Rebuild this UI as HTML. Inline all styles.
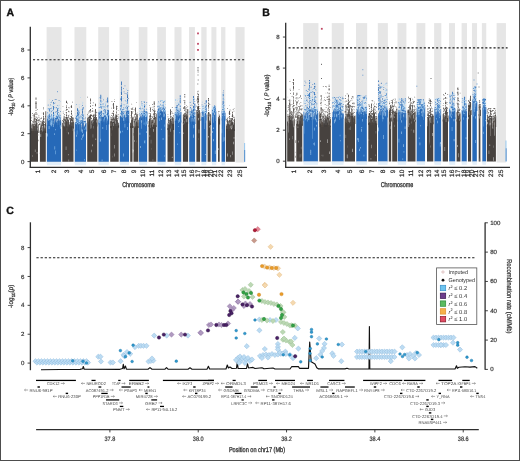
<!DOCTYPE html>
<html><head><meta charset="utf-8"><style>
html,body{margin:0;padding:0;background:#fff;}
body{width:520px;height:461px;overflow:hidden;position:relative;}
svg{display:block;will-change:transform;text-rendering:geometricPrecision;}
.frame{position:absolute;left:0;top:0;width:518px;height:459px;border:1px solid #4d4d4d;pointer-events:none;}
</style></head><body>
<svg width="520" height="461" viewBox="0 0 520 461" font-family='"Liberation Sans", sans-serif'>
<rect width="520" height="461" fill="#fff"/>
<g><rect x="46.60" y="27.10" width="14.90" height="135.40" fill="#e6e6e6"/><rect x="74.50" y="27.10" width="11.80" height="135.40" fill="#e6e6e6"/><rect x="98.20" y="27.10" width="10.90" height="135.40" fill="#e6e6e6"/><rect x="119.50" y="27.10" width="9.80" height="135.40" fill="#e6e6e6"/><rect x="138.70" y="27.10" width="8.70" height="135.40" fill="#e6e6e6"/><rect x="157.20" y="27.10" width="8.70" height="135.40" fill="#e6e6e6"/><rect x="174.50" y="27.10" width="7.00" height="135.40" fill="#e6e6e6"/><rect x="189.00" y="27.10" width="5.90" height="135.40" fill="#e6e6e6"/><rect x="201.30" y="27.10" width="5.30" height="135.40" fill="#e6e6e6"/><rect x="211.40" y="27.10" width="5.00" height="135.40" fill="#e6e6e6"/><rect x="221.10" y="27.10" width="4.30" height="135.40" fill="#e6e6e6"/><rect x="235.50" y="27.10" width="9.10" height="135.40" fill="#e6e6e6"/><path fill="#47423f" d="M31 131h7v30.8h-7zM39.9 131h5.9v30.8h-5.9zM31.4 124h0.8v9h-0.8zM31.9 128.7h0.8v4.3h-0.8zM33.3 125.7h0.8v7.3h-0.8zM34.2 125.8h0.8v7.2h-0.8zM35.1 125h0.8v8h-0.8zM35.5 125.7h0.8v7.3h-0.8zM36.4 119h0.8v14h-0.8zM37.8 124.3h0.8v8.7h-0.8zM40 127.6h0.8v5.4h-0.8zM41.4 123h0.8v10h-0.8zM41.8 121.5h0.8v11.5h-0.8zM42.7 123.4h0.8v9.6h-0.8zM44.1 127.6h0.8v5.4h-0.8zM45.4 111.2h0.8v21.8h-0.8zM35.6 118.8h0.8v1.7h-0.8zM35.6 113.6h0.8v1.4h-0.8zM35.6 111.9h0.8v1.3h-0.8zM35.6 109.9h0.8v0.9h-0.8zM35.6 104.9h0.8v2.4h-0.8zM35.6 102.1h0.8v2h-0.8zM35.6 101.2h0.8v1.6h-0.8zM35.6 97.4h0.8v2.3h-0.8zM43 120.9h0.8v1.7h-0.8zM43 118h0.8v2.5h-0.8zM43 108.4h0.8v0.8h-0.8zM62.3 126.5h11.2v35.3h-11.2zM62.3 122.9h0.8v5.6h-0.8zM63.7 115.8h0.8v12.7h-0.8zM64.1 125.9h0.8v2.6h-0.8zM65.5 119.4h0.8v9.1h-0.8zM65.9 119.5h0.8v9h-0.8zM66.8 116.9h0.8v11.6h-0.8zM68.2 119.6h0.8v8.9h-0.8zM69.1 124.5h0.8v4h-0.8zM70 118.3h0.8v10.2h-0.8zM70.9 122.3h0.8v6.2h-0.8zM71.8 118.8h0.8v9.7h-0.8zM66 115.1h0.8v1.3h-0.8zM66 109.5h0.8v0.9h-0.8zM66 108.7h0.8v1.2h-0.8zM66 102.2h0.8v0.7h-0.8zM71 112.6h0.8v1.3h-0.8zM71 110.5h0.8v1.4h-0.8zM71 107.1h0.8v0.8h-0.8zM87.2 124.5h10.1v37.3h-10.1zM87.2 118.4h0.8v8.1h-0.8zM87.7 117.9h0.8v8.6h-0.8zM92.2 123.2h0.8v3.3h-0.8zM92.6 119.6h0.8v6.9h-0.8zM93.5 114h0.8v12.5h-0.8zM94 120.7h0.8v5.8h-0.8zM94.4 117.2h0.8v9.3h-0.8zM95.8 118h0.8v8.5h-0.8zM96.7 119.4h0.8v7.1h-0.8zM90 116.1h0.8v1.8h-0.8zM90 108.9h0.8v1.4h-0.8zM90 106.2h0.8v0.8h-0.8zM90 105.5h0.8v1.4h-0.8zM95 110.4h0.8v1.3h-0.8zM95 105.1h0.8v1.2h-0.8zM95 103.7h0.8v2.5h-0.8zM110.2 126h8.5v35.8h-8.5zM111.1 120.9h0.8v7.1h-0.8zM111.6 121.8h0.8v6.2h-0.8zM112.5 115.7h0.8v12.3h-0.8zM112.9 120.3h0.8v7.7h-0.8zM113.4 121.7h0.8v6.3h-0.8zM114.3 122.5h0.8v5.5h-0.8zM115.2 117.6h0.8v10.4h-0.8zM115.6 114.1h0.8v13.9h-0.8zM118.3 124.8h0.8v3.2h-0.8zM113 118.7h0.8v1h-0.8zM113 116.9h0.8v1.9h-0.8zM113 113.8h0.8v2.4h-0.8zM113 108.4h0.8v0.7h-0.8zM113 107.1h0.8v1.6h-0.8zM113 104.7h0.8v2.2h-0.8zM116 105.7h0.8v2.1h-0.8zM130.2 126h2.3v35.8h-2.3zM133.5 126h4.8v35.8h-4.8zM131.1 119.3h0.8v8.7h-0.8zM135.6 121.6h0.8v6.4h-0.8zM136.5 113.8h0.8v14.2h-0.8zM136.9 113.9h0.8v14.1h-0.8zM135 118.8h0.8v1.5h-0.8zM135 116.8h0.8v0.8h-0.8zM135 113.2h0.8v1.5h-0.8zM135 112.5h0.8v2.2h-0.8zM135 110h0.8v2.2h-0.8zM135 107.4h0.8v1.6h-0.8zM131 117.6h0.8v0.7h-0.8zM131 114.1h0.8v2.2h-0.8zM131 112.8h0.8v2.2h-0.8zM148.6 125h7.7v36.8h-7.7zM149 118.9h0.8v8.1h-0.8zM149.5 117.9h0.8v9.1h-0.8zM150.4 117.8h0.8v9.2h-0.8zM150.8 119.7h0.8v7.3h-0.8zM153.5 118.1h0.8v8.9h-0.8zM154 110.5h0.8v16.5h-0.8zM153.8 115.3h0.8v1.6h-0.8zM153.8 102.9h0.8v0.8h-0.8zM153.8 103.1h0.8v2.1h-0.8zM150 114.6h0.8v2.1h-0.8zM150 110.2h0.8v1.6h-0.8zM167.5 128h6.2v33.8h-6.2zM168.4 124.6h0.8v5.4h-0.8zM171.1 120.6h0.8v9.4h-0.8zM171.5 120.9h0.8v9.1h-0.8zM172 117.3h0.8v12.7h-0.8zM172.4 119.2h0.8v10.8h-0.8zM172.9 117.7h0.8v12.3h-0.8zM173.3 123.6h0.8v6.4h-0.8zM170 119.1h0.8v1.2h-0.8zM170 113.2h0.8v1h-0.8zM170 110.8h0.8v2.4h-0.8zM182.9 122h5.2v39.8h-5.2zM183.3 117.2h0.8v6.8h-0.8zM183.8 114.7h0.8v9.3h-0.8zM184.2 118.4h0.8v5.6h-0.8zM187.4 109h0.8v15h-0.8zM184.4 115h0.8v2.2h-0.8zM184.4 104.4h0.8v0.7h-0.8zM184.4 96.3h0.8v1.1h-0.8zM184.4 94h0.8v1.2h-0.8zM196.4 119h3.7v42.8h-3.7zM196.4 109.9h0.8v11.1h-0.8zM196.8 112h0.8v9h-0.8zM197.7 113.2h0.8v7.8h-0.8zM198.2 108.6h0.8v12.4h-0.8zM197.4 107.9h0.8v0.8h-0.8zM197.4 98.3h0.8v2.1h-0.8zM197.4 91.5h0.8v0.8h-0.8zM198.2 109.1h0.8v2h-0.8zM198.2 106.5h0.8v2.2h-0.8zM198.2 100.6h0.8v1.9h-0.8zM198.2 93.9h0.8v1.7h-0.8zM207.6 123h3v38.8h-3zM207.6 114.4h0.8v10.6h-0.8zM208 115.5h0.8v9.5h-0.8zM208.5 112.4h0.8v12.6h-0.8zM210.3 114.7h0.8v10.3h-0.8zM208 115.1h0.8v2.3h-0.8zM208 112.1h0.8v1.5h-0.8zM208 108.7h0.8v0.6h-0.8zM208 106.4h0.8v0.6h-0.8zM208 102.5h0.8v2.1h-0.8zM208 99.8h0.8v1.4h-0.8zM218 122.5h1.7v39.3h-1.7zM218 116.9h0.8v7.6h-0.8zM218.4 118.6h0.8v5.9h-0.8zM218.9 118.8h0.8v5.7h-0.8zM219.3 116.7h0.8v7.8h-0.8zM226 129h8.8v32.8h-8.8zM226.4 124.3h0.8v6.7h-0.8zM226.9 119.6h0.8v11.4h-0.8zM228.2 122.6h0.8v8.4h-0.8zM229.1 124.5h0.8v6.5h-0.8zM229.6 119.8h0.8v11.2h-0.8zM231.4 124.3h0.8v6.7h-0.8zM233.6 122.9h0.8v8.1h-0.8zM229 120.9h0.8v0.9h-0.8zM229 112.5h0.8v2.4h-0.8zM229 110.8h0.8v1h-0.8zM232 121.1h0.8v1.6h-0.8zM232 118.1h0.8v1.7h-0.8zM232 116.3h0.8v0.8h-0.8z"/><path fill="#433f3d" d="M31 128.2h0.8v4.8h-0.8zM32.8 125.3h0.8v7.7h-0.8zM36.9 126.3h0.8v6.7h-0.8zM40.5 126h0.8v7h-0.8zM43.2 124.2h0.8v8.8h-0.8zM43.6 129.2h0.8v3.8h-0.8zM45 123.3h0.8v9.7h-0.8zM35.6 123.9h0.8v2.2h-0.8zM43 122.7h0.8v2.3h-0.8zM43 119.6h0.8v0.6h-0.8zM43 113.4h0.8v1.6h-0.8zM43 107.2h0.8v0.6h-0.8zM63.2 120.4h0.8v8.1h-0.8zM66.4 117h0.8v11.5h-0.8zM69.5 124.8h0.8v3.7h-0.8zM71.3 126.3h0.8v2.2h-0.8zM66 105.4h0.8v1h-0.8zM66 100.7h0.8v2.4h-0.8zM71 118.4h0.8v2.1h-0.8zM71 113.8h0.8v0.8h-0.8zM89 115.4h0.8v11.1h-0.8zM89.5 117.4h0.8v9.1h-0.8zM91.3 121h0.8v5.5h-0.8zM91.7 120h0.8v6.5h-0.8zM94.9 110.5h0.8v16h-0.8zM95.3 117.9h0.8v8.6h-0.8zM90 114.5h0.8v2.1h-0.8zM90 102.5h0.8v1.3h-0.8zM95 117.1h0.8v1.8h-0.8zM95 114.7h0.8v0.8h-0.8zM95 114h0.8v2.2h-0.8zM110.7 117.7h0.8v10.3h-0.8zM116.5 119.7h0.8v8.3h-0.8zM117.9 123.1h0.8v4.9h-0.8zM113 103h0.8v2h-0.8zM116 119.2h0.8v2.4h-0.8zM116 115.4h0.8v1.1h-0.8zM130.2 122.7h0.8v5.3h-0.8zM131.5 120.6h0.8v7.4h-0.8zM132.4 116.8h0.8v11.2h-0.8zM133.8 120.7h0.8v7.3h-0.8zM134.2 124h0.8v4h-0.8zM134.7 118.7h0.8v9.3h-0.8zM131 111h0.8v1.9h-0.8zM149.9 118.5h0.8v8.5h-0.8zM151.3 121.7h0.8v5.3h-0.8zM152.2 121.7h0.8v5.3h-0.8zM153.1 124.6h0.8v2.4h-0.8zM155.3 120.3h0.8v6.7h-0.8zM155.8 113.8h0.8v13.2h-0.8zM153.8 108.4h0.8v1h-0.8zM167.9 118.5h0.8v11.5h-0.8zM169.7 123h0.8v7h-0.8zM170 120.4h0.8v2.1h-0.8zM182.9 114.9h0.8v9.1h-0.8zM185.6 110.9h0.8v13.1h-0.8zM186 114.6h0.8v9.4h-0.8zM186.5 117.1h0.8v6.9h-0.8zM186.9 115.7h0.8v8.3h-0.8zM184.4 109.4h0.8v1.6h-0.8zM184.4 106.1h0.8v2h-0.8zM184.4 102h0.8v1.4h-0.8zM184.4 100.2h0.8v1.3h-0.8zM199.5 112.5h0.8v8.5h-0.8zM197.4 112h0.8v1.3h-0.8zM197.4 109.4h0.8v1.5h-0.8zM197.4 106.8h0.8v2.3h-0.8zM197.4 102.4h0.8v0.7h-0.8zM197.4 101.1h0.8v2.3h-0.8zM197.4 97.1h0.8v1.9h-0.8zM197.4 95.9h0.8v2.2h-0.8zM208 105h0.8v0.9h-0.8zM208 98h0.8v1.4h-0.8zM226 125.7h0.8v5.3h-0.8zM227.3 122.3h0.8v8.7h-0.8zM230 123.9h0.8v7.1h-0.8zM230.9 117.9h0.8v13.1h-0.8zM231.8 122.2h0.8v8.8h-0.8zM232.3 122.2h0.8v8.8h-0.8zM232.7 124.4h0.8v6.6h-0.8zM233.2 124.6h0.8v6.4h-0.8zM234.1 118.8h0.8v12.2h-0.8zM229 115.9h0.8v1h-0.8zM229 111.2h0.8v2.3h-0.8z"/><path fill="#504842" d="M32.4 125.3h0.8v7.7h-0.8zM33.7 114h0.8v19h-0.8zM40.9 124.5h0.8v8.5h-0.8zM44.5 125h0.8v8h-0.8zM35.6 116.4h0.8v1h-0.8zM43 112.2h0.8v1.7h-0.8zM65 119.3h0.8v9.2h-0.8zM67.3 121.8h0.8v6.7h-0.8zM67.7 119.6h0.8v8.9h-0.8zM72.7 117.5h0.8v11h-0.8zM66 117h0.8v1.8h-0.8zM66 112.3h0.8v1.3h-0.8zM66 107.1h0.8v1h-0.8zM71 119.5h0.8v1.3h-0.8zM71 116.1h0.8v2.3h-0.8zM71 105.3h0.8v1.7h-0.8zM88.6 120.6h0.8v5.9h-0.8zM89.9 123.2h0.8v3.3h-0.8zM90.4 116.7h0.8v9.8h-0.8zM90 114.7h0.8v2.2h-0.8zM90 111.5h0.8v1.1h-0.8zM90 100.7h0.8v0.8h-0.8zM90 98.5h0.8v2.5h-0.8zM110.2 121.3h0.8v6.7h-0.8zM117.4 121.9h0.8v6.1h-0.8zM113 112.8h0.8v1.5h-0.8zM113 110.5h0.8v1.6h-0.8zM116 117.4h0.8v1.2h-0.8zM116 112.3h0.8v1.2h-0.8zM130.6 123.5h0.8v4.5h-0.8zM132 118.5h0.8v9.5h-0.8zM137.8 119.8h0.8v8.2h-0.8zM135 108.6h0.8v2.5h-0.8zM131 116.1h0.8v1.5h-0.8zM148.6 121h0.8v6h-0.8zM151.7 119.8h0.8v7.2h-0.8zM152.6 119.7h0.8v7.3h-0.8zM154.4 121h0.8v6h-0.8zM154.9 117.2h0.8v9.8h-0.8zM153.8 118.2h0.8v0.7h-0.8zM153.8 112.7h0.8v1.5h-0.8zM153.8 106h0.8v1.2h-0.8zM153.8 101.3h0.8v2.1h-0.8zM150 107.7h0.8v2.2h-0.8zM170.6 120.9h0.8v9.1h-0.8zM170 117.3h0.8v0.9h-0.8zM184.7 114.5h0.8v9.5h-0.8zM184.4 113.1h0.8v2.4h-0.8zM197.3 114.5h0.8v6.5h-0.8zM198.6 113.7h0.8v7.3h-0.8zM199.1 110.4h0.8v10.6h-0.8zM197.4 98.8h0.8v0.8h-0.8zM197.4 93.3h0.8v1.3h-0.8zM198.2 111.5h0.8v2h-0.8zM198.2 109.5h0.8v0.7h-0.8zM198.2 103.7h0.8v1h-0.8zM198.2 99.1h0.8v1.5h-0.8zM198.2 96.2h0.8v1.3h-0.8zM208.9 120.6h0.8v4.4h-0.8zM208 104.9h0.8v2.4h-0.8zM227.8 123.9h0.8v7.1h-0.8zM228.7 124.2h0.8v6.8h-0.8zM230.5 122.9h0.8v8.1h-0.8zM229 120h0.8v0.9h-0.8zM229 117.4h0.8v1.4h-0.8zM232 119h0.8v0.8h-0.8zM232 111.8h0.8v1.7h-0.8z"/><path fill="#4a4644" d="M34.6 128.8h0.8v4.2h-0.8zM36 122.7h0.8v10.3h-0.8zM37.3 126.6h0.8v6.4h-0.8zM42.3 125.1h0.8v7.9h-0.8zM35.6 121.2h0.8v2.4h-0.8zM35.6 106.9h0.8v1.9h-0.8zM35.6 102.7h0.8v2.4h-0.8zM43 115.7h0.8v2h-0.8zM62.8 120.8h0.8v7.7h-0.8zM64.6 122.2h0.8v6.3h-0.8zM68.6 122h0.8v6.5h-0.8zM70.4 121h0.8v7.5h-0.8zM72.2 122.2h0.8v6.3h-0.8zM73.1 121.7h0.8v6.8h-0.8zM66 119.3h0.8v2.2h-0.8zM88.1 117.4h0.8v9.1h-0.8zM90.8 121.6h0.8v4.9h-0.8zM93.1 119h0.8v7.5h-0.8zM96.2 117.1h0.8v9.4h-0.8zM90 109.4h0.8v1.7h-0.8zM95 109h0.8v1.7h-0.8zM112 122.2h0.8v5.8h-0.8zM113.8 118.4h0.8v9.6h-0.8zM114.7 116.7h0.8v11.3h-0.8zM116.1 115.4h0.8v12.6h-0.8zM117 120h0.8v8h-0.8zM116 111.6h0.8v0.7h-0.8zM116 107.8h0.8v2.4h-0.8zM135.1 123.3h0.8v4.7h-0.8zM136 121.8h0.8v6.2h-0.8zM137.4 122.6h0.8v5.4h-0.8zM153.8 110.4h0.8v1.2h-0.8zM150 116.6h0.8v0.8h-0.8zM150 113.5h0.8v1h-0.8zM167.5 123.6h0.8v6.4h-0.8zM168.8 124.7h0.8v5.3h-0.8zM169.3 120h0.8v10h-0.8zM170.2 119.8h0.8v10.2h-0.8zM170 113.4h0.8v2.2h-0.8zM170 111.5h0.8v0.9h-0.8zM170 109.2h0.8v1.9h-0.8zM185.1 118.7h0.8v5.3h-0.8zM184.4 108.2h0.8v0.9h-0.8zM197.4 106.2h0.8v2.1h-0.8zM198.2 105.7h0.8v1.9h-0.8zM198.2 97.9h0.8v0.9h-0.8zM209.4 121.6h0.8v3.4h-0.8zM209.8 121.3h0.8v3.7h-0.8zM208 112.5h0.8v2.1h-0.8zM232 115.2h0.8v2h-0.8zM232 114h0.8v1.3h-0.8z"/><path fill="#2669b8" d="M46.9 125h14.1v36.8h-14.1zM49.2 120.2h0.8v6.8h-0.8zM51 115.3h0.8v11.7h-0.8zM51.4 116.9h0.8v10.1h-0.8zM54.1 123.6h0.8v3.4h-0.8zM54.6 121.4h0.8v5.6h-0.8zM55 117.7h0.8v9.3h-0.8zM55.5 121.4h0.8v5.6h-0.8zM57.7 120.7h0.8v6.3h-0.8zM59.5 116.3h0.8v10.7h-0.8zM60.4 121.4h0.8v5.6h-0.8zM53 116.7h0.8v2.3h-0.8zM53 112.6h0.8v2.1h-0.8zM53 106.9h0.8v2.3h-0.8zM53 105.9h0.8v1.1h-0.8zM53 101.9h0.8v1.9h-0.8zM57 116.6h0.8v2.3h-0.8zM57 112.3h0.8v2.4h-0.8zM57 109.9h0.8v1.9h-0.8zM57 105.5h0.8v0.6h-0.8zM49 114.9h0.8v2.2h-0.8zM49 108.6h0.8v1h-0.8zM74.8 129.5h11.2v32.3h-11.2zM75.7 124.7h0.8v6.8h-0.8zM76.2 115.5h0.8v16h-0.8zM76.6 122.6h0.8v8.9h-0.8zM77.5 119h0.8v12.5h-0.8zM78.4 110.2h0.8v21.2h-0.8zM79.8 121.7h0.8v9.8h-0.8zM80.7 124.4h0.8v7.1h-0.8zM81.1 129.3h0.8v2.2h-0.8zM82 118.7h0.8v12.8h-0.8zM83.4 127.5h0.8v4h-0.8zM83.8 126.5h0.8v5h-0.8zM84.3 126.3h0.8v5.2h-0.8zM84.7 125.1h0.8v6.4h-0.8zM85.6 123.1h0.8v8.4h-0.8zM82 122.3h0.8v0.7h-0.8zM77 114.8h0.8v2.4h-0.8zM77 109.8h0.8v1.5h-0.8zM98.5 122.5h10.3v39.3h-10.3zM99 112.2h0.8v12.3h-0.8zM99.4 113.2h0.8v11.3h-0.8zM100.8 119.2h0.8v5.3h-0.8zM101.2 110.7h0.8v13.8h-0.8zM102.6 117h0.8v7.5h-0.8zM103 117h0.8v7.5h-0.8zM103.5 115.7h0.8v8.8h-0.8zM104.4 114.7h0.8v9.8h-0.8zM105.3 118.1h0.8v6.4h-0.8zM100.4 100.4h0.8v1.2h-0.8zM100.4 94.7h0.8v2.4h-0.8zM107.3 113.8h0.8v1.9h-0.8zM107.3 106.7h0.8v0.9h-0.8zM107.3 99.2h0.8v2.5h-0.8zM107.3 97.5h0.8v2.3h-0.8zM119.8 121h9.2v40.8h-9.2zM119.8 116.3h0.8v6.7h-0.8zM120.7 117.3h0.8v5.7h-0.8zM121.6 110.4h0.8v12.6h-0.8zM122.5 114.4h0.8v8.6h-0.8zM123 119.9h0.8v3.1h-0.8zM123.9 114.7h0.8v8.3h-0.8zM124.8 117.4h0.8v5.6h-0.8zM125.2 119.7h0.8v3.3h-0.8zM125.7 114.9h0.8v8.1h-0.8zM121 113.4h0.8v1.6h-0.8zM121 107.6h0.8v0.7h-0.8zM121 104.4h0.8v1.7h-0.8zM121 102.8h0.8v0.7h-0.8zM121 100.3h0.8v1.2h-0.8zM121 98.6h0.8v2.5h-0.8zM121 91.3h0.8v2.3h-0.8zM121 82.8h0.8v2.5h-0.8zM121 81.7h0.8v1.9h-0.8zM121 81.6h0.8v1.2h-0.8zM127 114.3h0.8v0.9h-0.8zM127 102.5h0.8v0.9h-0.8zM127 100.6h0.8v2.4h-0.8zM127 98.8h0.8v1.6h-0.8zM127 96.3h0.8v1.4h-0.8zM139 122h8.1v39.8h-8.1zM139 117.5h0.8v6.5h-0.8zM140.3 116.8h0.8v7.2h-0.8zM142.6 115.4h0.8v8.6h-0.8zM143 116.1h0.8v7.9h-0.8zM143.9 110.8h0.8v13.2h-0.8zM144.4 113.3h0.8v10.7h-0.8zM145.3 113.6h0.8v10.4h-0.8zM144 111.5h0.8v2.1h-0.8zM144 109.6h0.8v2.5h-0.8zM144 106.1h0.8v1.6h-0.8zM157.5 117.5h8.1v44.3h-8.1zM157.5 111h0.8v8.5h-0.8zM158.8 110.6h0.8v8.9h-0.8zM159.3 116.2h0.8v3.3h-0.8zM165.1 113.8h0.8v5.7h-0.8zM163 109.1h0.8v2.1h-0.8zM163 106.8h0.8v0.6h-0.8zM174.8 120.5h6.4v41.3h-6.4zM177.9 116.4h0.8v6.1h-0.8zM178.4 109.8h0.8v12.7h-0.8zM179.3 115.6h0.8v6.9h-0.8zM180.2 115.5h0.8v7h-0.8zM179.8 105.5h0.8v1.6h-0.8zM179.8 105.1h0.8v1.4h-0.8zM179.8 99.6h0.8v1.9h-0.8zM179.8 95.2h0.8v2.2h-0.8zM189.2 122h5.9v39.8h-5.9zM189.2 117.5h0.8v6.5h-0.8zM192.8 113.8h0.8v10.2h-0.8zM193.2 108.5h0.8v15.5h-0.8zM193.7 113.2h0.8v10.8h-0.8zM193.2 113.7h0.8v1.8h-0.8zM193.2 98.9h0.8v1.6h-0.8zM193.2 96h0.8v2.2h-0.8zM194.5 110.1h0.8v0.7h-0.8zM194.5 108.8h0.8v2.4h-0.8zM194.5 106.1h0.8v1.4h-0.8zM194.5 105.6h0.8v2.4h-0.8zM194.5 103.5h0.8v2.4h-0.8zM201.4 118.5h4.9v43.3h-4.9zM201.8 112.3h0.8v8.2h-0.8zM202.3 114.6h0.8v5.9h-0.8zM202.7 110.5h0.8v10h-0.8zM203.2 117.3h0.8v3.2h-0.8zM204.5 114.5h0.8v6h-0.8zM205 113.1h0.8v7.4h-0.8zM205.4 112.2h0.8v8.3h-0.8zM205.9 114.7h0.8v5.8h-0.8zM205.8 111.3h0.8v1.5h-0.8zM205.8 110.1h0.8v2.2h-0.8zM205.8 108.8h0.8v2.2h-0.8zM205.8 107.6h0.8v2.2h-0.8zM205.8 105.5h0.8v1h-0.8zM205.8 100h0.8v1.6h-0.8zM211.9 118.5h4.3v43.3h-4.3zM212.3 112.4h0.8v8.1h-0.8zM214.1 114.9h0.8v5.6h-0.8zM214.6 113.4h0.8v7.1h-0.8zM215.5 111.6h0.8v8.9h-0.8zM214 111.8h0.8v1.4h-0.8zM214 110.2h0.8v2h-0.8zM214 105.6h0.8v2.5h-0.8zM221.6 118.5h3.5v43.3h-3.5zM222 113.4h0.8v7.1h-0.8zM222.9 111h0.8v9.5h-0.8zM223.4 112.7h0.8v7.8h-0.8zM223.8 110.4h0.8v10.1h-0.8zM222.8 110.7h0.8v2.5h-0.8zM222.8 108.7h0.8v1.3h-0.8zM222.8 103.1h0.8v1.2h-0.8zM222.8 100.4h0.8v2.3h-0.8z"/><path fill="#2a6dbb" d="M46.9 118.4h0.8v8.6h-0.8zM49.6 118h0.8v9h-0.8zM50.1 118.8h0.8v8.2h-0.8zM52.3 118.6h0.8v8.4h-0.8zM53.2 118.9h0.8v8.1h-0.8zM55.9 117h0.8v10h-0.8zM56.8 120.6h0.8v6.4h-0.8zM49 109.4h0.8v2h-0.8zM75.2 122.3h0.8v9.2h-0.8zM79.3 122.7h0.8v8.8h-0.8zM82.5 122.3h0.8v9.2h-0.8zM82 119.6h0.8v0.9h-0.8zM82 114h0.8v1.5h-0.8zM82 109.1h0.8v1.7h-0.8zM82 107.7h0.8v0.8h-0.8zM82 105h0.8v0.8h-0.8zM98.5 112.1h0.8v12.4h-0.8zM99.9 115.5h0.8v9h-0.8zM106.2 124.4h0.8v0.1h-0.8zM107.1 114h0.8v10.5h-0.8zM100.4 111.1h0.8v2h-0.8zM100.4 103.8h0.8v1.1h-0.8zM100.4 96.9h0.8v2.5h-0.8zM107.3 115.7h0.8v1.7h-0.8zM107.3 110.1h0.8v1.6h-0.8zM107.3 101.5h0.8v1.2h-0.8zM121.2 117.3h0.8v5.7h-0.8zM127 113.9h0.8v9.1h-0.8zM121 97.5h0.8v2.4h-0.8zM121 95.9h0.8v2.4h-0.8zM121 88.5h0.8v2.3h-0.8zM127 106.7h0.8v2h-0.8zM127 100.2h0.8v1.4h-0.8zM127 92.3h0.8v1.1h-0.8zM139.4 118.1h0.8v5.9h-0.8zM144.8 111.2h0.8v12.8h-0.8zM145.7 115.3h0.8v8.7h-0.8zM146.2 111.4h0.8v12.6h-0.8zM146.6 111.8h0.8v12.2h-0.8zM160.2 106.9h0.8v12.6h-0.8zM162.9 105.8h0.8v13.8h-0.8zM164.2 109h0.8v10.5h-0.8zM176.6 105.7h0.8v16.8h-0.8zM177 115.6h0.8v6.9h-0.8zM178.8 113.4h0.8v9.1h-0.8zM179.8 113.5h0.8v1.2h-0.8zM179.8 98.1h0.8v1.1h-0.8zM190.5 114.2h0.8v9.8h-0.8zM191.4 116h0.8v8h-0.8zM194.6 115.5h0.8v8.5h-0.8zM194.5 111.9h0.8v2.2h-0.8zM203.6 110.7h0.8v9.8h-0.8zM204.1 114.6h0.8v5.9h-0.8zM211.9 109.4h0.8v11.1h-0.8zM214 107.5h0.8v2.2h-0.8zM224.3 116h0.8v4.5h-0.8zM222.8 101.4h0.8v0.9h-0.8z"/><path fill="#3174c0" d="M47.4 118.3h0.8v8.7h-0.8zM48.3 120.6h0.8v6.4h-0.8zM50.5 118.1h0.8v8.9h-0.8zM51.9 124.7h0.8v2.3h-0.8zM57.3 121.4h0.8v5.6h-0.8zM58.6 120.4h0.8v6.6h-0.8zM59.1 120.8h0.8v6.2h-0.8zM53 114.1h0.8v2h-0.8zM57 115.8h0.8v1.6h-0.8zM57 112.4h0.8v1.2h-0.8zM57 108.1h0.8v2h-0.8zM49 117.9h0.8v1.7h-0.8zM77.1 127h0.8v4.5h-0.8zM78.9 123h0.8v8.5h-0.8zM80.2 123h0.8v8.5h-0.8zM77 120.1h0.8v1.7h-0.8zM77 118.2h0.8v1.2h-0.8zM77 114.4h0.8v1.1h-0.8zM100.3 115.6h0.8v8.9h-0.8zM103.9 120.2h0.8v4.3h-0.8zM105.7 115.4h0.8v9.1h-0.8zM106.6 116.9h0.8v7.6h-0.8zM100.4 100.3h0.8v2h-0.8zM107.3 110.4h0.8v1.5h-0.8zM107.3 100.9h0.8v1h-0.8zM123.4 116.7h0.8v6.3h-0.8zM124.3 115.1h0.8v7.9h-0.8zM127.9 119.2h0.8v3.8h-0.8zM121 110.9h0.8v2.2h-0.8zM121 92.5h0.8v2.1h-0.8zM139.9 116h0.8v8h-0.8zM141.2 119h0.8v5h-0.8zM142.1 114h0.8v10h-0.8zM143.5 112.4h0.8v11.6h-0.8zM144 115.3h0.8v2.3h-0.8zM144 104.6h0.8v1.9h-0.8zM157.9 109.3h0.8v10.2h-0.8zM158.4 115.7h0.8v3.8h-0.8zM161.1 111.2h0.8v8.3h-0.8zM163.8 114.3h0.8v5.2h-0.8zM163 103.8h0.8v1.7h-0.8zM163 101.2h0.8v1.2h-0.8zM174.8 112.6h0.8v9.9h-0.8zM179.7 115.1h0.8v7.4h-0.8zM180.6 112h0.8v10.5h-0.8zM179.8 109.5h0.8v1.7h-0.8zM179.8 107.8h0.8v2.1h-0.8zM189.6 121h0.8v3h-0.8zM191 111.2h0.8v12.8h-0.8zM194.1 115.9h0.8v8.1h-0.8zM193.2 105.9h0.8v1.8h-0.8zM193.2 99.2h0.8v2.3h-0.8zM194.5 113.7h0.8v1h-0.8zM201.4 116.8h0.8v3.7h-0.8zM212.8 112.1h0.8v8.4h-0.8zM213.2 109h0.8v11.5h-0.8zM214 108.5h0.8v2h-0.8zM222.5 113.8h0.8v6.7h-0.8zM224.7 112.8h0.8v7.7h-0.8zM222.8 97.4h0.8v2.4h-0.8zM222.8 92.6h0.8v0.7h-0.8z"/><path fill="#2464b0" d="M47.8 121.1h0.8v5.9h-0.8zM48.7 117.1h0.8v9.9h-0.8zM52.8 122.2h0.8v4.8h-0.8zM53.7 117.3h0.8v9.7h-0.8zM56.4 115.7h0.8v11.3h-0.8zM58.2 115.6h0.8v11.4h-0.8zM60 118.2h0.8v8.8h-0.8zM53 111.8h0.8v2h-0.8zM53 108.8h0.8v0.9h-0.8zM57 117.4h0.8v1.6h-0.8zM49 113.8h0.8v1.8h-0.8zM74.8 122.8h0.8v8.7h-0.8zM78 122.9h0.8v8.6h-0.8zM81.6 126.7h0.8v4.8h-0.8zM82.9 121.5h0.8v10h-0.8zM85.2 120.8h0.8v10.7h-0.8zM82 120.3h0.8v1.9h-0.8zM82 116.9h0.8v1.6h-0.8zM82 111.8h0.8v2.3h-0.8zM82 111.1h0.8v2.3h-0.8zM77 121.7h0.8v1.9h-0.8zM77 111.8h0.8v2.1h-0.8zM77 111.7h0.8v1.3h-0.8zM77 108.2h0.8v2.4h-0.8zM101.7 117h0.8v7.5h-0.8zM102.1 116.7h0.8v7.8h-0.8zM104.8 109.5h0.8v15h-0.8zM107.5 120.3h0.8v4.2h-0.8zM108 110.4h0.8v14.1h-0.8zM108.4 114.8h0.8v9.7h-0.8zM100.4 115.2h0.8v1.4h-0.8zM100.4 112.9h0.8v1.2h-0.8zM100.4 107.2h0.8v0.9h-0.8zM100.4 105.7h0.8v1.5h-0.8zM107.3 112.2h0.8v2.2h-0.8zM107.3 105.2h0.8v1.6h-0.8zM120.2 115.4h0.8v7.6h-0.8zM122.1 112.3h0.8v10.7h-0.8zM126.1 112h0.8v11h-0.8zM126.6 116.7h0.8v6.3h-0.8zM127.5 111h0.8v12h-0.8zM128.4 110.2h0.8v12.8h-0.8zM121 106h0.8v1h-0.8zM121 93.7h0.8v1.3h-0.8zM121 92.5h0.8v1.1h-0.8zM121 86.6h0.8v1.8h-0.8zM127 111.2h0.8v0.7h-0.8zM127 107.5h0.8v0.8h-0.8zM127 96.8h0.8v1.1h-0.8zM127 94.2h0.8v2.2h-0.8zM140.8 115.6h0.8v8.4h-0.8zM141.7 117.5h0.8v6.5h-0.8zM144 106.1h0.8v1.2h-0.8zM144 101.6h0.8v1.1h-0.8zM159.7 107.2h0.8v12.3h-0.8zM160.6 108.3h0.8v11.2h-0.8zM161.5 110.7h0.8v8.8h-0.8zM162 112.9h0.8v6.6h-0.8zM162.4 111.8h0.8v7.7h-0.8zM163.3 107.6h0.8v11.9h-0.8zM164.7 109.9h0.8v9.6h-0.8zM163 108.3h0.8v2.1h-0.8zM175.2 116.9h0.8v5.6h-0.8zM175.7 113.9h0.8v8.6h-0.8zM176.1 114h0.8v8.5h-0.8zM177.5 112.3h0.8v10.2h-0.8zM179.8 101h0.8v2.2h-0.8zM190.1 115.9h0.8v8.1h-0.8zM191.9 119.2h0.8v4.8h-0.8zM192.3 109.9h0.8v14.1h-0.8zM193.2 111.4h0.8v2.4h-0.8zM193.2 110.6h0.8v1.8h-0.8zM193.2 106.4h0.8v1.3h-0.8zM193.2 102.4h0.8v1.7h-0.8zM205.8 104.4h0.8v2.2h-0.8zM205.8 101.1h0.8v2.1h-0.8zM213.7 114.8h0.8v5.7h-0.8zM215 109.9h0.8v10.6h-0.8zM221.6 110.7h0.8v9.8h-0.8zM222.8 106.4h0.8v1.8h-0.8zM222.8 93.9h0.8v2.5h-0.8z"/><path fill="#ffffff" d="M33.7 115.1h0.3v3.7h-0.3zM37.3 128.1h0.3v2.4h-0.3zM37.8 124.6h0.3v3.8h-0.3zM42.3 125.9h0.3v5.7h-0.3zM66.4 118.7h0.3v2.5h-0.3zM90.8 123.2h0.3v5.6h-0.3zM112.9 121h0.3v0.7h-0.3zM115.2 118.8h0.3v5h-0.3z"/><path fill="#6e6862" d="M40.7 131.7h0.5v3.7h-0.5zM38.1 139.7h0.5v1.6h-0.5zM41.2 126.6h0.5v1.3h-0.5zM37.7 133.9h0.5v2h-0.5zM32.7 124.5h0.7v0.7h-0.7zM32.6 124.4h0.7v0.7h-0.7zM36.7 124.7h0.7v0.7h-0.7zM66.7 127.4h0.5v3.4h-0.5zM72.1 127.7h0.5v3.3h-0.5zM66.8 131.5h0.5v1.2h-0.5zM65.2 121.7h0.5v1.1h-0.5zM62.8 111.5h0.7v0.7h-0.7zM69.7 119.2h0.7v0.7h-0.7zM66.7 117.2h0.7v0.7h-0.7zM71.4 106.8h0.7v0.7h-0.7zM91.6 120.4h0.5v0.9h-0.5zM91.3 118.3h0.7v0.7h-0.7zM88.2 117.8h0.7v0.7h-0.7zM96.4 112.5h0.7v0.7h-0.7zM96.1 114.7h0.7v0.7h-0.7zM92.5 115h0.7v0.7h-0.7zM111 123h0.5v3h-0.5zM118 127.3h0.5v1.9h-0.5zM112.4 126.6h0.5v3.6h-0.5zM110.8 133.3h0.5v2.8h-0.5zM112.5 155.8h0.5v1.8h-0.5zM117.5 119.2h0.7v0.7h-0.7zM116 117.6h0.7v0.7h-0.7zM117.4 115.8h0.7v0.7h-0.7zM117.6 116.3h0.7v0.7h-0.7zM116.4 119.7h0.7v0.7h-0.7zM114 98.9h0.7v0.7h-0.7zM112.2 113.2h0.7v0.7h-0.7zM111.2 119h0.7v0.7h-0.7zM111 107.8h0.7v0.7h-0.7zM136.1 140.4h0.5v1.8h-0.5zM133.2 133.1h0.5v2.6h-0.5zM131.4 103.7h0.7v0.7h-0.7zM134.1 114.6h0.7v0.7h-0.7zM151.1 148h0.5v1.7h-0.5zM151.2 120.8h0.5v4h-0.5zM148.8 113.2h0.7v0.7h-0.7zM152.6 106.7h0.7v0.7h-0.7zM149.7 118.9h0.7v0.7h-0.7zM149.8 113h0.7v0.7h-0.7zM150.1 115h0.7v0.7h-0.7zM152 117.3h0.7v0.7h-0.7zM149.8 107.3h0.7v0.7h-0.7zM171.6 125.8h0.5v3.3h-0.5zM168.7 135.3h0.5v1.3h-0.5zM173.1 132.4h0.5v2.1h-0.5zM185.7 119h0.5v2.2h-0.5zM187.3 109.8h0.7v0.7h-0.7zM183.5 100.1h0.7v0.7h-0.7zM184.1 112.9h0.7v0.7h-0.7zM186.6 111.7h0.7v0.7h-0.7zM199.3 110.1h0.7v0.7h-0.7zM198.4 109.4h0.7v0.7h-0.7zM208.2 116.3h0.7v0.7h-0.7zM218.6 114.5h0.7v0.7h-0.7zM230.5 110.6h0.7v0.7h-0.7zM229.1 122.2h0.7v0.7h-0.7zM231.4 121.8h0.7v0.7h-0.7zM227.6 121.6h0.7v0.7h-0.7zM227.3 121.5h0.7v0.7h-0.7zM229.6 118.3h0.7v0.7h-0.7z"/><path fill="#b8b8b8" d="M42.5 126.1h0.5v1.5h-0.5zM39.2 152.8h0.5v0.9h-0.5zM36.8 152h0.5v1.7h-0.5zM44.7 126.1h0.5v2.3h-0.5zM41.2 128.8h0.5v0.9h-0.5zM34.9 149.6h0.5v2.5h-0.5zM42.1 123.9h0.7v0.7h-0.7zM40 118h0.7v0.7h-0.7zM41.7 112.8h0.7v0.7h-0.7zM63.2 122.2h0.5v3.3h-0.5zM68.6 159.4h0.5v2.4h-0.5zM68.3 154.1h0.5v1.1h-0.5zM65.8 146.5h0.5v3.6h-0.5zM63.3 112.8h0.7v0.7h-0.7zM96.2 120.3h0.5v2.3h-0.5zM91.2 149.7h0.5v2.6h-0.5zM89.2 117.9h0.7v0.7h-0.7zM95.9 118h0.7v0.7h-0.7zM88.9 117.9h0.7v0.7h-0.7zM94.2 118.4h0.7v0.7h-0.7zM94.2 117.8h0.7v0.7h-0.7zM114.1 153.5h0.5v3.1h-0.5zM113.2 123h0.5v3h-0.5zM114.3 144.9h0.5v3.5h-0.5zM113.8 119.1h0.7v0.7h-0.7zM111.1 113.2h0.7v0.7h-0.7zM114.6 118.1h0.7v0.7h-0.7zM114.1 117.1h0.7v0.7h-0.7zM116.5 117.8h0.7v0.7h-0.7zM112.1 115.7h0.7v0.7h-0.7zM117.7 114.9h0.7v0.7h-0.7zM114 107.6h0.7v0.7h-0.7zM132.9 121.5h0.5v3.7h-0.5zM132.9 109.3h0.7v0.7h-0.7zM136.8 112h0.7v0.7h-0.7zM134.4 115.5h0.7v0.7h-0.7zM137.6 114.2h0.7v0.7h-0.7zM133.7 116.8h0.7v0.7h-0.7zM155.7 113.6h0.7v0.7h-0.7zM154.6 118.9h0.7v0.7h-0.7zM170.3 128.6h0.5v3.1h-0.5zM168.2 122.7h0.5v1.5h-0.5zM173 113.2h0.7v0.7h-0.7zM171.4 121.6h0.7v0.7h-0.7zM170.6 111.2h0.7v0.7h-0.7zM171.9 117.9h0.7v0.7h-0.7zM171.6 116.6h0.7v0.7h-0.7zM171 120.4h0.7v0.7h-0.7zM183.3 132.5h0.5v1.6h-0.5zM186.5 118.9h0.5v3.4h-0.5zM185.3 112.9h0.7v0.7h-0.7zM187 114.5h0.7v0.7h-0.7zM198.7 129.4h0.5v3.9h-0.5zM198 112.4h0.7v0.7h-0.7zM197.9 110.6h0.7v0.7h-0.7zM198.4 104.5h0.7v0.7h-0.7zM197.3 97h0.7v0.7h-0.7zM210.1 133.5h0.5v2.3h-0.5zM209.2 126.1h0.5v1.3h-0.5zM209.1 115.2h0.7v0.7h-0.7zM207.9 115.5h0.7v0.7h-0.7zM208.3 114h0.7v0.7h-0.7zM218.3 113.2h0.7v0.7h-0.7zM232.2 151.6h0.5v3.1h-0.5zM230 155.1h0.5v2.2h-0.5zM231.5 128.1h0.5v1.3h-0.5zM231.1 125.5h0.5v3.6h-0.5zM227.6 122.9h0.7v0.7h-0.7zM229.1 105.3h0.7v0.7h-0.7zM228.1 112.7h0.7v0.7h-0.7zM233.1 119.3h0.7v0.7h-0.7zM228.9 122.7h0.7v0.7h-0.7z"/><path fill="#8a8a8a" d="M39.3 130.6h0.5v2.4h-0.5zM37.6 119.7h0.7v0.7h-0.7zM38.1 120.4h0.7v0.7h-0.7zM43.9 121.7h0.7v0.7h-0.7zM36.8 123.9h0.7v0.7h-0.7zM34.6 118h0.7v0.7h-0.7zM38.1 119.7h0.7v0.7h-0.7zM39.9 125h0.7v0.7h-0.7zM35.8 121.6h0.7v0.7h-0.7zM63.8 121.5h0.5v2.8h-0.5zM68.1 117.9h0.7v0.7h-0.7zM66.5 119.2h0.7v0.7h-0.7zM62.9 113.3h0.7v0.7h-0.7zM68.8 114.8h0.7v0.7h-0.7zM67.1 117.2h0.7v0.7h-0.7zM72.3 115.1h0.7v0.7h-0.7zM65.6 110.2h0.7v0.7h-0.7zM63.8 117.8h0.7v0.7h-0.7zM66.7 119.7h0.7v0.7h-0.7zM66.5 109.1h0.7v0.7h-0.7zM93.2 126h0.5v2.4h-0.5zM93.3 120.5h0.5v1.4h-0.5zM91.4 124.9h0.5v2.8h-0.5zM88.4 119h0.5v2.6h-0.5zM92.7 134.2h0.5v3.2h-0.5zM87.6 115.1h0.7v0.7h-0.7zM95.5 111h0.7v0.7h-0.7zM93.5 118h0.7v0.7h-0.7zM88.9 111.7h0.7v0.7h-0.7zM113 117.1h0.7v0.7h-0.7zM112.9 118.1h0.7v0.7h-0.7zM116.9 108.4h0.7v0.7h-0.7zM113 118.3h0.7v0.7h-0.7zM112.5 104.6h0.7v0.7h-0.7zM114.7 120h0.7v0.7h-0.7zM132.9 120.3h0.5v2h-0.5zM135.3 116.8h0.7v0.7h-0.7zM135 112.8h0.7v0.7h-0.7zM132.5 107.3h0.7v0.7h-0.7zM135.1 110.6h0.7v0.7h-0.7zM130.3 117.5h0.7v0.7h-0.7zM131.7 119.4h0.7v0.7h-0.7zM150.8 139.8h0.5v3.8h-0.5zM152.7 159.2h0.5v2h-0.5zM154.4 112.8h0.7v0.7h-0.7zM155.5 117.8h0.7v0.7h-0.7zM149 115.4h0.7v0.7h-0.7zM149.1 117.3h0.7v0.7h-0.7zM154.5 115.2h0.7v0.7h-0.7zM150.1 117.3h0.7v0.7h-0.7zM154.4 109.7h0.7v0.7h-0.7zM169 121.1h0.7v0.7h-0.7zM172.8 118.1h0.7v0.7h-0.7zM170 109.4h0.7v0.7h-0.7zM184.4 120.7h0.5v2.8h-0.5zM183 123.1h0.5v1.6h-0.5zM184.3 107.6h0.7v0.7h-0.7zM198 138.4h0.5v1.1h-0.5zM209.6 104h0.7v0.7h-0.7zM229.8 123.1h0.5v1.8h-0.5zM227.4 122.3h0.7v0.7h-0.7zM226.3 119.3h0.7v0.7h-0.7zM231.1 122.1h0.7v0.7h-0.7zM228.6 121.5h0.7v0.7h-0.7z"/><path fill="#d8d8d8" d="M40.6 134.2h0.5v2.8h-0.5zM32.1 155.5h0.5v0.9h-0.5zM42.4 125.6h0.5v1.1h-0.5zM31.5 124.2h0.7v0.7h-0.7zM31.2 123.5h0.7v0.7h-0.7zM36.8 119.2h0.7v0.7h-0.7zM41.4 123.6h0.7v0.7h-0.7zM37.1 122.7h0.7v0.7h-0.7zM64 120.6h0.5v1.2h-0.5zM68.4 132.2h0.5v2.1h-0.5zM66.6 103.5h0.7v0.7h-0.7zM62.9 120h0.7v0.7h-0.7zM63.5 110.4h0.7v0.7h-0.7zM68 111.4h0.7v0.7h-0.7zM64.4 118.4h0.7v0.7h-0.7zM68.4 119h0.7v0.7h-0.7zM69.5 117h0.7v0.7h-0.7zM67.4 118.9h0.7v0.7h-0.7zM63.4 116.3h0.7v0.7h-0.7zM66.9 114.8h0.7v0.7h-0.7zM70.6 118.5h0.7v0.7h-0.7zM95.6 138.6h0.5v1.4h-0.5zM92 144.4h0.5v1.8h-0.5zM88.3 117.7h0.7v0.7h-0.7zM93.2 113.8h0.7v0.7h-0.7zM95.8 118h0.7v0.7h-0.7zM95.7 117h0.7v0.7h-0.7zM94.5 114.9h0.7v0.7h-0.7zM113.7 117.6h0.7v0.7h-0.7zM133.4 150h0.5v1.5h-0.5zM132.7 149.1h0.5v3.7h-0.5zM134 140.2h0.5v1.6h-0.5zM134.7 122.4h0.5v4h-0.5zM136.7 113.4h0.7v0.7h-0.7zM132.7 115.9h0.7v0.7h-0.7zM136.3 119h0.7v0.7h-0.7zM154.4 120h0.5v2.8h-0.5zM153.3 128.9h0.5v2.9h-0.5zM149.6 135.5h0.5v1h-0.5zM148.9 109.4h0.7v0.7h-0.7zM152.3 108.7h0.7v0.7h-0.7zM151 107.1h0.7v0.7h-0.7zM149.1 117.4h0.7v0.7h-0.7zM153.5 109.9h0.7v0.7h-0.7zM171.9 156.7h0.5v1.2h-0.5zM167.6 111.4h0.7v0.7h-0.7zM168.5 119.4h0.7v0.7h-0.7zM172.7 109.6h0.7v0.7h-0.7zM183 107.6h0.7v0.7h-0.7zM183.9 115.2h0.7v0.7h-0.7zM183 113.5h0.7v0.7h-0.7zM184.1 111.7h0.7v0.7h-0.7zM198.3 118.1h0.5v2.2h-0.5zM198.2 112.6h0.7v0.7h-0.7zM208.4 136.1h0.5v1.4h-0.5zM218.4 148.2h0.5v1.7h-0.5zM233.3 141.8h0.5v2.5h-0.5zM233.8 137.1h0.5v1.7h-0.5zM227.5 153.6h0.5v2.8h-0.5zM232.1 121.2h0.7v0.7h-0.7zM233.8 117.4h0.7v0.7h-0.7z"/><path fill="#47423f" d="M36.6 117.2h0.7v0.7h-0.7zM38.6 117.2h0.7v0.7h-0.7zM37 123.4h0.7v0.7h-0.7zM42.5 124.7h0.7v0.7h-0.7zM44.4 121.6h0.7v0.7h-0.7zM34.9 121.6h0.7v0.7h-0.7zM38.5 124.4h0.7v0.7h-0.7zM44.1 124.3h0.7v0.7h-0.7zM35.6 122.8h0.7v0.7h-0.7zM33.3 123.9h0.7v0.7h-0.7zM38.5 115.5h0.7v0.7h-0.7zM34.3 118.2h0.7v0.7h-0.7zM35.5 123.1h0.7v0.7h-0.7zM42.8 122.3h0.7v0.7h-0.7zM33.8 120.1h0.7v0.7h-0.7zM33.9 115.8h0.7v0.7h-0.7zM39.2 124.3h0.7v0.7h-0.7zM36 123.8h0.7v0.7h-0.7zM42.4 123.5h0.7v0.7h-0.7zM32.1 121.4h0.7v0.7h-0.7zM41 117.8h0.7v0.7h-0.7zM43 124.5h0.7v0.7h-0.7zM44.2 124.1h0.7v0.7h-0.7zM31.4 117.6h0.7v0.7h-0.7zM44.3 118.6h0.7v0.7h-0.7zM32.7 115.1h0.7v0.7h-0.7zM39.7 118.5h0.7v0.7h-0.7zM39.9 124.5h0.7v0.7h-0.7zM40 122.7h0.7v0.7h-0.7zM42.4 122h0.7v0.7h-0.7zM37.3 118.1h0.7v0.7h-0.7zM35.1 117.9h0.7v0.7h-0.7zM42.6 121.9h0.7v0.7h-0.7zM32.1 123.8h0.7v0.7h-0.7zM66.4 115.3h0.7v0.7h-0.7zM69.9 120.3h0.7v0.7h-0.7zM71.2 119.3h0.7v0.7h-0.7zM66.6 118.8h0.7v0.7h-0.7zM68.2 107.4h0.7v0.7h-0.7zM71 117.2h0.7v0.7h-0.7zM64.1 120.1h0.7v0.7h-0.7zM66.3 117.5h0.7v0.7h-0.7zM67 109.1h0.7v0.7h-0.7zM72.4 118.3h0.7v0.7h-0.7zM69.6 118h0.7v0.7h-0.7zM63.9 114.4h0.7v0.7h-0.7zM68.3 116.5h0.7v0.7h-0.7zM71.4 113.8h0.7v0.7h-0.7zM68.7 111.6h0.7v0.7h-0.7zM71.4 115.8h0.7v0.7h-0.7zM64.8 117.5h0.7v0.7h-0.7zM68.8 107.5h0.7v0.7h-0.7zM62.6 106.4h0.7v0.7h-0.7zM72.3 101.8h0.7v0.7h-0.7zM72.2 120h0.7v0.7h-0.7zM63.5 118.7h0.7v0.7h-0.7zM67.1 119.2h0.7v0.7h-0.7zM64.4 119.3h0.7v0.7h-0.7zM91.7 111h0.7v0.7h-0.7zM92.6 110.7h0.7v0.7h-0.7zM94.8 118.5h0.7v0.7h-0.7zM94.4 117.5h0.7v0.7h-0.7zM93.6 117.2h0.7v0.7h-0.7zM90.2 116.2h0.7v0.7h-0.7zM89 110h0.7v0.7h-0.7zM92.9 102.5h0.7v0.7h-0.7zM95.3 116.5h0.7v0.7h-0.7zM92.3 116.2h0.7v0.7h-0.7zM93.1 118.5h0.7v0.7h-0.7zM88.3 118.4h0.7v0.7h-0.7zM92 110.6h0.7v0.7h-0.7zM95.1 114.9h0.7v0.7h-0.7zM93.4 117.8h0.7v0.7h-0.7zM113.9 119.4h0.7v0.7h-0.7zM117.1 118.1h0.7v0.7h-0.7zM117.8 114h0.7v0.7h-0.7zM112.4 119.6h0.7v0.7h-0.7zM111.1 119.8h0.7v0.7h-0.7zM115.7 118.8h0.7v0.7h-0.7zM116.8 106.2h0.7v0.7h-0.7zM110.4 116.8h0.7v0.7h-0.7zM111 115.2h0.7v0.7h-0.7zM116.4 115h0.7v0.7h-0.7zM111.1 119.5h0.7v0.7h-0.7zM110.3 116.7h0.7v0.7h-0.7zM111.3 117.4h0.7v0.7h-0.7zM135 118.4h0.7v0.7h-0.7zM131.2 113.9h0.7v0.7h-0.7zM131.2 113.4h0.7v0.7h-0.7zM132.5 118.2h0.7v0.7h-0.7zM132.3 108.3h0.7v0.7h-0.7zM135.7 116.7h0.7v0.7h-0.7zM132.6 111.4h0.7v0.7h-0.7zM130.9 111.1h0.7v0.7h-0.7zM131.3 117.7h0.7v0.7h-0.7zM136.7 116.4h0.7v0.7h-0.7zM136.3 116.2h0.7v0.7h-0.7zM153.5 118.1h0.7v0.7h-0.7zM154.8 117.6h0.7v0.7h-0.7zM152.5 116.1h0.7v0.7h-0.7zM150.5 118.3h0.7v0.7h-0.7zM155.2 117.2h0.7v0.7h-0.7zM150.3 114.8h0.7v0.7h-0.7zM154.1 118.1h0.7v0.7h-0.7zM150.3 118.8h0.7v0.7h-0.7zM154.4 117.9h0.7v0.7h-0.7zM170.7 117.7h0.7v0.7h-0.7zM171.8 117.2h0.7v0.7h-0.7zM168.3 119.8h0.7v0.7h-0.7zM167.6 116.5h0.7v0.7h-0.7zM171.3 116.4h0.7v0.7h-0.7zM168.8 120.4h0.7v0.7h-0.7zM171.9 107.1h0.7v0.7h-0.7zM171.7 119.6h0.7v0.7h-0.7zM168.8 118.2h0.7v0.7h-0.7zM168.2 118.8h0.7v0.7h-0.7zM183.7 114.7h0.7v0.7h-0.7zM187.5 111.8h0.7v0.7h-0.7zM186 109.6h0.7v0.7h-0.7zM185.3 115.5h0.7v0.7h-0.7zM187.4 109.8h0.7v0.7h-0.7zM183.5 108h0.7v0.7h-0.7zM184.6 115.7h0.7v0.7h-0.7zM186.1 105.4h0.7v0.7h-0.7zM186.9 111.8h0.7v0.7h-0.7zM185.4 115.7h0.7v0.7h-0.7zM199.5 108h0.7v0.7h-0.7zM197.8 111.9h0.7v0.7h-0.7zM197 110.6h0.7v0.7h-0.7zM197.4 110.9h0.7v0.7h-0.7zM198.6 111.1h0.7v0.7h-0.7zM197 111.9h0.7v0.7h-0.7zM198 107.2h0.7v0.7h-0.7zM198.4 106.9h0.7v0.7h-0.7zM196.6 99.7h0.7v0.7h-0.7zM208 114h0.7v0.7h-0.7zM207.7 113.5h0.7v0.7h-0.7zM209.8 114.3h0.7v0.7h-0.7zM208 110.2h0.7v0.7h-0.7zM207.9 114h0.7v0.7h-0.7zM218.9 114.8h0.7v0.7h-0.7zM227.9 122.4h0.7v0.7h-0.7zM230.5 118.3h0.7v0.7h-0.7zM231.8 115.4h0.7v0.7h-0.7zM231.3 122.6h0.7v0.7h-0.7zM232.7 122.3h0.7v0.7h-0.7zM230.2 121.6h0.7v0.7h-0.7zM226.1 119.5h0.7v0.7h-0.7zM228.9 121.8h0.7v0.7h-0.7zM228 120.7h0.7v0.7h-0.7zM232.6 115.6h0.7v0.7h-0.7zM230.6 122.7h0.7v0.7h-0.7zM233 120h0.7v0.7h-0.7zM231.2 120.3h0.7v0.7h-0.7zM227.3 122.2h0.7v0.7h-0.7zM231.5 120.6h0.7v0.7h-0.7zM231.3 121.6h0.7v0.7h-0.7zM230.5 120.2h0.7v0.7h-0.7zM228.9 121.9h0.7v0.7h-0.7z"/><path fill="#433f3d" d="M36.8 113.8h0.7v0.7h-0.7zM37.4 120.1h0.7v0.7h-0.7zM38.6 119.2h0.7v0.7h-0.7zM33.1 121.4h0.7v0.7h-0.7zM34.5 121.6h0.7v0.7h-0.7zM34.6 123.9h0.7v0.7h-0.7zM32.9 124.5h0.7v0.7h-0.7zM45.2 116.1h0.7v0.7h-0.7zM35.6 124.6h0.7v0.7h-0.7zM40.9 117.7h0.7v0.7h-0.7zM38.8 119.5h0.7v0.7h-0.7zM43.2 121.1h0.7v0.7h-0.7zM32 113.2h0.7v0.7h-0.7zM39.6 124.4h0.7v0.7h-0.7zM32.8 122.1h0.7v0.7h-0.7zM32.1 124.6h0.7v0.7h-0.7zM67.3 120.3h0.7v0.7h-0.7zM64.4 114.4h0.7v0.7h-0.7zM66.3 112.4h0.7v0.7h-0.7zM62.3 120.1h0.7v0.7h-0.7zM87.2 96.7h0.7v0.7h-0.7zM93.2 115.3h0.7v0.7h-0.7zM92.5 105.3h0.7v0.7h-0.7zM87.5 116.7h0.7v0.7h-0.7zM91 118.1h0.7v0.7h-0.7zM95.8 118.2h0.7v0.7h-0.7zM95 115.7h0.7v0.7h-0.7zM89.6 117.6h0.7v0.7h-0.7zM89.4 117.1h0.7v0.7h-0.7zM115.5 118.6h0.7v0.7h-0.7zM112.2 112.7h0.7v0.7h-0.7zM114.2 101.2h0.7v0.7h-0.7zM111.6 101h0.7v0.7h-0.7zM116.2 116.2h0.7v0.7h-0.7zM113.2 118h0.7v0.7h-0.7zM117.9 117.6h0.7v0.7h-0.7zM114.9 115.6h0.7v0.7h-0.7zM114.8 116.6h0.7v0.7h-0.7zM115.8 119.7h0.7v0.7h-0.7zM136 116.6h0.7v0.7h-0.7zM135.9 118.5h0.7v0.7h-0.7zM136.2 115.3h0.7v0.7h-0.7zM135.9 119.2h0.7v0.7h-0.7zM131.8 111.8h0.7v0.7h-0.7zM135.6 114.3h0.7v0.7h-0.7zM131.8 119.9h0.7v0.7h-0.7zM130.6 114.9h0.7v0.7h-0.7zM152.6 118.8h0.7v0.7h-0.7zM154.3 116h0.7v0.7h-0.7zM150.5 117.9h0.7v0.7h-0.7zM153.1 114.4h0.7v0.7h-0.7zM149.1 115.8h0.7v0.7h-0.7zM149.5 116.5h0.7v0.7h-0.7zM154.9 119h0.7v0.7h-0.7zM150.2 115.8h0.7v0.7h-0.7zM151.1 116.4h0.7v0.7h-0.7zM152.2 104.3h0.7v0.7h-0.7zM152.8 110.6h0.7v0.7h-0.7zM155.5 118.3h0.7v0.7h-0.7zM171.7 121.1h0.7v0.7h-0.7zM171.1 119.2h0.7v0.7h-0.7zM169.9 119.3h0.7v0.7h-0.7zM172.6 121.8h0.7v0.7h-0.7zM173.1 121.7h0.7v0.7h-0.7zM169.9 121.6h0.7v0.7h-0.7zM170.5 120.6h0.7v0.7h-0.7zM170.1 116.2h0.7v0.7h-0.7zM170 119.6h0.7v0.7h-0.7zM185.2 113.3h0.7v0.7h-0.7zM186.2 107.5h0.7v0.7h-0.7zM185.2 109.5h0.7v0.7h-0.7zM184.1 114.8h0.7v0.7h-0.7zM198.2 109.3h0.7v0.7h-0.7zM197.8 90.8h0.7v0.7h-0.7zM196.7 111.8h0.7v0.7h-0.7zM197.3 109.5h0.7v0.7h-0.7zM208.4 107.2h0.7v0.7h-0.7zM207.9 115.6h0.7v0.7h-0.7zM219.1 116h0.7v0.7h-0.7zM231.7 116.3h0.7v0.7h-0.7zM227.2 121h0.7v0.7h-0.7zM226.9 118.6h0.7v0.7h-0.7zM232.8 109h0.7v0.7h-0.7zM229.6 113.6h0.7v0.7h-0.7zM233.9 117.5h0.7v0.7h-0.7zM232.8 122.9h0.7v0.7h-0.7zM229.7 119.3h0.7v0.7h-0.7z"/><path fill="#4a4644" d="M38.8 119.7h0.7v0.7h-0.7zM34 113.5h0.7v0.7h-0.7zM36.9 109.3h0.7v0.7h-0.7zM33.9 119.3h0.7v0.7h-0.7zM43 124h0.7v0.7h-0.7zM39.1 123.9h0.7v0.7h-0.7zM33.9 124h0.7v0.7h-0.7zM31.7 123.4h0.7v0.7h-0.7zM35.4 121.2h0.7v0.7h-0.7zM39 123.3h0.7v0.7h-0.7zM41.6 124.7h0.7v0.7h-0.7zM39.5 119.9h0.7v0.7h-0.7zM42 121.2h0.7v0.7h-0.7zM42.1 120.1h0.7v0.7h-0.7zM36.2 119.7h0.7v0.7h-0.7zM40.9 121.6h0.7v0.7h-0.7zM35 124.2h0.7v0.7h-0.7zM67.8 116.8h0.7v0.7h-0.7zM72.5 118.2h0.7v0.7h-0.7zM65.6 117.1h0.7v0.7h-0.7zM70.9 106.1h0.7v0.7h-0.7zM65.7 111.9h0.7v0.7h-0.7zM68.1 110.8h0.7v0.7h-0.7zM67 102.8h0.7v0.7h-0.7zM70.4 116.1h0.7v0.7h-0.7zM69.6 118.2h0.7v0.7h-0.7zM64.9 120.4h0.7v0.7h-0.7zM69.4 118.8h0.7v0.7h-0.7zM68 115.1h0.7v0.7h-0.7zM72.3 117h0.7v0.7h-0.7zM63.7 118.7h0.7v0.7h-0.7zM70.7 106.5h0.7v0.7h-0.7zM71.1 117.9h0.7v0.7h-0.7zM68.5 116.8h0.7v0.7h-0.7zM95 111.7h0.7v0.7h-0.7zM91.4 115.4h0.7v0.7h-0.7zM94.7 115h0.7v0.7h-0.7zM87.8 112.7h0.7v0.7h-0.7zM89 116.6h0.7v0.7h-0.7zM94.7 117h0.7v0.7h-0.7zM87.9 117.1h0.7v0.7h-0.7zM91.4 115h0.7v0.7h-0.7zM90.4 115.1h0.7v0.7h-0.7zM93.4 118h0.7v0.7h-0.7zM87.3 114.2h0.7v0.7h-0.7zM88.6 111.5h0.7v0.7h-0.7zM96.1 117.8h0.7v0.7h-0.7zM93 116.3h0.7v0.7h-0.7zM96.4 112.2h0.7v0.7h-0.7zM112.3 119.6h0.7v0.7h-0.7zM117.6 118.4h0.7v0.7h-0.7zM117.8 110.4h0.7v0.7h-0.7zM112 119.2h0.7v0.7h-0.7zM116.5 116.2h0.7v0.7h-0.7zM115.3 119.9h0.7v0.7h-0.7zM113 119.2h0.7v0.7h-0.7zM133.9 119.9h0.7v0.7h-0.7zM130.9 108.2h0.7v0.7h-0.7zM134 119.4h0.7v0.7h-0.7zM135.6 120h0.7v0.7h-0.7zM135.1 117.9h0.7v0.7h-0.7zM133.5 119.3h0.7v0.7h-0.7zM135.7 117.4h0.7v0.7h-0.7zM136.2 116.4h0.7v0.7h-0.7zM136.1 102.4h0.7v0.7h-0.7zM131.7 118.5h0.7v0.7h-0.7zM149.1 104.9h0.7v0.7h-0.7zM152.3 109.1h0.7v0.7h-0.7zM153.3 110.1h0.7v0.7h-0.7zM155.2 110.8h0.7v0.7h-0.7zM152.6 117.2h0.7v0.7h-0.7zM149.8 116.6h0.7v0.7h-0.7zM167.6 114.4h0.7v0.7h-0.7zM170.2 115.9h0.7v0.7h-0.7zM172.1 118.4h0.7v0.7h-0.7zM183.4 107.2h0.7v0.7h-0.7zM186.8 114.6h0.7v0.7h-0.7zM183.3 107.9h0.7v0.7h-0.7zM184.8 108.3h0.7v0.7h-0.7zM196.5 105.8h0.7v0.7h-0.7zM199 109.9h0.7v0.7h-0.7zM209 103.7h0.7v0.7h-0.7zM208.6 115.6h0.7v0.7h-0.7zM210 115.6h0.7v0.7h-0.7zM209.1 115.5h0.7v0.7h-0.7zM218.8 116.4h0.7v0.7h-0.7zM218.7 115.7h0.7v0.7h-0.7zM218.4 111.6h0.7v0.7h-0.7zM218.6 111.4h0.7v0.7h-0.7zM233.6 110.7h0.7v0.7h-0.7zM233.2 117.4h0.7v0.7h-0.7zM233.8 121.3h0.7v0.7h-0.7zM230.3 121h0.7v0.7h-0.7zM226.4 120.7h0.7v0.7h-0.7zM227.3 120.1h0.7v0.7h-0.7zM228.4 120.9h0.7v0.7h-0.7zM229.7 109.4h0.7v0.7h-0.7zM233.8 107.9h0.7v0.7h-0.7z"/><path fill="#504842" d="M35.9 124.6h0.7v0.7h-0.7zM41.8 122.1h0.7v0.7h-0.7zM40.1 121.3h0.7v0.7h-0.7zM34.6 119.4h0.7v0.7h-0.7zM34 115.5h0.7v0.7h-0.7zM38.3 122.4h0.7v0.7h-0.7zM38.1 120.6h0.7v0.7h-0.7zM31.3 120h0.7v0.7h-0.7zM32.6 121.5h0.7v0.7h-0.7zM32.5 124.8h0.7v0.7h-0.7zM41.9 123h0.7v0.7h-0.7zM42.6 122.4h0.7v0.7h-0.7zM37.7 124.9h0.7v0.7h-0.7zM35.8 119.6h0.7v0.7h-0.7zM38.8 121.5h0.7v0.7h-0.7zM44.4 122.3h0.7v0.7h-0.7zM36.2 124.4h0.7v0.7h-0.7zM69.8 118h0.7v0.7h-0.7zM68.4 111.3h0.7v0.7h-0.7zM66.3 114.2h0.7v0.7h-0.7zM63 119.5h0.7v0.7h-0.7zM72.3 119.7h0.7v0.7h-0.7zM65.5 117.7h0.7v0.7h-0.7zM71.7 120.1h0.7v0.7h-0.7zM92.1 108.2h0.7v0.7h-0.7zM95.8 117.3h0.7v0.7h-0.7zM88.9 111.4h0.7v0.7h-0.7zM88.4 116.7h0.7v0.7h-0.7zM93.7 117.4h0.7v0.7h-0.7zM91.1 114.5h0.7v0.7h-0.7zM87.4 118h0.7v0.7h-0.7zM93.6 115.4h0.7v0.7h-0.7zM95.1 109.7h0.7v0.7h-0.7zM91.1 115.4h0.7v0.7h-0.7zM91.1 115.3h0.7v0.7h-0.7zM90.2 118.4h0.7v0.7h-0.7zM115.2 119.6h0.7v0.7h-0.7zM116.3 118.2h0.7v0.7h-0.7zM113.9 119.1h0.7v0.7h-0.7zM113.5 117.8h0.7v0.7h-0.7zM110.8 119.3h0.7v0.7h-0.7zM134.4 114.6h0.7v0.7h-0.7zM134.3 116.5h0.7v0.7h-0.7zM136.5 117.9h0.7v0.7h-0.7zM132.1 109.1h0.7v0.7h-0.7zM134.5 109.6h0.7v0.7h-0.7zM133.3 117.4h0.7v0.7h-0.7zM135.6 113.1h0.7v0.7h-0.7zM136.6 118h0.7v0.7h-0.7zM131.2 109.2h0.7v0.7h-0.7zM133.4 118.5h0.7v0.7h-0.7zM132.1 112.7h0.7v0.7h-0.7zM154.9 113.2h0.7v0.7h-0.7zM153.3 113.5h0.7v0.7h-0.7zM152.9 114.5h0.7v0.7h-0.7zM150.1 117.9h0.7v0.7h-0.7zM150.8 118.4h0.7v0.7h-0.7zM173 116.6h0.7v0.7h-0.7zM171.8 120.4h0.7v0.7h-0.7zM171.4 111.2h0.7v0.7h-0.7zM170.1 121.3h0.7v0.7h-0.7zM171.7 112.6h0.7v0.7h-0.7zM172.9 115.2h0.7v0.7h-0.7zM170.8 118h0.7v0.7h-0.7zM171.8 113.1h0.7v0.7h-0.7zM168.3 122h0.7v0.7h-0.7zM183.3 114.6h0.7v0.7h-0.7zM187.4 106.6h0.7v0.7h-0.7zM186.9 113.5h0.7v0.7h-0.7zM184.5 106.8h0.7v0.7h-0.7zM185.8 114.3h0.7v0.7h-0.7zM187.2 115.5h0.7v0.7h-0.7zM183 114.6h0.7v0.7h-0.7zM198.9 112.3h0.7v0.7h-0.7zM199.4 106.4h0.7v0.7h-0.7zM197.8 103.9h0.7v0.7h-0.7zM209.9 113.9h0.7v0.7h-0.7zM208 107.9h0.7v0.7h-0.7zM208.3 113h0.7v0.7h-0.7zM209.4 114.6h0.7v0.7h-0.7zM208.8 112.7h0.7v0.7h-0.7zM219 116.2h0.7v0.7h-0.7zM218.6 111.3h0.7v0.7h-0.7zM219.1 115.7h0.7v0.7h-0.7zM228.4 116.9h0.7v0.7h-0.7zM229.5 122.7h0.7v0.7h-0.7zM232.6 122.3h0.7v0.7h-0.7zM233.6 116.8h0.7v0.7h-0.7zM230.7 122.3h0.7v0.7h-0.7zM234.1 120.8h0.7v0.7h-0.7zM227 117.7h0.7v0.7h-0.7zM227.1 108.3h0.7v0.7h-0.7zM232.2 119.9h0.7v0.7h-0.7z"/><path fill="#8cc3ef" d="M50.5 118.3h0.3v4.7h-0.3zM52.8 121.1h0.5v3.4h-0.5zM51.4 120.6h0.5v2.1h-0.5zM51.2 120.4h0.5v4h-0.5zM55.2 150.5h0.5v3.7h-0.5zM53 109.8h0.7v0.7h-0.7zM50.5 113.1h0.7v0.7h-0.7zM58 118.1h0.7v0.7h-0.7zM48.2 108h0.7v0.7h-0.7zM54.7 114.8h0.7v0.7h-0.7zM57.9 115.5h0.7v0.7h-0.7zM47.1 111.9h0.7v0.7h-0.7zM58.6 110.3h0.7v0.7h-0.7zM60.2 118.8h0.7v0.7h-0.7zM55.8 108.3h0.7v0.7h-0.7zM49.2 108.4h0.7v0.7h-0.7zM53 104.1h0.7v0.7h-0.7zM59.1 113.1h0.7v0.7h-0.7zM57.2 114.2h0.7v0.7h-0.7zM49.2 116.9h0.7v0.7h-0.7zM54.8 102h0.7v0.7h-0.7zM58.4 115.6h0.7v0.7h-0.7zM49.7 115.3h0.7v0.7h-0.7zM48.7 110.4h0.7v0.7h-0.7zM54.1 114.8h0.7v0.7h-0.7zM49.6 108.8h0.7v0.7h-0.7zM57.8 114.4h0.7v0.7h-0.7zM52 105.9h0.7v0.7h-0.7zM51.3 115.7h0.7v0.7h-0.7zM50.4 117.3h0.7v0.7h-0.7zM60.1 119h0.7v0.7h-0.7zM50.5 118.2h0.7v0.7h-0.7zM47.6 116.9h0.7v0.7h-0.7zM52.2 110.2h0.7v0.7h-0.7zM57.7 118.1h0.7v0.7h-0.7zM50.5 116.8h0.7v0.7h-0.7zM60.1 115.5h0.7v0.7h-0.7zM48.5 116.3h0.7v0.7h-0.7zM47.3 116h0.7v0.7h-0.7zM47.7 113.4h0.7v0.7h-0.7zM56 116.8h0.7v0.7h-0.7zM50.3 102.2h0.7v0.7h-0.7zM55.8 107.3h0.7v0.7h-0.7zM53 116.4h0.7v0.7h-0.7zM51.2 118.3h0.7v0.7h-0.7zM53.7 115.4h0.7v0.7h-0.7zM52.7 113.9h0.7v0.7h-0.7zM58.9 105.4h0.7v0.7h-0.7zM60 100.9h0.7v0.7h-0.7zM58.2 114.1h0.7v0.7h-0.7zM54.6 113.9h0.7v0.7h-0.7zM79.3 123.3h0.3v0.9h-0.3zM81.1 129.6h0.3v2.3h-0.3zM82 119.8h0.3v2.2h-0.3zM85 126.7h0.5v2.9h-0.5zM84.5 128.7h0.5v1h-0.5zM76.8 130.6h0.5v4h-0.5zM84.3 159.1h0.5v1.5h-0.5zM75.8 115h0.7v0.7h-0.7zM82.1 113.4h0.7v0.7h-0.7zM80.6 123.5h0.7v0.7h-0.7zM79.4 122.5h0.7v0.7h-0.7zM82 116.8h0.7v0.7h-0.7zM81.4 121.9h0.7v0.7h-0.7zM80 117.3h0.7v0.7h-0.7zM76.1 121h0.7v0.7h-0.7zM82.5 102.6h0.7v0.7h-0.7zM79.6 121.8h0.7v0.7h-0.7zM79.1 122.3h0.7v0.7h-0.7zM75.8 123.2h0.7v0.7h-0.7zM79.4 123.1h0.7v0.7h-0.7zM82.3 122.4h0.7v0.7h-0.7zM77.8 118.6h0.7v0.7h-0.7zM79.2 106.7h0.7v0.7h-0.7zM79.8 118.5h0.7v0.7h-0.7zM77.8 121h0.7v0.7h-0.7zM80.1 121.7h0.7v0.7h-0.7zM80.5 120.6h0.7v0.7h-0.7zM81.1 118h0.7v0.7h-0.7zM77.4 120.9h0.7v0.7h-0.7zM78.9 116.2h0.7v0.7h-0.7zM76 120.4h0.7v0.7h-0.7zM78.3 122.4h0.7v0.7h-0.7zM76.7 118.6h0.7v0.7h-0.7zM80.8 121.6h0.7v0.7h-0.7zM78.5 123h0.7v0.7h-0.7zM81.1 115.6h0.7v0.7h-0.7zM79.4 117.4h0.7v0.7h-0.7zM80.5 121.4h0.7v0.7h-0.7zM81.4 116.3h0.7v0.7h-0.7zM99 113.7h0.3v0.4h-0.3zM103.7 118.8h0.5v2.7h-0.5zM99 117.8h0.5v3h-0.5zM98.5 110.8h0.7v0.7h-0.7zM103.6 109.5h0.7v0.7h-0.7zM105.1 107.6h0.7v0.7h-0.7zM106.5 99.1h0.7v0.7h-0.7zM101 102.3h0.7v0.7h-0.7zM101.9 104.6h0.7v0.7h-0.7zM104.4 114.6h0.7v0.7h-0.7zM107.1 116.5h0.7v0.7h-0.7zM100.8 109.8h0.7v0.7h-0.7zM103.5 110h0.7v0.7h-0.7zM105.1 104.3h0.7v0.7h-0.7zM99.3 111.3h0.7v0.7h-0.7zM104.4 114h0.7v0.7h-0.7zM101.5 106.4h0.7v0.7h-0.7zM103.8 113.4h0.7v0.7h-0.7zM104.4 109.5h0.7v0.7h-0.7zM100.1 101.1h0.7v0.7h-0.7zM101.6 104.2h0.7v0.7h-0.7zM102.3 112.7h0.7v0.7h-0.7zM105.1 113h0.7v0.7h-0.7zM105.1 103.7h0.7v0.7h-0.7zM100.4 106.8h0.7v0.7h-0.7zM101.3 96.4h0.7v0.7h-0.7zM101.4 104.1h0.7v0.7h-0.7zM101 112.9h0.7v0.7h-0.7zM103.6 107.7h0.7v0.7h-0.7zM104.4 106.6h0.7v0.7h-0.7zM103.2 107.1h0.7v0.7h-0.7zM99.8 110.8h0.7v0.7h-0.7zM106.1 106.3h0.7v0.7h-0.7zM98.7 110.6h0.7v0.7h-0.7zM100.3 116h0.7v0.7h-0.7zM106.1 111.7h0.7v0.7h-0.7zM104 109.2h0.7v0.7h-0.7zM102.1 114.9h0.7v0.7h-0.7zM104.9 114.5h0.7v0.7h-0.7zM103 111.6h0.7v0.7h-0.7zM107.9 112.3h0.7v0.7h-0.7zM103.3 104.6h0.7v0.7h-0.7zM120.2 131.3h0.5v2.3h-0.5zM122 130.8h0.5v1.4h-0.5zM125.1 114.7h0.7v0.7h-0.7zM126.2 107.4h0.7v0.7h-0.7zM120.9 111.7h0.7v0.7h-0.7zM120.2 107.8h0.7v0.7h-0.7zM123 113h0.7v0.7h-0.7zM123.5 113.8h0.7v0.7h-0.7zM125.1 114.4h0.7v0.7h-0.7zM128 114.5h0.7v0.7h-0.7zM128.3 111.7h0.7v0.7h-0.7zM124.9 106.7h0.7v0.7h-0.7zM127.1 112.2h0.7v0.7h-0.7zM121.6 110h0.7v0.7h-0.7zM120.1 114.9h0.7v0.7h-0.7zM119.9 113.9h0.7v0.7h-0.7zM120.1 113.2h0.7v0.7h-0.7zM120.8 107.8h0.7v0.7h-0.7zM125.5 103.9h0.7v0.7h-0.7zM120.8 112.6h0.7v0.7h-0.7zM126.1 88.8h0.7v0.7h-0.7zM125.1 114.1h0.7v0.7h-0.7zM124.6 106.8h0.7v0.7h-0.7zM124.1 107.9h0.7v0.7h-0.7zM127 101.2h0.7v0.7h-0.7zM120.2 110.2h0.7v0.7h-0.7zM120.9 105.7h0.7v0.7h-0.7zM122.6 109h0.7v0.7h-0.7zM123.8 105.1h0.7v0.7h-0.7zM127.2 103.1h0.7v0.7h-0.7zM126.4 101.1h0.7v0.7h-0.7zM126.2 111.2h0.7v0.7h-0.7zM120.6 110h0.7v0.7h-0.7zM145.7 116.7h0.3v9.3h-0.3zM143.8 122.4h0.5v2.4h-0.5zM146.4 121.4h0.5v3.2h-0.5zM144.3 141.1h0.5v2h-0.5zM144.7 140h0.5v3.6h-0.5zM145 114.2h0.7v0.7h-0.7zM146.2 104.2h0.7v0.7h-0.7zM144.1 107.1h0.7v0.7h-0.7zM140.1 112.3h0.7v0.7h-0.7zM141.7 104.6h0.7v0.7h-0.7zM145.1 105.6h0.7v0.7h-0.7zM139.6 110.8h0.7v0.7h-0.7zM146.2 109.1h0.7v0.7h-0.7zM143.9 113.8h0.7v0.7h-0.7zM141.6 113.5h0.7v0.7h-0.7zM142.2 105.7h0.7v0.7h-0.7zM146.2 114.1h0.7v0.7h-0.7zM146.2 115.1h0.7v0.7h-0.7zM141.2 104.5h0.7v0.7h-0.7zM141.8 105h0.7v0.7h-0.7zM140 114.4h0.7v0.7h-0.7zM143.8 113.8h0.7v0.7h-0.7zM146.3 111.2h0.7v0.7h-0.7zM145 115.8h0.7v0.7h-0.7zM142.7 101h0.7v0.7h-0.7zM143.9 107h0.7v0.7h-0.7zM160.4 113.1h0.5v2h-0.5zM164.6 124.5h0.5v2.3h-0.5zM159.3 118.3h0.5v2.8h-0.5zM158.9 105.3h0.7v0.7h-0.7zM160.3 110.4h0.7v0.7h-0.7zM159.5 108.7h0.7v0.7h-0.7zM164.7 108.9h0.7v0.7h-0.7zM160.5 107.1h0.7v0.7h-0.7zM162.3 100.1h0.7v0.7h-0.7zM163 101.8h0.7v0.7h-0.7zM160.7 109.3h0.7v0.7h-0.7zM164.6 102h0.7v0.7h-0.7zM159.1 107.4h0.7v0.7h-0.7zM164.5 106.1h0.7v0.7h-0.7zM164.9 104.3h0.7v0.7h-0.7zM161.3 100.3h0.7v0.7h-0.7zM163 102.2h0.7v0.7h-0.7zM161.8 110.7h0.7v0.7h-0.7zM164.1 109.4h0.7v0.7h-0.7zM161.4 100.3h0.7v0.7h-0.7zM158.6 105h0.7v0.7h-0.7zM161.6 106.1h0.7v0.7h-0.7zM157.7 102.9h0.7v0.7h-0.7zM163.3 110.6h0.7v0.7h-0.7zM158 111h0.7v0.7h-0.7zM162.2 104.2h0.7v0.7h-0.7zM160.6 109.3h0.7v0.7h-0.7zM160.1 111.4h0.7v0.7h-0.7zM164.7 100.2h0.7v0.7h-0.7zM163.2 110.1h0.7v0.7h-0.7zM160.6 100.5h0.7v0.7h-0.7zM175.7 115.1h0.3v5.7h-0.3zM174.9 115.9h0.5v3h-0.5zM179.6 132h0.5v1.3h-0.5zM178.2 119.9h0.5v3.1h-0.5zM178.1 125.9h0.5v1h-0.5zM177.1 143.4h0.5v1.5h-0.5zM175.5 113.4h0.7v0.7h-0.7zM176.5 107.7h0.7v0.7h-0.7zM175.3 99.3h0.7v0.7h-0.7zM176.6 111.4h0.7v0.7h-0.7zM176.3 111.5h0.7v0.7h-0.7zM179.2 102.9h0.7v0.7h-0.7zM177.2 112.8h0.7v0.7h-0.7zM177.1 113.5h0.7v0.7h-0.7zM179.6 112h0.7v0.7h-0.7zM175.1 110.5h0.7v0.7h-0.7zM180.1 108.1h0.7v0.7h-0.7zM178 109.6h0.7v0.7h-0.7zM177.5 111.5h0.7v0.7h-0.7zM176.1 108.6h0.7v0.7h-0.7zM178.5 104.4h0.7v0.7h-0.7zM179.7 114.1h0.7v0.7h-0.7zM176.4 112.7h0.7v0.7h-0.7zM175.3 112.4h0.7v0.7h-0.7zM178.1 104.9h0.7v0.7h-0.7zM175 100.2h0.7v0.7h-0.7zM189.6 121.7h0.3v18.8h-0.3zM191.4 115.2h0.7v0.7h-0.7zM190 112.1h0.7v0.7h-0.7zM193.6 111.1h0.7v0.7h-0.7zM191.3 114.8h0.7v0.7h-0.7zM193.8 113.2h0.7v0.7h-0.7zM189.3 111.7h0.7v0.7h-0.7zM190.8 115.6h0.7v0.7h-0.7zM191.3 104.4h0.7v0.7h-0.7zM193.4 98.7h0.7v0.7h-0.7zM190.9 115.9h0.7v0.7h-0.7zM193.3 112.2h0.7v0.7h-0.7zM190.2 108h0.7v0.7h-0.7zM194.4 114.6h0.7v0.7h-0.7zM190.5 115.6h0.7v0.7h-0.7zM194.1 108.9h0.7v0.7h-0.7zM193 110.9h0.7v0.7h-0.7zM192.1 108.7h0.7v0.7h-0.7zM205.3 111.5h0.7v0.7h-0.7zM202.2 111h0.7v0.7h-0.7zM204.6 108.3h0.7v0.7h-0.7zM205.5 103.5h0.7v0.7h-0.7zM203.4 112h0.7v0.7h-0.7zM202.9 110.1h0.7v0.7h-0.7zM204.5 107.5h0.7v0.7h-0.7zM201.9 101.7h0.7v0.7h-0.7zM202.1 106.4h0.7v0.7h-0.7zM203.2 104.9h0.7v0.7h-0.7zM205.4 108h0.7v0.7h-0.7zM205.3 106.5h0.7v0.7h-0.7zM202.7 111.1h0.7v0.7h-0.7zM202 110.5h0.7v0.7h-0.7zM205.5 112.4h0.7v0.7h-0.7zM202.7 110.5h0.7v0.7h-0.7zM202.7 112.4h0.7v0.7h-0.7zM202.2 106.1h0.7v0.7h-0.7zM215 111h0.3v10.1h-0.3zM212.2 112.3h0.7v0.7h-0.7zM213 112.4h0.7v0.7h-0.7zM215.2 111.6h0.7v0.7h-0.7zM213 108.7h0.7v0.7h-0.7zM212.1 111.9h0.7v0.7h-0.7zM212.9 110h0.7v0.7h-0.7zM214.7 106.3h0.7v0.7h-0.7zM214.5 107.2h0.7v0.7h-0.7zM214.5 110.7h0.7v0.7h-0.7zM212.4 111h0.7v0.7h-0.7zM213.7 112.2h0.7v0.7h-0.7zM211.9 112.3h0.7v0.7h-0.7zM224.7 114.8h0.3v1.1h-0.3zM222 106.8h0.7v0.7h-0.7zM224.1 111h0.7v0.7h-0.7zM221.7 106.8h0.7v0.7h-0.7zM221.8 105.9h0.7v0.7h-0.7zM224.1 101.7h0.7v0.7h-0.7zM224.3 108h0.7v0.7h-0.7zM222.4 93.9h0.7v0.7h-0.7zM222.8 93.7h0.7v0.7h-0.7zM223.8 104.4h0.7v0.7h-0.7zM222.2 109.2h0.7v0.7h-0.7zM222.8 109.3h0.7v0.7h-0.7zM223.4 105.6h0.7v0.7h-0.7zM224.3 108.6h0.7v0.7h-0.7zM222.7 110.7h0.7v0.7h-0.7z"/><path fill="#b5d9f6" d="M51 116.8h0.3v6.4h-0.3zM56.8 121.8h0.3v1.2h-0.3zM78.4 111.1h0.3v0.2h-0.3zM163.3 109h0.3v8h-0.3zM174.8 113.4h0.3v0.4h-0.3zM201.8 113.4h0.3v2h-0.3zM204.5 115.3h0.3v13.6h-0.3zM205.9 114.9h0.3v8.4h-0.3zM212.8 112.7h0.3v4.3h-0.3zM222.9 112.9h0.3v29h-0.3z"/><path fill="#c2e1f8" d="M51.4 123.1h0.5v3.1h-0.5zM56.1 120h0.5v2.1h-0.5zM48.8 125.9h0.5v3h-0.5zM50.2 113h0.7v0.7h-0.7zM54.2 113.2h0.7v0.7h-0.7zM49.6 114.6h0.7v0.7h-0.7zM59.9 112.6h0.7v0.7h-0.7zM59 101.9h0.7v0.7h-0.7zM58.8 104.3h0.7v0.7h-0.7zM56.3 113.8h0.7v0.7h-0.7zM50.9 116.3h0.7v0.7h-0.7zM50 116.4h0.7v0.7h-0.7zM49.5 106.3h0.7v0.7h-0.7zM50.5 110.1h0.7v0.7h-0.7zM54.1 118.7h0.7v0.7h-0.7zM50.7 109.1h0.7v0.7h-0.7zM52.8 111.3h0.7v0.7h-0.7zM57.5 108h0.7v0.7h-0.7zM54.2 105.6h0.7v0.7h-0.7zM47.1 114.2h0.7v0.7h-0.7zM55.8 112.7h0.7v0.7h-0.7zM52.5 118.4h0.7v0.7h-0.7zM51.5 104.9h0.7v0.7h-0.7zM52 108.4h0.7v0.7h-0.7zM49.6 117.3h0.7v0.7h-0.7zM47.2 117.6h0.7v0.7h-0.7zM55.9 116.5h0.7v0.7h-0.7zM58.6 117.2h0.7v0.7h-0.7zM50.1 112h0.7v0.7h-0.7zM48.5 114.2h0.7v0.7h-0.7zM50.7 110.5h0.7v0.7h-0.7zM50.1 118.3h0.7v0.7h-0.7zM51.3 117h0.7v0.7h-0.7zM58.9 111.8h0.7v0.7h-0.7zM57.3 112.1h0.7v0.7h-0.7zM55.2 118.5h0.7v0.7h-0.7zM57.8 110.9h0.7v0.7h-0.7zM58 117.8h0.7v0.7h-0.7zM57.8 116.6h0.7v0.7h-0.7zM47.4 112.2h0.7v0.7h-0.7zM58.3 106.7h0.7v0.7h-0.7zM49 99h0.7v0.7h-0.7zM54.6 116.8h0.7v0.7h-0.7zM50 114.4h0.7v0.7h-0.7zM54.4 117.8h0.7v0.7h-0.7zM49.3 118.7h0.7v0.7h-0.7zM51.9 117.6h0.7v0.7h-0.7zM51.2 109.2h0.7v0.7h-0.7zM58.9 107.3h0.7v0.7h-0.7zM59.7 116.3h0.7v0.7h-0.7zM59.2 118.6h0.7v0.7h-0.7zM56.2 114.8h0.7v0.7h-0.7zM59.5 117.8h0.7v0.7h-0.7zM52.3 104.9h0.7v0.7h-0.7zM58.1 107.8h0.7v0.7h-0.7zM76.5 134.7h0.5v2h-0.5zM81.7 129h0.5v2.2h-0.5zM83 133.8h0.5v2.6h-0.5zM83 115.2h0.7v0.7h-0.7zM79.7 115.3h0.7v0.7h-0.7zM79.2 119.8h0.7v0.7h-0.7zM84.5 122.9h0.7v0.7h-0.7zM80.8 121.5h0.7v0.7h-0.7zM75 123h0.7v0.7h-0.7zM77 115.9h0.7v0.7h-0.7zM78.1 116.7h0.7v0.7h-0.7zM75.5 104.6h0.7v0.7h-0.7zM80 115.2h0.7v0.7h-0.7zM78.4 108.7h0.7v0.7h-0.7zM77.2 116.7h0.7v0.7h-0.7zM84.5 115.6h0.7v0.7h-0.7zM75.8 123.2h0.7v0.7h-0.7zM77.7 115.8h0.7v0.7h-0.7zM78.6 120.4h0.7v0.7h-0.7zM78 123.4h0.7v0.7h-0.7zM79.2 120h0.7v0.7h-0.7zM78.7 105.6h0.7v0.7h-0.7zM82.1 113.9h0.7v0.7h-0.7zM82.4 113.8h0.7v0.7h-0.7zM77.1 119.4h0.7v0.7h-0.7zM85.2 115.7h0.7v0.7h-0.7zM84.7 120.8h0.7v0.7h-0.7zM76.3 114.8h0.7v0.7h-0.7zM77.2 122.1h0.7v0.7h-0.7zM83.6 112.5h0.7v0.7h-0.7zM80.8 118.5h0.7v0.7h-0.7zM80.5 103.8h0.7v0.7h-0.7zM84.4 123.2h0.7v0.7h-0.7zM81.5 109.5h0.7v0.7h-0.7zM84.2 121.2h0.7v0.7h-0.7zM81.8 100.9h0.7v0.7h-0.7zM83.3 122.1h0.7v0.7h-0.7zM84.7 119.7h0.7v0.7h-0.7zM76.1 117.1h0.7v0.7h-0.7zM81.9 120.4h0.7v0.7h-0.7zM75.8 123.2h0.7v0.7h-0.7zM84.8 123.1h0.7v0.7h-0.7zM100.7 118.7h0.5v2.4h-0.5zM99.2 119.3h0.5v3.6h-0.5zM106.5 114.5h0.7v0.7h-0.7zM108 114.6h0.7v0.7h-0.7zM99.8 114h0.7v0.7h-0.7zM101.6 114.9h0.7v0.7h-0.7zM103.1 110.6h0.7v0.7h-0.7zM105.7 103.1h0.7v0.7h-0.7zM104 111h0.7v0.7h-0.7zM99.1 115.3h0.7v0.7h-0.7zM100.6 112.8h0.7v0.7h-0.7zM99.9 106.7h0.7v0.7h-0.7zM105.5 114.7h0.7v0.7h-0.7zM100.2 105.7h0.7v0.7h-0.7zM103.6 114.2h0.7v0.7h-0.7zM105.7 113h0.7v0.7h-0.7zM100.3 110.6h0.7v0.7h-0.7zM107.3 112.3h0.7v0.7h-0.7zM107.9 103h0.7v0.7h-0.7zM106.9 115.7h0.7v0.7h-0.7zM106.4 116.5h0.7v0.7h-0.7zM100.5 114.7h0.7v0.7h-0.7zM100.8 105.3h0.7v0.7h-0.7zM99.4 116.2h0.7v0.7h-0.7zM105 114.6h0.7v0.7h-0.7zM99.6 116.2h0.7v0.7h-0.7zM106.2 110.3h0.7v0.7h-0.7zM99.3 114.7h0.7v0.7h-0.7zM108 114.4h0.7v0.7h-0.7zM105.2 113.8h0.7v0.7h-0.7zM106.7 114.8h0.7v0.7h-0.7zM106.1 110.9h0.7v0.7h-0.7zM104.3 109h0.7v0.7h-0.7zM103.6 106.8h0.7v0.7h-0.7zM123.6 118.2h0.5v2.7h-0.5zM125.8 115.7h0.5v1.4h-0.5zM122.6 115.1h0.5v2.6h-0.5zM124.3 111.4h0.7v0.7h-0.7zM122.4 104.7h0.7v0.7h-0.7zM123.2 101.6h0.7v0.7h-0.7zM122.9 108.8h0.7v0.7h-0.7zM127.4 92.7h0.7v0.7h-0.7zM126 109.1h0.7v0.7h-0.7zM126 106.4h0.7v0.7h-0.7zM125.2 99.9h0.7v0.7h-0.7zM126.1 105.6h0.7v0.7h-0.7zM122.9 108.2h0.7v0.7h-0.7zM121.6 114.3h0.7v0.7h-0.7zM124.1 97.1h0.7v0.7h-0.7zM120 114.8h0.7v0.7h-0.7zM120.6 108.1h0.7v0.7h-0.7zM123.9 114.6h0.7v0.7h-0.7zM125 110.5h0.7v0.7h-0.7zM125.6 104.6h0.7v0.7h-0.7zM124.2 109h0.7v0.7h-0.7zM125.6 98h0.7v0.7h-0.7zM124.4 111.4h0.7v0.7h-0.7zM146.5 131.2h0.5v1.8h-0.5zM140.1 146h0.5v2h-0.5zM145.4 116h0.7v0.7h-0.7zM140.3 113.5h0.7v0.7h-0.7zM141.9 111h0.7v0.7h-0.7zM145.5 114.5h0.7v0.7h-0.7zM143.3 113.2h0.7v0.7h-0.7zM141.7 114.9h0.7v0.7h-0.7zM145 113h0.7v0.7h-0.7zM140.1 106.6h0.7v0.7h-0.7zM145.7 106.3h0.7v0.7h-0.7zM142 112.3h0.7v0.7h-0.7zM139.4 112.6h0.7v0.7h-0.7zM140.5 112.4h0.7v0.7h-0.7zM142.5 106.5h0.7v0.7h-0.7zM145.3 116h0.7v0.7h-0.7zM145.2 112.9h0.7v0.7h-0.7zM144.1 112h0.7v0.7h-0.7zM146.3 113.9h0.7v0.7h-0.7zM140.2 113.3h0.7v0.7h-0.7zM143.9 105.3h0.7v0.7h-0.7zM141.7 114.9h0.7v0.7h-0.7zM145.7 113h0.7v0.7h-0.7zM144.1 109.3h0.7v0.7h-0.7zM140.9 113.6h0.7v0.7h-0.7zM141.9 113.4h0.7v0.7h-0.7zM142.7 113.6h0.7v0.7h-0.7zM161.4 117.4h0.5v2.6h-0.5zM163.9 114.1h0.5v2.5h-0.5zM164.9 111.1h0.7v0.7h-0.7zM158.6 109.5h0.7v0.7h-0.7zM163.5 107.3h0.7v0.7h-0.7zM158 109.3h0.7v0.7h-0.7zM163.8 110.3h0.7v0.7h-0.7zM163.7 110h0.7v0.7h-0.7zM160.9 105h0.7v0.7h-0.7zM162 110.3h0.7v0.7h-0.7zM164.2 102.9h0.7v0.7h-0.7zM161.6 104h0.7v0.7h-0.7zM162.5 101.7h0.7v0.7h-0.7zM160 107.4h0.7v0.7h-0.7zM162 109.7h0.7v0.7h-0.7zM162 101.3h0.7v0.7h-0.7zM158.5 111.5h0.7v0.7h-0.7zM160.5 102.9h0.7v0.7h-0.7zM164.2 100.8h0.7v0.7h-0.7zM163.4 108.7h0.7v0.7h-0.7zM163.2 101.2h0.7v0.7h-0.7zM159.4 108.4h0.7v0.7h-0.7zM160.6 109.1h0.7v0.7h-0.7zM157.5 106.6h0.7v0.7h-0.7zM161.3 109.1h0.7v0.7h-0.7zM159.3 102.2h0.7v0.7h-0.7zM160.3 109.6h0.7v0.7h-0.7zM162.7 110.4h0.7v0.7h-0.7zM163.1 104.2h0.7v0.7h-0.7zM163.1 106h0.7v0.7h-0.7zM157.8 103.8h0.7v0.7h-0.7zM162 101.7h0.7v0.7h-0.7zM161 107.5h0.7v0.7h-0.7zM179 118.5h0.5v3.2h-0.5zM176.4 104.6h0.7v0.7h-0.7zM179.8 105h0.7v0.7h-0.7zM178.7 109.8h0.7v0.7h-0.7zM175 107.9h0.7v0.7h-0.7zM175.5 113.2h0.7v0.7h-0.7zM180.2 111.6h0.7v0.7h-0.7zM178.2 111.4h0.7v0.7h-0.7zM177.1 113.4h0.7v0.7h-0.7zM178.4 107.3h0.7v0.7h-0.7zM175.6 108.4h0.7v0.7h-0.7zM180.2 104.7h0.7v0.7h-0.7zM178.1 103.1h0.7v0.7h-0.7zM177.7 98.2h0.7v0.7h-0.7zM176.6 99.3h0.7v0.7h-0.7zM176.6 113.3h0.7v0.7h-0.7zM179 114.1h0.7v0.7h-0.7zM178 99.2h0.7v0.7h-0.7zM176.8 108h0.7v0.7h-0.7zM176.6 113.6h0.7v0.7h-0.7zM177.3 111.5h0.7v0.7h-0.7zM193.7 118.5h0.5v3.1h-0.5zM194.1 117h0.5v1.9h-0.5zM193.1 134.5h0.5v3.2h-0.5zM190 113.3h0.7v0.7h-0.7zM191.1 100.8h0.7v0.7h-0.7zM192 115.7h0.7v0.7h-0.7zM191.8 110.2h0.7v0.7h-0.7zM190.6 107.5h0.7v0.7h-0.7zM192.9 113h0.7v0.7h-0.7zM193.1 108.1h0.7v0.7h-0.7zM191.1 113.7h0.7v0.7h-0.7zM192.3 115.4h0.7v0.7h-0.7zM189.7 111.9h0.7v0.7h-0.7zM191.7 111.5h0.7v0.7h-0.7zM193.8 111.7h0.7v0.7h-0.7zM191.4 114.9h0.7v0.7h-0.7zM194.4 107.7h0.7v0.7h-0.7zM193.2 100.3h0.7v0.7h-0.7zM191.6 101.7h0.7v0.7h-0.7zM189.6 113.3h0.7v0.7h-0.7zM191.2 113.8h0.7v0.7h-0.7zM189.8 101.6h0.7v0.7h-0.7zM193 114h0.7v0.7h-0.7zM191.4 114.6h0.7v0.7h-0.7zM190.8 113.2h0.7v0.7h-0.7zM202.4 116.1h0.5v0.9h-0.5zM205 154.1h0.5v0.9h-0.5zM201.9 114.5h0.5v1.9h-0.5zM204.3 109.9h0.7v0.7h-0.7zM203.6 110.2h0.7v0.7h-0.7zM201.5 112.4h0.7v0.7h-0.7zM202.3 109.5h0.7v0.7h-0.7zM203.6 106.4h0.7v0.7h-0.7zM204.8 111.6h0.7v0.7h-0.7zM205 108.7h0.7v0.7h-0.7zM204.4 109.8h0.7v0.7h-0.7zM201.5 109.3h0.7v0.7h-0.7zM202 107.5h0.7v0.7h-0.7zM203.2 110.5h0.7v0.7h-0.7zM201.8 110.7h0.7v0.7h-0.7zM203.3 107.5h0.7v0.7h-0.7zM205.3 108h0.7v0.7h-0.7zM205.2 111.2h0.7v0.7h-0.7zM204.8 109.7h0.7v0.7h-0.7zM205 110.8h0.7v0.7h-0.7zM205.1 112.2h0.7v0.7h-0.7zM202.3 110.3h0.7v0.7h-0.7zM205.1 102.8h0.7v0.7h-0.7zM203.8 106.2h0.7v0.7h-0.7zM212.2 131.1h0.5v1.8h-0.5zM213 139.1h0.5v2.2h-0.5zM213.3 127.5h0.5v1.4h-0.5zM212.3 112.3h0.7v0.7h-0.7zM212.3 111.7h0.7v0.7h-0.7zM213.6 111.2h0.7v0.7h-0.7zM213.2 110.4h0.7v0.7h-0.7zM215.2 111h0.7v0.7h-0.7zM212.2 112h0.7v0.7h-0.7zM212.2 108.7h0.7v0.7h-0.7zM213.1 111.7h0.7v0.7h-0.7zM213.7 108.5h0.7v0.7h-0.7zM214.7 108.2h0.7v0.7h-0.7zM215.1 110.1h0.7v0.7h-0.7zM214.1 111.7h0.7v0.7h-0.7zM221.9 115h0.5v1.1h-0.5zM222 112.3h0.7v0.7h-0.7zM222.8 111.4h0.7v0.7h-0.7zM222.5 110.6h0.7v0.7h-0.7zM222.6 104h0.7v0.7h-0.7zM223.7 112.3h0.7v0.7h-0.7zM222.6 96.5h0.7v0.7h-0.7zM222.7 111.2h0.7v0.7h-0.7zM223.9 109.2h0.7v0.7h-0.7z"/><path fill="#a9d3f5" d="M53 124.1h0.5v2.8h-0.5zM55 129h0.5v1.3h-0.5zM47.2 133.6h0.5v2.9h-0.5zM54.5 133.2h0.5v1.7h-0.5zM50.1 122.6h0.5v2.6h-0.5zM60.3 125.3h0.5v3.5h-0.5zM54.6 146.2h0.5v3.3h-0.5zM48.1 104.6h0.7v0.7h-0.7zM58.1 117.6h0.7v0.7h-0.7zM48.5 115.4h0.7v0.7h-0.7zM51.4 113.9h0.7v0.7h-0.7zM55.7 115.2h0.7v0.7h-0.7zM49.6 112h0.7v0.7h-0.7zM59.8 108.4h0.7v0.7h-0.7zM57.6 115.7h0.7v0.7h-0.7zM54.9 117.2h0.7v0.7h-0.7zM55.9 116.7h0.7v0.7h-0.7zM54.2 115.1h0.7v0.7h-0.7zM52.1 100.5h0.7v0.7h-0.7zM56.7 105.4h0.7v0.7h-0.7zM50.1 117.9h0.7v0.7h-0.7zM52.4 115.8h0.7v0.7h-0.7zM48.6 109.1h0.7v0.7h-0.7zM46.9 115.3h0.7v0.7h-0.7zM52.2 116.5h0.7v0.7h-0.7zM50 117h0.7v0.7h-0.7zM53.3 114.3h0.7v0.7h-0.7zM58.5 117.4h0.7v0.7h-0.7zM54.6 111.7h0.7v0.7h-0.7zM47.2 116.3h0.7v0.7h-0.7zM47.5 117.9h0.7v0.7h-0.7zM51.8 118.5h0.7v0.7h-0.7zM59.8 115.8h0.7v0.7h-0.7zM51.8 115.6h0.7v0.7h-0.7zM49.7 115.5h0.7v0.7h-0.7zM57 113.7h0.7v0.7h-0.7zM56.8 116.2h0.7v0.7h-0.7zM58.1 105.5h0.7v0.7h-0.7zM49.9 110h0.7v0.7h-0.7zM50.7 104.9h0.7v0.7h-0.7zM55.9 119h0.7v0.7h-0.7zM50.3 117.5h0.7v0.7h-0.7zM49.3 118.8h0.7v0.7h-0.7zM51.1 113.9h0.7v0.7h-0.7zM51.1 113.7h0.7v0.7h-0.7zM56.1 117.6h0.7v0.7h-0.7zM58.2 109h0.7v0.7h-0.7zM53 116.7h0.7v0.7h-0.7zM82.2 135h0.5v2.9h-0.5zM82.1 129.7h0.5v3.4h-0.5zM76.1 149.7h0.5v0.9h-0.5zM81.6 138.1h0.5v1.9h-0.5zM82.1 103.5h0.7v0.7h-0.7zM78 119.1h0.7v0.7h-0.7zM77.8 118.3h0.7v0.7h-0.7zM77.4 120.7h0.7v0.7h-0.7zM80.5 109.5h0.7v0.7h-0.7zM82.3 119.2h0.7v0.7h-0.7zM84.9 122h0.7v0.7h-0.7zM80.2 119.8h0.7v0.7h-0.7zM84.2 123h0.7v0.7h-0.7zM82.9 121.4h0.7v0.7h-0.7zM77.9 112h0.7v0.7h-0.7zM75.1 120.2h0.7v0.7h-0.7zM77.4 122.1h0.7v0.7h-0.7zM81.6 123.3h0.7v0.7h-0.7zM83.2 108.3h0.7v0.7h-0.7zM84 121.7h0.7v0.7h-0.7zM81.2 109.6h0.7v0.7h-0.7zM75.4 112.9h0.7v0.7h-0.7zM81.1 121.3h0.7v0.7h-0.7zM83.2 116.7h0.7v0.7h-0.7zM84.5 110.9h0.7v0.7h-0.7zM78.1 109.6h0.7v0.7h-0.7zM85.3 105.7h0.7v0.7h-0.7zM77.1 116h0.7v0.7h-0.7zM80.3 97.2h0.7v0.7h-0.7zM85.1 121.6h0.7v0.7h-0.7zM81.9 123h0.7v0.7h-0.7zM78.8 104.3h0.7v0.7h-0.7zM80 120.1h0.7v0.7h-0.7zM78.8 122.3h0.7v0.7h-0.7zM81.2 106.1h0.7v0.7h-0.7zM76.9 116.3h0.7v0.7h-0.7zM78.9 121.3h0.7v0.7h-0.7zM77.6 120.3h0.7v0.7h-0.7zM78.4 123.5h0.7v0.7h-0.7zM101.8 159.6h0.5v1.7h-0.5zM102.6 127.1h0.5v1.8h-0.5zM100.5 138.8h0.5v2.4h-0.5zM107.5 116.8h0.5v2h-0.5zM107 116.7h0.5v3.8h-0.5zM104.5 117h0.5v2.5h-0.5zM102.9 115.4h0.7v0.7h-0.7zM99.7 103.2h0.7v0.7h-0.7zM107.6 114.9h0.7v0.7h-0.7zM102.5 116.2h0.7v0.7h-0.7zM103.4 115.4h0.7v0.7h-0.7zM102.1 101h0.7v0.7h-0.7zM106.2 114h0.7v0.7h-0.7zM99.3 112.6h0.7v0.7h-0.7zM104.4 102.4h0.7v0.7h-0.7zM102.5 97.8h0.7v0.7h-0.7zM100 116.4h0.7v0.7h-0.7zM101.2 110h0.7v0.7h-0.7zM104 114.5h0.7v0.7h-0.7zM100.2 105.6h0.7v0.7h-0.7zM103.3 103.8h0.7v0.7h-0.7zM99.4 102.8h0.7v0.7h-0.7zM103.2 114.1h0.7v0.7h-0.7zM103 109.4h0.7v0.7h-0.7zM102.7 114.6h0.7v0.7h-0.7zM106.7 116.4h0.7v0.7h-0.7zM104.8 103h0.7v0.7h-0.7zM105.5 112.8h0.7v0.7h-0.7zM100.8 116.1h0.7v0.7h-0.7zM100.3 111.6h0.7v0.7h-0.7zM98.6 97.7h0.7v0.7h-0.7zM101.7 107.2h0.7v0.7h-0.7zM100.9 105.9h0.7v0.7h-0.7zM98.6 107.2h0.7v0.7h-0.7zM103.8 112.1h0.7v0.7h-0.7zM107.3 111.2h0.7v0.7h-0.7zM101.2 114.9h0.7v0.7h-0.7zM103.9 111.4h0.7v0.7h-0.7zM106.4 109.1h0.7v0.7h-0.7zM99.2 114.9h0.7v0.7h-0.7zM107.6 107.5h0.7v0.7h-0.7zM100.7 102.3h0.7v0.7h-0.7zM127 127h0.5v3.1h-0.5zM123.1 153.5h0.5v3h-0.5zM124.7 123.8h0.5v3.6h-0.5zM120 130.7h0.5v2.2h-0.5zM120.4 92h0.7v0.7h-0.7zM127.2 90.5h0.7v0.7h-0.7zM120.5 97.7h0.7v0.7h-0.7zM123 111.8h0.7v0.7h-0.7zM128.3 114h0.7v0.7h-0.7zM121.6 111.9h0.7v0.7h-0.7zM122.7 103.7h0.7v0.7h-0.7zM123.3 98.4h0.7v0.7h-0.7zM125.3 108h0.7v0.7h-0.7zM122.9 112.9h0.7v0.7h-0.7zM126.7 102.6h0.7v0.7h-0.7zM122.8 110.5h0.7v0.7h-0.7zM127.7 114h0.7v0.7h-0.7zM127.1 102.5h0.7v0.7h-0.7zM127.9 105.4h0.7v0.7h-0.7zM127.1 105.1h0.7v0.7h-0.7zM120.8 106.6h0.7v0.7h-0.7zM123.6 111.3h0.7v0.7h-0.7zM122.6 98.1h0.7v0.7h-0.7zM123.8 114.5h0.7v0.7h-0.7zM124.1 114.1h0.7v0.7h-0.7zM128.2 109.7h0.7v0.7h-0.7zM127.8 110.1h0.7v0.7h-0.7zM126.2 108.3h0.7v0.7h-0.7zM126.2 109.3h0.7v0.7h-0.7zM122.5 109.1h0.7v0.7h-0.7zM141.4 120.1h0.5v2.6h-0.5zM139.7 132.7h0.5v2.1h-0.5zM142.4 112.8h0.7v0.7h-0.7zM145.9 115.9h0.7v0.7h-0.7zM145.2 115.7h0.7v0.7h-0.7zM144.3 100.9h0.7v0.7h-0.7zM146.3 115.5h0.7v0.7h-0.7zM146.3 103.7h0.7v0.7h-0.7zM143.1 101.4h0.7v0.7h-0.7zM142.8 115.8h0.7v0.7h-0.7zM142.5 107.1h0.7v0.7h-0.7zM143.4 110.1h0.7v0.7h-0.7zM144 114.6h0.7v0.7h-0.7zM141.7 109h0.7v0.7h-0.7zM139 110.8h0.7v0.7h-0.7zM143.2 102.4h0.7v0.7h-0.7zM141 103.6h0.7v0.7h-0.7zM142.7 104.6h0.7v0.7h-0.7zM143.9 114h0.7v0.7h-0.7zM140.3 111.5h0.7v0.7h-0.7zM144.2 111.9h0.7v0.7h-0.7zM142.8 115.2h0.7v0.7h-0.7zM143.4 112.9h0.7v0.7h-0.7zM140.9 108.7h0.7v0.7h-0.7zM141.2 112h0.7v0.7h-0.7zM144.4 112.9h0.7v0.7h-0.7zM139.5 115.7h0.7v0.7h-0.7zM142.3 114.4h0.7v0.7h-0.7zM139.5 113.9h0.7v0.7h-0.7zM144.5 114.9h0.7v0.7h-0.7zM145.3 114.6h0.7v0.7h-0.7zM141 110.5h0.7v0.7h-0.7zM143.1 108.8h0.7v0.7h-0.7zM141.5 105.2h0.7v0.7h-0.7zM139.7 114.3h0.7v0.7h-0.7zM140 109h0.7v0.7h-0.7zM144.5 110.4h0.7v0.7h-0.7zM143.1 113.9h0.7v0.7h-0.7zM140.2 106.6h0.7v0.7h-0.7zM141.1 111.4h0.7v0.7h-0.7zM141 113.4h0.7v0.7h-0.7zM144.1 110.2h0.7v0.7h-0.7zM161.4 128.8h0.5v0.9h-0.5zM162.8 138h0.5v2.1h-0.5zM164 155.6h0.5v0.9h-0.5zM163.4 108.8h0.7v0.7h-0.7zM159.2 111.1h0.7v0.7h-0.7zM161.5 109.2h0.7v0.7h-0.7zM158.1 108.7h0.7v0.7h-0.7zM164.3 107h0.7v0.7h-0.7zM159.6 103.3h0.7v0.7h-0.7zM163 110h0.7v0.7h-0.7zM160 104.1h0.7v0.7h-0.7zM157.6 106.1h0.7v0.7h-0.7zM159.1 108h0.7v0.7h-0.7zM161.2 107.5h0.7v0.7h-0.7zM159.9 108.2h0.7v0.7h-0.7zM164.6 109.9h0.7v0.7h-0.7zM164.2 106.8h0.7v0.7h-0.7zM164 106h0.7v0.7h-0.7zM161.6 108.6h0.7v0.7h-0.7zM163.2 104.3h0.7v0.7h-0.7zM163.8 109.5h0.7v0.7h-0.7zM164.2 111.3h0.7v0.7h-0.7zM163.8 110.2h0.7v0.7h-0.7zM164.7 110.8h0.7v0.7h-0.7zM164.9 110h0.7v0.7h-0.7zM176.8 101.7h0.7v0.7h-0.7zM176.6 103.3h0.7v0.7h-0.7zM178.7 113.4h0.7v0.7h-0.7zM176.5 114.5h0.7v0.7h-0.7zM178.8 113.5h0.7v0.7h-0.7zM178.5 108h0.7v0.7h-0.7zM177.2 100.2h0.7v0.7h-0.7zM175.7 107.1h0.7v0.7h-0.7zM177.8 113.7h0.7v0.7h-0.7zM177.6 108.2h0.7v0.7h-0.7zM179.5 111.8h0.7v0.7h-0.7zM175.5 100.3h0.7v0.7h-0.7zM178.4 112.2h0.7v0.7h-0.7zM177.7 103.7h0.7v0.7h-0.7zM178.5 114.1h0.7v0.7h-0.7zM177.4 110.6h0.7v0.7h-0.7zM177.6 112.6h0.7v0.7h-0.7zM175.2 102.6h0.7v0.7h-0.7zM178.3 108.1h0.7v0.7h-0.7zM175.5 108.9h0.7v0.7h-0.7zM177.8 102.2h0.7v0.7h-0.7zM180.3 100.8h0.7v0.7h-0.7zM175.4 108.9h0.7v0.7h-0.7zM176.3 112.9h0.7v0.7h-0.7zM191.8 118h0.5v3.5h-0.5zM193.6 125.1h0.5v3.2h-0.5zM191 114.2h0.7v0.7h-0.7zM193.1 98.3h0.7v0.7h-0.7zM194.1 101.3h0.7v0.7h-0.7zM194.3 115.2h0.7v0.7h-0.7zM189.4 107.8h0.7v0.7h-0.7zM189.5 110.6h0.7v0.7h-0.7zM190.4 114.9h0.7v0.7h-0.7zM193.4 105.4h0.7v0.7h-0.7zM190.4 111.8h0.7v0.7h-0.7zM190.9 108.4h0.7v0.7h-0.7zM190.7 111.9h0.7v0.7h-0.7zM192.4 113.8h0.7v0.7h-0.7zM204 112.8h0.5v3.3h-0.5zM202.3 109.3h0.7v0.7h-0.7zM203.6 111.2h0.7v0.7h-0.7zM204.2 111.9h0.7v0.7h-0.7zM205.6 112.5h0.7v0.7h-0.7zM201.4 110h0.7v0.7h-0.7zM202.7 111.3h0.7v0.7h-0.7zM201.7 106.3h0.7v0.7h-0.7zM204.1 109.4h0.7v0.7h-0.7zM201.5 112.1h0.7v0.7h-0.7zM202.6 107.8h0.7v0.7h-0.7zM204.9 112h0.7v0.7h-0.7zM202.5 108.9h0.7v0.7h-0.7zM203.7 104.8h0.7v0.7h-0.7zM202.4 109.7h0.7v0.7h-0.7zM214.9 150.4h0.5v3.5h-0.5zM212 106.6h0.7v0.7h-0.7zM213.5 110.6h0.7v0.7h-0.7zM214.1 108.2h0.7v0.7h-0.7zM213.1 108.2h0.7v0.7h-0.7zM211.9 106.7h0.7v0.7h-0.7zM212.6 108.7h0.7v0.7h-0.7zM213 109.8h0.7v0.7h-0.7zM212.8 106h0.7v0.7h-0.7zM214.5 106.3h0.7v0.7h-0.7zM212.7 109.6h0.7v0.7h-0.7zM213.4 109.6h0.7v0.7h-0.7zM214.4 108.3h0.7v0.7h-0.7zM213 111.1h0.7v0.7h-0.7zM215.4 109.3h0.7v0.7h-0.7zM212.3 108.2h0.7v0.7h-0.7zM214.9 111.7h0.7v0.7h-0.7zM212.2 111.7h0.7v0.7h-0.7zM213 110.6h0.7v0.7h-0.7zM221.6 128.9h0.5v3.8h-0.5zM223.8 137.3h0.5v3.5h-0.5zM223.4 108.5h0.7v0.7h-0.7zM224.3 99h0.7v0.7h-0.7zM223.7 110.1h0.7v0.7h-0.7zM223.1 101.4h0.7v0.7h-0.7zM224.4 112.3h0.7v0.7h-0.7zM222.7 105.1h0.7v0.7h-0.7zM222.7 111.6h0.7v0.7h-0.7zM223 98.6h0.7v0.7h-0.7zM222.7 110.4h0.7v0.7h-0.7zM222.3 95.6h0.7v0.7h-0.7zM222.1 112.1h0.7v0.7h-0.7zM223.5 107.6h0.7v0.7h-0.7zM222.9 112.2h0.7v0.7h-0.7zM221.8 104.7h0.7v0.7h-0.7zM222.7 103.7h0.7v0.7h-0.7zM224 106.4h0.7v0.7h-0.7z"/><path fill="#2a6dbb" d="M49.2 109.4h0.7v0.7h-0.7zM55 118.1h0.7v0.7h-0.7zM56.1 115.8h0.7v0.7h-0.7zM56.8 112.6h0.7v0.7h-0.7zM55.8 99.3h0.7v0.7h-0.7zM55.7 116.4h0.7v0.7h-0.7zM47.8 108.5h0.7v0.7h-0.7zM56.3 107h0.7v0.7h-0.7zM51.8 117.8h0.7v0.7h-0.7zM53 115.7h0.7v0.7h-0.7zM54.5 107.4h0.7v0.7h-0.7zM56.2 111.3h0.7v0.7h-0.7zM57.2 118.4h0.7v0.7h-0.7zM58.7 100.2h0.7v0.7h-0.7zM55.6 118.1h0.7v0.7h-0.7zM51.1 107.7h0.7v0.7h-0.7zM47.8 115.8h0.7v0.7h-0.7zM47.8 104.7h0.7v0.7h-0.7zM80.4 121.1h0.7v0.7h-0.7zM83 118.1h0.7v0.7h-0.7zM80.8 120h0.7v0.7h-0.7zM78.2 114.4h0.7v0.7h-0.7zM82.8 120.6h0.7v0.7h-0.7zM85.3 117.6h0.7v0.7h-0.7zM83.9 121.8h0.7v0.7h-0.7zM81.2 120.5h0.7v0.7h-0.7zM81.5 114.1h0.7v0.7h-0.7zM83.3 107.3h0.7v0.7h-0.7zM84 121h0.7v0.7h-0.7zM79.3 112.6h0.7v0.7h-0.7zM76 103.9h0.7v0.7h-0.7zM82 117.9h0.7v0.7h-0.7zM105.8 101.5h0.7v0.7h-0.7zM99.6 115.5h0.7v0.7h-0.7zM99.7 112.4h0.7v0.7h-0.7zM104.5 110.9h0.7v0.7h-0.7zM100.4 111.8h0.7v0.7h-0.7zM101.4 108.1h0.7v0.7h-0.7zM104.8 115.3h0.7v0.7h-0.7zM128.4 106.2h0.7v0.7h-0.7zM120.3 112.9h0.7v0.7h-0.7zM120 99.3h0.7v0.7h-0.7zM128.3 98.1h0.7v0.7h-0.7zM120.4 108.1h0.7v0.7h-0.7zM124.9 100.5h0.7v0.7h-0.7zM127.1 112.3h0.7v0.7h-0.7zM120 106h0.7v0.7h-0.7zM120 109.2h0.7v0.7h-0.7zM141.9 115h0.7v0.7h-0.7zM141 113.1h0.7v0.7h-0.7zM146.4 108.7h0.7v0.7h-0.7zM158.9 107.8h0.7v0.7h-0.7zM162.2 108.2h0.7v0.7h-0.7zM161.6 107.1h0.7v0.7h-0.7zM164.4 101.1h0.7v0.7h-0.7zM160.2 109.8h0.7v0.7h-0.7zM159.7 111.2h0.7v0.7h-0.7zM177.1 111.9h0.7v0.7h-0.7zM179.2 111.6h0.7v0.7h-0.7zM190.1 114.6h0.7v0.7h-0.7zM191.8 114.7h0.7v0.7h-0.7zM190.8 115.5h0.7v0.7h-0.7zM190.3 107.2h0.7v0.7h-0.7zM192.9 115.9h0.7v0.7h-0.7zM204.9 107.4h0.7v0.7h-0.7zM205.3 111.2h0.7v0.7h-0.7zM203.6 111.9h0.7v0.7h-0.7zM202.2 112h0.7v0.7h-0.7zM212.3 110.3h0.7v0.7h-0.7zM214.9 110.2h0.7v0.7h-0.7zM215.2 106.7h0.7v0.7h-0.7zM214.1 111h0.7v0.7h-0.7zM222.7 101.7h0.7v0.7h-0.7zM223.9 112.4h0.7v0.7h-0.7z"/><path fill="#2669b8" d="M53 115.4h0.7v0.7h-0.7zM55.2 111.8h0.7v0.7h-0.7zM58.6 115.2h0.7v0.7h-0.7zM58.8 117.4h0.7v0.7h-0.7zM49.9 116.4h0.7v0.7h-0.7zM53.1 118.4h0.7v0.7h-0.7zM56.8 118.8h0.7v0.7h-0.7zM48.9 114.7h0.7v0.7h-0.7zM59.4 117.6h0.7v0.7h-0.7zM48.8 117.1h0.7v0.7h-0.7zM51.1 101.8h0.7v0.7h-0.7zM58.8 115.6h0.7v0.7h-0.7zM51.8 110.4h0.7v0.7h-0.7zM56.1 117.6h0.7v0.7h-0.7zM54.8 99.2h0.7v0.7h-0.7zM52.3 100h0.7v0.7h-0.7zM60.3 114.9h0.7v0.7h-0.7zM48.4 117.6h0.7v0.7h-0.7zM82.5 120.8h0.7v0.7h-0.7zM83.1 121.5h0.7v0.7h-0.7zM80 115.8h0.7v0.7h-0.7zM82.9 115.5h0.7v0.7h-0.7zM83.3 119.4h0.7v0.7h-0.7zM79.5 117.5h0.7v0.7h-0.7zM83.4 114.5h0.7v0.7h-0.7zM78.4 114.4h0.7v0.7h-0.7zM81.5 116.8h0.7v0.7h-0.7zM75.3 118h0.7v0.7h-0.7zM78.1 122.8h0.7v0.7h-0.7zM83.3 108.6h0.7v0.7h-0.7zM77.4 120.9h0.7v0.7h-0.7zM80.1 122.8h0.7v0.7h-0.7zM81.6 123h0.7v0.7h-0.7zM82.1 122.3h0.7v0.7h-0.7zM103.2 99.5h0.7v0.7h-0.7zM103.5 110.3h0.7v0.7h-0.7zM107.9 105.6h0.7v0.7h-0.7zM100.9 107h0.7v0.7h-0.7zM107.3 113h0.7v0.7h-0.7zM102.7 113.4h0.7v0.7h-0.7zM107.6 108.7h0.7v0.7h-0.7zM107.2 100.1h0.7v0.7h-0.7zM122.5 113.7h0.7v0.7h-0.7zM122.4 112.3h0.7v0.7h-0.7zM120.6 98.2h0.7v0.7h-0.7zM126.1 105.8h0.7v0.7h-0.7zM126 111.1h0.7v0.7h-0.7zM124.7 93.1h0.7v0.7h-0.7zM120.3 105.2h0.7v0.7h-0.7zM123.7 103.9h0.7v0.7h-0.7zM123.5 112.5h0.7v0.7h-0.7zM122.2 114.6h0.7v0.7h-0.7zM121.2 111.6h0.7v0.7h-0.7zM123.1 88h0.7v0.7h-0.7zM124.6 85.5h0.7v0.7h-0.7zM125.4 106.9h0.7v0.7h-0.7zM128.1 114.9h0.7v0.7h-0.7zM123 113h0.7v0.7h-0.7zM127.5 90.3h0.7v0.7h-0.7zM125.9 110.4h0.7v0.7h-0.7zM127.9 111h0.7v0.7h-0.7zM126.7 102.9h0.7v0.7h-0.7zM127.6 113.3h0.7v0.7h-0.7zM127 110.2h0.7v0.7h-0.7zM126.2 111.9h0.7v0.7h-0.7zM123.7 91.6h0.7v0.7h-0.7zM122.8 111.2h0.7v0.7h-0.7zM123.9 111.6h0.7v0.7h-0.7zM120.7 109.4h0.7v0.7h-0.7zM122.2 109.2h0.7v0.7h-0.7zM141.7 111.4h0.7v0.7h-0.7zM139.2 108h0.7v0.7h-0.7zM139.7 114.7h0.7v0.7h-0.7zM146.4 102.2h0.7v0.7h-0.7zM140.4 107.7h0.7v0.7h-0.7zM143.9 108.8h0.7v0.7h-0.7zM142.8 113.3h0.7v0.7h-0.7zM139.6 115.1h0.7v0.7h-0.7zM143.5 111.3h0.7v0.7h-0.7zM142.4 115h0.7v0.7h-0.7zM141.3 101.5h0.7v0.7h-0.7zM164.2 109.4h0.7v0.7h-0.7zM165 107.5h0.7v0.7h-0.7zM158.3 101.6h0.7v0.7h-0.7zM157.6 105.7h0.7v0.7h-0.7zM162.8 102h0.7v0.7h-0.7zM160.3 104.5h0.7v0.7h-0.7zM163.9 109.2h0.7v0.7h-0.7zM158.7 109.3h0.7v0.7h-0.7zM158 108.5h0.7v0.7h-0.7zM158.7 108.5h0.7v0.7h-0.7zM158.5 106.6h0.7v0.7h-0.7zM157.8 109.2h0.7v0.7h-0.7zM177.4 105.3h0.7v0.7h-0.7zM176.4 107.2h0.7v0.7h-0.7zM178.1 103.7h0.7v0.7h-0.7zM177.7 113.9h0.7v0.7h-0.7zM177.4 110.2h0.7v0.7h-0.7zM178.6 104.1h0.7v0.7h-0.7zM177.7 111.6h0.7v0.7h-0.7zM177.6 112.6h0.7v0.7h-0.7zM192.9 113.1h0.7v0.7h-0.7zM190.1 104.9h0.7v0.7h-0.7zM193.1 109.1h0.7v0.7h-0.7zM194.3 112.6h0.7v0.7h-0.7zM190 112.9h0.7v0.7h-0.7zM194.3 104.4h0.7v0.7h-0.7zM189.8 102.1h0.7v0.7h-0.7zM191.6 114.6h0.7v0.7h-0.7zM194 108.7h0.7v0.7h-0.7zM189.4 113.8h0.7v0.7h-0.7zM191 109.5h0.7v0.7h-0.7zM191.4 110.1h0.7v0.7h-0.7zM189.8 111h0.7v0.7h-0.7zM189.7 111.7h0.7v0.7h-0.7zM191.4 112.2h0.7v0.7h-0.7zM202.7 108.2h0.7v0.7h-0.7zM205.2 107.5h0.7v0.7h-0.7zM202 111.4h0.7v0.7h-0.7zM215.3 108.1h0.7v0.7h-0.7zM213.9 111.4h0.7v0.7h-0.7zM213.5 108.1h0.7v0.7h-0.7zM213.1 107.1h0.7v0.7h-0.7zM215 112.2h0.7v0.7h-0.7zM215.1 108.8h0.7v0.7h-0.7zM214.6 105.8h0.7v0.7h-0.7zM212.5 112h0.7v0.7h-0.7zM223.2 90.5h0.7v0.7h-0.7zM222.5 104.2h0.7v0.7h-0.7zM224 111.4h0.7v0.7h-0.7z"/><path fill="#3174c0" d="M51.1 111.2h0.7v0.7h-0.7zM57.5 110h0.7v0.7h-0.7zM57 114.3h0.7v0.7h-0.7zM51.2 118.6h0.7v0.7h-0.7zM50.2 104.6h0.7v0.7h-0.7zM51.1 114.2h0.7v0.7h-0.7zM50.2 108h0.7v0.7h-0.7zM55.2 117.9h0.7v0.7h-0.7zM48.4 114.8h0.7v0.7h-0.7zM50.8 111.6h0.7v0.7h-0.7zM54.4 103.1h0.7v0.7h-0.7zM60.4 117.4h0.7v0.7h-0.7zM57.8 108h0.7v0.7h-0.7zM59.5 114.4h0.7v0.7h-0.7zM54 118.9h0.7v0.7h-0.7zM77.5 112.5h0.7v0.7h-0.7zM79.6 120.2h0.7v0.7h-0.7zM84 121h0.7v0.7h-0.7zM75.4 117.4h0.7v0.7h-0.7zM76.6 116.6h0.7v0.7h-0.7zM82.1 115.3h0.7v0.7h-0.7zM80.4 122.7h0.7v0.7h-0.7zM76.6 119.1h0.7v0.7h-0.7zM75.2 123.3h0.7v0.7h-0.7zM99.7 115.8h0.7v0.7h-0.7zM99.7 97.3h0.7v0.7h-0.7zM103.1 113.5h0.7v0.7h-0.7zM98.7 113h0.7v0.7h-0.7zM105.1 105.4h0.7v0.7h-0.7zM100.7 106.3h0.7v0.7h-0.7zM105.3 112.6h0.7v0.7h-0.7zM106.8 114.3h0.7v0.7h-0.7zM107.7 112.3h0.7v0.7h-0.7zM105.1 116.2h0.7v0.7h-0.7zM126.4 93.6h0.7v0.7h-0.7zM128.4 111.7h0.7v0.7h-0.7zM121 112.8h0.7v0.7h-0.7zM124 114.8h0.7v0.7h-0.7zM125.9 107.9h0.7v0.7h-0.7zM124.9 110.7h0.7v0.7h-0.7zM140.5 114.5h0.7v0.7h-0.7zM143.6 113.5h0.7v0.7h-0.7zM145.9 111.1h0.7v0.7h-0.7zM141.4 113.3h0.7v0.7h-0.7zM139.1 113.6h0.7v0.7h-0.7zM142.5 108h0.7v0.7h-0.7zM140.4 108.5h0.7v0.7h-0.7zM141.7 103.3h0.7v0.7h-0.7zM157.6 110.7h0.7v0.7h-0.7zM158.2 109.8h0.7v0.7h-0.7zM163.2 110h0.7v0.7h-0.7zM164.7 111h0.7v0.7h-0.7zM164.5 108.2h0.7v0.7h-0.7zM162.9 110.7h0.7v0.7h-0.7zM162.2 109h0.7v0.7h-0.7zM159.1 106.4h0.7v0.7h-0.7zM164.3 108.7h0.7v0.7h-0.7zM178.3 114.1h0.7v0.7h-0.7zM177 113.5h0.7v0.7h-0.7zM176.9 110.3h0.7v0.7h-0.7zM178.7 111.4h0.7v0.7h-0.7zM174.8 114h0.7v0.7h-0.7zM174.9 107h0.7v0.7h-0.7zM179.6 113.2h0.7v0.7h-0.7zM175.4 111.9h0.7v0.7h-0.7zM190.8 108.5h0.7v0.7h-0.7zM193.7 108.1h0.7v0.7h-0.7zM191.2 110.9h0.7v0.7h-0.7zM194.5 101h0.7v0.7h-0.7zM194.4 98.8h0.7v0.7h-0.7zM205 106h0.7v0.7h-0.7zM203.2 111.9h0.7v0.7h-0.7zM205.4 111.2h0.7v0.7h-0.7zM215.4 111.3h0.7v0.7h-0.7zM214.1 112.2h0.7v0.7h-0.7zM215.2 109.3h0.7v0.7h-0.7zM213.9 111.3h0.7v0.7h-0.7zM222.9 110.7h0.7v0.7h-0.7zM223.6 108.7h0.7v0.7h-0.7zM223.7 105.1h0.7v0.7h-0.7zM223.2 105.5h0.7v0.7h-0.7z"/><path fill="#2464b0" d="M58.1 112h0.7v0.7h-0.7zM47.4 112.6h0.7v0.7h-0.7zM60 111h0.7v0.7h-0.7zM47.5 116.7h0.7v0.7h-0.7zM55.8 118.5h0.7v0.7h-0.7zM48.8 116.3h0.7v0.7h-0.7zM56.9 116.4h0.7v0.7h-0.7zM84.5 121.1h0.7v0.7h-0.7zM85 121h0.7v0.7h-0.7zM84.6 118.6h0.7v0.7h-0.7zM81.3 122.1h0.7v0.7h-0.7zM81.4 122.8h0.7v0.7h-0.7zM80.9 121.5h0.7v0.7h-0.7zM83.2 116.6h0.7v0.7h-0.7zM82.2 123.3h0.7v0.7h-0.7zM76.8 119.1h0.7v0.7h-0.7zM77.4 114.5h0.7v0.7h-0.7zM79.2 122.1h0.7v0.7h-0.7zM103.4 113.5h0.7v0.7h-0.7zM104.3 109.3h0.7v0.7h-0.7zM101.4 110.9h0.7v0.7h-0.7zM102.7 103.5h0.7v0.7h-0.7zM100.3 114.9h0.7v0.7h-0.7zM98.9 107.2h0.7v0.7h-0.7zM108 110h0.7v0.7h-0.7zM99.7 113.8h0.7v0.7h-0.7zM106.7 114.3h0.7v0.7h-0.7zM102.7 106.3h0.7v0.7h-0.7zM104.6 106.6h0.7v0.7h-0.7zM107.5 112.3h0.7v0.7h-0.7zM127.5 111.3h0.7v0.7h-0.7zM126.7 110.9h0.7v0.7h-0.7zM126.7 112.6h0.7v0.7h-0.7zM123.4 109h0.7v0.7h-0.7zM123.2 107.6h0.7v0.7h-0.7zM121.2 111.5h0.7v0.7h-0.7zM124.8 112.8h0.7v0.7h-0.7zM127 109.3h0.7v0.7h-0.7zM143.6 109.8h0.7v0.7h-0.7zM144.1 113h0.7v0.7h-0.7zM141.2 113.8h0.7v0.7h-0.7zM145.7 114.3h0.7v0.7h-0.7zM142.6 111.7h0.7v0.7h-0.7zM161 108.9h0.7v0.7h-0.7zM157.5 106.6h0.7v0.7h-0.7zM164.3 109.6h0.7v0.7h-0.7zM161.8 105.2h0.7v0.7h-0.7zM160 100.8h0.7v0.7h-0.7zM179.7 114.1h0.7v0.7h-0.7zM176.6 105.1h0.7v0.7h-0.7zM176.2 112.9h0.7v0.7h-0.7zM176.2 108.8h0.7v0.7h-0.7zM176.1 107.2h0.7v0.7h-0.7zM178.1 113.6h0.7v0.7h-0.7zM179.9 112.3h0.7v0.7h-0.7zM191 111.7h0.7v0.7h-0.7zM193.3 113.4h0.7v0.7h-0.7zM191.7 105.4h0.7v0.7h-0.7zM192.5 114.7h0.7v0.7h-0.7zM190.2 106.9h0.7v0.7h-0.7zM192.8 113.9h0.7v0.7h-0.7zM202.8 106.4h0.7v0.7h-0.7zM201.6 112.2h0.7v0.7h-0.7zM205.3 109.3h0.7v0.7h-0.7zM201.7 104.5h0.7v0.7h-0.7zM204.6 103.3h0.7v0.7h-0.7zM214.4 107.5h0.7v0.7h-0.7zM214 110.8h0.7v0.7h-0.7zM222.3 109.2h0.7v0.7h-0.7zM222.7 102.9h0.7v0.7h-0.7z"/><path fill="#e8e8e8" d="M64.6 123.9h0.3v2.5h-0.3zM136.5 115.7h0.3v1.7h-0.3zM152.2 123h0.3v3.8h-0.3zM230 125.8h0.3v2.5h-0.3z"/><path fill="#d0e8fa" d="M99.9 116.9h0.3v25.2h-0.3zM106.2 124.9h0.3v5.1h-0.3zM122.1 112.6h0.3v2.9h-0.3zM141.2 120.7h0.3v8h-0.3zM146.6 113.2h0.3v1.8h-0.3zM213.7 115.6h0.3v7.2h-0.3zM221.6 111.1h0.3v22.5h-0.3z"/><path fill="#c8c4c0" d="M134.2 124.2h0.3v3.6h-0.3zM150.4 118h0.3v10.1h-0.3zM154.9 118.2h0.3v0.2h-0.3zM155.8 115.7h0.3v0.4h-0.3zM172.4 119.5h0.3v4.2h-0.3zM196.4 110.8h0.3v1.8h-0.3zM232.7 124.7h0.3v3.5h-0.3z"/><rect x="46.90" y="162.00" width="14.10" height="3.2" fill="#e4f0fa"/><rect x="74.80" y="162.00" width="11.20" height="3.2" fill="#e4f0fa"/><rect x="98.50" y="162.00" width="10.30" height="3.2" fill="#e4f0fa"/><rect x="119.80" y="162.00" width="9.20" height="3.2" fill="#e4f0fa"/><rect x="139.00" y="162.00" width="8.10" height="3.2" fill="#e4f0fa"/><rect x="157.50" y="162.00" width="8.10" height="3.2" fill="#e4f0fa"/><rect x="174.80" y="162.00" width="6.40" height="3.2" fill="#e4f0fa"/><rect x="189.20" y="162.00" width="5.90" height="3.2" fill="#e4f0fa"/><rect x="201.40" y="162.00" width="4.90" height="3.2" fill="#e4f0fa"/><rect x="211.90" y="162.00" width="4.30" height="3.2" fill="#e4f0fa"/><rect x="221.60" y="162.00" width="3.50" height="3.2" fill="#e4f0fa"/><rect x="244.20" y="143.00" width="0.9" height="18.80" fill="#8cc3ef"/><rect x="244.50" y="150.00" width="0.6" height="11.80" fill="#2b6cb6"/></g>
<line x1="30.30" y1="26.80" x2="30.30" y2="167.8" stroke="#2e2e2e" stroke-width="1.3"/><line x1="29.70" y1="167.3" x2="247.00" y2="167.3" stroke="#2e2e2e" stroke-width="1.2"/><line x1="27.50" y1="161.60" x2="30.30" y2="161.60" stroke="#2e2e2e" stroke-width="0.9"/><text x="22.60" y="163.65" font-size="6.1" text-anchor="middle" fill="#333" stroke="#333" stroke-width="0.18">0</text><line x1="27.50" y1="133.70" x2="30.30" y2="133.70" stroke="#2e2e2e" stroke-width="0.9"/><text x="22.60" y="135.75" font-size="6.1" text-anchor="middle" fill="#333" stroke="#333" stroke-width="0.18">2</text><line x1="27.50" y1="105.80" x2="30.30" y2="105.80" stroke="#2e2e2e" stroke-width="0.9"/><text x="22.60" y="107.85" font-size="6.1" text-anchor="middle" fill="#333" stroke="#333" stroke-width="0.18">4</text><line x1="27.50" y1="77.90" x2="30.30" y2="77.90" stroke="#2e2e2e" stroke-width="0.9"/><text x="22.60" y="79.95" font-size="6.1" text-anchor="middle" fill="#333" stroke="#333" stroke-width="0.18">6</text><line x1="27.50" y1="50.00" x2="30.30" y2="50.00" stroke="#2e2e2e" stroke-width="0.9"/><text x="22.60" y="52.05" font-size="6.1" text-anchor="middle" fill="#333" stroke="#333" stroke-width="0.18">8</text><line x1="33.00" y1="59.77" x2="245.00" y2="59.77" stroke="#1e1e1e" stroke-width="1.1" stroke-dasharray="2.1 2"/><text transform="translate(40.00,169.8) rotate(-90)" font-size="6.4" text-anchor="end" fill="#333" stroke="#333" stroke-width="0.22">1</text><text transform="translate(55.60,169.8) rotate(-90)" font-size="6.4" text-anchor="end" fill="#333" stroke="#333" stroke-width="0.22">2</text><text transform="translate(68.80,169.8) rotate(-90)" font-size="6.4" text-anchor="end" fill="#333" stroke="#333" stroke-width="0.22">3</text><text transform="translate(82.50,169.8) rotate(-90)" font-size="6.4" text-anchor="end" fill="#333" stroke="#333" stroke-width="0.22">4</text><text transform="translate(94.40,169.8) rotate(-90)" font-size="6.4" text-anchor="end" fill="#333" stroke="#333" stroke-width="0.22">5</text><text transform="translate(106.00,169.8) rotate(-90)" font-size="6.4" text-anchor="end" fill="#333" stroke="#333" stroke-width="0.22">6</text><text transform="translate(115.80,169.8) rotate(-90)" font-size="6.4" text-anchor="end" fill="#333" stroke="#333" stroke-width="0.22">7</text><text transform="translate(126.10,169.8) rotate(-90)" font-size="6.4" text-anchor="end" fill="#333" stroke="#333" stroke-width="0.22">8</text><text transform="translate(136.00,169.8) rotate(-90)" font-size="6.4" text-anchor="end" fill="#333" stroke="#333" stroke-width="0.22">9</text><text transform="translate(144.80,169.8) rotate(-90)" font-size="6.4" text-anchor="end" fill="#333" stroke="#333" stroke-width="0.22">10</text><text transform="translate(154.30,169.8) rotate(-90)" font-size="6.4" text-anchor="end" fill="#333" stroke="#333" stroke-width="0.22">11</text><text transform="translate(163.30,169.8) rotate(-90)" font-size="6.4" text-anchor="end" fill="#333" stroke="#333" stroke-width="0.22">12</text><text transform="translate(171.30,169.8) rotate(-90)" font-size="6.4" text-anchor="end" fill="#333" stroke="#333" stroke-width="0.22">13</text><text transform="translate(179.40,169.8) rotate(-90)" font-size="6.4" text-anchor="end" fill="#333" stroke="#333" stroke-width="0.22">14</text><text transform="translate(186.30,169.8) rotate(-90)" font-size="6.4" text-anchor="end" fill="#333" stroke="#333" stroke-width="0.22">15</text><text transform="translate(194.00,169.8) rotate(-90)" font-size="6.4" text-anchor="end" fill="#333" stroke="#333" stroke-width="0.22">16</text><text transform="translate(199.80,169.8) rotate(-90)" font-size="6.4" text-anchor="end" fill="#333" stroke="#333" stroke-width="0.22">17</text><text transform="translate(205.60,169.8) rotate(-90)" font-size="6.4" text-anchor="end" fill="#333" stroke="#333" stroke-width="0.22">18</text><text transform="translate(209.40,169.8) rotate(-90)" font-size="6.4" text-anchor="end" fill="#333" stroke="#333" stroke-width="0.22">19</text><text transform="translate(213.10,169.8) rotate(-90)" font-size="6.4" text-anchor="end" fill="#333" stroke="#333" stroke-width="0.22">20</text><text transform="translate(217.10,169.8) rotate(-90)" font-size="6.4" text-anchor="end" fill="#333" stroke="#333" stroke-width="0.22">21</text><text transform="translate(222.90,169.8) rotate(-90)" font-size="6.4" text-anchor="end" fill="#333" stroke="#333" stroke-width="0.22">22</text><text transform="translate(232.10,169.8) rotate(-90)" font-size="6.4" text-anchor="end" fill="#333" stroke="#333" stroke-width="0.22">23</text><text transform="translate(241.90,169.8) rotate(-90)" font-size="6.4" text-anchor="end" fill="#333" stroke="#333" stroke-width="0.22">25</text>
<g><rect x="303.17" y="23.10" width="15.26" height="139.40" fill="#e6e6e6"/><rect x="331.74" y="23.10" width="12.08" height="139.40" fill="#e6e6e6"/><rect x="356.01" y="23.10" width="11.16" height="139.40" fill="#e6e6e6"/><rect x="377.82" y="23.10" width="10.04" height="139.40" fill="#e6e6e6"/><rect x="397.48" y="23.10" width="8.91" height="139.40" fill="#e6e6e6"/><rect x="416.43" y="23.10" width="8.91" height="139.40" fill="#e6e6e6"/><rect x="434.14" y="23.10" width="7.17" height="139.40" fill="#e6e6e6"/><rect x="448.99" y="23.10" width="6.04" height="139.40" fill="#e6e6e6"/><rect x="461.59" y="23.10" width="5.43" height="139.40" fill="#e6e6e6"/><rect x="471.93" y="23.10" width="5.12" height="139.40" fill="#e6e6e6"/><rect x="481.86" y="23.10" width="4.40" height="139.40" fill="#e6e6e6"/><rect x="496.61" y="23.10" width="9.32" height="139.40" fill="#e6e6e6"/><path fill="#47423f" d="M287.2 123.7h7.2v37.7h-7.2zM296.3 123.7h6v37.7h-6zM287.2 121.5h0.8v4.2h-0.8zM288.5 121.4h0.8v4.3h-0.8zM289 116h0.8v9.7h-0.8zM289.9 115.2h0.8v10.5h-0.8zM290.3 119.9h0.8v5.8h-0.8zM291.2 116h0.8v9.7h-0.8zM293.5 117.5h0.8v8.2h-0.8zM293.9 118.9h0.8v6.8h-0.8zM293 114.2h0.8v1.3h-0.8zM293 109.6h0.8v2.3h-0.8zM293 97.2h0.8v1.2h-0.8zM293 88.3h0.8v1.3h-0.8zM293 83.1h0.8v2.1h-0.8zM293 82.1h0.8v1.9h-0.8zM296.5 114h0.8v1.5h-0.8zM296.5 109.8h0.8v0.7h-0.8zM319.3 125h11.5v36.4h-11.5zM319.3 112.2h0.8v14.8h-0.8zM320.2 113.4h0.8v13.6h-0.8zM321.5 122.2h0.8v4.8h-0.8zM322.4 120h0.8v7h-0.8zM322.9 119.3h0.8v7.7h-0.8zM323.8 123.3h0.8v3.7h-0.8zM324.7 115.5h0.8v11.5h-0.8zM326.5 118.3h0.8v8.7h-0.8zM328.3 119h0.8v8h-0.8zM328.7 117.4h0.8v9.6h-0.8zM329.6 120.5h0.8v6.5h-0.8zM320.7 118.4h0.8v1.4h-0.8zM320.7 101.7h0.8v1.8h-0.8zM320.7 94.9h0.8v1.7h-0.8zM320.7 95h0.8v2h-0.8zM328.7 102.8h0.8v1.8h-0.8zM328.7 95.6h0.8v1.6h-0.8zM328.7 89.1h0.8v1.4h-0.8zM344.7 122h10.3v39.4h-10.3zM344.7 118.6h0.8v5.4h-0.8zM346.1 118.6h0.8v5.4h-0.8zM346.5 113.9h0.8v10.1h-0.8zM348.3 113.9h0.8v10.1h-0.8zM351.9 114.7h0.8v9.3h-0.8zM352.4 112.8h0.8v11.2h-0.8zM353.7 118.8h0.8v5.2h-0.8zM354.2 116.1h0.8v7.9h-0.8zM348 114.3h0.8v1.2h-0.8zM348 112.7h0.8v1.3h-0.8zM348 95.5h0.8v2.1h-0.8zM368.3 123h8.7v38.4h-8.7zM375.5 118.3h0.8v6.7h-0.8zM371 109h0.8v0.8h-0.8zM388.8 119.6h2.4v41.8h-2.4zM392.2 119.6h4.9v41.8h-4.9zM388.8 111.6h0.8v10h-0.8zM389.2 109.8h0.8v11.8h-0.8zM389.7 111.5h0.8v10.1h-0.8zM390.1 105.8h0.8v15.8h-0.8zM390.6 113.7h0.8v7.9h-0.8zM391 117.4h0.8v4.2h-0.8zM392.4 111h0.8v10.6h-0.8zM392.8 110.9h0.8v10.7h-0.8zM394.6 113.1h0.8v8.5h-0.8zM395.1 111.5h0.8v10.1h-0.8zM395.5 115h0.8v6.6h-0.8zM392 109.3h0.8v1.4h-0.8zM392 100.3h0.8v1.2h-0.8zM407.6 120h7.9v41.4h-7.9zM407.6 109.8h0.8v12.2h-0.8zM408.1 109.8h0.8v12.2h-0.8zM410.3 114.7h0.8v7.3h-0.8zM411.7 112.5h0.8v9.5h-0.8zM412.6 114.8h0.8v7.2h-0.8zM413.5 115.4h0.8v6.6h-0.8zM410 106.3h0.8v2.1h-0.8zM427 122.3h6.3v39.1h-6.3zM427.9 113.7h0.8v10.6h-0.8zM428.3 117.7h0.8v6.6h-0.8zM429.7 120.2h0.8v4.1h-0.8zM430.1 115.6h0.8v8.7h-0.8zM430.6 115.9h0.8v8.4h-0.8zM431 116.4h0.8v7.9h-0.8zM430 100.7h0.8v1h-0.8zM442.7 119.6h5.3v41.8h-5.3zM444.1 116.9h0.8v4.7h-0.8zM445.4 111.4h0.8v10.2h-0.8zM445 107.2h0.8v2h-0.8zM445 105.3h0.8v1.3h-0.8zM445 102.9h0.8v1.1h-0.8zM445 101.5h0.8v2.5h-0.8zM445 97.4h0.8v1h-0.8zM445 96.9h0.8v2.2h-0.8zM456.6 119.6h3.8v41.8h-3.8zM457 111.7h0.8v9.9h-0.8zM459.3 113.4h0.8v8.2h-0.8zM457.5 109.3h0.8v1.9h-0.8zM457.5 106.3h0.8v0.7h-0.8zM457.5 105.4h0.8v0.7h-0.8zM457.5 92.9h0.8v1.2h-0.8zM468 113h3.1v48.4h-3.1zM468 104.9h0.8v10.1h-0.8zM468.9 105.1h0.8v9.9h-0.8zM469.8 102h0.8v13h-0.8zM470.7 110h0.8v5h-0.8zM470 106.3h0.8v2.3h-0.8zM470 102.6h0.8v2.5h-0.8zM470 99.3h0.8v1.4h-0.8zM470 96.5h0.8v1.2h-0.8zM478.7 114h1.7v47.4h-1.7zM479.1 108.6h0.8v7.4h-0.8zM480 109.7h0.8v6.3h-0.8zM486.9 125h9v36.4h-9zM489.6 119.3h0.8v7.7h-0.8zM491.8 118.7h0.8v8.3h-0.8zM492.7 115.6h0.8v11.4h-0.8zM494.5 116h0.8v11h-0.8zM495.4 116.2h0.8v10.8h-0.8zM490 117.8h0.8v2.1h-0.8zM490 115.5h0.8v1.2h-0.8z"/><path fill="#433f3d" d="M287.6 117.1h0.8v8.6h-0.8zM289.4 99.5h0.8v26.2h-0.8zM290.8 120.8h0.8v4.9h-0.8zM292.6 121.7h0.8v4h-0.8zM296.6 119.3h0.8v6.4h-0.8zM297.1 116h0.8v9.7h-0.8zM299.3 120.1h0.8v5.6h-0.8zM300.2 115.5h0.8v10.2h-0.8zM301.6 117.7h0.8v8h-0.8zM293 116.3h0.8v0.8h-0.8zM293 112.5h0.8v0.6h-0.8zM293 99.6h0.8v0.8h-0.8zM293 96.5h0.8v0.7h-0.8zM293 94.3h0.8v0.7h-0.8zM293 92.6h0.8v1.2h-0.8zM293 86.9h0.8v1.6h-0.8zM296.5 98.4h0.8v0.9h-0.8zM319.7 118.5h0.8v8.5h-0.8zM320.6 119.1h0.8v7.9h-0.8zM324.2 120.3h0.8v6.7h-0.8zM325.1 119h0.8v8h-0.8zM325.6 116.2h0.8v10.8h-0.8zM326 119.5h0.8v7.5h-0.8zM326.9 114.7h0.8v12.3h-0.8zM327.4 117.7h0.8v9.3h-0.8zM320.7 107.1h0.8v2.1h-0.8zM320.7 99.3h0.8v1.1h-0.8zM328.7 110.3h0.8v2.2h-0.8zM328.7 109.5h0.8v1.2h-0.8zM328.7 107.1h0.8v0.7h-0.8zM328.7 99.1h0.8v0.8h-0.8zM328.7 86h0.8v1.1h-0.8zM345.6 104.5h0.8v19.5h-0.8zM348 110.5h0.8v0.7h-0.8zM348 106.5h0.8v1h-0.8zM348 102h0.8v2.2h-0.8zM348 100.1h0.8v1.4h-0.8zM368.8 112.9h0.8v12.1h-0.8zM369.2 113.1h0.8v11.9h-0.8zM370.1 114.6h0.8v10.4h-0.8zM370.6 119.1h0.8v5.9h-0.8zM371.5 116.2h0.8v8.8h-0.8zM371.9 119.1h0.8v5.9h-0.8zM372.8 114.7h0.8v10.3h-0.8zM374.6 117.5h0.8v7.5h-0.8zM375.1 121.1h0.8v3.9h-0.8zM376 118.2h0.8v6.8h-0.8zM371 115.4h0.8v2.2h-0.8zM371 110.5h0.8v1.6h-0.8zM371 104.7h0.8v1.6h-0.8zM393.7 111.8h0.8v9.8h-0.8zM394.2 114.6h0.8v7h-0.8zM396.4 108.4h0.8v13.2h-0.8zM408.5 111.8h0.8v10.2h-0.8zM409.9 118.5h0.8v3.5h-0.8zM410.8 111.2h0.8v10.8h-0.8zM410 98.1h0.8v2.2h-0.8zM429.2 117.6h0.8v6.7h-0.8zM431.5 116.5h0.8v7.8h-0.8zM430 114.9h0.8v0.7h-0.8zM430 109.1h0.8v2.2h-0.8zM430 108.3h0.8v1.1h-0.8zM430 105.1h0.8v0.6h-0.8zM430 102.6h0.8v2h-0.8zM430 99.5h0.8v1.6h-0.8zM443.6 117.5h0.8v4.1h-0.8zM445 116.1h0.8v5.5h-0.8zM446.3 108.6h0.8v13h-0.8zM446.8 111.9h0.8v9.7h-0.8zM447.2 118.1h0.8v3.5h-0.8zM445 112.6h0.8v2h-0.8zM445 92.8h0.8v1.2h-0.8zM456.6 111.9h0.8v9.7h-0.8zM457.9 115.7h0.8v5.9h-0.8zM458.4 118.3h0.8v3.3h-0.8zM458.8 114.8h0.8v6.8h-0.8zM457.5 104.2h0.8v0.8h-0.8zM457.5 103h0.8v1.9h-0.8zM457.5 97.2h0.8v2.2h-0.8zM457.5 94.5h0.8v1h-0.8zM470 98h0.8v1.2h-0.8zM487.3 116.2h0.8v10.8h-0.8zM490.9 115.9h0.8v11.1h-0.8zM491.4 117.2h0.8v9.8h-0.8zM490 112.6h0.8v1.8h-0.8zM490 110.6h0.8v0.9h-0.8z"/><path fill="#504842" d="M288.1 116.2h0.8v9.5h-0.8zM293 119.7h0.8v6h-0.8zM297.5 118.8h0.8v6.9h-0.8zM298 116.4h0.8v9.3h-0.8zM298.9 117.7h0.8v8h-0.8zM293 107.9h0.8v2.4h-0.8zM293 102.2h0.8v1.8h-0.8zM293 100.4h0.8v1.3h-0.8zM293 79h0.8v1.9h-0.8zM296.5 116h0.8v1.2h-0.8zM296.5 105.5h0.8v0.8h-0.8zM296.5 102.3h0.8v1.3h-0.8zM321.1 120.2h0.8v6.8h-0.8zM322 122.2h0.8v4.8h-0.8zM327.8 117.3h0.8v9.7h-0.8zM330.1 118.9h0.8v8.1h-0.8zM320.7 112.5h0.8v1.2h-0.8zM320.7 108.6h0.8v2h-0.8zM320.7 104.8h0.8v0.8h-0.8zM328.7 116.1h0.8v1.5h-0.8zM328.7 113.1h0.8v1.8h-0.8zM328.7 103.4h0.8v1.4h-0.8zM328.7 97.8h0.8v2.1h-0.8zM328.7 92.8h0.8v1.5h-0.8zM345.2 116.6h0.8v7.4h-0.8zM347 113.5h0.8v10.5h-0.8zM347.4 118.4h0.8v5.6h-0.8zM347.9 110.5h0.8v13.5h-0.8zM349.2 119.8h0.8v4.2h-0.8zM351 113.3h0.8v10.7h-0.8zM351.5 110.1h0.8v13.9h-0.8zM353.3 117.6h0.8v6.4h-0.8zM354.6 115.6h0.8v8.4h-0.8zM348 98.4h0.8v1.2h-0.8zM369.7 117.9h0.8v7.1h-0.8zM371 118.9h0.8v6.1h-0.8zM372.4 118h0.8v7h-0.8zM373.7 113.8h0.8v11.2h-0.8zM376.4 117.2h0.8v7.8h-0.8zM392 113h0.8v1.3h-0.8zM392 110.8h0.8v1.3h-0.8zM392 105.2h0.8v2.1h-0.8zM409 117.2h0.8v4.8h-0.8zM411.2 115.3h0.8v6.7h-0.8zM413.9 112.6h0.8v9.4h-0.8zM410 102.4h0.8v1.4h-0.8zM410 99.3h0.8v2h-0.8zM427 117h0.8v7.3h-0.8zM428.8 115h0.8v9.3h-0.8zM431.9 115.5h0.8v8.8h-0.8zM432.8 115.7h0.8v8.6h-0.8zM430 111.5h0.8v1.7h-0.8zM443.2 113.2h0.8v8.4h-0.8zM444.5 115h0.8v6.6h-0.8zM445.9 110.1h0.8v11.5h-0.8zM447.7 115.6h0.8v6h-0.8zM457.5 111.3h0.8v10.3h-0.8zM459.7 113.4h0.8v8.2h-0.8zM457.5 99.4h0.8v2.1h-0.8zM457.5 89.3h0.8v1h-0.8zM468.5 109.8h0.8v5.2h-0.8zM469.4 105.7h0.8v9.3h-0.8zM470.3 103.1h0.8v11.9h-0.8zM470 103.8h0.8v2.2h-0.8zM470 95.8h0.8v2.3h-0.8zM478.7 104.4h0.8v11.6h-0.8zM487.8 120.5h0.8v6.5h-0.8zM488.7 116.5h0.8v10.5h-0.8zM489.1 118.3h0.8v8.7h-0.8zM490 121.4h0.8v5.6h-0.8zM492.3 119.3h0.8v7.7h-0.8zM493.2 120.8h0.8v6.2h-0.8zM493.6 122.1h0.8v4.9h-0.8zM494.1 120.3h0.8v6.7h-0.8z"/><path fill="#4a4644" d="M291.7 113.9h0.8v11.8h-0.8zM292.1 118.3h0.8v7.4h-0.8zM298.4 118.3h0.8v7.4h-0.8zM299.8 117.5h0.8v8.2h-0.8zM300.7 117h0.8v8.7h-0.8zM301.1 113.4h0.8v12.3h-0.8zM302 114.5h0.8v11.2h-0.8zM293 105.4h0.8v1.1h-0.8zM293 85.9h0.8v1.5h-0.8zM296.5 112.5h0.8v1.5h-0.8zM296.5 106.9h0.8v1.8h-0.8zM296.5 101.3h0.8v2.1h-0.8zM296.5 97.2h0.8v1.1h-0.8zM296.5 92.7h0.8v2.3h-0.8zM323.3 116.9h0.8v10.1h-0.8zM329.2 121.7h0.8v5.3h-0.8zM320.7 114.1h0.8v1.2h-0.8zM320.7 110.2h0.8v1h-0.8zM328.7 117.6h0.8v0.9h-0.8zM328.7 100.3h0.8v2.2h-0.8zM328.7 88.2h0.8v1.3h-0.8zM328.7 84.7h0.8v0.9h-0.8zM348.8 104.5h0.8v19.5h-0.8zM349.7 111.9h0.8v12.1h-0.8zM350.1 116h0.8v8h-0.8zM350.6 122h0.8v2h-0.8zM352.8 116.3h0.8v7.7h-0.8zM348 105.6h0.8v2h-0.8zM348 94.8h0.8v1.3h-0.8zM368.3 115.9h0.8v9.1h-0.8zM373.3 108.5h0.8v16.5h-0.8zM374.2 113.6h0.8v11.4h-0.8zM371 113.3h0.8v1.3h-0.8zM371 106.2h0.8v2.2h-0.8zM371 103.7h0.8v1.3h-0.8zM393.3 117.6h0.8v4h-0.8zM396 111.8h0.8v9.8h-0.8zM392 102.1h0.8v1.5h-0.8zM409.4 105h0.8v17h-0.8zM412.1 105h0.8v17h-0.8zM413 113.2h0.8v8.8h-0.8zM414.4 112.6h0.8v9.4h-0.8zM414.8 111.6h0.8v10.4h-0.8zM410 113.1h0.8v2.1h-0.8zM410 110.9h0.8v0.7h-0.8zM410 108.2h0.8v0.7h-0.8zM410 108h0.8v1.8h-0.8zM410 104.3h0.8v1.9h-0.8zM427.4 117.3h0.8v7h-0.8zM432.4 114.8h0.8v9.5h-0.8zM430 113.8h0.8v1.4h-0.8zM442.7 114.2h0.8v7.4h-0.8zM445 110.9h0.8v1.1h-0.8zM457.5 113h0.8v2.4h-0.8zM457.5 102.7h0.8v2h-0.8zM457.5 91.4h0.8v1.9h-0.8zM457.5 87.5h0.8v1.7h-0.8zM479.6 104h0.8v12h-0.8zM486.9 118.7h0.8v8.3h-0.8zM488.2 119.9h0.8v7.1h-0.8zM490.5 118.6h0.8v8.4h-0.8zM495 114.4h0.8v12.6h-0.8zM490 110.2h0.8v2.3h-0.8z"/><path fill="#2669b8" d="M303.5 119h14.4v42.4h-14.4zM305.7 112.3h0.8v8.7h-0.8zM307.1 112.7h0.8v8.3h-0.8zM308 115.8h0.8v5.2h-0.8zM308.4 108.9h0.8v12.1h-0.8zM311.1 117.1h0.8v3.9h-0.8zM312 108.2h0.8v12.8h-0.8zM314.7 117.7h0.8v3.3h-0.8zM316.1 115.5h0.8v5.5h-0.8zM317.4 113h0.8v8h-0.8zM309.2 109.4h0.8v1.4h-0.8zM309.2 106.5h0.8v1.2h-0.8zM309.2 106.1h0.8v1.4h-0.8zM309.2 100.4h0.8v1.9h-0.8zM309.2 87.6h0.8v0.9h-0.8zM309.2 82.3h0.8v1.7h-0.8zM309.2 79.9h0.8v1.3h-0.8zM314 111.8h0.8v1.8h-0.8zM314 110.5h0.8v1.3h-0.8zM314 108.8h0.8v1.2h-0.8zM314 105.7h0.8v2h-0.8zM314 99.2h0.8v2.5h-0.8zM314 92.1h0.8v2.4h-0.8zM314 87.7h0.8v1h-0.8zM332.1 117h11.5v44.4h-11.5zM332.1 117.2h0.8v1.8h-0.8zM333.9 110.8h0.8v8.2h-0.8zM337 110.3h0.8v8.7h-0.8zM337.9 106.5h0.8v12.5h-0.8zM339.3 113.6h0.8v5.4h-0.8zM340.2 107.4h0.8v11.6h-0.8zM340.6 109.6h0.8v9.4h-0.8zM341.5 112.6h0.8v6.4h-0.8zM342.9 113.4h0.8v5.6h-0.8zM336 110.1h0.8v1.1h-0.8zM336 106.3h0.8v2.5h-0.8zM336 100.4h0.8v2.2h-0.8zM336 99.7h0.8v1.7h-0.8zM356.3 117h10.5v44.4h-10.5zM356.3 111.8h0.8v7.2h-0.8zM356.8 110.6h0.8v8.4h-0.8zM357.7 108h0.8v11h-0.8zM359 110.5h0.8v8.5h-0.8zM359.5 110.5h0.8v8.5h-0.8zM361.3 110.9h0.8v8.1h-0.8zM363.1 112.5h0.8v6.5h-0.8zM363.5 111.6h0.8v7.4h-0.8zM364.9 106.9h0.8v12.1h-0.8zM365.3 111.9h0.8v7.1h-0.8zM366.2 114.1h0.8v4.9h-0.8zM357.4 109.8h0.8v0.8h-0.8zM357.4 107h0.8v1.1h-0.8zM357.4 104h0.8v2.2h-0.8zM357.4 100.4h0.8v1.3h-0.8zM357.4 96.2h0.8v1h-0.8zM378.1 115.6h9.4v45.8h-9.4zM378.6 115.6h0.8v2h-0.8zM379.5 110.5h0.8v7.1h-0.8zM379.9 115.1h0.8v2.5h-0.8zM381.3 105.6h0.8v12h-0.8zM382.2 109.9h0.8v7.7h-0.8zM383.1 116.7h0.8v0.9h-0.8zM384 110h0.8v7.6h-0.8zM386.7 109.6h0.8v8h-0.8zM378 107.9h0.8v2.4h-0.8zM378 103.4h0.8v2.3h-0.8zM378 103h0.8v1.6h-0.8zM378 100.1h0.8v1.2h-0.8zM378 98h0.8v1.4h-0.8zM378 93.4h0.8v1.9h-0.8zM378 80.5h0.8v1.6h-0.8zM379.6 107.2h0.8v0.6h-0.8zM379.6 101.8h0.8v2.3h-0.8zM379.6 100.7h0.8v1h-0.8zM379.6 97.7h0.8v0.7h-0.8zM379.6 87.3h0.8v1.2h-0.8zM397.8 118.3h8.3v43.1h-8.3zM397.8 112.2h0.8v8.1h-0.8zM398.7 111.3h0.8v9h-0.8zM399.1 112h0.8v8.3h-0.8zM400 111.7h0.8v8.6h-0.8zM403.6 110.9h0.8v9.4h-0.8zM404.1 109.4h0.8v10.9h-0.8zM401 110.4h0.8v1h-0.8zM401 102.3h0.8v1.3h-0.8zM401 100.4h0.8v0.7h-0.8zM401 99.5h0.8v1.3h-0.8zM416.7 115h8.3v46.4h-8.3zM418.1 107.2h0.8v9.8h-0.8zM419.4 106.5h0.8v10.5h-0.8zM419.9 108.2h0.8v8.8h-0.8zM420.3 106.5h0.8v10.5h-0.8zM420.8 106.7h0.8v10.3h-0.8zM423 110.7h0.8v6.3h-0.8zM423.9 113.4h0.8v3.6h-0.8zM420 104.3h0.8v1.6h-0.8zM434.5 117h6.6v44.4h-6.6zM434.5 108.5h0.8v10.5h-0.8zM435.4 115.4h0.8v3.6h-0.8zM437.2 106.3h0.8v12.7h-0.8zM439.4 113.1h0.8v5.9h-0.8zM440.3 109h0.8v10h-0.8zM437 108.9h0.8v2h-0.8zM437 104.8h0.8v1.5h-0.8zM437 103h0.8v0.8h-0.8zM437 98.8h0.8v1.2h-0.8zM449.2 117h6v44.4h-6zM449.6 115.5h0.8v3.5h-0.8zM450.1 111.7h0.8v7.3h-0.8zM450.5 116.9h0.8v2.1h-0.8zM451.4 111.4h0.8v7.6h-0.8zM451.9 110.1h0.8v8.9h-0.8zM452.3 111h0.8v8h-0.8zM454.1 107.7h0.8v11.3h-0.8zM452 106.9h0.8v1.7h-0.8zM452 98.5h0.8v1.8h-0.8zM452 94.4h0.8v0.9h-0.8zM461.7 116h5v45.4h-5zM461.7 109.9h0.8v8.1h-0.8zM465.3 105.9h0.8v12.1h-0.8zM465.7 103.8h0.8v14.2h-0.8zM464 102.8h0.8v2.5h-0.8zM464 100.6h0.8v2.4h-0.8zM464 96.8h0.8v2.4h-0.8zM472.4 109h4.4v52.4h-4.4zM472.4 99.4h0.8v11.6h-0.8zM473.3 102.9h0.8v8.1h-0.8zM473.8 101.3h0.8v9.7h-0.8zM475.6 101.1h0.8v9.9h-0.8zM474.5 99.8h0.8v1.4h-0.8zM474.5 95.4h0.8v1.9h-0.8zM474.5 93h0.8v2.5h-0.8zM474.5 89.4h0.8v1.6h-0.8zM482.4 112h3.6v49.4h-3.6zM482.4 107.8h0.8v6.2h-0.8zM482.8 102h0.8v12h-0.8zM483.7 108.5h0.8v5.5h-0.8zM484.2 102h0.8v12h-0.8zM485.5 107.2h0.8v6.8h-0.8z"/><path fill="#3174c0" d="M303.5 111.8h0.8v9.2h-0.8zM306.6 106.5h0.8v14.5h-0.8zM310.7 110.3h0.8v10.7h-0.8zM313.4 111.7h0.8v9.3h-0.8zM333 110h0.8v9h-0.8zM333.4 109.4h0.8v9.6h-0.8zM339.7 105h0.8v14h-0.8zM341.1 112.2h0.8v6.8h-0.8zM336 103.7h0.8v1.6h-0.8zM361.7 102.9h0.8v16.1h-0.8zM362.6 107.1h0.8v11.9h-0.8zM357.4 102h0.8v1.8h-0.8zM357.4 98.5h0.8v2.5h-0.8zM380.8 112.2h0.8v5.4h-0.8zM382.6 110.6h0.8v7h-0.8zM386.2 107h0.8v10.6h-0.8zM387.1 109.7h0.8v7.9h-0.8zM378 96.4h0.8v0.8h-0.8zM378 92h0.8v0.9h-0.8zM379.6 104.5h0.8v1.2h-0.8zM379.6 95h0.8v0.7h-0.8zM398.2 113.3h0.8v7h-0.8zM400.9 106.4h0.8v13.9h-0.8zM403.2 109.7h0.8v10.6h-0.8zM405.4 113.1h0.8v7.2h-0.8zM401 109.7h0.8v0.6h-0.8zM417.6 106.8h0.8v10.2h-0.8zM418.5 110h0.8v7h-0.8zM419 112h0.8v5h-0.8zM423.5 108h0.8v9h-0.8zM424.4 106.7h0.8v10.3h-0.8zM420 104.8h0.8v0.9h-0.8zM420 99.5h0.8v1.8h-0.8zM434.9 110.2h0.8v8.8h-0.8zM436.7 111.3h0.8v7.7h-0.8zM439 116.1h0.8v2.9h-0.8zM437 109.1h0.8v2.4h-0.8zM449.2 108.4h0.8v10.6h-0.8zM451 114.6h0.8v4.4h-0.8zM453.2 105.9h0.8v13.1h-0.8zM454.6 108.5h0.8v10.5h-0.8zM452 108.8h0.8v0.7h-0.8zM452 101.5h0.8v1.2h-0.8zM452 96.7h0.8v0.7h-0.8zM463 109.5h0.8v8.5h-0.8zM464 107.1h0.8v0.8h-0.8zM472.9 104.5h0.8v6.5h-0.8zM475.1 106.8h0.8v4.2h-0.8zM474.5 87.5h0.8v0.8h-0.8zM474.5 86.3h0.8v2.2h-0.8zM484 102.1h0.8v1.6h-0.8zM484 99.2h0.8v2.3h-0.8z"/><path fill="#2464b0" d="M303.9 115.4h0.8v5.6h-0.8zM305.3 115.7h0.8v5.3h-0.8zM308.9 115h0.8v6h-0.8zM309.3 116.8h0.8v4.2h-0.8zM309.8 109.6h0.8v11.4h-0.8zM310.2 117h0.8v4h-0.8zM311.6 117.1h0.8v3.9h-0.8zM312.5 109.4h0.8v11.6h-0.8zM313.8 113.3h0.8v7.7h-0.8zM315.6 114.8h0.8v6.2h-0.8zM316.5 111.7h0.8v9.3h-0.8zM317 111.1h0.8v9.9h-0.8zM309.2 111.4h0.8v1.8h-0.8zM309.2 104.4h0.8v1.3h-0.8zM309.2 94.9h0.8v2.2h-0.8zM309.2 92.8h0.8v2.5h-0.8zM314 100.7h0.8v0.7h-0.8zM314 96.9h0.8v1.5h-0.8zM314 86h0.8v1.3h-0.8zM335.2 110.8h0.8v8.2h-0.8zM335.7 104.8h0.8v14.2h-0.8zM336.1 111.3h0.8v7.7h-0.8zM338.8 110.4h0.8v8.6h-0.8zM342.4 115.1h0.8v3.9h-0.8zM336 108h0.8v2.1h-0.8zM357.2 110.7h0.8v8.3h-0.8zM358.1 113.7h0.8v5.3h-0.8zM358.6 109.2h0.8v9.8h-0.8zM360.8 107.2h0.8v11.8h-0.8zM362.2 109.7h0.8v9.3h-0.8zM364 111.6h0.8v7.4h-0.8zM357.4 104.5h0.8v1h-0.8zM380.4 109.3h0.8v8.3h-0.8zM384.4 104.8h0.8v12.8h-0.8zM385.3 110.6h0.8v7h-0.8zM378 105.9h0.8v1.7h-0.8zM378 88.8h0.8v2.2h-0.8zM378 87h0.8v1.5h-0.8zM379.6 99.3h0.8v2h-0.8zM379.6 91h0.8v2.5h-0.8zM401.4 113.5h0.8v6.8h-0.8zM401.8 113.6h0.8v6.7h-0.8zM402.3 110h0.8v10.3h-0.8zM404.5 117h0.8v3.3h-0.8zM401 106.7h0.8v0.8h-0.8zM416.7 108.4h0.8v8.6h-0.8zM421.2 104h0.8v13h-0.8zM420 101.9h0.8v1.5h-0.8zM437.6 113.8h0.8v5.2h-0.8zM439.9 113.5h0.8v5.5h-0.8zM452.8 112.2h0.8v6.8h-0.8zM453.7 111.5h0.8v7.5h-0.8zM452 99.4h0.8v1.2h-0.8zM462.6 106.7h0.8v11.3h-0.8zM463.5 112.2h0.8v5.8h-0.8zM463.9 109.2h0.8v8.8h-0.8zM464.8 111.5h0.8v6.5h-0.8zM464 104.3h0.8v1.1h-0.8zM464 99.4h0.8v1h-0.8zM474.5 100.7h0.8v2.4h-0.8zM474.5 97.4h0.8v2.4h-0.8zM484.6 107h0.8v7h-0.8zM485.1 107.6h0.8v6.4h-0.8zM484 104.2h0.8v1.7h-0.8zM484 98.4h0.8v1.6h-0.8z"/><path fill="#2a6dbb" d="M304.4 116.6h0.8v4.4h-0.8zM304.8 113.3h0.8v7.7h-0.8zM306.2 116h0.8v5h-0.8zM307.5 114.1h0.8v6.9h-0.8zM312.9 108.2h0.8v12.8h-0.8zM314.3 115.5h0.8v5.5h-0.8zM315.2 109.3h0.8v11.7h-0.8zM309.2 102.8h0.8v1.1h-0.8zM309.2 97.8h0.8v1.4h-0.8zM309.2 95.8h0.8v0.8h-0.8zM309.2 93.8h0.8v1.9h-0.8zM309.2 89.5h0.8v1h-0.8zM309.2 84.7h0.8v2.3h-0.8zM314 103.4h0.8v0.9h-0.8zM314 102.9h0.8v1.1h-0.8zM314 93.3h0.8v1.6h-0.8zM314 86.7h0.8v0.6h-0.8zM314 83.1h0.8v0.9h-0.8zM332.5 111.9h0.8v7.1h-0.8zM334.3 112.6h0.8v6.4h-0.8zM334.8 110.4h0.8v8.6h-0.8zM336.6 111.1h0.8v7.9h-0.8zM337.5 109.2h0.8v9.8h-0.8zM338.4 111.4h0.8v7.6h-0.8zM342 113.4h0.8v5.6h-0.8zM359.9 107.1h0.8v11.9h-0.8zM360.4 111.2h0.8v7.8h-0.8zM364.4 114.2h0.8v4.8h-0.8zM365.8 106.8h0.8v12.2h-0.8zM378.1 113.3h0.8v4.3h-0.8zM379 111.7h0.8v5.9h-0.8zM381.7 108.5h0.8v9.1h-0.8zM383.5 107.4h0.8v10.2h-0.8zM384.9 114h0.8v3.6h-0.8zM385.8 110.5h0.8v7.1h-0.8zM378 89.8h0.8v0.8h-0.8zM378 84.4h0.8v1.4h-0.8zM379.6 105.2h0.8v0.7h-0.8zM379.6 96.4h0.8v0.8h-0.8zM379.6 91.9h0.8v2h-0.8zM379.6 86.3h0.8v2.1h-0.8zM399.6 114.1h0.8v6.2h-0.8zM400.5 114.1h0.8v6.2h-0.8zM402.7 108.2h0.8v12.1h-0.8zM405 110.3h0.8v10h-0.8zM401 107.7h0.8v2.3h-0.8zM401 104.8h0.8v1.9h-0.8zM417.2 106.5h0.8v10.5h-0.8zM421.7 111.8h0.8v5.2h-0.8zM422.1 105.2h0.8v11.8h-0.8zM422.6 109h0.8v8h-0.8zM420 106.7h0.8v1.2h-0.8zM435.8 111.4h0.8v7.6h-0.8zM436.3 114.2h0.8v4.8h-0.8zM438.1 104.2h0.8v14.8h-0.8zM438.5 106.3h0.8v12.7h-0.8zM437 105.5h0.8v2.1h-0.8zM437 100.6h0.8v0.9h-0.8zM452 107.8h0.8v2.4h-0.8zM452 103.6h0.8v1.8h-0.8zM452 91.8h0.8v2.3h-0.8zM462.1 111.2h0.8v6.8h-0.8zM464.4 110.8h0.8v7.2h-0.8zM466.2 111.3h0.8v6.7h-0.8zM464 109.4h0.8v1.3h-0.8zM474.2 103h0.8v8h-0.8zM474.7 99h0.8v12h-0.8zM476 102h0.8v9h-0.8zM476.5 101.7h0.8v9.3h-0.8zM474.5 94.8h0.8v1h-0.8zM483.3 105.6h0.8v8.4h-0.8zM484 100.9h0.8v1.1h-0.8z"/><path fill="#ffffff" d="M288.1 117h0.3v5.9h-0.3zM292.1 119h0.3v1.6h-0.3zM293.5 118.1h0.3v1.9h-0.3zM297.5 119.2h0.3v1.9h-0.3zM298 118.4h0.3v5.8h-0.3zM408.5 113.4h0.3v13.5h-0.3zM430.6 117.6h0.3v5.1h-0.3zM492.7 116.6h0.3v11.7h-0.3zM494.1 122.3h0.3v13.5h-0.3z"/><path fill="#e8e8e8" d="M288.5 122.4h0.3v10.2h-0.3zM289.4 100.6h0.3v3.3h-0.3zM293 120.4h0.3v6.8h-0.3zM319.3 113h0.3v1.9h-0.3zM369.2 115h0.3v7.2h-0.3zM427.4 117.7h0.3v8.5h-0.3zM457.5 113h0.3v1.6h-0.3zM479.1 109.6h0.3v9h-0.3zM495 115.7h0.3v3h-0.3z"/><path fill="#c8c4c0" d="M289 117.1h0.3v0.4h-0.3zM320.6 120.3h0.3v3.2h-0.3zM349.2 120.4h0.3v2.6h-0.3zM429.2 118.1h0.3v24.4h-0.3zM445.9 110.9h0.3v0.7h-0.3zM490 121.4h0.3v14.6h-0.3z"/><path fill="#8a8a8a" d="M299.8 154.2h0.5v3.2h-0.5zM299.7 117.8h0.5v3.5h-0.5zM292.3 135.9h0.5v3.4h-0.5zM300.9 146.7h0.5v2.6h-0.5zM291 113.4h0.7v0.7h-0.7zM298.6 116.6h0.7v0.7h-0.7zM288.8 110h0.7v0.7h-0.7zM296.7 114.1h0.7v0.7h-0.7zM290.1 113.5h0.7v0.7h-0.7zM301.4 117.6h0.7v0.7h-0.7zM288.9 109.1h0.7v0.7h-0.7zM299 107h0.7v0.7h-0.7zM298.2 97.7h0.7v0.7h-0.7zM296.8 108.2h0.7v0.7h-0.7zM295 97.8h0.7v0.7h-0.7zM319.3 120.1h0.5v1.5h-0.5zM323.7 119.3h0.5v4h-0.5zM327.5 119.1h0.5v3.5h-0.5zM322.7 154.8h0.5v1.8h-0.5zM328.5 117.7h0.7v0.7h-0.7zM319.5 117.6h0.7v0.7h-0.7zM329.5 118.1h0.7v0.7h-0.7zM328.6 116.9h0.7v0.7h-0.7zM321.5 109.4h0.7v0.7h-0.7zM328.3 117.3h0.7v0.7h-0.7zM324.5 109.3h0.7v0.7h-0.7zM324.9 115.4h0.7v0.7h-0.7zM348.9 127.7h0.5v2.1h-0.5zM345.6 134.7h0.5v3.2h-0.5zM350.1 126.6h0.5v3.4h-0.5zM352.3 115h0.7v0.7h-0.7zM349.7 112.4h0.7v0.7h-0.7zM346.6 115.4h0.7v0.7h-0.7zM347.4 103.7h0.7v0.7h-0.7zM351 114.1h0.7v0.7h-0.7zM354 109.6h0.7v0.7h-0.7zM348.1 105.8h0.7v0.7h-0.7zM351.7 96.5h0.7v0.7h-0.7zM346.9 103h0.7v0.7h-0.7zM349.7 106.9h0.7v0.7h-0.7zM353 95.9h0.7v0.7h-0.7zM375.7 131h0.5v2.4h-0.5zM372.3 120h0.5v1.7h-0.5zM376.3 121.2h0.5v2.3h-0.5zM375.1 154.4h0.5v1.5h-0.5zM374.1 108.8h0.7v0.7h-0.7zM368.9 106.2h0.7v0.7h-0.7zM369.2 108.5h0.7v0.7h-0.7zM368.7 116.6h0.7v0.7h-0.7zM369.4 106.3h0.7v0.7h-0.7zM370.4 116.6h0.7v0.7h-0.7zM394 124.7h0.5v2.2h-0.5zM390.1 126.3h0.5v2.8h-0.5zM390.7 112.5h0.7v0.7h-0.7zM392.9 108.2h0.7v0.7h-0.7zM391.1 110.7h0.7v0.7h-0.7zM392.5 106.3h0.7v0.7h-0.7zM391.9 111.8h0.7v0.7h-0.7zM389.6 112.9h0.7v0.7h-0.7zM389.2 101.5h0.7v0.7h-0.7zM396.3 102.5h0.7v0.7h-0.7zM394.7 100.3h0.7v0.7h-0.7zM392.4 110.8h0.7v0.7h-0.7zM391.8 104.3h0.7v0.7h-0.7zM411.1 121.5h0.5v2h-0.5zM409.7 112.2h0.7v0.7h-0.7zM412.5 112.9h0.7v0.7h-0.7zM408.3 110.6h0.7v0.7h-0.7zM413 100.8h0.7v0.7h-0.7zM413.7 113.8h0.7v0.7h-0.7zM430.5 145.4h0.5v2.1h-0.5zM428.2 114.8h0.7v0.7h-0.7zM427.4 113.4h0.7v0.7h-0.7zM431.7 114.6h0.7v0.7h-0.7zM446.8 115h0.5v1.5h-0.5zM446.8 112.5h0.7v0.7h-0.7zM443.1 112.8h0.7v0.7h-0.7zM444.9 108h0.7v0.7h-0.7zM457.6 109.6h0.7v0.7h-0.7zM458.2 106.5h0.7v0.7h-0.7zM469.4 111.5h0.5v3.5h-0.5zM470 97.6h0.7v0.7h-0.7zM468.6 101h0.7v0.7h-0.7zM468.2 104h0.7v0.7h-0.7zM469.6 100.6h0.7v0.7h-0.7zM468.7 103.6h0.7v0.7h-0.7zM470.3 106.9h0.7v0.7h-0.7zM479.7 158.5h0.5v3h-0.5zM479.2 101.8h0.7v0.7h-0.7zM493.4 145.4h0.5v2.3h-0.5zM489.8 119h0.7v0.7h-0.7zM493.3 113.9h0.7v0.7h-0.7zM488.2 117.2h0.7v0.7h-0.7zM494.4 118.9h0.7v0.7h-0.7z"/><path fill="#b8b8b8" d="M295.3 151.7h0.5v1.4h-0.5zM295.2 120h0.5v1h-0.5zM298.3 140.8h0.5v1.8h-0.5zM288.1 114.4h0.7v0.7h-0.7zM293.8 111.6h0.7v0.7h-0.7zM291.7 116.9h0.7v0.7h-0.7zM296.7 103.7h0.7v0.7h-0.7zM296.8 112.5h0.7v0.7h-0.7zM291.8 107.7h0.7v0.7h-0.7zM293.4 115.2h0.7v0.7h-0.7zM294.9 107.3h0.7v0.7h-0.7zM287.5 96.7h0.7v0.7h-0.7zM295 111.5h0.7v0.7h-0.7zM296.9 109.6h0.7v0.7h-0.7zM297.2 115.8h0.7v0.7h-0.7zM294.4 108.9h0.7v0.7h-0.7zM288.1 106.5h0.7v0.7h-0.7zM290.9 116.6h0.7v0.7h-0.7zM329.5 151.2h0.5v2h-0.5zM322.8 100.5h0.7v0.7h-0.7zM327.7 117h0.7v0.7h-0.7zM325.5 92.7h0.7v0.7h-0.7zM323.2 118.3h0.7v0.7h-0.7zM322.6 112.2h0.7v0.7h-0.7zM319.6 117.8h0.7v0.7h-0.7zM328.5 113.8h0.7v0.7h-0.7zM327.9 114.4h0.7v0.7h-0.7zM324.2 113.8h0.7v0.7h-0.7zM320.7 111.1h0.7v0.7h-0.7zM321.3 111.5h0.7v0.7h-0.7zM328.7 114.6h0.7v0.7h-0.7zM319.8 115.4h0.7v0.7h-0.7zM328.7 111.5h0.7v0.7h-0.7zM323.4 110.4h0.7v0.7h-0.7zM328.4 105h0.7v0.7h-0.7zM347.8 117.1h0.5v3.2h-0.5zM351.7 114.8h0.7v0.7h-0.7zM352.4 110.6h0.7v0.7h-0.7zM346.3 109.4h0.7v0.7h-0.7zM353.3 106.1h0.7v0.7h-0.7zM345.9 108.4h0.7v0.7h-0.7zM346.6 113.5h0.7v0.7h-0.7zM345.4 100.6h0.7v0.7h-0.7zM346.4 110.1h0.7v0.7h-0.7zM352.2 97.1h0.7v0.7h-0.7zM349.9 113.8h0.7v0.7h-0.7zM353.8 114.5h0.7v0.7h-0.7zM350.2 106.1h0.7v0.7h-0.7zM368.6 139.4h0.5v1.1h-0.5zM370.7 158h0.5v1.8h-0.5zM371.1 144.8h0.5v3.4h-0.5zM375.9 114.4h0.7v0.7h-0.7zM370.5 113.8h0.7v0.7h-0.7zM374 109.8h0.7v0.7h-0.7zM373.8 101.3h0.7v0.7h-0.7zM369.7 110.6h0.7v0.7h-0.7zM375.6 116.6h0.7v0.7h-0.7zM371.6 110.9h0.7v0.7h-0.7zM388.8 121.8h0.5v2.7h-0.5zM390.4 115.5h0.5v2.8h-0.5zM390.8 114.6h0.5v2.9h-0.5zM390.4 108.3h0.7v0.7h-0.7zM391.5 109.3h0.7v0.7h-0.7zM393.3 107.6h0.7v0.7h-0.7zM392 104.1h0.7v0.7h-0.7zM390.6 104.7h0.7v0.7h-0.7zM396.4 112.6h0.7v0.7h-0.7zM393.8 98.5h0.7v0.7h-0.7zM409.5 123.5h0.5v0.9h-0.5zM414.2 106.1h0.7v0.7h-0.7zM409.2 110.7h0.7v0.7h-0.7zM412.4 110.9h0.7v0.7h-0.7zM412.1 108.6h0.7v0.7h-0.7zM408.2 96.2h0.7v0.7h-0.7zM411 102.1h0.7v0.7h-0.7zM410.6 97.4h0.7v0.7h-0.7zM429 118.1h0.5v2.3h-0.5zM431.9 102.6h0.7v0.7h-0.7zM432.1 113.7h0.7v0.7h-0.7zM430.3 111.2h0.7v0.7h-0.7zM431.3 103.1h0.7v0.7h-0.7zM444.6 147.1h0.5v3.8h-0.5zM445.8 118.9h0.5v3.1h-0.5zM443.2 111.3h0.7v0.7h-0.7zM446.6 108.5h0.7v0.7h-0.7zM443.7 109.7h0.7v0.7h-0.7zM445.4 107.2h0.7v0.7h-0.7zM446.4 101.7h0.7v0.7h-0.7zM459.4 119.2h0.5v1.6h-0.5zM458.2 153.3h0.5v3.9h-0.5zM457.9 104.7h0.7v0.7h-0.7zM468 100.2h0.7v0.7h-0.7zM468.6 105.3h0.7v0.7h-0.7zM468.1 106.8h0.7v0.7h-0.7zM469.2 98.7h0.7v0.7h-0.7zM479.5 104.3h0.7v0.7h-0.7zM488.7 150.4h0.5v3.6h-0.5zM492.7 127.2h0.5v1.6h-0.5zM489.7 122.8h0.5v2.6h-0.5zM487.5 112.1h0.7v0.7h-0.7zM491.7 117.7h0.7v0.7h-0.7zM495.2 109.7h0.7v0.7h-0.7zM492.7 118.9h0.7v0.7h-0.7zM491 113.7h0.7v0.7h-0.7zM493.5 118.5h0.7v0.7h-0.7zM487.5 109.4h0.7v0.7h-0.7z"/><path fill="#d8d8d8" d="M297.7 126.4h0.5v1.4h-0.5zM292.9 119.8h0.5v1h-0.5zM289.3 138.5h0.5v1.2h-0.5zM292.3 95.5h0.7v0.7h-0.7zM301.6 109.5h0.7v0.7h-0.7zM288.2 108.4h0.7v0.7h-0.7zM292.4 114.8h0.7v0.7h-0.7zM292.7 111.7h0.7v0.7h-0.7zM288.4 108.6h0.7v0.7h-0.7zM296.3 111.2h0.7v0.7h-0.7zM289.3 111.5h0.7v0.7h-0.7zM287.3 107.1h0.7v0.7h-0.7zM298.8 97.9h0.7v0.7h-0.7zM291.1 100.1h0.7v0.7h-0.7zM298.9 113.4h0.7v0.7h-0.7zM288.3 114.4h0.7v0.7h-0.7zM298.2 110.2h0.7v0.7h-0.7zM327 139.2h0.5v3.8h-0.5zM320 140.3h0.5v1.6h-0.5zM329.2 152.4h0.5v1.7h-0.5zM330.1 123.6h0.5v1.8h-0.5zM324.6 111.8h0.7v0.7h-0.7zM319.5 118.1h0.7v0.7h-0.7zM327.5 115.7h0.7v0.7h-0.7zM322.7 111.5h0.7v0.7h-0.7zM329.6 112.8h0.7v0.7h-0.7zM322.3 111.4h0.7v0.7h-0.7zM348.8 119.1h0.5v2.8h-0.5zM352.4 148.8h0.5v3.2h-0.5zM346.9 154.4h0.5v3.9h-0.5zM347.2 109.5h0.7v0.7h-0.7zM348.8 112.9h0.7v0.7h-0.7zM351.9 104.7h0.7v0.7h-0.7zM347.3 112.3h0.7v0.7h-0.7zM350.3 106.7h0.7v0.7h-0.7zM352.8 104.7h0.7v0.7h-0.7zM351.5 115h0.7v0.7h-0.7zM376.1 118.9h0.5v2.3h-0.5zM368.6 105.2h0.7v0.7h-0.7zM376 115.1h0.7v0.7h-0.7zM373.6 110.1h0.7v0.7h-0.7zM375.9 111.8h0.7v0.7h-0.7zM371.8 101.4h0.7v0.7h-0.7zM374.9 107.6h0.7v0.7h-0.7zM394.4 116.6h0.5v1.1h-0.5zM392.3 112.6h0.7v0.7h-0.7zM395.7 112.1h0.7v0.7h-0.7zM391.6 111.9h0.7v0.7h-0.7zM389.1 106.2h0.7v0.7h-0.7zM396.4 110.9h0.7v0.7h-0.7zM413.3 115.1h0.5v3.5h-0.5zM413.6 129.8h0.5v3h-0.5zM414.4 119.9h0.5v1.7h-0.5zM414.9 118.4h0.5v1.2h-0.5zM411.5 112.5h0.7v0.7h-0.7zM408.9 104.7h0.7v0.7h-0.7zM413.9 107.6h0.7v0.7h-0.7zM414.4 111.5h0.7v0.7h-0.7zM412.1 113h0.7v0.7h-0.7zM409.7 111.8h0.7v0.7h-0.7zM410.8 103.3h0.7v0.7h-0.7zM413 103.3h0.7v0.7h-0.7zM432.5 133h0.5v3.1h-0.5zM430.9 115.5h0.7v0.7h-0.7zM430.8 114.2h0.7v0.7h-0.7zM429.2 100.1h0.7v0.7h-0.7zM429.1 106.6h0.7v0.7h-0.7zM444.4 107.7h0.7v0.7h-0.7zM444.9 98.4h0.7v0.7h-0.7zM457.5 144.9h0.5v2.2h-0.5zM459.5 109.2h0.7v0.7h-0.7zM457.3 103.6h0.7v0.7h-0.7zM456.7 107.3h0.7v0.7h-0.7zM458.6 95.9h0.7v0.7h-0.7zM468.4 116.9h0.5v2.4h-0.5zM470.2 108.5h0.5v2h-0.5zM469.4 100h0.7v0.7h-0.7zM479.1 103.2h0.7v0.7h-0.7zM479.5 107.4h0.7v0.7h-0.7zM489.6 144.6h0.5v1.3h-0.5zM490.6 123.2h0.5v1.2h-0.5zM493.4 157.3h0.5v3.4h-0.5zM491.9 120.3h0.5v2.7h-0.5zM487.1 122.1h0.5v1.9h-0.5zM493.4 114.4h0.7v0.7h-0.7zM492 116.8h0.7v0.7h-0.7zM491.5 115.6h0.7v0.7h-0.7zM491.2 116.9h0.7v0.7h-0.7zM491.7 117.3h0.7v0.7h-0.7zM491.3 111.1h0.7v0.7h-0.7zM494.6 114.6h0.7v0.7h-0.7zM493.6 116.1h0.7v0.7h-0.7z"/><path fill="#6e6862" d="M295.2 155.8h0.5v2h-0.5zM295.1 140.2h0.5v2.9h-0.5zM294.6 120.8h0.5v2.8h-0.5zM300.8 153.5h0.5v3h-0.5zM295.9 125.8h0.5v2.8h-0.5zM290.9 113.4h0.7v0.7h-0.7zM300.9 110.4h0.7v0.7h-0.7zM298 114.7h0.7v0.7h-0.7zM299.2 106.6h0.7v0.7h-0.7zM296.3 109h0.7v0.7h-0.7zM288.4 117.6h0.7v0.7h-0.7zM288.5 100.2h0.7v0.7h-0.7zM293.4 116.1h0.7v0.7h-0.7zM299.8 114.5h0.7v0.7h-0.7zM299.2 103.6h0.7v0.7h-0.7zM296.2 104.2h0.7v0.7h-0.7zM288.6 106.5h0.7v0.7h-0.7zM288.9 114.9h0.7v0.7h-0.7zM321.2 154.8h0.5v1.3h-0.5zM329.9 122.2h0.5v3.2h-0.5zM329.6 99.8h0.7v0.7h-0.7zM327.8 96.4h0.7v0.7h-0.7zM321.5 114.7h0.7v0.7h-0.7zM330 117.3h0.7v0.7h-0.7zM321.4 111.9h0.7v0.7h-0.7zM328.3 107.9h0.7v0.7h-0.7zM326.7 118.7h0.7v0.7h-0.7zM322.5 109.7h0.7v0.7h-0.7zM326.9 109.7h0.7v0.7h-0.7zM324.8 118.9h0.7v0.7h-0.7zM328.3 105.4h0.7v0.7h-0.7zM327.5 116.8h0.7v0.7h-0.7zM347.1 145.4h0.5v2.4h-0.5zM346.2 119.6h0.5v3.4h-0.5zM350.3 117.6h0.5v2.4h-0.5zM345.4 104.9h0.7v0.7h-0.7zM350.4 105.1h0.7v0.7h-0.7zM347.5 106h0.7v0.7h-0.7zM346.5 109.4h0.7v0.7h-0.7zM345.5 106.1h0.7v0.7h-0.7zM350.6 113.4h0.7v0.7h-0.7zM374.1 113.2h0.7v0.7h-0.7zM374.2 105.7h0.7v0.7h-0.7zM372.7 113.6h0.7v0.7h-0.7zM368.5 115.8h0.7v0.7h-0.7zM370.5 115.3h0.7v0.7h-0.7zM370.6 114.8h0.7v0.7h-0.7zM369.7 114.9h0.7v0.7h-0.7zM371.2 116.1h0.7v0.7h-0.7zM371.5 103.4h0.7v0.7h-0.7zM391.8 117.5h0.5v2.9h-0.5zM393.1 120.2h0.5v2h-0.5zM395.2 110.7h0.7v0.7h-0.7zM390.4 105.6h0.7v0.7h-0.7zM389.4 108.3h0.7v0.7h-0.7zM395.5 106.1h0.7v0.7h-0.7zM393.3 107.7h0.7v0.7h-0.7zM394.9 102.6h0.7v0.7h-0.7zM410.9 129h0.5v2.1h-0.5zM414.3 112.1h0.7v0.7h-0.7zM413.8 113.6h0.7v0.7h-0.7zM408.7 110.6h0.7v0.7h-0.7zM410.5 108.5h0.7v0.7h-0.7zM410.9 109.7h0.7v0.7h-0.7zM409.6 103.9h0.7v0.7h-0.7zM429 141.3h0.5v3.2h-0.5zM430.1 119h0.5v2.6h-0.5zM431 122.1h0.5v1.1h-0.5zM427.4 115.3h0.7v0.7h-0.7zM432.3 111.2h0.7v0.7h-0.7zM432.3 114.6h0.7v0.7h-0.7zM431.9 110.4h0.7v0.7h-0.7zM431.4 111.6h0.7v0.7h-0.7zM446 117.5h0.5v1.6h-0.5zM444.4 115.8h0.5v3.8h-0.5zM444.8 109.8h0.7v0.7h-0.7zM446.9 112.6h0.7v0.7h-0.7zM443.3 99.1h0.7v0.7h-0.7zM447.3 101.9h0.7v0.7h-0.7zM443.2 108.3h0.7v0.7h-0.7zM459.2 100.9h0.7v0.7h-0.7zM459.8 92.8h0.7v0.7h-0.7zM458.3 112.3h0.7v0.7h-0.7zM457.5 109.9h0.7v0.7h-0.7zM469.7 102.9h0.7v0.7h-0.7zM470.1 98.8h0.7v0.7h-0.7zM479.4 106.4h0.7v0.7h-0.7zM479.7 107.3h0.7v0.7h-0.7zM493.3 118.8h0.7v0.7h-0.7zM490.8 108.4h0.7v0.7h-0.7zM493.8 118h0.7v0.7h-0.7zM487.8 117.5h0.7v0.7h-0.7zM488.6 112.4h0.7v0.7h-0.7zM491.3 113.6h0.7v0.7h-0.7zM490.8 111.5h0.7v0.7h-0.7zM494.9 116.6h0.7v0.7h-0.7zM492.8 118.7h0.7v0.7h-0.7zM488.3 112.7h0.7v0.7h-0.7z"/><path fill="#4a4644" d="M287.4 115.6h0.7v0.7h-0.7zM298.3 100.6h0.7v0.7h-0.7zM290 109.9h0.7v0.7h-0.7zM299.4 108.9h0.7v0.7h-0.7zM291.2 114.4h0.7v0.7h-0.7zM297 116.2h0.7v0.7h-0.7zM296.8 107.6h0.7v0.7h-0.7zM293.5 117.5h0.7v0.7h-0.7zM297.1 115.1h0.7v0.7h-0.7zM295 116.1h0.7v0.7h-0.7zM290.2 93h0.7v0.7h-0.7zM289.8 113.2h0.7v0.7h-0.7zM301.7 105.6h0.7v0.7h-0.7zM291.8 117.3h0.7v0.7h-0.7zM295.2 115.4h0.7v0.7h-0.7zM288.7 115.1h0.7v0.7h-0.7zM301.6 117.7h0.7v0.7h-0.7zM287.5 114h0.7v0.7h-0.7zM289.9 109.8h0.7v0.7h-0.7zM295.7 95.2h0.7v0.7h-0.7zM289.7 88.7h0.7v0.7h-0.7zM292.3 115.9h0.7v0.7h-0.7zM289.3 104.4h0.7v0.7h-0.7zM299.7 111.9h0.7v0.7h-0.7zM300.5 105.1h0.7v0.7h-0.7zM294.7 115.6h0.7v0.7h-0.7zM297.7 113.5h0.7v0.7h-0.7zM321.9 116.2h0.7v0.7h-0.7zM321.8 114.5h0.7v0.7h-0.7zM324 118h0.7v0.7h-0.7zM327.9 98.9h0.7v0.7h-0.7zM327.6 109.4h0.7v0.7h-0.7zM326.5 116.8h0.7v0.7h-0.7zM327.2 118.9h0.7v0.7h-0.7zM326.3 86.5h0.7v0.7h-0.7zM326.6 105.1h0.7v0.7h-0.7zM321.2 112.8h0.7v0.7h-0.7zM320.5 118.6h0.7v0.7h-0.7zM329.1 116.4h0.7v0.7h-0.7zM322 118.2h0.7v0.7h-0.7zM322 117h0.7v0.7h-0.7zM328.7 113.5h0.7v0.7h-0.7zM325.5 112.4h0.7v0.7h-0.7zM321 97.4h0.7v0.7h-0.7zM321.3 118.8h0.7v0.7h-0.7zM324.8 104.3h0.7v0.7h-0.7zM329.7 113.2h0.7v0.7h-0.7zM353.7 103.6h0.7v0.7h-0.7zM352 103h0.7v0.7h-0.7zM345.2 98.2h0.7v0.7h-0.7zM349.6 114.7h0.7v0.7h-0.7zM353.5 111.8h0.7v0.7h-0.7zM349.3 110.9h0.7v0.7h-0.7zM348.3 112.5h0.7v0.7h-0.7zM349 102h0.7v0.7h-0.7zM344.8 111.3h0.7v0.7h-0.7zM351.6 115.6h0.7v0.7h-0.7zM349 101h0.7v0.7h-0.7zM345 95.5h0.7v0.7h-0.7zM352.7 108.8h0.7v0.7h-0.7zM352.7 97.5h0.7v0.7h-0.7zM346.2 106.8h0.7v0.7h-0.7zM349.4 115.1h0.7v0.7h-0.7zM375.3 116.4h0.7v0.7h-0.7zM369 111.3h0.7v0.7h-0.7zM373.8 115.8h0.7v0.7h-0.7zM372.4 109.9h0.7v0.7h-0.7zM373.4 115.8h0.7v0.7h-0.7zM373 111.6h0.7v0.7h-0.7zM375 113.3h0.7v0.7h-0.7zM368.8 115.7h0.7v0.7h-0.7zM376 103.7h0.7v0.7h-0.7zM374.1 106h0.7v0.7h-0.7zM369.8 113.3h0.7v0.7h-0.7zM374.7 111.9h0.7v0.7h-0.7zM372.6 114.4h0.7v0.7h-0.7zM391.8 110.2h0.7v0.7h-0.7zM392.1 112h0.7v0.7h-0.7zM395.6 113.1h0.7v0.7h-0.7zM390.7 105.5h0.7v0.7h-0.7zM391.7 111.9h0.7v0.7h-0.7zM395.8 111.8h0.7v0.7h-0.7zM395.6 101.8h0.7v0.7h-0.7zM395.1 112.7h0.7v0.7h-0.7zM389.4 103.5h0.7v0.7h-0.7zM414.1 110.2h0.7v0.7h-0.7zM412 112.2h0.7v0.7h-0.7zM409.9 108h0.7v0.7h-0.7zM414.6 109.5h0.7v0.7h-0.7zM411 105.1h0.7v0.7h-0.7zM412.6 109.4h0.7v0.7h-0.7zM414 105.6h0.7v0.7h-0.7zM407.8 111.4h0.7v0.7h-0.7zM407.6 112.3h0.7v0.7h-0.7zM409.3 111.7h0.7v0.7h-0.7zM414.1 112.7h0.7v0.7h-0.7zM408.6 98.6h0.7v0.7h-0.7zM412.4 98.8h0.7v0.7h-0.7zM411.4 109.7h0.7v0.7h-0.7zM411.5 111.1h0.7v0.7h-0.7zM412.8 109.8h0.7v0.7h-0.7zM413.3 102.6h0.7v0.7h-0.7zM430.6 114.8h0.7v0.7h-0.7zM427.5 106h0.7v0.7h-0.7zM431.8 108.5h0.7v0.7h-0.7zM430.6 116.3h0.7v0.7h-0.7zM430.1 113.5h0.7v0.7h-0.7zM428.8 111.6h0.7v0.7h-0.7zM427.3 114.7h0.7v0.7h-0.7zM430.7 106.4h0.7v0.7h-0.7zM430.2 109.7h0.7v0.7h-0.7zM427.3 105.3h0.7v0.7h-0.7zM431.5 113.9h0.7v0.7h-0.7zM429.2 110.1h0.7v0.7h-0.7zM443.6 109h0.7v0.7h-0.7zM446.5 107.9h0.7v0.7h-0.7zM443.1 110.7h0.7v0.7h-0.7zM446.1 110.7h0.7v0.7h-0.7zM446 106.9h0.7v0.7h-0.7zM446.1 111.8h0.7v0.7h-0.7zM443.7 110.7h0.7v0.7h-0.7zM443.2 108.1h0.7v0.7h-0.7zM443.7 95h0.7v0.7h-0.7zM442.8 105h0.7v0.7h-0.7zM446.5 113.6h0.7v0.7h-0.7zM446.5 97.8h0.7v0.7h-0.7zM446.2 113.6h0.7v0.7h-0.7zM458.5 112h0.7v0.7h-0.7zM458.9 109.8h0.7v0.7h-0.7zM457.7 105.4h0.7v0.7h-0.7zM457.8 94.3h0.7v0.7h-0.7zM458.6 108h0.7v0.7h-0.7zM458.9 109.5h0.7v0.7h-0.7zM456.7 113.5h0.7v0.7h-0.7zM456.9 92.1h0.7v0.7h-0.7zM468.8 106.8h0.7v0.7h-0.7zM470.2 102.4h0.7v0.7h-0.7zM468.1 106.3h0.7v0.7h-0.7zM469.1 103.9h0.7v0.7h-0.7zM489.1 116.7h0.7v0.7h-0.7zM490.4 116.2h0.7v0.7h-0.7zM494.8 113h0.7v0.7h-0.7zM489.9 109.4h0.7v0.7h-0.7zM494.1 108.3h0.7v0.7h-0.7zM494.1 113.2h0.7v0.7h-0.7zM487.2 111.1h0.7v0.7h-0.7zM492.8 116h0.7v0.7h-0.7z"/><path fill="#433f3d" d="M299.2 106.4h0.7v0.7h-0.7zM296.5 109.6h0.7v0.7h-0.7zM289 103.4h0.7v0.7h-0.7zM298.7 115.3h0.7v0.7h-0.7zM293 117.6h0.7v0.7h-0.7zM292.4 116.9h0.7v0.7h-0.7zM296.2 103.7h0.7v0.7h-0.7zM300.2 96.2h0.7v0.7h-0.7zM295.3 116.4h0.7v0.7h-0.7zM293.8 111.8h0.7v0.7h-0.7zM300 113.1h0.7v0.7h-0.7zM297.1 101.8h0.7v0.7h-0.7zM289.6 81.1h0.7v0.7h-0.7zM299.5 97.3h0.7v0.7h-0.7zM301 116.3h0.7v0.7h-0.7zM291.7 111.7h0.7v0.7h-0.7zM291.3 114.4h0.7v0.7h-0.7zM298.5 116.4h0.7v0.7h-0.7zM291.4 115.9h0.7v0.7h-0.7zM290.6 117.3h0.7v0.7h-0.7zM295.8 117.4h0.7v0.7h-0.7zM291.9 113.4h0.7v0.7h-0.7zM297.9 115.4h0.7v0.7h-0.7zM291.6 104h0.7v0.7h-0.7zM321.7 112.2h0.7v0.7h-0.7zM328 116.4h0.7v0.7h-0.7zM321.2 118.9h0.7v0.7h-0.7zM328 101.6h0.7v0.7h-0.7zM319.5 110.9h0.7v0.7h-0.7zM325.5 118.6h0.7v0.7h-0.7zM329.6 114.7h0.7v0.7h-0.7zM322.3 108.9h0.7v0.7h-0.7zM322.3 118.8h0.7v0.7h-0.7zM327.2 112.2h0.7v0.7h-0.7zM329.3 111.6h0.7v0.7h-0.7zM325.3 100h0.7v0.7h-0.7zM326.7 96.8h0.7v0.7h-0.7zM329.3 113.4h0.7v0.7h-0.7zM324.9 111h0.7v0.7h-0.7zM328.4 117.7h0.7v0.7h-0.7zM353.6 103.2h0.7v0.7h-0.7zM346.6 100.8h0.7v0.7h-0.7zM349.5 106.4h0.7v0.7h-0.7zM349.5 104.8h0.7v0.7h-0.7zM351 114.8h0.7v0.7h-0.7zM351.4 114.1h0.7v0.7h-0.7zM354.4 106.6h0.7v0.7h-0.7zM346.8 93.5h0.7v0.7h-0.7zM351.4 111.6h0.7v0.7h-0.7zM352.5 102.7h0.7v0.7h-0.7zM344.8 97.9h0.7v0.7h-0.7zM347.7 103.8h0.7v0.7h-0.7zM351.1 98.3h0.7v0.7h-0.7zM345.6 114h0.7v0.7h-0.7zM351 108.3h0.7v0.7h-0.7zM349.8 114.7h0.7v0.7h-0.7zM347.6 104.5h0.7v0.7h-0.7zM368.8 114h0.7v0.7h-0.7zM368.6 104.3h0.7v0.7h-0.7zM375.1 115.9h0.7v0.7h-0.7zM368.7 115.7h0.7v0.7h-0.7zM375.2 112.1h0.7v0.7h-0.7zM372.3 113.8h0.7v0.7h-0.7zM376.4 111.5h0.7v0.7h-0.7zM373.3 116.9h0.7v0.7h-0.7zM370.9 116.8h0.7v0.7h-0.7zM373.7 116.9h0.7v0.7h-0.7zM374.4 106h0.7v0.7h-0.7zM375.5 106h0.7v0.7h-0.7zM393.5 110.4h0.7v0.7h-0.7zM395.7 112.8h0.7v0.7h-0.7zM396.4 113.1h0.7v0.7h-0.7zM393.9 102.5h0.7v0.7h-0.7zM393.2 109.5h0.7v0.7h-0.7zM394 111.7h0.7v0.7h-0.7zM390.1 110h0.7v0.7h-0.7zM393.7 105.5h0.7v0.7h-0.7zM394.3 112h0.7v0.7h-0.7zM396.4 109.1h0.7v0.7h-0.7zM392.3 100.9h0.7v0.7h-0.7zM388.8 108.9h0.7v0.7h-0.7zM391.5 107.4h0.7v0.7h-0.7zM393.5 106.2h0.7v0.7h-0.7zM394.8 111.5h0.7v0.7h-0.7zM390.9 102.3h0.7v0.7h-0.7zM389 108.8h0.7v0.7h-0.7zM389.7 110.9h0.7v0.7h-0.7zM409.7 100.9h0.7v0.7h-0.7zM410.7 111.2h0.7v0.7h-0.7zM413.4 101.7h0.7v0.7h-0.7zM414.6 107.5h0.7v0.7h-0.7zM408.3 107.1h0.7v0.7h-0.7zM411.5 105.8h0.7v0.7h-0.7zM413 102h0.7v0.7h-0.7zM413.5 105.5h0.7v0.7h-0.7zM430.3 115.4h0.7v0.7h-0.7zM430 100.9h0.7v0.7h-0.7zM430.2 105.3h0.7v0.7h-0.7zM428.7 115h0.7v0.7h-0.7zM431 106.9h0.7v0.7h-0.7zM428 102.5h0.7v0.7h-0.7zM443.8 98.4h0.7v0.7h-0.7zM443.3 103.4h0.7v0.7h-0.7zM444.6 113h0.7v0.7h-0.7zM447 108.4h0.7v0.7h-0.7zM446.3 109.5h0.7v0.7h-0.7zM444.8 112.4h0.7v0.7h-0.7zM457.8 89.4h0.7v0.7h-0.7zM456.7 102.8h0.7v0.7h-0.7zM457 107.9h0.7v0.7h-0.7zM459.6 109.4h0.7v0.7h-0.7zM470.1 100.4h0.7v0.7h-0.7zM470.1 102.3h0.7v0.7h-0.7zM469.3 106.2h0.7v0.7h-0.7zM470.1 98.9h0.7v0.7h-0.7zM468.5 105.6h0.7v0.7h-0.7zM479.5 101.9h0.7v0.7h-0.7zM478.7 106.9h0.7v0.7h-0.7zM479 100.3h0.7v0.7h-0.7zM478.9 100.5h0.7v0.7h-0.7zM491.1 119h0.7v0.7h-0.7zM487.8 117.6h0.7v0.7h-0.7zM488.3 116.6h0.7v0.7h-0.7zM487.5 113.9h0.7v0.7h-0.7zM494.8 115.1h0.7v0.7h-0.7zM492.2 117.7h0.7v0.7h-0.7zM492.4 110h0.7v0.7h-0.7zM493.1 108.3h0.7v0.7h-0.7zM493.1 118.6h0.7v0.7h-0.7zM494.4 111.5h0.7v0.7h-0.7zM495 112.6h0.7v0.7h-0.7zM495.1 114.7h0.7v0.7h-0.7zM493.9 118.8h0.7v0.7h-0.7zM491.7 111.1h0.7v0.7h-0.7zM494.6 117.8h0.7v0.7h-0.7zM489.7 108.3h0.7v0.7h-0.7zM494.3 117.2h0.7v0.7h-0.7zM489.4 116.4h0.7v0.7h-0.7zM489.6 114.6h0.7v0.7h-0.7z"/><path fill="#504842" d="M289.7 111.3h0.7v0.7h-0.7zM300.1 95.1h0.7v0.7h-0.7zM290.7 111.7h0.7v0.7h-0.7zM299.4 117h0.7v0.7h-0.7zM293.8 105.3h0.7v0.7h-0.7zM300.3 117.5h0.7v0.7h-0.7zM293.1 104.8h0.7v0.7h-0.7zM288.1 116.4h0.7v0.7h-0.7zM292.4 117.4h0.7v0.7h-0.7zM300.1 117h0.7v0.7h-0.7zM292 82.4h0.7v0.7h-0.7zM301.2 98.1h0.7v0.7h-0.7zM300.5 102.1h0.7v0.7h-0.7zM298.7 89.4h0.7v0.7h-0.7zM290.8 113.7h0.7v0.7h-0.7zM295.3 117h0.7v0.7h-0.7zM287.2 116h0.7v0.7h-0.7zM290.2 105.6h0.7v0.7h-0.7zM294.1 109.5h0.7v0.7h-0.7zM289.8 108.5h0.7v0.7h-0.7zM298.7 115.3h0.7v0.7h-0.7zM293.5 113.1h0.7v0.7h-0.7zM292.6 112.1h0.7v0.7h-0.7zM289.8 104.2h0.7v0.7h-0.7zM289.7 108.6h0.7v0.7h-0.7zM287.4 110.8h0.7v0.7h-0.7zM320.8 116.3h0.7v0.7h-0.7zM325.8 107h0.7v0.7h-0.7zM325.2 86.3h0.7v0.7h-0.7zM323.7 111.1h0.7v0.7h-0.7zM328.7 106.3h0.7v0.7h-0.7zM326.8 99h0.7v0.7h-0.7zM330 106.9h0.7v0.7h-0.7zM326.8 111.7h0.7v0.7h-0.7zM327.9 117.9h0.7v0.7h-0.7zM328.2 119h0.7v0.7h-0.7zM320.2 103.3h0.7v0.7h-0.7zM349.3 109h0.7v0.7h-0.7zM351.7 110.3h0.7v0.7h-0.7zM347.6 109h0.7v0.7h-0.7zM347.4 104.1h0.7v0.7h-0.7zM347.6 106.3h0.7v0.7h-0.7zM350 112.5h0.7v0.7h-0.7zM344.8 101.5h0.7v0.7h-0.7zM344.8 112.2h0.7v0.7h-0.7zM350.5 106.3h0.7v0.7h-0.7zM353.6 101.9h0.7v0.7h-0.7zM347.6 110.2h0.7v0.7h-0.7zM349.5 111.4h0.7v0.7h-0.7zM351.4 109.3h0.7v0.7h-0.7zM346.4 100.7h0.7v0.7h-0.7zM350.6 114.5h0.7v0.7h-0.7zM347.5 103.7h0.7v0.7h-0.7zM352 108.9h0.7v0.7h-0.7zM352 96.2h0.7v0.7h-0.7zM370.2 111.4h0.7v0.7h-0.7zM370.6 115.5h0.7v0.7h-0.7zM373.4 112.6h0.7v0.7h-0.7zM371.8 114h0.7v0.7h-0.7zM369.2 116.9h0.7v0.7h-0.7zM374.5 108.7h0.7v0.7h-0.7zM374 102.7h0.7v0.7h-0.7zM370.3 112h0.7v0.7h-0.7zM372.4 100.6h0.7v0.7h-0.7zM369.4 113.2h0.7v0.7h-0.7zM369.1 108.1h0.7v0.7h-0.7zM370.1 112h0.7v0.7h-0.7zM373.5 104.6h0.7v0.7h-0.7zM372.9 107.7h0.7v0.7h-0.7zM393.5 111.6h0.7v0.7h-0.7zM391.4 108.5h0.7v0.7h-0.7zM392.8 99.2h0.7v0.7h-0.7zM391.3 112h0.7v0.7h-0.7zM392.9 111.1h0.7v0.7h-0.7zM389.5 113.1h0.7v0.7h-0.7zM393.3 106.2h0.7v0.7h-0.7zM389.2 102.7h0.7v0.7h-0.7zM394.2 112.6h0.7v0.7h-0.7zM392.1 112h0.7v0.7h-0.7zM413.7 109.2h0.7v0.7h-0.7zM413.6 101.5h0.7v0.7h-0.7zM412.6 100.9h0.7v0.7h-0.7zM413.8 109.4h0.7v0.7h-0.7zM411.5 102.5h0.7v0.7h-0.7zM408.1 113.9h0.7v0.7h-0.7zM413.5 113.3h0.7v0.7h-0.7zM411.5 111.4h0.7v0.7h-0.7zM408.9 106.6h0.7v0.7h-0.7zM409.4 113.4h0.7v0.7h-0.7zM411.6 112.7h0.7v0.7h-0.7zM411.4 103.4h0.7v0.7h-0.7zM427.7 111.2h0.7v0.7h-0.7zM427.4 109.5h0.7v0.7h-0.7zM431 114.1h0.7v0.7h-0.7zM428.7 115h0.7v0.7h-0.7zM429.8 112.7h0.7v0.7h-0.7zM429.2 107.8h0.7v0.7h-0.7zM431.5 110.9h0.7v0.7h-0.7zM428.3 108.5h0.7v0.7h-0.7zM430.1 114h0.7v0.7h-0.7zM445.2 103.6h0.7v0.7h-0.7zM444.5 109.6h0.7v0.7h-0.7zM446.9 107.6h0.7v0.7h-0.7zM445.9 110.2h0.7v0.7h-0.7zM445.7 102.8h0.7v0.7h-0.7zM443.6 97.9h0.7v0.7h-0.7zM444.4 109.7h0.7v0.7h-0.7zM444.8 108h0.7v0.7h-0.7zM458.4 100.1h0.7v0.7h-0.7zM458.3 112.1h0.7v0.7h-0.7zM458.5 110.9h0.7v0.7h-0.7zM457 111.2h0.7v0.7h-0.7zM458.2 110.3h0.7v0.7h-0.7zM458.4 106.8h0.7v0.7h-0.7zM457.8 107.2h0.7v0.7h-0.7zM457 113.5h0.7v0.7h-0.7zM479.5 107h0.7v0.7h-0.7zM479 106.4h0.7v0.7h-0.7zM478.9 102.4h0.7v0.7h-0.7zM490.7 116.5h0.7v0.7h-0.7zM494.4 108.1h0.7v0.7h-0.7zM487.8 117.1h0.7v0.7h-0.7zM486.9 119h0.7v0.7h-0.7zM487.3 109.7h0.7v0.7h-0.7zM493.8 115.8h0.7v0.7h-0.7zM487 116.2h0.7v0.7h-0.7z"/><path fill="#47423f" d="M296.6 117.1h0.7v0.7h-0.7zM299.8 116.3h0.7v0.7h-0.7zM292.9 112.7h0.7v0.7h-0.7zM292.9 90.4h0.7v0.7h-0.7zM297.2 111.8h0.7v0.7h-0.7zM301.4 115.7h0.7v0.7h-0.7zM291.3 111h0.7v0.7h-0.7zM289.2 103.1h0.7v0.7h-0.7zM300.8 109h0.7v0.7h-0.7zM295 113.7h0.7v0.7h-0.7zM299.5 108.6h0.7v0.7h-0.7zM294.9 107.6h0.7v0.7h-0.7zM288.5 109.2h0.7v0.7h-0.7zM297.8 112.4h0.7v0.7h-0.7zM300 108.8h0.7v0.7h-0.7zM298.4 111.2h0.7v0.7h-0.7zM299.1 112h0.7v0.7h-0.7zM292.6 115.1h0.7v0.7h-0.7zM298.5 112.5h0.7v0.7h-0.7zM300.1 106.1h0.7v0.7h-0.7zM291.7 114.9h0.7v0.7h-0.7zM287.9 105h0.7v0.7h-0.7zM290.3 90.3h0.7v0.7h-0.7zM287.9 107.1h0.7v0.7h-0.7zM301.5 108.7h0.7v0.7h-0.7zM295.6 111.4h0.7v0.7h-0.7zM295.3 100.6h0.7v0.7h-0.7zM301.6 108.2h0.7v0.7h-0.7zM294.4 108.5h0.7v0.7h-0.7zM293.7 104.9h0.7v0.7h-0.7zM290.2 112.3h0.7v0.7h-0.7zM298.3 109.8h0.7v0.7h-0.7zM292.5 106h0.7v0.7h-0.7zM299.2 109.8h0.7v0.7h-0.7zM298.1 106h0.7v0.7h-0.7zM291.7 96h0.7v0.7h-0.7zM291.1 112.5h0.7v0.7h-0.7zM299 107.8h0.7v0.7h-0.7zM292.6 106.8h0.7v0.7h-0.7zM327 113.7h0.7v0.7h-0.7zM320.4 117h0.7v0.7h-0.7zM323.1 113h0.7v0.7h-0.7zM323.3 109.8h0.7v0.7h-0.7zM324 97.4h0.7v0.7h-0.7zM323 116.5h0.7v0.7h-0.7zM327.1 113.9h0.7v0.7h-0.7zM321.7 116.7h0.7v0.7h-0.7zM322.3 109.8h0.7v0.7h-0.7zM324 99.5h0.7v0.7h-0.7zM323.1 115.8h0.7v0.7h-0.7zM329.1 109h0.7v0.7h-0.7zM327.1 117.6h0.7v0.7h-0.7zM323.5 114h0.7v0.7h-0.7zM329.3 115.8h0.7v0.7h-0.7zM323.4 115.7h0.7v0.7h-0.7zM326.2 110.9h0.7v0.7h-0.7zM322.9 86.3h0.7v0.7h-0.7zM327.2 115h0.7v0.7h-0.7zM328.2 107.7h0.7v0.7h-0.7zM321.8 116.1h0.7v0.7h-0.7zM320.1 116.3h0.7v0.7h-0.7zM324.6 113.7h0.7v0.7h-0.7zM325.4 115.7h0.7v0.7h-0.7zM329.9 117.9h0.7v0.7h-0.7zM321.8 111.1h0.7v0.7h-0.7zM327.9 114.7h0.7v0.7h-0.7zM329.6 117h0.7v0.7h-0.7zM321 98.2h0.7v0.7h-0.7zM326.5 117.4h0.7v0.7h-0.7zM327 92.5h0.7v0.7h-0.7zM321.5 115.3h0.7v0.7h-0.7zM327.7 108.5h0.7v0.7h-0.7zM321.4 108.6h0.7v0.7h-0.7zM327.8 118.1h0.7v0.7h-0.7zM319.8 113.8h0.7v0.7h-0.7zM327.3 97.3h0.7v0.7h-0.7zM323.8 115.3h0.7v0.7h-0.7zM319.6 114.7h0.7v0.7h-0.7zM347.5 108.7h0.7v0.7h-0.7zM347.4 112.4h0.7v0.7h-0.7zM350 100.5h0.7v0.7h-0.7zM347 115.6h0.7v0.7h-0.7zM347.7 98.9h0.7v0.7h-0.7zM344.9 111.1h0.7v0.7h-0.7zM350 105.6h0.7v0.7h-0.7zM348.5 107.2h0.7v0.7h-0.7zM352.6 106.3h0.7v0.7h-0.7zM347.2 107.6h0.7v0.7h-0.7zM347.8 104.6h0.7v0.7h-0.7zM351.8 107.3h0.7v0.7h-0.7zM351.3 106.1h0.7v0.7h-0.7zM349.3 115.6h0.7v0.7h-0.7zM352.8 115.4h0.7v0.7h-0.7zM354 112.1h0.7v0.7h-0.7zM351.1 109.3h0.7v0.7h-0.7zM352.8 113.4h0.7v0.7h-0.7zM353.8 105.9h0.7v0.7h-0.7zM351.8 106.6h0.7v0.7h-0.7zM348 103.8h0.7v0.7h-0.7zM349.2 110.1h0.7v0.7h-0.7zM351.6 99.8h0.7v0.7h-0.7zM349.6 107.7h0.7v0.7h-0.7zM352.5 105.9h0.7v0.7h-0.7zM348.8 109.4h0.7v0.7h-0.7zM352.7 112.7h0.7v0.7h-0.7zM348.1 103.3h0.7v0.7h-0.7zM370.8 107h0.7v0.7h-0.7zM376.4 116h0.7v0.7h-0.7zM374 114.1h0.7v0.7h-0.7zM371 110.9h0.7v0.7h-0.7zM376.2 113.6h0.7v0.7h-0.7zM368.8 105.5h0.7v0.7h-0.7zM374.2 113.6h0.7v0.7h-0.7zM369 105.7h0.7v0.7h-0.7zM374.5 112.6h0.7v0.7h-0.7zM370 115.8h0.7v0.7h-0.7zM372.1 113.1h0.7v0.7h-0.7zM374.5 117h0.7v0.7h-0.7zM373.1 112.5h0.7v0.7h-0.7zM368.7 117h0.7v0.7h-0.7zM371.7 100.1h0.7v0.7h-0.7zM373.2 113.4h0.7v0.7h-0.7zM372.3 117h0.7v0.7h-0.7zM376.1 107.1h0.7v0.7h-0.7zM373.6 107.2h0.7v0.7h-0.7zM373.7 115.1h0.7v0.7h-0.7zM368.9 116.6h0.7v0.7h-0.7zM375.4 109.7h0.7v0.7h-0.7zM373.7 111.4h0.7v0.7h-0.7zM372.7 116.3h0.7v0.7h-0.7zM372.6 110.3h0.7v0.7h-0.7zM371.6 113.3h0.7v0.7h-0.7zM376.3 116.5h0.7v0.7h-0.7zM374.8 116.9h0.7v0.7h-0.7zM370.6 115.1h0.7v0.7h-0.7zM370.8 111.5h0.7v0.7h-0.7zM395.3 112.8h0.7v0.7h-0.7zM392.2 113.3h0.7v0.7h-0.7zM395.8 106.9h0.7v0.7h-0.7zM390.9 107h0.7v0.7h-0.7zM390 110.4h0.7v0.7h-0.7zM392.5 112.3h0.7v0.7h-0.7zM395 98.7h0.7v0.7h-0.7zM391.3 106.6h0.7v0.7h-0.7zM389.2 102.9h0.7v0.7h-0.7zM389.6 110.2h0.7v0.7h-0.7zM390.3 108.6h0.7v0.7h-0.7zM394.3 104.4h0.7v0.7h-0.7zM392.6 110.8h0.7v0.7h-0.7zM390.1 109.5h0.7v0.7h-0.7zM396.2 113.5h0.7v0.7h-0.7zM395.7 101.4h0.7v0.7h-0.7zM390.9 100.2h0.7v0.7h-0.7zM392.1 109.3h0.7v0.7h-0.7zM391.5 107.7h0.7v0.7h-0.7zM391.3 109.9h0.7v0.7h-0.7zM390.5 109.4h0.7v0.7h-0.7zM391.1 109.9h0.7v0.7h-0.7zM393.8 105.5h0.7v0.7h-0.7zM392 103.3h0.7v0.7h-0.7zM390.1 105.1h0.7v0.7h-0.7zM395.8 113.5h0.7v0.7h-0.7zM410.4 107.9h0.7v0.7h-0.7zM409.8 110.5h0.7v0.7h-0.7zM408.1 113.9h0.7v0.7h-0.7zM413.1 113.8h0.7v0.7h-0.7zM409 98.1h0.7v0.7h-0.7zM412.1 103.5h0.7v0.7h-0.7zM408.5 102h0.7v0.7h-0.7zM412.7 112.4h0.7v0.7h-0.7zM413.9 111.4h0.7v0.7h-0.7zM413.6 113.1h0.7v0.7h-0.7zM410.6 112.4h0.7v0.7h-0.7zM409.6 113.9h0.7v0.7h-0.7zM413.2 111.1h0.7v0.7h-0.7zM412.9 110.9h0.7v0.7h-0.7zM407.9 109.7h0.7v0.7h-0.7zM414.8 108.9h0.7v0.7h-0.7zM407.8 111.2h0.7v0.7h-0.7zM414 101.2h0.7v0.7h-0.7zM414.4 96.8h0.7v0.7h-0.7zM414 106.4h0.7v0.7h-0.7zM412.6 112.9h0.7v0.7h-0.7zM408.8 111.8h0.7v0.7h-0.7zM410.2 112.2h0.7v0.7h-0.7zM408.2 97.3h0.7v0.7h-0.7zM409.8 109.5h0.7v0.7h-0.7zM428.9 103.3h0.7v0.7h-0.7zM429.9 101.4h0.7v0.7h-0.7zM428.5 102.1h0.7v0.7h-0.7zM428.8 100.4h0.7v0.7h-0.7zM428.9 98.6h0.7v0.7h-0.7zM432.5 114.5h0.7v0.7h-0.7zM432.7 116.1h0.7v0.7h-0.7zM428.9 99.8h0.7v0.7h-0.7zM427.3 114.5h0.7v0.7h-0.7zM427.6 113.6h0.7v0.7h-0.7zM428.6 112.2h0.7v0.7h-0.7zM427.6 114.6h0.7v0.7h-0.7zM431.4 108.4h0.7v0.7h-0.7zM427.1 108.6h0.7v0.7h-0.7zM427.6 111.1h0.7v0.7h-0.7zM431 113.5h0.7v0.7h-0.7zM431.1 101.2h0.7v0.7h-0.7zM429 111.9h0.7v0.7h-0.7zM430 113.7h0.7v0.7h-0.7zM428.7 112.9h0.7v0.7h-0.7zM430.2 110.7h0.7v0.7h-0.7zM427.7 112.4h0.7v0.7h-0.7zM428.1 113.4h0.7v0.7h-0.7zM428.7 115.2h0.7v0.7h-0.7zM429.2 100.9h0.7v0.7h-0.7zM429.1 112.8h0.7v0.7h-0.7zM429.7 116.2h0.7v0.7h-0.7zM430.6 110.9h0.7v0.7h-0.7zM446.4 113.1h0.7v0.7h-0.7zM445.1 100.4h0.7v0.7h-0.7zM447.4 94h0.7v0.7h-0.7zM444.3 109.6h0.7v0.7h-0.7zM446.4 106.8h0.7v0.7h-0.7zM446.7 104.4h0.7v0.7h-0.7zM443.1 94.3h0.7v0.7h-0.7zM445 108.4h0.7v0.7h-0.7zM446.1 107.2h0.7v0.7h-0.7zM444.5 113.6h0.7v0.7h-0.7zM443.3 107.5h0.7v0.7h-0.7zM447.4 112h0.7v0.7h-0.7zM446.2 109.6h0.7v0.7h-0.7zM446.5 108.6h0.7v0.7h-0.7zM446.5 110.1h0.7v0.7h-0.7zM445.2 112h0.7v0.7h-0.7zM446.3 102.5h0.7v0.7h-0.7zM459.5 112.9h0.7v0.7h-0.7zM459.6 111.9h0.7v0.7h-0.7zM459.3 110.2h0.7v0.7h-0.7zM458.3 97.9h0.7v0.7h-0.7zM458.6 103.9h0.7v0.7h-0.7zM458.6 109.2h0.7v0.7h-0.7zM458 100.4h0.7v0.7h-0.7zM457.3 88.4h0.7v0.7h-0.7zM457 110.7h0.7v0.7h-0.7zM458.1 111.7h0.7v0.7h-0.7zM459.1 111.9h0.7v0.7h-0.7zM468.3 100h0.7v0.7h-0.7zM468.3 100.9h0.7v0.7h-0.7zM470.3 100h0.7v0.7h-0.7zM469.1 102.2h0.7v0.7h-0.7zM468.6 103.4h0.7v0.7h-0.7zM468.7 104.9h0.7v0.7h-0.7zM469 101.5h0.7v0.7h-0.7zM469.5 105.3h0.7v0.7h-0.7zM470.3 105.9h0.7v0.7h-0.7zM469.4 101.8h0.7v0.7h-0.7zM468.9 106.4h0.7v0.7h-0.7zM469.7 102.6h0.7v0.7h-0.7zM479.3 104.3h0.7v0.7h-0.7zM479.6 107h0.7v0.7h-0.7zM479.7 106.2h0.7v0.7h-0.7zM479.5 100.7h0.7v0.7h-0.7zM479.7 104.3h0.7v0.7h-0.7zM479.5 100.9h0.7v0.7h-0.7zM489.4 118.6h0.7v0.7h-0.7zM490.9 116.3h0.7v0.7h-0.7zM490.3 115.6h0.7v0.7h-0.7zM494.6 112h0.7v0.7h-0.7zM494.5 108.6h0.7v0.7h-0.7zM488.2 116.9h0.7v0.7h-0.7zM494.5 112.1h0.7v0.7h-0.7zM488.8 108.1h0.7v0.7h-0.7zM490.8 114.3h0.7v0.7h-0.7zM491 117.3h0.7v0.7h-0.7zM489.3 116.2h0.7v0.7h-0.7zM494.7 115h0.7v0.7h-0.7zM490.5 113.7h0.7v0.7h-0.7zM487.6 109.4h0.7v0.7h-0.7zM491.4 111.1h0.7v0.7h-0.7zM487.9 112.1h0.7v0.7h-0.7zM495.3 117.8h0.7v0.7h-0.7zM488.6 118.9h0.7v0.7h-0.7zM493.3 110.3h0.7v0.7h-0.7zM490.7 110.4h0.7v0.7h-0.7zM488.5 108h0.7v0.7h-0.7zM487.4 112.7h0.7v0.7h-0.7zM489.1 116.1h0.7v0.7h-0.7zM492.3 110.3h0.7v0.7h-0.7zM490 108.3h0.7v0.7h-0.7zM490.4 118.3h0.7v0.7h-0.7zM486.9 115.3h0.7v0.7h-0.7zM495 110.6h0.7v0.7h-0.7zM490 116.1h0.7v0.7h-0.7zM491.6 116.2h0.7v0.7h-0.7zM487.4 115h0.7v0.7h-0.7zM487.9 108.5h0.7v0.7h-0.7zM489.1 116.4h0.7v0.7h-0.7zM489.7 116.3h0.7v0.7h-0.7zM488.9 110.1h0.7v0.7h-0.7zM489.1 115.5h0.7v0.7h-0.7zM493.4 113.1h0.7v0.7h-0.7z"/><path fill="#8cc3ef" d="M303.9 116.7h0.3v17h-0.3zM311.1 118.9h0.3v0.6h-0.3zM308.4 116.6h0.5v3.4h-0.5zM307.1 118.2h0.5v3.2h-0.5zM305 118.5h0.5v1.8h-0.5zM312.9 112h0.7v0.7h-0.7zM308.3 94.3h0.7v0.7h-0.7zM307.7 111.7h0.7v0.7h-0.7zM307.3 93.1h0.7v0.7h-0.7zM309.4 94.5h0.7v0.7h-0.7zM308.7 88.3h0.7v0.7h-0.7zM311.2 110.8h0.7v0.7h-0.7zM310.6 107.9h0.7v0.7h-0.7zM310.1 107.4h0.7v0.7h-0.7zM312 110.8h0.7v0.7h-0.7zM307 109.8h0.7v0.7h-0.7zM304 109.9h0.7v0.7h-0.7zM311.2 99.9h0.7v0.7h-0.7zM308.4 110.5h0.7v0.7h-0.7zM313.9 91.9h0.7v0.7h-0.7zM315.2 110.6h0.7v0.7h-0.7zM312.6 99.1h0.7v0.7h-0.7zM310 112.3h0.7v0.7h-0.7zM316.2 109.3h0.7v0.7h-0.7zM304.4 97.7h0.7v0.7h-0.7zM312.2 94.7h0.7v0.7h-0.7zM303.8 111.7h0.7v0.7h-0.7zM305.1 105.1h0.7v0.7h-0.7zM311.9 89.3h0.7v0.7h-0.7zM304.4 108.9h0.7v0.7h-0.7zM308 97.5h0.7v0.7h-0.7zM310.5 81.7h0.7v0.7h-0.7zM313.6 109.8h0.7v0.7h-0.7zM303.8 107.9h0.7v0.7h-0.7zM314.3 111.8h0.7v0.7h-0.7zM310.4 111.9h0.7v0.7h-0.7zM315.5 83.8h0.7v0.7h-0.7zM317.2 103.5h0.7v0.7h-0.7zM303.7 100.8h0.7v0.7h-0.7zM314.1 110.2h0.7v0.7h-0.7zM317 111.9h0.7v0.7h-0.7zM316.1 89.7h0.7v0.7h-0.7zM306.5 107.5h0.7v0.7h-0.7zM317.1 103.6h0.7v0.7h-0.7zM315.2 90.4h0.7v0.7h-0.7zM314 107.8h0.7v0.7h-0.7zM311.8 99.7h0.7v0.7h-0.7zM306.8 109.2h0.7v0.7h-0.7zM307.4 109.3h0.7v0.7h-0.7zM308.3 88.3h0.7v0.7h-0.7zM307.9 110.3h0.7v0.7h-0.7zM306.5 105.1h0.7v0.7h-0.7zM307.9 94.1h0.7v0.7h-0.7zM307.7 112.1h0.7v0.7h-0.7zM314.6 96.9h0.7v0.7h-0.7zM316.9 92.6h0.7v0.7h-0.7zM308 94.7h0.7v0.7h-0.7zM313.8 107.1h0.7v0.7h-0.7zM314.3 103.4h0.7v0.7h-0.7zM309.5 86.3h0.7v0.7h-0.7zM311.5 108h0.7v0.7h-0.7zM312.7 101.8h0.7v0.7h-0.7zM309.4 110.8h0.7v0.7h-0.7zM314.2 100.1h0.7v0.7h-0.7zM314.3 98.3h0.7v0.7h-0.7zM310.2 98.3h0.7v0.7h-0.7zM316.4 106.2h0.7v0.7h-0.7zM308.2 112.8h0.7v0.7h-0.7zM317.3 109.4h0.7v0.7h-0.7zM303.8 107h0.7v0.7h-0.7zM339.8 134.8h0.5v1.4h-0.5zM334.4 113.7h0.5v3.6h-0.5zM335 106.2h0.7v0.7h-0.7zM338.8 102.4h0.7v0.7h-0.7zM334.1 103.3h0.7v0.7h-0.7zM339.6 102.8h0.7v0.7h-0.7zM334.2 104.3h0.7v0.7h-0.7zM332.2 105.3h0.7v0.7h-0.7zM337.3 100.5h0.7v0.7h-0.7zM337.9 106.7h0.7v0.7h-0.7zM337.8 110h0.7v0.7h-0.7zM332.2 102.2h0.7v0.7h-0.7zM336.8 110.6h0.7v0.7h-0.7zM335.7 106.2h0.7v0.7h-0.7zM335.7 108.3h0.7v0.7h-0.7zM337.2 108.7h0.7v0.7h-0.7zM336.3 100.2h0.7v0.7h-0.7zM342.6 101.4h0.7v0.7h-0.7zM332.8 96.7h0.7v0.7h-0.7zM336.4 108.6h0.7v0.7h-0.7zM340.5 100.4h0.7v0.7h-0.7zM333.8 110.4h0.7v0.7h-0.7zM337 102.1h0.7v0.7h-0.7zM340.5 104.6h0.7v0.7h-0.7zM335.5 99.7h0.7v0.7h-0.7zM337.3 109.8h0.7v0.7h-0.7zM341.6 98.1h0.7v0.7h-0.7zM340.4 101.4h0.7v0.7h-0.7zM333.3 102.2h0.7v0.7h-0.7zM335.7 108h0.7v0.7h-0.7zM336.6 107.3h0.7v0.7h-0.7zM339.2 108.8h0.7v0.7h-0.7zM342.1 108.9h0.7v0.7h-0.7zM342.9 110.2h0.7v0.7h-0.7zM332.3 97.4h0.7v0.7h-0.7zM342.9 107.8h0.7v0.7h-0.7zM332.4 97.4h0.7v0.7h-0.7zM338.7 109.7h0.7v0.7h-0.7zM341.4 110.5h0.7v0.7h-0.7zM338 107.3h0.7v0.7h-0.7zM340.7 105.9h0.7v0.7h-0.7zM336.7 100.4h0.7v0.7h-0.7zM335.6 106.3h0.7v0.7h-0.7zM337.4 101.5h0.7v0.7h-0.7zM335.9 107.2h0.7v0.7h-0.7zM340.3 110.3h0.7v0.7h-0.7zM341.1 108.9h0.7v0.7h-0.7zM338.3 103h0.7v0.7h-0.7zM339 96.3h0.7v0.7h-0.7zM342.6 106.4h0.7v0.7h-0.7zM335.2 101.4h0.7v0.7h-0.7zM338.9 102.4h0.7v0.7h-0.7zM342.6 108.7h0.7v0.7h-0.7zM337.6 106.7h0.7v0.7h-0.7zM333.9 106h0.7v0.7h-0.7zM359 111.8h0.3v3.2h-0.3zM365.3 112.1h0.3v1.6h-0.3zM363.7 154.7h0.5v1.9h-0.5zM363.4 113.3h0.5v1.8h-0.5zM362.4 101.7h0.7v0.7h-0.7zM360.6 103.7h0.7v0.7h-0.7zM366.1 100.2h0.7v0.7h-0.7zM356.5 99.2h0.7v0.7h-0.7zM362.1 101.4h0.7v0.7h-0.7zM365.5 96.1h0.7v0.7h-0.7zM361.7 103.2h0.7v0.7h-0.7zM363.3 98.5h0.7v0.7h-0.7zM359.3 104.1h0.7v0.7h-0.7zM360.6 105.1h0.7v0.7h-0.7zM357.4 100.7h0.7v0.7h-0.7zM357.3 107.7h0.7v0.7h-0.7zM366.1 108.3h0.7v0.7h-0.7zM358.3 99.7h0.7v0.7h-0.7zM358.6 102.6h0.7v0.7h-0.7zM362 101.4h0.7v0.7h-0.7zM358.6 95.2h0.7v0.7h-0.7zM358.9 109.9h0.7v0.7h-0.7zM362 106.8h0.7v0.7h-0.7zM365 109h0.7v0.7h-0.7zM356.6 97.1h0.7v0.7h-0.7zM362.9 106.4h0.7v0.7h-0.7zM358 106.2h0.7v0.7h-0.7zM359.4 110.9h0.7v0.7h-0.7zM365.3 110.1h0.7v0.7h-0.7zM363.9 108.9h0.7v0.7h-0.7zM359.8 95.8h0.7v0.7h-0.7zM356.9 109.9h0.7v0.7h-0.7zM364 109.6h0.7v0.7h-0.7zM364 101.9h0.7v0.7h-0.7zM360.3 103.6h0.7v0.7h-0.7zM360.1 97.5h0.7v0.7h-0.7zM357.6 108h0.7v0.7h-0.7zM356.5 108.6h0.7v0.7h-0.7zM362.2 109.5h0.7v0.7h-0.7zM358 106.6h0.7v0.7h-0.7zM361 105.8h0.7v0.7h-0.7zM362.9 101.9h0.7v0.7h-0.7zM360.1 108h0.7v0.7h-0.7zM363.4 105.6h0.7v0.7h-0.7zM363.5 107.5h0.7v0.7h-0.7zM361.1 106.3h0.7v0.7h-0.7zM360.4 104.6h0.7v0.7h-0.7zM357.7 110.7h0.7v0.7h-0.7zM358.7 102.8h0.7v0.7h-0.7zM362.8 95.8h0.7v0.7h-0.7zM359.9 104.2h0.7v0.7h-0.7zM366.2 98.6h0.7v0.7h-0.7zM366 103.3h0.7v0.7h-0.7zM362.1 110.2h0.7v0.7h-0.7zM359.7 105h0.7v0.7h-0.7zM358.9 110.5h0.7v0.7h-0.7zM362.3 110.7h0.7v0.7h-0.7zM359.5 94.9h0.7v0.7h-0.7zM366.2 97.6h0.7v0.7h-0.7zM382.2 110h0.3v11.6h-0.3zM383.4 117.3h0.5v1.9h-0.5zM384.3 109.8h0.5v3.4h-0.5zM384.1 110.1h0.5v2.4h-0.5zM381.6 103h0.7v0.7h-0.7zM380.7 97.2h0.7v0.7h-0.7zM380.5 109h0.7v0.7h-0.7zM386.5 90h0.7v0.7h-0.7zM386.1 104.2h0.7v0.7h-0.7zM379.9 96.7h0.7v0.7h-0.7zM378.5 103.1h0.7v0.7h-0.7zM385.4 83h0.7v0.7h-0.7zM381.7 105.2h0.7v0.7h-0.7zM379.9 93.9h0.7v0.7h-0.7zM385.9 105.8h0.7v0.7h-0.7zM378.4 103.5h0.7v0.7h-0.7zM379.6 106.3h0.7v0.7h-0.7zM378.4 92.8h0.7v0.7h-0.7zM385.1 95h0.7v0.7h-0.7zM386.1 102h0.7v0.7h-0.7zM383.6 103.2h0.7v0.7h-0.7zM381.2 108.6h0.7v0.7h-0.7zM380.3 108.1h0.7v0.7h-0.7zM378.8 100h0.7v0.7h-0.7zM386.4 101.7h0.7v0.7h-0.7zM386.3 94.3h0.7v0.7h-0.7zM386.2 105.7h0.7v0.7h-0.7zM381.1 104.4h0.7v0.7h-0.7zM382.2 104.5h0.7v0.7h-0.7zM384.1 103.4h0.7v0.7h-0.7zM380.2 103.5h0.7v0.7h-0.7zM379 92.8h0.7v0.7h-0.7zM384.7 98.9h0.7v0.7h-0.7zM384.7 99.5h0.7v0.7h-0.7zM386.2 106.4h0.7v0.7h-0.7zM385.2 90.3h0.7v0.7h-0.7zM386.6 102.2h0.7v0.7h-0.7zM383.6 106.9h0.7v0.7h-0.7zM378.7 90.6h0.7v0.7h-0.7zM383.1 108.3h0.7v0.7h-0.7zM385.4 88h0.7v0.7h-0.7zM386.9 106.4h0.7v0.7h-0.7zM382.6 105h0.7v0.7h-0.7zM380.9 105.5h0.7v0.7h-0.7zM380.7 91.5h0.7v0.7h-0.7zM382.7 103.3h0.7v0.7h-0.7zM385 99.4h0.7v0.7h-0.7zM398.7 138.8h0.5v3.8h-0.5zM403.7 151h0.5v1.8h-0.5zM402.6 158.3h0.5v1.7h-0.5zM398.8 107.1h0.7v0.7h-0.7zM401.3 108.1h0.7v0.7h-0.7zM405.3 110.4h0.7v0.7h-0.7zM402.5 103.5h0.7v0.7h-0.7zM402.8 97.9h0.7v0.7h-0.7zM400.1 104h0.7v0.7h-0.7zM403 105.3h0.7v0.7h-0.7zM398.9 105.7h0.7v0.7h-0.7zM398.4 102.3h0.7v0.7h-0.7zM404 104.1h0.7v0.7h-0.7zM402.6 110.5h0.7v0.7h-0.7zM399.9 99.3h0.7v0.7h-0.7zM403.3 106.7h0.7v0.7h-0.7zM402.5 107.7h0.7v0.7h-0.7zM404.2 106.1h0.7v0.7h-0.7zM404 104.1h0.7v0.7h-0.7zM403.5 107.3h0.7v0.7h-0.7zM402.5 100.4h0.7v0.7h-0.7zM398.6 103.7h0.7v0.7h-0.7zM399.1 105.3h0.7v0.7h-0.7zM404.7 111.9h0.7v0.7h-0.7zM402.3 106h0.7v0.7h-0.7zM402.2 104.8h0.7v0.7h-0.7zM400.1 110h0.7v0.7h-0.7zM399.2 104.2h0.7v0.7h-0.7zM404.5 105.4h0.7v0.7h-0.7zM404.5 108.1h0.7v0.7h-0.7zM399.1 102.1h0.7v0.7h-0.7zM405.1 102.5h0.7v0.7h-0.7zM401.9 106.9h0.7v0.7h-0.7zM403.9 110.2h0.7v0.7h-0.7zM401.2 111.3h0.7v0.7h-0.7zM399 98.9h0.7v0.7h-0.7zM403.8 107.4h0.7v0.7h-0.7zM401 111.3h0.7v0.7h-0.7zM405 107.6h0.7v0.7h-0.7zM402.9 107.1h0.7v0.7h-0.7zM402.5 109.3h0.7v0.7h-0.7zM401.6 105.5h0.7v0.7h-0.7zM400.9 109.4h0.7v0.7h-0.7zM404.4 103.3h0.7v0.7h-0.7zM398.1 111.1h0.7v0.7h-0.7zM401.9 107.7h0.7v0.7h-0.7zM399.3 98.6h0.7v0.7h-0.7zM403.8 110.8h0.7v0.7h-0.7zM404.8 108.3h0.7v0.7h-0.7zM423.5 109h0.3v10.9h-0.3zM418.9 112.9h0.5v1.5h-0.5zM421.7 114.6h0.5v1.4h-0.5zM420.7 108.4h0.7v0.7h-0.7zM424.3 105.6h0.7v0.7h-0.7zM423.9 103.1h0.7v0.7h-0.7zM423.4 104.8h0.7v0.7h-0.7zM418.3 107.1h0.7v0.7h-0.7zM419.2 100.4h0.7v0.7h-0.7zM417.5 103h0.7v0.7h-0.7zM419.2 100.4h0.7v0.7h-0.7zM421.2 101.7h0.7v0.7h-0.7zM421.6 108h0.7v0.7h-0.7zM417.4 106.6h0.7v0.7h-0.7zM419.9 108.3h0.7v0.7h-0.7zM424.4 108h0.7v0.7h-0.7zM418 108.1h0.7v0.7h-0.7zM418.3 107.9h0.7v0.7h-0.7zM419.9 99.7h0.7v0.7h-0.7zM419.7 108.3h0.7v0.7h-0.7zM421 108.2h0.7v0.7h-0.7zM422.8 101.9h0.7v0.7h-0.7zM423 103.6h0.7v0.7h-0.7zM418 103.8h0.7v0.7h-0.7zM422.7 102.9h0.7v0.7h-0.7zM417.7 109h0.7v0.7h-0.7zM423.8 105.7h0.7v0.7h-0.7zM421.5 106.2h0.7v0.7h-0.7zM422.2 105.7h0.7v0.7h-0.7zM419.3 99.7h0.7v0.7h-0.7zM419.2 99.1h0.7v0.7h-0.7zM417 101.8h0.7v0.7h-0.7zM422 109h0.7v0.7h-0.7zM420 108.2h0.7v0.7h-0.7zM424.1 107.8h0.7v0.7h-0.7zM421.4 103.7h0.7v0.7h-0.7zM422.5 105.1h0.7v0.7h-0.7zM423.4 105.6h0.7v0.7h-0.7zM419 104.1h0.7v0.7h-0.7zM423.8 105.2h0.7v0.7h-0.7zM418.9 104h0.7v0.7h-0.7zM417.6 108.9h0.7v0.7h-0.7zM417.6 107.3h0.7v0.7h-0.7zM418.6 106.3h0.7v0.7h-0.7zM439.9 142.6h0.5v3.8h-0.5zM436.2 118h0.5v1.6h-0.5zM440.4 113.1h0.5v2.5h-0.5zM439.1 116.7h0.5v1.3h-0.5zM435.7 108.8h0.7v0.7h-0.7zM436.9 108.3h0.7v0.7h-0.7zM439.6 110.7h0.7v0.7h-0.7zM438.1 110h0.7v0.7h-0.7zM437.6 106.4h0.7v0.7h-0.7zM438.8 102.1h0.7v0.7h-0.7zM437.2 101.4h0.7v0.7h-0.7zM435.1 100.8h0.7v0.7h-0.7zM437.2 109.5h0.7v0.7h-0.7zM440.4 103.1h0.7v0.7h-0.7zM435.4 109.9h0.7v0.7h-0.7zM437.3 110.6h0.7v0.7h-0.7zM438.3 106.7h0.7v0.7h-0.7zM439 103.6h0.7v0.7h-0.7zM437.1 109.7h0.7v0.7h-0.7zM438.6 110h0.7v0.7h-0.7zM439 105.2h0.7v0.7h-0.7zM434.7 110.7h0.7v0.7h-0.7zM436.1 107.4h0.7v0.7h-0.7zM439.5 108.9h0.7v0.7h-0.7zM440.1 106.6h0.7v0.7h-0.7zM437.1 106.8h0.7v0.7h-0.7zM437.3 105.7h0.7v0.7h-0.7zM436.1 106.6h0.7v0.7h-0.7zM439.3 107.3h0.7v0.7h-0.7zM438.6 108.3h0.7v0.7h-0.7zM435.8 99h0.7v0.7h-0.7zM434.7 101.1h0.7v0.7h-0.7zM439.9 103.7h0.7v0.7h-0.7zM452 114.5h0.5v0.8h-0.5zM451.8 127h0.5v4h-0.5zM450.4 113.5h0.5v3h-0.5zM449.4 109.4h0.7v0.7h-0.7zM450.3 96.6h0.7v0.7h-0.7zM452.7 106.6h0.7v0.7h-0.7zM453.6 102.7h0.7v0.7h-0.7zM449.7 106.6h0.7v0.7h-0.7zM454.6 94.8h0.7v0.7h-0.7zM451.6 104h0.7v0.7h-0.7zM451.8 105.5h0.7v0.7h-0.7zM451.5 102.2h0.7v0.7h-0.7zM452.1 110.7h0.7v0.7h-0.7zM450.9 107h0.7v0.7h-0.7zM450.1 106.4h0.7v0.7h-0.7zM451.6 97.9h0.7v0.7h-0.7zM449.5 97.2h0.7v0.7h-0.7zM454.4 100.7h0.7v0.7h-0.7zM452.8 109.7h0.7v0.7h-0.7zM453.2 93.5h0.7v0.7h-0.7zM451.9 105.8h0.7v0.7h-0.7zM450.4 110h0.7v0.7h-0.7zM452.1 105h0.7v0.7h-0.7zM450.4 107.5h0.7v0.7h-0.7zM452.8 106h0.7v0.7h-0.7zM450.1 99.6h0.7v0.7h-0.7zM461.7 110h0.3v4h-0.3zM463.2 111.4h0.5v2.5h-0.5zM463.5 117.2h0.5v2.6h-0.5zM463.2 109.2h0.7v0.7h-0.7zM463 109.6h0.7v0.7h-0.7zM464.3 100.9h0.7v0.7h-0.7zM463.2 104.2h0.7v0.7h-0.7zM462.3 101.9h0.7v0.7h-0.7zM464.8 108.4h0.7v0.7h-0.7zM462.7 103.6h0.7v0.7h-0.7zM462.3 109h0.7v0.7h-0.7zM463.4 100.7h0.7v0.7h-0.7zM463.7 102.2h0.7v0.7h-0.7zM462.5 99.2h0.7v0.7h-0.7zM463.7 98.8h0.7v0.7h-0.7zM466 100.4h0.7v0.7h-0.7zM465.6 108.5h0.7v0.7h-0.7zM465.2 108h0.7v0.7h-0.7zM463.2 108.3h0.7v0.7h-0.7zM464.8 108.9h0.7v0.7h-0.7zM464.3 109.6h0.7v0.7h-0.7zM465.5 104h0.7v0.7h-0.7zM463.3 108.3h0.7v0.7h-0.7zM463.4 109.9h0.7v0.7h-0.7zM464.3 99.9h0.7v0.7h-0.7zM463.5 109.6h0.7v0.7h-0.7zM462.2 107.1h0.7v0.7h-0.7zM465 104h0.7v0.7h-0.7zM463.7 105.9h0.7v0.7h-0.7zM463.9 108.7h0.7v0.7h-0.7zM464.7 106.1h0.7v0.7h-0.7zM473 114.8h0.5v1.8h-0.5zM474.4 108.1h0.5v3.9h-0.5zM475.7 102.6h0.7v0.7h-0.7zM476.2 92.7h0.7v0.7h-0.7zM473.4 88.4h0.7v0.7h-0.7zM473.3 98.8h0.7v0.7h-0.7zM473.8 98.9h0.7v0.7h-0.7zM473.5 87.6h0.7v0.7h-0.7zM475.5 87.2h0.7v0.7h-0.7zM473.4 88.5h0.7v0.7h-0.7zM476.1 90.6h0.7v0.7h-0.7zM475 89.6h0.7v0.7h-0.7zM475.2 87.8h0.7v0.7h-0.7zM475.5 98.1h0.7v0.7h-0.7zM475.4 95.3h0.7v0.7h-0.7zM475.6 100.6h0.7v0.7h-0.7zM473.5 96.3h0.7v0.7h-0.7zM473 102.5h0.7v0.7h-0.7zM474.5 102.8h0.7v0.7h-0.7zM472.9 98.8h0.7v0.7h-0.7zM475.2 91.3h0.7v0.7h-0.7zM473 94.6h0.7v0.7h-0.7zM483.7 108.6h0.3v18h-0.3zM483 131.8h0.5v2.2h-0.5zM483.5 104.6h0.7v0.7h-0.7zM484.7 103h0.7v0.7h-0.7zM483.8 100.9h0.7v0.7h-0.7zM483 100.6h0.7v0.7h-0.7zM484.4 105.3h0.7v0.7h-0.7zM483.8 98.7h0.7v0.7h-0.7zM484.9 102.6h0.7v0.7h-0.7zM485.1 102.1h0.7v0.7h-0.7zM483.7 101.9h0.7v0.7h-0.7zM484.2 98.1h0.7v0.7h-0.7zM484 102.7h0.7v0.7h-0.7zM483.9 103.7h0.7v0.7h-0.7zM483.5 100.6h0.7v0.7h-0.7zM485 100.3h0.7v0.7h-0.7zM484.4 102.9h0.7v0.7h-0.7zM482.6 101.6h0.7v0.7h-0.7zM483.3 100.3h0.7v0.7h-0.7zM484.8 105.1h0.7v0.7h-0.7zM483.3 104.2h0.7v0.7h-0.7zM485.2 105h0.7v0.7h-0.7zM484.3 102.8h0.7v0.7h-0.7z"/><path fill="#d0e8fa" d="M308.9 116.2h0.3v4.1h-0.3zM312.9 109.7h0.3v9.8h-0.3zM313.4 112.8h0.3v3.7h-0.3zM316.5 111.8h0.3v1.7h-0.3zM359.5 111.1h0.3v1.1h-0.3zM360.8 107.2h0.3v6.7h-0.3zM417.2 106.8h0.3v5.4h-0.3zM422.6 110.6h0.3v6.1h-0.3zM463.5 113.8h0.3v0.5h-0.3zM473.8 102.3h0.3v12.4h-0.3zM474.7 99.5h0.3v8.9h-0.3z"/><path fill="#b5d9f6" d="M312.5 111.1h0.3v27.6h-0.3zM315.6 115.4h0.3v4.9h-0.3zM335.7 105.1h0.3v3.1h-0.3zM339.3 115.3h0.3v4.6h-0.3zM382.6 112.3h0.3v6.6h-0.3zM383.5 109.2h0.3v1.9h-0.3zM399.1 113.8h0.3v0.8h-0.3zM400 113.6h0.3v6.6h-0.3zM418.1 107.3h0.3v7.8h-0.3zM421.2 105.6h0.3v2.1h-0.3zM436.3 114.4h0.3v0.3h-0.3zM438.5 106.5h0.3v4.2h-0.3zM454.6 109h0.3v0.8h-0.3zM485.5 108.2h0.3v1.6h-0.3z"/><path fill="#a9d3f5" d="M314.2 142.6h0.5v3h-0.5zM313.2 143.3h0.5v1.2h-0.5zM311.1 114.7h0.5v2.3h-0.5zM315.2 117.9h0.5v1.4h-0.5zM314.5 127.8h0.5v2.7h-0.5zM310.6 152.8h0.5v2.3h-0.5zM306.3 115.6h0.5v3.3h-0.5zM310.6 106.4h0.7v0.7h-0.7zM305.3 111.2h0.7v0.7h-0.7zM311.9 102.8h0.7v0.7h-0.7zM316.8 96.5h0.7v0.7h-0.7zM304.2 94.6h0.7v0.7h-0.7zM306.1 99h0.7v0.7h-0.7zM317.3 108.5h0.7v0.7h-0.7zM309.1 109.7h0.7v0.7h-0.7zM316.1 100h0.7v0.7h-0.7zM304.4 99.8h0.7v0.7h-0.7zM304.8 109.6h0.7v0.7h-0.7zM312.5 108.9h0.7v0.7h-0.7zM305.4 103.3h0.7v0.7h-0.7zM305.5 100.7h0.7v0.7h-0.7zM310.5 100.6h0.7v0.7h-0.7zM314.9 84.9h0.7v0.7h-0.7zM312.3 108.5h0.7v0.7h-0.7zM316.5 111.7h0.7v0.7h-0.7zM316.1 110.6h0.7v0.7h-0.7zM310.8 96.7h0.7v0.7h-0.7zM309.2 103h0.7v0.7h-0.7zM316.4 113h0.7v0.7h-0.7zM315.5 100.3h0.7v0.7h-0.7zM305 95h0.7v0.7h-0.7zM315.4 108.6h0.7v0.7h-0.7zM315.2 102.9h0.7v0.7h-0.7zM310.1 105.6h0.7v0.7h-0.7zM304.9 101h0.7v0.7h-0.7zM304.4 112.5h0.7v0.7h-0.7zM303.8 85.2h0.7v0.7h-0.7zM313.1 89h0.7v0.7h-0.7zM311.5 90.6h0.7v0.7h-0.7zM307 112.2h0.7v0.7h-0.7zM315.1 109.7h0.7v0.7h-0.7zM310.9 104.9h0.7v0.7h-0.7zM305.3 109.7h0.7v0.7h-0.7zM313.6 98.8h0.7v0.7h-0.7zM313.8 108.9h0.7v0.7h-0.7zM312.3 111.5h0.7v0.7h-0.7zM313.4 103.1h0.7v0.7h-0.7zM313.4 109.8h0.7v0.7h-0.7zM315.9 107.1h0.7v0.7h-0.7zM303.5 102.8h0.7v0.7h-0.7zM310.8 102.7h0.7v0.7h-0.7zM315.9 111.7h0.7v0.7h-0.7zM316.5 96.8h0.7v0.7h-0.7zM309.7 111.2h0.7v0.7h-0.7zM307.6 109.7h0.7v0.7h-0.7zM308.7 100.9h0.7v0.7h-0.7zM312.6 97.4h0.7v0.7h-0.7zM315.3 99.2h0.7v0.7h-0.7zM304.8 110.1h0.7v0.7h-0.7zM310.8 111.6h0.7v0.7h-0.7zM306.7 101.8h0.7v0.7h-0.7zM309.4 101.4h0.7v0.7h-0.7zM309.7 112.9h0.7v0.7h-0.7zM304.3 106.5h0.7v0.7h-0.7zM313.9 82.8h0.7v0.7h-0.7zM310.2 94.2h0.7v0.7h-0.7zM315 111h0.7v0.7h-0.7zM317.2 107.4h0.7v0.7h-0.7zM312.2 105.4h0.7v0.7h-0.7zM310.5 91.1h0.7v0.7h-0.7zM305 98h0.7v0.7h-0.7zM311.2 112.5h0.7v0.7h-0.7zM309 108.5h0.7v0.7h-0.7zM310.2 92.8h0.7v0.7h-0.7zM304.1 100.1h0.7v0.7h-0.7zM317.1 108.7h0.7v0.7h-0.7zM306.9 91.1h0.7v0.7h-0.7zM308.2 112.2h0.7v0.7h-0.7zM336.6 113.8h0.5v3.8h-0.5zM339.2 111.4h0.5v3.3h-0.5zM338.3 113.8h0.5v1.1h-0.5zM340.3 140.2h0.5v1.1h-0.5zM341.6 114.9h0.5v2.5h-0.5zM339.6 101.6h0.7v0.7h-0.7zM342 109.2h0.7v0.7h-0.7zM339.6 109.5h0.7v0.7h-0.7zM337.9 109.8h0.7v0.7h-0.7zM338 100.1h0.7v0.7h-0.7zM337.3 108h0.7v0.7h-0.7zM335.5 104.1h0.7v0.7h-0.7zM335.1 98.7h0.7v0.7h-0.7zM336.7 104.3h0.7v0.7h-0.7zM336.3 109.1h0.7v0.7h-0.7zM333.4 110.5h0.7v0.7h-0.7zM332.7 108.6h0.7v0.7h-0.7zM332.2 109h0.7v0.7h-0.7zM336.1 110.5h0.7v0.7h-0.7zM342.1 108.8h0.7v0.7h-0.7zM335.3 106h0.7v0.7h-0.7zM341.7 110.3h0.7v0.7h-0.7zM335.7 100.4h0.7v0.7h-0.7zM335.9 107.9h0.7v0.7h-0.7zM337.6 107.5h0.7v0.7h-0.7zM337.9 101.9h0.7v0.7h-0.7zM337.6 106.1h0.7v0.7h-0.7zM339.2 109.8h0.7v0.7h-0.7zM335.3 98.8h0.7v0.7h-0.7zM340.5 99.6h0.7v0.7h-0.7zM337.7 102.3h0.7v0.7h-0.7zM336.2 107.2h0.7v0.7h-0.7zM339.2 102.7h0.7v0.7h-0.7zM342.1 104.6h0.7v0.7h-0.7zM342 102.7h0.7v0.7h-0.7zM334.7 106.7h0.7v0.7h-0.7zM339.1 110.4h0.7v0.7h-0.7zM336.1 106.9h0.7v0.7h-0.7zM341.6 107h0.7v0.7h-0.7zM338.8 103h0.7v0.7h-0.7zM335.5 100.9h0.7v0.7h-0.7zM334.3 102h0.7v0.7h-0.7zM338.8 96.3h0.7v0.7h-0.7zM342.9 98.4h0.7v0.7h-0.7zM339.3 106.3h0.7v0.7h-0.7zM334 99.7h0.7v0.7h-0.7zM341 106.3h0.7v0.7h-0.7zM338.6 102.5h0.7v0.7h-0.7zM335.4 110.9h0.7v0.7h-0.7zM338 97h0.7v0.7h-0.7zM338 110.3h0.7v0.7h-0.7zM341.8 96.2h0.7v0.7h-0.7zM340.6 105.2h0.7v0.7h-0.7zM332.1 108.4h0.7v0.7h-0.7zM334.5 98.5h0.7v0.7h-0.7zM333.8 100.9h0.7v0.7h-0.7zM335.7 104.5h0.7v0.7h-0.7zM340.2 100.3h0.7v0.7h-0.7zM338 106.1h0.7v0.7h-0.7zM333.3 105.2h0.7v0.7h-0.7zM335.2 107.8h0.7v0.7h-0.7zM333.9 101.1h0.7v0.7h-0.7zM338.1 110.1h0.7v0.7h-0.7zM340.2 106.7h0.7v0.7h-0.7zM337.6 107.5h0.7v0.7h-0.7zM334.2 109.6h0.7v0.7h-0.7zM335.9 106.9h0.7v0.7h-0.7zM340.1 103.9h0.7v0.7h-0.7zM362.2 119h0.5v2.6h-0.5zM361.5 112.8h0.5v1.2h-0.5zM358 138.3h0.5v3.7h-0.5zM365.1 109.9h0.7v0.7h-0.7zM357.9 109.8h0.7v0.7h-0.7zM358.4 99.4h0.7v0.7h-0.7zM365.1 108.7h0.7v0.7h-0.7zM360.8 94.9h0.7v0.7h-0.7zM356.4 101.5h0.7v0.7h-0.7zM360.8 102.5h0.7v0.7h-0.7zM365.2 105.9h0.7v0.7h-0.7zM365.4 97.6h0.7v0.7h-0.7zM364.7 95.7h0.7v0.7h-0.7zM365.5 107.9h0.7v0.7h-0.7zM356.4 97.5h0.7v0.7h-0.7zM366.1 105.2h0.7v0.7h-0.7zM362.6 103.5h0.7v0.7h-0.7zM357.5 97.8h0.7v0.7h-0.7zM359.4 102h0.7v0.7h-0.7zM358.7 97.3h0.7v0.7h-0.7zM364 97.8h0.7v0.7h-0.7zM360.4 99h0.7v0.7h-0.7zM359.3 96.4h0.7v0.7h-0.7zM359.2 110.5h0.7v0.7h-0.7zM361 108.8h0.7v0.7h-0.7zM364.2 103.2h0.7v0.7h-0.7zM363.9 100.3h0.7v0.7h-0.7zM365.9 101.9h0.7v0.7h-0.7zM359.8 104.3h0.7v0.7h-0.7zM360.8 105.5h0.7v0.7h-0.7zM361.9 110.7h0.7v0.7h-0.7zM359.6 105.6h0.7v0.7h-0.7zM363.4 109.7h0.7v0.7h-0.7zM364.4 108.9h0.7v0.7h-0.7zM364.4 102.7h0.7v0.7h-0.7zM365.4 103.9h0.7v0.7h-0.7zM357 105.9h0.7v0.7h-0.7zM357.3 108.5h0.7v0.7h-0.7zM362.4 109h0.7v0.7h-0.7zM364.4 106.9h0.7v0.7h-0.7zM360.3 99h0.7v0.7h-0.7zM366.2 110.7h0.7v0.7h-0.7zM362.2 104h0.7v0.7h-0.7zM362.9 100.9h0.7v0.7h-0.7zM360.2 110.6h0.7v0.7h-0.7zM363.4 98.9h0.7v0.7h-0.7zM365.4 108.6h0.7v0.7h-0.7zM362.9 109.7h0.7v0.7h-0.7zM366.2 110.1h0.7v0.7h-0.7zM362.7 109.3h0.7v0.7h-0.7zM363.1 102.6h0.7v0.7h-0.7zM362.8 110.1h0.7v0.7h-0.7zM357.5 107.3h0.7v0.7h-0.7zM360.6 110h0.7v0.7h-0.7zM363.2 109.6h0.7v0.7h-0.7zM363.1 100.6h0.7v0.7h-0.7zM361.7 99.2h0.7v0.7h-0.7zM363 99.7h0.7v0.7h-0.7zM365 100.3h0.7v0.7h-0.7zM365.1 108.2h0.7v0.7h-0.7zM358.7 110h0.7v0.7h-0.7zM362.4 108.8h0.7v0.7h-0.7zM357.9 96.1h0.7v0.7h-0.7zM359.5 109.1h0.7v0.7h-0.7zM385.4 111.8h0.5v3.9h-0.5zM383.3 135h0.5v3.9h-0.5zM381.4 110h0.5v1.1h-0.5zM378.7 110.1h0.5v2h-0.5zM378.8 108.8h0.7v0.7h-0.7zM381.7 86.1h0.7v0.7h-0.7zM385.6 95.3h0.7v0.7h-0.7zM384.4 103h0.7v0.7h-0.7zM381 102.4h0.7v0.7h-0.7zM379.1 109.4h0.7v0.7h-0.7zM384.6 84.4h0.7v0.7h-0.7zM382 99.7h0.7v0.7h-0.7zM379.5 95.5h0.7v0.7h-0.7zM386.2 106.3h0.7v0.7h-0.7zM381.5 102.3h0.7v0.7h-0.7zM386.1 99.4h0.7v0.7h-0.7zM381.3 105.4h0.7v0.7h-0.7zM384.6 98.5h0.7v0.7h-0.7zM386.3 101.8h0.7v0.7h-0.7zM383.4 85.1h0.7v0.7h-0.7zM383.7 105.5h0.7v0.7h-0.7zM380.8 107.1h0.7v0.7h-0.7zM383.3 108.2h0.7v0.7h-0.7zM384.2 99.1h0.7v0.7h-0.7zM386.1 97.4h0.7v0.7h-0.7zM380.9 95.8h0.7v0.7h-0.7zM379.2 107.8h0.7v0.7h-0.7zM378.9 109.6h0.7v0.7h-0.7zM384.9 84.2h0.7v0.7h-0.7zM385.7 106.8h0.7v0.7h-0.7zM386.6 92.7h0.7v0.7h-0.7zM381.5 87.6h0.7v0.7h-0.7zM379 92.4h0.7v0.7h-0.7zM380.3 106.2h0.7v0.7h-0.7zM380 96.4h0.7v0.7h-0.7zM382.1 104.3h0.7v0.7h-0.7zM384.5 108.1h0.7v0.7h-0.7zM385.6 106.7h0.7v0.7h-0.7zM385.2 95.3h0.7v0.7h-0.7zM386.7 102.8h0.7v0.7h-0.7zM378.9 101.3h0.7v0.7h-0.7zM382.3 106.2h0.7v0.7h-0.7zM383.9 92.1h0.7v0.7h-0.7zM385.3 101.5h0.7v0.7h-0.7zM382.9 101.7h0.7v0.7h-0.7zM382.2 86.5h0.7v0.7h-0.7zM386.6 98.5h0.7v0.7h-0.7zM386 107.4h0.7v0.7h-0.7zM384.2 109.1h0.7v0.7h-0.7zM382 105.7h0.7v0.7h-0.7zM386.7 84.7h0.7v0.7h-0.7zM384.8 108.8h0.7v0.7h-0.7zM384 105.4h0.7v0.7h-0.7zM383.1 96h0.7v0.7h-0.7zM384.7 105h0.7v0.7h-0.7zM379.8 107.4h0.7v0.7h-0.7zM385 108.9h0.7v0.7h-0.7zM385.3 104.3h0.7v0.7h-0.7zM384.3 103.3h0.7v0.7h-0.7zM383.9 107.8h0.7v0.7h-0.7zM399.8 108.6h0.7v0.7h-0.7zM401.9 101.9h0.7v0.7h-0.7zM405 102.6h0.7v0.7h-0.7zM403.9 111h0.7v0.7h-0.7zM401.5 103h0.7v0.7h-0.7zM404.1 101.1h0.7v0.7h-0.7zM403.5 110.9h0.7v0.7h-0.7zM402.6 106.2h0.7v0.7h-0.7zM399.1 103.6h0.7v0.7h-0.7zM404.3 103h0.7v0.7h-0.7zM404.7 110.1h0.7v0.7h-0.7zM400.3 109.5h0.7v0.7h-0.7zM404.6 103h0.7v0.7h-0.7zM405.1 109.8h0.7v0.7h-0.7zM402.3 111.5h0.7v0.7h-0.7zM398.5 103.4h0.7v0.7h-0.7zM403.1 104.1h0.7v0.7h-0.7zM403.4 101.8h0.7v0.7h-0.7zM399.4 110.9h0.7v0.7h-0.7zM401.7 110.8h0.7v0.7h-0.7zM400.7 112.1h0.7v0.7h-0.7zM403.5 112.1h0.7v0.7h-0.7zM404.9 97.9h0.7v0.7h-0.7zM401.2 109h0.7v0.7h-0.7zM402.8 111h0.7v0.7h-0.7zM398.9 108.6h0.7v0.7h-0.7zM398.4 110h0.7v0.7h-0.7zM405.2 108.8h0.7v0.7h-0.7zM398.5 105.7h0.7v0.7h-0.7zM398.9 98.9h0.7v0.7h-0.7zM399.5 102.3h0.7v0.7h-0.7zM403.2 105.6h0.7v0.7h-0.7zM397.9 111.8h0.7v0.7h-0.7zM400.4 109.6h0.7v0.7h-0.7zM404.7 109h0.7v0.7h-0.7zM400 107.3h0.7v0.7h-0.7zM399 105.9h0.7v0.7h-0.7zM402.2 103.5h0.7v0.7h-0.7zM400.1 99.4h0.7v0.7h-0.7zM400.8 110.2h0.7v0.7h-0.7zM403.2 101.7h0.7v0.7h-0.7zM398.5 109.3h0.7v0.7h-0.7zM404.2 98.7h0.7v0.7h-0.7zM418.2 110.8h0.5v1.3h-0.5zM418.9 137.5h0.5v1.4h-0.5zM420.4 106.3h0.7v0.7h-0.7zM418.7 103.3h0.7v0.7h-0.7zM423.2 104.3h0.7v0.7h-0.7zM423 107.7h0.7v0.7h-0.7zM424 108.1h0.7v0.7h-0.7zM418.8 108.9h0.7v0.7h-0.7zM422.9 105.2h0.7v0.7h-0.7zM417.7 105.3h0.7v0.7h-0.7zM423.3 108.4h0.7v0.7h-0.7zM421.4 106.1h0.7v0.7h-0.7zM421.4 100.6h0.7v0.7h-0.7zM417.2 104.9h0.7v0.7h-0.7zM422.7 100.3h0.7v0.7h-0.7zM421.2 101.5h0.7v0.7h-0.7zM418.3 100.8h0.7v0.7h-0.7zM422.5 108.1h0.7v0.7h-0.7zM423.1 101.9h0.7v0.7h-0.7zM423.2 106.2h0.7v0.7h-0.7zM419 104.8h0.7v0.7h-0.7zM418.2 107.8h0.7v0.7h-0.7zM422.3 101.4h0.7v0.7h-0.7zM416.9 103.8h0.7v0.7h-0.7zM421.9 104.6h0.7v0.7h-0.7zM423.1 104.6h0.7v0.7h-0.7zM418.1 106.5h0.7v0.7h-0.7zM418.3 99.6h0.7v0.7h-0.7zM422.7 102.2h0.7v0.7h-0.7zM419.5 104.8h0.7v0.7h-0.7zM424.3 101.5h0.7v0.7h-0.7zM417.4 105.7h0.7v0.7h-0.7zM421.8 107.5h0.7v0.7h-0.7zM423.4 102.3h0.7v0.7h-0.7zM422.8 99.5h0.7v0.7h-0.7zM416.8 105.8h0.7v0.7h-0.7zM420.3 104.8h0.7v0.7h-0.7zM437.3 120.7h0.5v2.5h-0.5zM440.1 142.1h0.5v1.8h-0.5zM438.7 106.3h0.7v0.7h-0.7zM436 102.1h0.7v0.7h-0.7zM435.2 103.5h0.7v0.7h-0.7zM436.3 100.6h0.7v0.7h-0.7zM437.7 106.3h0.7v0.7h-0.7zM438.5 109.8h0.7v0.7h-0.7zM438.5 105.5h0.7v0.7h-0.7zM435.8 110.3h0.7v0.7h-0.7zM436.9 109.3h0.7v0.7h-0.7zM435.4 102.2h0.7v0.7h-0.7zM437.9 104.5h0.7v0.7h-0.7zM438 99h0.7v0.7h-0.7zM439.8 98.2h0.7v0.7h-0.7zM439 109.6h0.7v0.7h-0.7zM439.7 102.7h0.7v0.7h-0.7zM436 97.9h0.7v0.7h-0.7zM439.2 103h0.7v0.7h-0.7zM434.6 98.8h0.7v0.7h-0.7zM438.8 102.7h0.7v0.7h-0.7zM440.2 109.7h0.7v0.7h-0.7zM438.7 102.3h0.7v0.7h-0.7zM437.3 100.4h0.7v0.7h-0.7zM439.2 99.5h0.7v0.7h-0.7zM440.4 105.7h0.7v0.7h-0.7zM440.3 100.5h0.7v0.7h-0.7zM436.7 100.6h0.7v0.7h-0.7zM439 109.3h0.7v0.7h-0.7zM438.8 109.9h0.7v0.7h-0.7zM440.2 109.7h0.7v0.7h-0.7zM435.3 101.9h0.7v0.7h-0.7zM435.3 109.9h0.7v0.7h-0.7zM435.5 99.3h0.7v0.7h-0.7zM436.7 98h0.7v0.7h-0.7zM435.5 109.1h0.7v0.7h-0.7zM437.2 110.2h0.7v0.7h-0.7zM435.7 108.2h0.7v0.7h-0.7zM438 108.5h0.7v0.7h-0.7zM437.7 99.5h0.7v0.7h-0.7zM437.2 100.6h0.7v0.7h-0.7zM436.9 99.3h0.7v0.7h-0.7zM451.6 106.5h0.7v0.7h-0.7zM450.2 106.1h0.7v0.7h-0.7zM450.5 106.6h0.7v0.7h-0.7zM450.8 107.6h0.7v0.7h-0.7zM451.7 104.6h0.7v0.7h-0.7zM450.1 95.4h0.7v0.7h-0.7zM453.8 109.2h0.7v0.7h-0.7zM450.6 110.2h0.7v0.7h-0.7zM450.9 109.7h0.7v0.7h-0.7zM452.6 98.6h0.7v0.7h-0.7zM450.7 103h0.7v0.7h-0.7zM449.9 108.8h0.7v0.7h-0.7zM450.3 110.3h0.7v0.7h-0.7zM449.4 108.2h0.7v0.7h-0.7zM451.4 95.5h0.7v0.7h-0.7zM450.3 101.7h0.7v0.7h-0.7zM454.1 106.7h0.7v0.7h-0.7zM454 93.6h0.7v0.7h-0.7zM452.4 105.4h0.7v0.7h-0.7zM453.7 107.6h0.7v0.7h-0.7zM452 102h0.7v0.7h-0.7zM451.9 93.7h0.7v0.7h-0.7zM449.4 108h0.7v0.7h-0.7zM453 109.7h0.7v0.7h-0.7zM451.9 105.1h0.7v0.7h-0.7zM454.3 100h0.7v0.7h-0.7zM453.2 107h0.7v0.7h-0.7zM453 105.5h0.7v0.7h-0.7zM451.4 99.6h0.7v0.7h-0.7zM453.9 97.5h0.7v0.7h-0.7zM449.2 103.1h0.7v0.7h-0.7zM452.2 100.3h0.7v0.7h-0.7zM452 102.1h0.7v0.7h-0.7zM449.6 95.9h0.7v0.7h-0.7zM464.3 110.4h0.5v0.9h-0.5zM464.2 112.9h0.5v1.2h-0.5zM463.2 108.2h0.7v0.7h-0.7zM463.7 100.8h0.7v0.7h-0.7zM464.1 109.2h0.7v0.7h-0.7zM462.4 108.7h0.7v0.7h-0.7zM463.4 98.7h0.7v0.7h-0.7zM465.6 107.6h0.7v0.7h-0.7zM464.5 108.3h0.7v0.7h-0.7zM462.9 108.7h0.7v0.7h-0.7zM464.2 108.3h0.7v0.7h-0.7zM464.8 108.9h0.7v0.7h-0.7zM465.6 108.1h0.7v0.7h-0.7zM464.8 109.8h0.7v0.7h-0.7zM465.4 106.6h0.7v0.7h-0.7zM464.7 101.1h0.7v0.7h-0.7zM462.2 109.4h0.7v0.7h-0.7zM465.5 104.6h0.7v0.7h-0.7zM462 102h0.7v0.7h-0.7zM463 102.6h0.7v0.7h-0.7zM463.5 101.8h0.7v0.7h-0.7zM465.8 101.1h0.7v0.7h-0.7zM463.1 109.7h0.7v0.7h-0.7zM462.5 104.8h0.7v0.7h-0.7zM462.7 98.7h0.7v0.7h-0.7zM462.4 108.4h0.7v0.7h-0.7zM465.9 103h0.7v0.7h-0.7zM475.2 139.9h0.5v3h-0.5zM473.5 96h0.7v0.7h-0.7zM475.5 89.6h0.7v0.7h-0.7zM475.8 94.8h0.7v0.7h-0.7zM476.1 101.6h0.7v0.7h-0.7zM476.1 98.3h0.7v0.7h-0.7zM474.2 91.3h0.7v0.7h-0.7zM475.9 100.8h0.7v0.7h-0.7zM475.6 101.3h0.7v0.7h-0.7zM475.2 98.2h0.7v0.7h-0.7zM474.6 96.4h0.7v0.7h-0.7zM475.2 100.6h0.7v0.7h-0.7zM474.1 95.5h0.7v0.7h-0.7zM473.7 95.8h0.7v0.7h-0.7zM472.7 92h0.7v0.7h-0.7zM474.4 88.9h0.7v0.7h-0.7zM472.7 93.1h0.7v0.7h-0.7zM475.1 94.1h0.7v0.7h-0.7zM474.3 88.2h0.7v0.7h-0.7zM474.1 87.3h0.7v0.7h-0.7zM472.9 100.1h0.7v0.7h-0.7zM473.5 97.8h0.7v0.7h-0.7zM483.6 107.8h0.5v2h-0.5zM485 119.9h0.5v1.3h-0.5zM484.6 98.9h0.7v0.7h-0.7zM482.5 102.3h0.7v0.7h-0.7zM484.5 105.9h0.7v0.7h-0.7zM482.4 99.8h0.7v0.7h-0.7zM483.1 99.1h0.7v0.7h-0.7zM485.3 103.9h0.7v0.7h-0.7zM484.6 99.9h0.7v0.7h-0.7zM484.5 102.9h0.7v0.7h-0.7zM484.7 105.9h0.7v0.7h-0.7zM482.6 100.4h0.7v0.7h-0.7zM482.7 105.4h0.7v0.7h-0.7zM482.5 99.9h0.7v0.7h-0.7zM484.7 103h0.7v0.7h-0.7z"/><path fill="#c2e1f8" d="M316.3 124.7h0.5v1.7h-0.5zM316.6 119h0.5v3.2h-0.5zM307.9 113.7h0.5v2.8h-0.5zM310.6 149.7h0.5v3.4h-0.5zM305.4 90.6h0.7v0.7h-0.7zM312.7 101.3h0.7v0.7h-0.7zM314.1 100.2h0.7v0.7h-0.7zM307.7 83.3h0.7v0.7h-0.7zM317 112.2h0.7v0.7h-0.7zM303.9 107.6h0.7v0.7h-0.7zM311.4 91.4h0.7v0.7h-0.7zM307.3 110.2h0.7v0.7h-0.7zM313.5 109.4h0.7v0.7h-0.7zM313 94h0.7v0.7h-0.7zM311.3 109.7h0.7v0.7h-0.7zM316.9 107.7h0.7v0.7h-0.7zM316.6 112.7h0.7v0.7h-0.7zM308 105.1h0.7v0.7h-0.7zM313.1 102.7h0.7v0.7h-0.7zM313.8 97.1h0.7v0.7h-0.7zM311 97.7h0.7v0.7h-0.7zM312 99h0.7v0.7h-0.7zM304.4 93.6h0.7v0.7h-0.7zM307.4 103.9h0.7v0.7h-0.7zM311.3 109.9h0.7v0.7h-0.7zM315.8 111.1h0.7v0.7h-0.7zM306.9 111.8h0.7v0.7h-0.7zM308.1 111.3h0.7v0.7h-0.7zM316.9 94.9h0.7v0.7h-0.7zM304.5 110.4h0.7v0.7h-0.7zM315.1 111.2h0.7v0.7h-0.7zM314 112.6h0.7v0.7h-0.7zM316.1 105.5h0.7v0.7h-0.7zM312.5 98.2h0.7v0.7h-0.7zM304.9 99.9h0.7v0.7h-0.7zM306.4 91.3h0.7v0.7h-0.7zM310.3 107.1h0.7v0.7h-0.7zM310.4 112h0.7v0.7h-0.7zM316.4 108.3h0.7v0.7h-0.7zM306.3 95.6h0.7v0.7h-0.7zM304.2 102.5h0.7v0.7h-0.7zM306.2 111.6h0.7v0.7h-0.7zM304.4 103.3h0.7v0.7h-0.7zM314.2 112.3h0.7v0.7h-0.7zM312.7 112.7h0.7v0.7h-0.7zM313.2 106.9h0.7v0.7h-0.7zM309.3 111.8h0.7v0.7h-0.7zM306.9 111.6h0.7v0.7h-0.7zM310.5 90.1h0.7v0.7h-0.7zM309.9 97.6h0.7v0.7h-0.7zM304.3 108h0.7v0.7h-0.7zM310.5 112.4h0.7v0.7h-0.7zM316.3 107h0.7v0.7h-0.7zM313 99.8h0.7v0.7h-0.7zM306.3 89.4h0.7v0.7h-0.7zM310.6 108.3h0.7v0.7h-0.7zM306.6 110.3h0.7v0.7h-0.7zM305.5 101.9h0.7v0.7h-0.7zM314.9 102.4h0.7v0.7h-0.7zM309.7 111.7h0.7v0.7h-0.7zM306.5 94.5h0.7v0.7h-0.7zM310.8 105.5h0.7v0.7h-0.7zM309.8 112.4h0.7v0.7h-0.7zM315.1 106.8h0.7v0.7h-0.7zM316 88.1h0.7v0.7h-0.7zM312.3 109.1h0.7v0.7h-0.7zM313.3 110.9h0.7v0.7h-0.7zM312.9 103.6h0.7v0.7h-0.7zM313.5 99.5h0.7v0.7h-0.7zM307.8 112.3h0.7v0.7h-0.7zM314.6 111h0.7v0.7h-0.7zM310.1 89.7h0.7v0.7h-0.7zM314.1 93.6h0.7v0.7h-0.7zM305 101.4h0.7v0.7h-0.7zM314.4 112.1h0.7v0.7h-0.7zM311.3 107.7h0.7v0.7h-0.7zM309.8 111.4h0.7v0.7h-0.7zM313.1 105.7h0.7v0.7h-0.7zM313.8 99.8h0.7v0.7h-0.7zM309.3 105.1h0.7v0.7h-0.7zM312.3 107.9h0.7v0.7h-0.7zM308 108.9h0.7v0.7h-0.7zM314.1 106.5h0.7v0.7h-0.7zM335.1 118.4h0.5v3.2h-0.5zM334.5 119.7h0.5v3.5h-0.5zM336.6 114.6h0.5v1.8h-0.5zM341.6 111.4h0.5v1.9h-0.5zM338.3 103.6h0.7v0.7h-0.7zM340.3 104.6h0.7v0.7h-0.7zM332.1 108h0.7v0.7h-0.7zM337.8 110.1h0.7v0.7h-0.7zM334 99.4h0.7v0.7h-0.7zM334.8 110.5h0.7v0.7h-0.7zM342.5 110h0.7v0.7h-0.7zM336.2 108.7h0.7v0.7h-0.7zM340.5 100.9h0.7v0.7h-0.7zM339.4 107.3h0.7v0.7h-0.7zM333.8 101.8h0.7v0.7h-0.7zM336.2 106.8h0.7v0.7h-0.7zM342 101.3h0.7v0.7h-0.7zM342 107h0.7v0.7h-0.7zM339.7 102.9h0.7v0.7h-0.7zM335.7 100.3h0.7v0.7h-0.7zM335.5 100.7h0.7v0.7h-0.7zM338.7 104.2h0.7v0.7h-0.7zM340.8 102.1h0.7v0.7h-0.7zM335.5 109.2h0.7v0.7h-0.7zM335.2 108h0.7v0.7h-0.7zM333.2 98.5h0.7v0.7h-0.7zM336.6 109.9h0.7v0.7h-0.7zM335.3 102h0.7v0.7h-0.7zM338 108.9h0.7v0.7h-0.7zM334.1 102.6h0.7v0.7h-0.7zM334.2 104h0.7v0.7h-0.7zM342.3 110.8h0.7v0.7h-0.7zM342.3 110h0.7v0.7h-0.7zM339 98.3h0.7v0.7h-0.7zM337.6 108h0.7v0.7h-0.7zM337.4 108.6h0.7v0.7h-0.7zM335.7 109.3h0.7v0.7h-0.7zM337.7 99.9h0.7v0.7h-0.7zM336.6 102.7h0.7v0.7h-0.7zM338.6 105.5h0.7v0.7h-0.7zM338.3 103.6h0.7v0.7h-0.7zM337.6 103.1h0.7v0.7h-0.7zM337.8 107.8h0.7v0.7h-0.7zM340.3 105.4h0.7v0.7h-0.7zM337.5 101h0.7v0.7h-0.7zM333.4 106.7h0.7v0.7h-0.7zM341.2 103.2h0.7v0.7h-0.7zM339.6 101h0.7v0.7h-0.7zM333.4 100.1h0.7v0.7h-0.7zM334.4 105.2h0.7v0.7h-0.7zM334.8 104.8h0.7v0.7h-0.7zM339.2 106.7h0.7v0.7h-0.7zM333.6 110h0.7v0.7h-0.7zM341.6 102.3h0.7v0.7h-0.7zM334.8 103.5h0.7v0.7h-0.7zM341.9 108.1h0.7v0.7h-0.7zM334.1 99.7h0.7v0.7h-0.7zM339.4 100.6h0.7v0.7h-0.7zM360.5 147h0.5v1.5h-0.5zM361 128.8h0.5v2.9h-0.5zM359 148.7h0.5v2.4h-0.5zM361.6 127h0.5v1h-0.5zM357.6 138.1h0.5v2.2h-0.5zM358.9 98.1h0.7v0.7h-0.7zM365 103.7h0.7v0.7h-0.7zM356.9 105h0.7v0.7h-0.7zM364.4 108.9h0.7v0.7h-0.7zM357.6 103.9h0.7v0.7h-0.7zM362.4 101.6h0.7v0.7h-0.7zM358.5 108.8h0.7v0.7h-0.7zM359.6 103.4h0.7v0.7h-0.7zM361.5 103.1h0.7v0.7h-0.7zM362.4 110.9h0.7v0.7h-0.7zM362.2 105.5h0.7v0.7h-0.7zM364.3 105.6h0.7v0.7h-0.7zM356.5 108.1h0.7v0.7h-0.7zM364.7 103.4h0.7v0.7h-0.7zM359.8 102.6h0.7v0.7h-0.7zM359.5 107.6h0.7v0.7h-0.7zM358.9 106.5h0.7v0.7h-0.7zM357.7 104h0.7v0.7h-0.7zM357.8 108.2h0.7v0.7h-0.7zM359.3 100.3h0.7v0.7h-0.7zM364.1 96.9h0.7v0.7h-0.7zM357.1 95h0.7v0.7h-0.7zM364.5 97.6h0.7v0.7h-0.7zM357.1 106.6h0.7v0.7h-0.7zM358.5 97.5h0.7v0.7h-0.7zM357.4 106.2h0.7v0.7h-0.7zM358.4 99.9h0.7v0.7h-0.7zM358.5 97.8h0.7v0.7h-0.7zM364.5 99.2h0.7v0.7h-0.7zM365.1 111h0.7v0.7h-0.7zM359.9 102.2h0.7v0.7h-0.7zM364.2 106.6h0.7v0.7h-0.7zM361.2 110.4h0.7v0.7h-0.7zM365.9 99.4h0.7v0.7h-0.7zM363.2 108.8h0.7v0.7h-0.7zM358.9 102.2h0.7v0.7h-0.7zM361.4 107.7h0.7v0.7h-0.7zM360.1 110.1h0.7v0.7h-0.7zM356.7 97.8h0.7v0.7h-0.7zM361 103.1h0.7v0.7h-0.7zM356.4 101.7h0.7v0.7h-0.7zM361.8 108.9h0.7v0.7h-0.7zM361.3 95.7h0.7v0.7h-0.7zM359.6 106.7h0.7v0.7h-0.7zM359.1 107.3h0.7v0.7h-0.7zM358 97.7h0.7v0.7h-0.7zM365.4 100.7h0.7v0.7h-0.7zM362 109.2h0.7v0.7h-0.7zM365.1 109.2h0.7v0.7h-0.7zM363.1 105.2h0.7v0.7h-0.7zM363.1 107.1h0.7v0.7h-0.7zM357.3 106.1h0.7v0.7h-0.7zM361.2 108.7h0.7v0.7h-0.7zM359.2 107.9h0.7v0.7h-0.7zM361.6 105.9h0.7v0.7h-0.7zM360.4 107.4h0.7v0.7h-0.7zM359.8 104h0.7v0.7h-0.7zM357.6 101.2h0.7v0.7h-0.7zM384.8 112.7h0.5v3.6h-0.5zM378.5 127.5h0.5v3.8h-0.5zM385.8 99.4h0.7v0.7h-0.7zM386.3 95.8h0.7v0.7h-0.7zM382.1 108.8h0.7v0.7h-0.7zM385.5 102.7h0.7v0.7h-0.7zM383.6 104.1h0.7v0.7h-0.7zM380.8 106.9h0.7v0.7h-0.7zM383.6 100.6h0.7v0.7h-0.7zM386.8 108.3h0.7v0.7h-0.7zM380.1 97.5h0.7v0.7h-0.7zM381.7 108.5h0.7v0.7h-0.7zM385.7 84.6h0.7v0.7h-0.7zM380.9 86.7h0.7v0.7h-0.7zM380.3 107.4h0.7v0.7h-0.7zM385 99.9h0.7v0.7h-0.7zM379.3 99.3h0.7v0.7h-0.7zM383.8 100.1h0.7v0.7h-0.7zM385.6 99h0.7v0.7h-0.7zM385.2 109.5h0.7v0.7h-0.7zM385.8 107.6h0.7v0.7h-0.7zM384.1 95.2h0.7v0.7h-0.7zM384.9 91.5h0.7v0.7h-0.7zM381.3 100.3h0.7v0.7h-0.7zM383.3 102.7h0.7v0.7h-0.7zM384.1 102.8h0.7v0.7h-0.7zM381.3 102.9h0.7v0.7h-0.7zM385.5 90.6h0.7v0.7h-0.7zM378.3 99.7h0.7v0.7h-0.7zM383.1 107.7h0.7v0.7h-0.7zM384.7 89.5h0.7v0.7h-0.7zM382.7 103.5h0.7v0.7h-0.7zM381.8 101.7h0.7v0.7h-0.7zM386.3 92.4h0.7v0.7h-0.7zM378.8 87.3h0.7v0.7h-0.7zM383.1 83.8h0.7v0.7h-0.7zM383.5 98h0.7v0.7h-0.7zM381.3 107.7h0.7v0.7h-0.7zM383.5 100.4h0.7v0.7h-0.7zM386.4 100.4h0.7v0.7h-0.7zM382.6 108.2h0.7v0.7h-0.7zM385.9 88.5h0.7v0.7h-0.7zM378.3 93.8h0.7v0.7h-0.7zM386.6 91.4h0.7v0.7h-0.7zM381.5 86.3h0.7v0.7h-0.7zM403.3 144.2h0.5v2.8h-0.5zM401 120.3h0.5v2.2h-0.5zM404.8 126.5h0.5v2.5h-0.5zM403.2 114.4h0.5v2.3h-0.5zM401.2 131.6h0.5v2.5h-0.5zM400.2 99h0.7v0.7h-0.7zM404 98.4h0.7v0.7h-0.7zM399.3 101.8h0.7v0.7h-0.7zM404.2 107.5h0.7v0.7h-0.7zM403.6 108.3h0.7v0.7h-0.7zM401.3 111.2h0.7v0.7h-0.7zM400.2 109.3h0.7v0.7h-0.7zM402.7 111.4h0.7v0.7h-0.7zM402 100h0.7v0.7h-0.7zM400.2 109.5h0.7v0.7h-0.7zM400.3 107.7h0.7v0.7h-0.7zM402.2 110.9h0.7v0.7h-0.7zM398.5 106.2h0.7v0.7h-0.7zM399.4 100.5h0.7v0.7h-0.7zM403.7 100.3h0.7v0.7h-0.7zM402 100.8h0.7v0.7h-0.7zM404.9 107.3h0.7v0.7h-0.7zM404.1 110.2h0.7v0.7h-0.7zM402.6 111.4h0.7v0.7h-0.7zM401.7 100.6h0.7v0.7h-0.7zM405.4 105.3h0.7v0.7h-0.7zM399.6 104.6h0.7v0.7h-0.7zM405.4 101.7h0.7v0.7h-0.7zM404.6 106.1h0.7v0.7h-0.7zM397.9 99.5h0.7v0.7h-0.7zM398.6 108.7h0.7v0.7h-0.7zM402.1 107h0.7v0.7h-0.7zM398.5 111.5h0.7v0.7h-0.7zM403.1 103h0.7v0.7h-0.7zM399.7 106.9h0.7v0.7h-0.7zM404.5 109h0.7v0.7h-0.7zM404 111.5h0.7v0.7h-0.7zM399.8 110.4h0.7v0.7h-0.7zM398.7 107.1h0.7v0.7h-0.7zM399.8 110h0.7v0.7h-0.7zM405 102.9h0.7v0.7h-0.7zM398.5 97.9h0.7v0.7h-0.7zM404.5 112.1h0.7v0.7h-0.7zM403.7 100.4h0.7v0.7h-0.7zM401.1 108.7h0.7v0.7h-0.7zM405 109.2h0.7v0.7h-0.7zM400.1 103.5h0.7v0.7h-0.7zM401.3 109h0.7v0.7h-0.7zM397.8 110.6h0.7v0.7h-0.7zM403.1 112h0.7v0.7h-0.7zM419.7 142.6h0.5v2.7h-0.5zM422.9 110h0.5v2.4h-0.5zM421.1 111.2h0.5v2.1h-0.5zM420.5 125.2h0.5v1h-0.5zM420.4 107.6h0.7v0.7h-0.7zM423.9 107.1h0.7v0.7h-0.7zM421.2 106.7h0.7v0.7h-0.7zM417.1 108.2h0.7v0.7h-0.7zM416.8 104.9h0.7v0.7h-0.7zM422.6 102.4h0.7v0.7h-0.7zM417.1 105h0.7v0.7h-0.7zM420.2 105.3h0.7v0.7h-0.7zM418.3 102.4h0.7v0.7h-0.7zM417.3 101.2h0.7v0.7h-0.7zM419.9 105h0.7v0.7h-0.7zM421.1 100.1h0.7v0.7h-0.7zM418.4 107.8h0.7v0.7h-0.7zM418.5 109h0.7v0.7h-0.7zM416.8 104.2h0.7v0.7h-0.7zM422.5 106.7h0.7v0.7h-0.7zM421.1 106.3h0.7v0.7h-0.7zM419.6 102.5h0.7v0.7h-0.7zM419 107.1h0.7v0.7h-0.7zM419.9 108.2h0.7v0.7h-0.7zM422.6 100.6h0.7v0.7h-0.7zM422.1 106h0.7v0.7h-0.7zM417.6 108.4h0.7v0.7h-0.7zM422.2 105.2h0.7v0.7h-0.7zM422 108h0.7v0.7h-0.7zM419.4 105.2h0.7v0.7h-0.7zM423.4 104.1h0.7v0.7h-0.7zM421.4 101.7h0.7v0.7h-0.7zM421.1 104.8h0.7v0.7h-0.7zM417.8 99h0.7v0.7h-0.7zM420.5 105.6h0.7v0.7h-0.7zM418.5 102.4h0.7v0.7h-0.7zM422.8 99.7h0.7v0.7h-0.7zM419.9 100.2h0.7v0.7h-0.7zM419.9 107.5h0.7v0.7h-0.7zM423 101.5h0.7v0.7h-0.7zM418.3 101.7h0.7v0.7h-0.7zM420.3 107.5h0.7v0.7h-0.7zM422.4 107.1h0.7v0.7h-0.7zM419.8 101.9h0.7v0.7h-0.7zM420.3 101.1h0.7v0.7h-0.7zM418.3 103.6h0.7v0.7h-0.7zM419.4 108.7h0.7v0.7h-0.7zM418.7 103.6h0.7v0.7h-0.7zM422 103.6h0.7v0.7h-0.7zM423.5 108.6h0.7v0.7h-0.7zM424.1 104h0.7v0.7h-0.7zM417.3 100.4h0.7v0.7h-0.7zM419.7 102h0.7v0.7h-0.7zM436.5 107.7h0.7v0.7h-0.7zM438.5 110.8h0.7v0.7h-0.7zM435.8 108.4h0.7v0.7h-0.7zM439.2 100.9h0.7v0.7h-0.7zM439.2 109.2h0.7v0.7h-0.7zM436.1 102.9h0.7v0.7h-0.7zM434.5 103.3h0.7v0.7h-0.7zM439 98.8h0.7v0.7h-0.7zM437.6 106.3h0.7v0.7h-0.7zM436.3 110.5h0.7v0.7h-0.7zM436.7 108.9h0.7v0.7h-0.7zM434.7 106.4h0.7v0.7h-0.7zM434.5 106.1h0.7v0.7h-0.7zM439.3 98h0.7v0.7h-0.7zM438.3 100.4h0.7v0.7h-0.7zM434.6 106.7h0.7v0.7h-0.7zM439 109.8h0.7v0.7h-0.7zM436.3 102.3h0.7v0.7h-0.7zM438.8 107.8h0.7v0.7h-0.7zM438.8 109.9h0.7v0.7h-0.7zM439.1 97.8h0.7v0.7h-0.7zM440.3 98.1h0.7v0.7h-0.7zM438 100.5h0.7v0.7h-0.7zM439.3 98.5h0.7v0.7h-0.7zM435.1 110.9h0.7v0.7h-0.7zM438.9 99.9h0.7v0.7h-0.7zM434.9 107.6h0.7v0.7h-0.7zM437.5 107.8h0.7v0.7h-0.7zM438.9 105.6h0.7v0.7h-0.7zM434.8 107.5h0.7v0.7h-0.7zM435.4 106.1h0.7v0.7h-0.7zM435.3 110.4h0.7v0.7h-0.7zM437.8 106.2h0.7v0.7h-0.7zM435.6 103.8h0.7v0.7h-0.7zM436.1 102.2h0.7v0.7h-0.7zM439.1 99.2h0.7v0.7h-0.7zM439.1 97.5h0.7v0.7h-0.7zM439.3 106.1h0.7v0.7h-0.7zM440 108.4h0.7v0.7h-0.7zM435.1 105.9h0.7v0.7h-0.7zM435.2 104.5h0.7v0.7h-0.7zM453.7 119.1h0.5v2.1h-0.5zM451.5 116.2h0.5v1.7h-0.5zM453.8 139.1h0.5v2.2h-0.5zM452.9 108.3h0.7v0.7h-0.7zM449.2 101.5h0.7v0.7h-0.7zM451.5 106.4h0.7v0.7h-0.7zM454.5 97h0.7v0.7h-0.7zM453.2 99.7h0.7v0.7h-0.7zM450.9 95.5h0.7v0.7h-0.7zM454.3 110.4h0.7v0.7h-0.7zM451.3 94.7h0.7v0.7h-0.7zM453.3 106.2h0.7v0.7h-0.7zM452.8 103.4h0.7v0.7h-0.7zM449.9 99.3h0.7v0.7h-0.7zM452.9 98.1h0.7v0.7h-0.7zM451.3 94.6h0.7v0.7h-0.7zM452.1 106.9h0.7v0.7h-0.7zM451.9 108.2h0.7v0.7h-0.7zM452.7 110.8h0.7v0.7h-0.7zM450.6 98.5h0.7v0.7h-0.7zM454.2 99.4h0.7v0.7h-0.7zM450.2 104.6h0.7v0.7h-0.7zM453.7 104.3h0.7v0.7h-0.7zM451.3 110.3h0.7v0.7h-0.7zM452 110.2h0.7v0.7h-0.7zM449.4 102.3h0.7v0.7h-0.7zM453.6 103.7h0.7v0.7h-0.7zM452.4 99h0.7v0.7h-0.7zM454.5 103.8h0.7v0.7h-0.7zM450.6 108.6h0.7v0.7h-0.7zM451.2 94.1h0.7v0.7h-0.7zM452.1 106.7h0.7v0.7h-0.7zM454.5 109.8h0.7v0.7h-0.7zM454.2 106.6h0.7v0.7h-0.7zM465.8 137.3h0.5v1.6h-0.5zM463.1 99.5h0.7v0.7h-0.7zM465.7 101.4h0.7v0.7h-0.7zM462 109.4h0.7v0.7h-0.7zM464.2 108.9h0.7v0.7h-0.7zM465.4 108.4h0.7v0.7h-0.7zM462.6 104.2h0.7v0.7h-0.7zM461.8 100.5h0.7v0.7h-0.7zM463.3 104.4h0.7v0.7h-0.7zM462 102.7h0.7v0.7h-0.7zM465.9 109.5h0.7v0.7h-0.7zM464.6 102.1h0.7v0.7h-0.7zM463.3 108.1h0.7v0.7h-0.7zM465.9 100.6h0.7v0.7h-0.7zM465.2 108.9h0.7v0.7h-0.7zM464.6 100.3h0.7v0.7h-0.7zM464.3 108.3h0.7v0.7h-0.7zM461.8 105.2h0.7v0.7h-0.7zM465.2 102.2h0.7v0.7h-0.7zM461.7 108.3h0.7v0.7h-0.7zM462.8 98.6h0.7v0.7h-0.7zM463.7 103.9h0.7v0.7h-0.7zM462 102.8h0.7v0.7h-0.7zM464.4 109h0.7v0.7h-0.7zM464.9 102.7h0.7v0.7h-0.7zM464.4 107.1h0.7v0.7h-0.7zM464.6 107.2h0.7v0.7h-0.7zM462.3 106h0.7v0.7h-0.7zM465.9 104.5h0.7v0.7h-0.7zM463.3 106.7h0.7v0.7h-0.7zM465.4 104.9h0.7v0.7h-0.7zM465.3 107.7h0.7v0.7h-0.7zM463.5 102.3h0.7v0.7h-0.7zM464 107.5h0.7v0.7h-0.7zM461.9 109.9h0.7v0.7h-0.7zM462.3 100.5h0.7v0.7h-0.7zM475.1 116.3h0.5v2.1h-0.5zM475.4 90.4h0.7v0.7h-0.7zM474.4 97.3h0.7v0.7h-0.7zM473.8 100.3h0.7v0.7h-0.7zM472.7 95.2h0.7v0.7h-0.7zM472.6 88.4h0.7v0.7h-0.7zM473.8 99.8h0.7v0.7h-0.7zM472.6 102.4h0.7v0.7h-0.7zM474.7 100.8h0.7v0.7h-0.7zM472.8 100h0.7v0.7h-0.7zM475.2 102.2h0.7v0.7h-0.7zM475 100h0.7v0.7h-0.7zM475.3 92.6h0.7v0.7h-0.7zM474.9 95.7h0.7v0.7h-0.7zM475.3 92.7h0.7v0.7h-0.7zM475.9 99.2h0.7v0.7h-0.7zM475.6 101.6h0.7v0.7h-0.7zM475 95.6h0.7v0.7h-0.7zM474.5 94.2h0.7v0.7h-0.7zM475.1 92.3h0.7v0.7h-0.7zM475.9 96.8h0.7v0.7h-0.7zM475.4 102.5h0.7v0.7h-0.7zM484.6 104.5h0.7v0.7h-0.7zM482.9 105.1h0.7v0.7h-0.7zM483.8 99.1h0.7v0.7h-0.7zM483.3 100.6h0.7v0.7h-0.7zM485 103.4h0.7v0.7h-0.7zM482.7 104.6h0.7v0.7h-0.7zM484.3 104.8h0.7v0.7h-0.7zM482.5 105.7h0.7v0.7h-0.7zM484.9 102.3h0.7v0.7h-0.7zM483.1 104.2h0.7v0.7h-0.7zM485.2 104.2h0.7v0.7h-0.7zM482.8 104.9h0.7v0.7h-0.7zM484.2 98.4h0.7v0.7h-0.7zM484.9 100.2h0.7v0.7h-0.7zM485.2 103.2h0.7v0.7h-0.7zM485.2 103.1h0.7v0.7h-0.7zM483.9 102.1h0.7v0.7h-0.7z"/><path fill="#2464b0" d="M312.4 99.5h0.7v0.7h-0.7zM307.1 107.2h0.7v0.7h-0.7zM308.1 101.9h0.7v0.7h-0.7zM314.8 96h0.7v0.7h-0.7zM314.2 100.8h0.7v0.7h-0.7zM311.1 109.6h0.7v0.7h-0.7zM314.5 110.2h0.7v0.7h-0.7zM311.1 107.5h0.7v0.7h-0.7zM315 88.9h0.7v0.7h-0.7zM309.8 109.3h0.7v0.7h-0.7zM307.1 110.7h0.7v0.7h-0.7zM313.3 111.7h0.7v0.7h-0.7zM314.1 83.7h0.7v0.7h-0.7zM307.9 108.3h0.7v0.7h-0.7zM306.5 97.6h0.7v0.7h-0.7zM313.4 104.1h0.7v0.7h-0.7zM305.9 90.3h0.7v0.7h-0.7zM310.6 110.3h0.7v0.7h-0.7zM314.6 101.2h0.7v0.7h-0.7zM311.9 96.7h0.7v0.7h-0.7zM335 110.9h0.7v0.7h-0.7zM339.6 102.2h0.7v0.7h-0.7zM336.9 102.3h0.7v0.7h-0.7zM339.9 104.9h0.7v0.7h-0.7zM337.5 97.4h0.7v0.7h-0.7zM337.6 101.3h0.7v0.7h-0.7zM342.5 106.4h0.7v0.7h-0.7zM342.9 104.3h0.7v0.7h-0.7zM342.7 98.2h0.7v0.7h-0.7zM332.3 106.7h0.7v0.7h-0.7zM332.7 102h0.7v0.7h-0.7zM335.1 98.4h0.7v0.7h-0.7zM339.7 107.5h0.7v0.7h-0.7zM334 103.4h0.7v0.7h-0.7zM340.6 109.2h0.7v0.7h-0.7zM336.5 102.8h0.7v0.7h-0.7zM337.3 105.5h0.7v0.7h-0.7zM340.1 106.9h0.7v0.7h-0.7zM339.2 103.2h0.7v0.7h-0.7zM342.4 97.6h0.7v0.7h-0.7zM360.1 104.6h0.7v0.7h-0.7zM358.4 95.3h0.7v0.7h-0.7zM359.2 95.2h0.7v0.7h-0.7zM363.6 97h0.7v0.7h-0.7zM359.3 103.3h0.7v0.7h-0.7zM358.1 107.1h0.7v0.7h-0.7zM359.2 105.5h0.7v0.7h-0.7zM357.5 104.8h0.7v0.7h-0.7zM361.8 107.3h0.7v0.7h-0.7zM364.8 110.9h0.7v0.7h-0.7zM356.5 109.3h0.7v0.7h-0.7zM361.8 100.4h0.7v0.7h-0.7zM360.8 109.5h0.7v0.7h-0.7zM363.2 108.5h0.7v0.7h-0.7zM358.6 106.4h0.7v0.7h-0.7zM363.2 108.8h0.7v0.7h-0.7zM359.9 104.7h0.7v0.7h-0.7zM360.4 95.4h0.7v0.7h-0.7zM359.9 102.2h0.7v0.7h-0.7zM383.3 102.3h0.7v0.7h-0.7zM382.8 105.8h0.7v0.7h-0.7zM379.6 97.5h0.7v0.7h-0.7zM381.5 109.2h0.7v0.7h-0.7zM379.5 91.5h0.7v0.7h-0.7zM380.9 83.4h0.7v0.7h-0.7zM384.7 107.6h0.7v0.7h-0.7zM384.8 102.1h0.7v0.7h-0.7zM383.1 109.1h0.7v0.7h-0.7zM380.9 82.8h0.7v0.7h-0.7zM384.8 107.9h0.7v0.7h-0.7zM379.5 108.4h0.7v0.7h-0.7zM401.1 103.7h0.7v0.7h-0.7zM399.2 107.1h0.7v0.7h-0.7zM401 104.1h0.7v0.7h-0.7zM402.1 105h0.7v0.7h-0.7zM404 110.5h0.7v0.7h-0.7zM402.4 100.7h0.7v0.7h-0.7zM401.6 111.9h0.7v0.7h-0.7zM399.9 102.3h0.7v0.7h-0.7zM423.8 105.8h0.7v0.7h-0.7zM418.2 107.7h0.7v0.7h-0.7zM418.9 100.8h0.7v0.7h-0.7zM423.2 99.2h0.7v0.7h-0.7zM419.2 101.8h0.7v0.7h-0.7zM416.8 107.9h0.7v0.7h-0.7zM419.5 106.9h0.7v0.7h-0.7zM418.1 101.8h0.7v0.7h-0.7zM421.4 104.8h0.7v0.7h-0.7zM418.3 99.7h0.7v0.7h-0.7zM418.3 107h0.7v0.7h-0.7zM418.8 104.2h0.7v0.7h-0.7zM437.3 110.4h0.7v0.7h-0.7zM434.9 109.1h0.7v0.7h-0.7zM436.1 108.6h0.7v0.7h-0.7zM435.3 104.6h0.7v0.7h-0.7zM439.4 100.3h0.7v0.7h-0.7zM437.1 100.2h0.7v0.7h-0.7zM437.6 100.9h0.7v0.7h-0.7zM439.4 106.5h0.7v0.7h-0.7zM453.7 98.7h0.7v0.7h-0.7zM453.5 98.3h0.7v0.7h-0.7zM449.7 110.8h0.7v0.7h-0.7zM451.8 95.7h0.7v0.7h-0.7zM449.9 99.1h0.7v0.7h-0.7zM450.8 106.5h0.7v0.7h-0.7zM449.5 94.8h0.7v0.7h-0.7zM449.7 100.6h0.7v0.7h-0.7zM464.1 108.3h0.7v0.7h-0.7zM462 106.7h0.7v0.7h-0.7zM464.1 101.7h0.7v0.7h-0.7zM462.9 107.3h0.7v0.7h-0.7zM462.6 100.4h0.7v0.7h-0.7zM465.5 99.9h0.7v0.7h-0.7zM475.2 100.3h0.7v0.7h-0.7zM472.6 94.3h0.7v0.7h-0.7zM474.4 97.2h0.7v0.7h-0.7zM476.1 101.1h0.7v0.7h-0.7zM473.7 97h0.7v0.7h-0.7zM474.7 95.9h0.7v0.7h-0.7zM474.3 102.4h0.7v0.7h-0.7zM483.4 102.9h0.7v0.7h-0.7zM482.4 99.6h0.7v0.7h-0.7zM483.6 99.8h0.7v0.7h-0.7zM483.7 105.2h0.7v0.7h-0.7zM484.9 103h0.7v0.7h-0.7zM482.8 101.6h0.7v0.7h-0.7z"/><path fill="#2a6dbb" d="M315.1 110.8h0.7v0.7h-0.7zM305.1 109.2h0.7v0.7h-0.7zM314.2 94.6h0.7v0.7h-0.7zM308 112.5h0.7v0.7h-0.7zM312.6 112.4h0.7v0.7h-0.7zM311.4 104.5h0.7v0.7h-0.7zM311.4 101.6h0.7v0.7h-0.7zM308.1 112.3h0.7v0.7h-0.7zM308.6 94.8h0.7v0.7h-0.7zM311.6 103.9h0.7v0.7h-0.7zM308.4 108.1h0.7v0.7h-0.7zM315.3 102.3h0.7v0.7h-0.7zM311 86.8h0.7v0.7h-0.7zM312.7 92.5h0.7v0.7h-0.7zM316.9 109.8h0.7v0.7h-0.7zM315.5 109.5h0.7v0.7h-0.7zM308.1 95.5h0.7v0.7h-0.7zM309 110.7h0.7v0.7h-0.7zM310.2 100h0.7v0.7h-0.7zM305.5 82.6h0.7v0.7h-0.7zM305.5 109.8h0.7v0.7h-0.7zM311.1 91.9h0.7v0.7h-0.7zM335.5 109.6h0.7v0.7h-0.7zM333.3 105.5h0.7v0.7h-0.7zM341.5 105.8h0.7v0.7h-0.7zM339.2 110.5h0.7v0.7h-0.7zM336.2 100.3h0.7v0.7h-0.7zM337.5 103.6h0.7v0.7h-0.7zM337.3 103.8h0.7v0.7h-0.7zM334.4 97.3h0.7v0.7h-0.7zM338 110.5h0.7v0.7h-0.7zM336.8 109.5h0.7v0.7h-0.7zM342.6 106.3h0.7v0.7h-0.7zM335.9 106.1h0.7v0.7h-0.7zM333.3 110.8h0.7v0.7h-0.7zM332.1 102.8h0.7v0.7h-0.7zM334.4 100.9h0.7v0.7h-0.7zM337.1 105.1h0.7v0.7h-0.7zM338.7 108h0.7v0.7h-0.7zM332.6 97.7h0.7v0.7h-0.7zM341.9 107h0.7v0.7h-0.7zM339.2 104h0.7v0.7h-0.7zM337.7 107.1h0.7v0.7h-0.7zM335.9 96.9h0.7v0.7h-0.7zM357.6 110.2h0.7v0.7h-0.7zM361.1 107.6h0.7v0.7h-0.7zM359.1 99h0.7v0.7h-0.7zM359.2 101.2h0.7v0.7h-0.7zM358.3 107.8h0.7v0.7h-0.7zM357.6 95.5h0.7v0.7h-0.7zM362.8 97.5h0.7v0.7h-0.7zM357.6 96.9h0.7v0.7h-0.7zM364.7 107.6h0.7v0.7h-0.7zM365.2 101.9h0.7v0.7h-0.7zM358.9 95.5h0.7v0.7h-0.7zM360.1 110h0.7v0.7h-0.7zM365.9 110.7h0.7v0.7h-0.7zM366.2 98.5h0.7v0.7h-0.7zM364.3 96.5h0.7v0.7h-0.7zM357.4 95.1h0.7v0.7h-0.7zM378.8 84.8h0.7v0.7h-0.7zM385.7 95.3h0.7v0.7h-0.7zM382.3 105.4h0.7v0.7h-0.7zM383.2 108.1h0.7v0.7h-0.7zM384.7 102.4h0.7v0.7h-0.7zM382.7 103h0.7v0.7h-0.7zM379.2 98.4h0.7v0.7h-0.7zM383.2 105.9h0.7v0.7h-0.7zM385.8 104.3h0.7v0.7h-0.7zM380.7 107.2h0.7v0.7h-0.7zM379.2 108.5h0.7v0.7h-0.7zM381.3 101.6h0.7v0.7h-0.7zM384.3 103h0.7v0.7h-0.7zM379.2 103.1h0.7v0.7h-0.7zM379.7 105h0.7v0.7h-0.7zM378.2 109.4h0.7v0.7h-0.7zM386.5 96.7h0.7v0.7h-0.7zM384.1 107.4h0.7v0.7h-0.7zM379.2 98.9h0.7v0.7h-0.7zM380.8 106.4h0.7v0.7h-0.7zM385.2 106.8h0.7v0.7h-0.7zM402.5 100.3h0.7v0.7h-0.7zM399.2 103.5h0.7v0.7h-0.7zM401.5 98.1h0.7v0.7h-0.7zM400.5 104.1h0.7v0.7h-0.7zM399.9 105.2h0.7v0.7h-0.7zM401.9 110h0.7v0.7h-0.7zM398.6 110.1h0.7v0.7h-0.7zM417.2 102h0.7v0.7h-0.7zM423 107.6h0.7v0.7h-0.7zM418.4 101.8h0.7v0.7h-0.7zM424.4 105.3h0.7v0.7h-0.7zM418.6 108.2h0.7v0.7h-0.7zM421.8 105.9h0.7v0.7h-0.7zM418.4 100.6h0.7v0.7h-0.7zM422 107.1h0.7v0.7h-0.7zM421.7 106.3h0.7v0.7h-0.7zM423.7 103.9h0.7v0.7h-0.7zM417.5 100.3h0.7v0.7h-0.7zM419 100.5h0.7v0.7h-0.7zM435.2 102.1h0.7v0.7h-0.7zM437.1 103.3h0.7v0.7h-0.7zM435.3 107.1h0.7v0.7h-0.7zM438.2 100.5h0.7v0.7h-0.7zM436.4 109.3h0.7v0.7h-0.7zM437 106.4h0.7v0.7h-0.7zM454.6 97.3h0.7v0.7h-0.7zM451.4 106.9h0.7v0.7h-0.7zM454.2 108.6h0.7v0.7h-0.7zM454.3 99.2h0.7v0.7h-0.7zM454.4 110.4h0.7v0.7h-0.7zM452.3 102.8h0.7v0.7h-0.7zM452.7 107.7h0.7v0.7h-0.7zM452.5 97.5h0.7v0.7h-0.7zM452.4 109.7h0.7v0.7h-0.7zM450.3 110.9h0.7v0.7h-0.7zM451.2 107.5h0.7v0.7h-0.7zM453.4 105.4h0.7v0.7h-0.7zM450.9 95h0.7v0.7h-0.7zM452.8 109.4h0.7v0.7h-0.7zM461.7 101.7h0.7v0.7h-0.7zM461.9 98h0.7v0.7h-0.7zM463.5 105.8h0.7v0.7h-0.7zM473.2 102.5h0.7v0.7h-0.7zM475.7 86.8h0.7v0.7h-0.7zM475 101.2h0.7v0.7h-0.7zM474 97.7h0.7v0.7h-0.7zM474.7 98h0.7v0.7h-0.7zM473.9 96.3h0.7v0.7h-0.7zM473.8 100h0.7v0.7h-0.7zM473.1 98.9h0.7v0.7h-0.7zM474.8 92.6h0.7v0.7h-0.7zM472.8 95.7h0.7v0.7h-0.7zM475.1 87.6h0.7v0.7h-0.7zM485 99.4h0.7v0.7h-0.7zM485.3 99.2h0.7v0.7h-0.7zM483.8 99.3h0.7v0.7h-0.7zM484.7 98.7h0.7v0.7h-0.7zM482.6 102.1h0.7v0.7h-0.7z"/><path fill="#2669b8" d="M314.8 111.1h0.7v0.7h-0.7zM315.1 86.6h0.7v0.7h-0.7zM304.6 80.8h0.7v0.7h-0.7zM312.9 111.1h0.7v0.7h-0.7zM314.7 94.2h0.7v0.7h-0.7zM308.6 110.2h0.7v0.7h-0.7zM313.6 104.4h0.7v0.7h-0.7zM304.9 95h0.7v0.7h-0.7zM314.9 111.9h0.7v0.7h-0.7zM312.5 91h0.7v0.7h-0.7zM311.9 112.8h0.7v0.7h-0.7zM304.5 85.2h0.7v0.7h-0.7zM312 99.1h0.7v0.7h-0.7zM315.3 100.6h0.7v0.7h-0.7zM312.4 84.3h0.7v0.7h-0.7zM313.9 107.2h0.7v0.7h-0.7zM314.7 109.1h0.7v0.7h-0.7zM306.1 112.4h0.7v0.7h-0.7zM311.6 111.2h0.7v0.7h-0.7zM314.7 107.3h0.7v0.7h-0.7zM312.3 111.1h0.7v0.7h-0.7zM313.5 88.2h0.7v0.7h-0.7zM309.6 87.1h0.7v0.7h-0.7zM315.8 104.6h0.7v0.7h-0.7zM311.5 108.8h0.7v0.7h-0.7zM316.2 102.8h0.7v0.7h-0.7zM307.5 91.1h0.7v0.7h-0.7zM317.3 111.7h0.7v0.7h-0.7zM304 109.3h0.7v0.7h-0.7zM314.3 91.9h0.7v0.7h-0.7zM311.4 110.8h0.7v0.7h-0.7zM306 100h0.7v0.7h-0.7zM309.7 112.4h0.7v0.7h-0.7zM314.6 111.5h0.7v0.7h-0.7zM307.5 95h0.7v0.7h-0.7zM310.3 110.5h0.7v0.7h-0.7zM306.9 95.4h0.7v0.7h-0.7zM315.6 96.9h0.7v0.7h-0.7zM304.7 103.2h0.7v0.7h-0.7zM306.7 99.5h0.7v0.7h-0.7zM307.1 111.1h0.7v0.7h-0.7zM310.1 101.9h0.7v0.7h-0.7zM309 109.9h0.7v0.7h-0.7zM309.7 111h0.7v0.7h-0.7zM340.2 104.3h0.7v0.7h-0.7zM335.7 105.6h0.7v0.7h-0.7zM340.3 97h0.7v0.7h-0.7zM339.4 104h0.7v0.7h-0.7zM340.2 103h0.7v0.7h-0.7zM336.9 106.6h0.7v0.7h-0.7zM334.3 108.6h0.7v0.7h-0.7zM339.2 110.3h0.7v0.7h-0.7zM334.5 110h0.7v0.7h-0.7zM340.7 99.9h0.7v0.7h-0.7zM339.4 99h0.7v0.7h-0.7zM332.6 105.8h0.7v0.7h-0.7zM336.7 105h0.7v0.7h-0.7zM334.1 108.9h0.7v0.7h-0.7zM335.6 107.2h0.7v0.7h-0.7zM335.7 100.2h0.7v0.7h-0.7zM335.5 108.8h0.7v0.7h-0.7zM336.9 99.8h0.7v0.7h-0.7zM338 109.5h0.7v0.7h-0.7zM338 104.3h0.7v0.7h-0.7zM340.8 103.5h0.7v0.7h-0.7zM340.9 110.5h0.7v0.7h-0.7zM337.2 102.9h0.7v0.7h-0.7zM342 110.1h0.7v0.7h-0.7zM337.6 109.6h0.7v0.7h-0.7zM339.5 104.4h0.7v0.7h-0.7zM338 109.5h0.7v0.7h-0.7zM361.5 110.1h0.7v0.7h-0.7zM358.5 104h0.7v0.7h-0.7zM357.5 109.7h0.7v0.7h-0.7zM356.7 109.7h0.7v0.7h-0.7zM365.6 94.9h0.7v0.7h-0.7zM363.6 98.2h0.7v0.7h-0.7zM361.5 101.1h0.7v0.7h-0.7zM359 98.4h0.7v0.7h-0.7zM364 97h0.7v0.7h-0.7zM363.8 108.9h0.7v0.7h-0.7zM362.4 108.2h0.7v0.7h-0.7zM359.3 104.6h0.7v0.7h-0.7zM363.5 110.6h0.7v0.7h-0.7zM358 95.3h0.7v0.7h-0.7zM363 108.7h0.7v0.7h-0.7zM357.8 99.9h0.7v0.7h-0.7zM365.9 108.9h0.7v0.7h-0.7zM382.3 98h0.7v0.7h-0.7zM382 99.2h0.7v0.7h-0.7zM379 105.4h0.7v0.7h-0.7zM383.6 100.1h0.7v0.7h-0.7zM382 101h0.7v0.7h-0.7zM381 106h0.7v0.7h-0.7zM384.1 100.2h0.7v0.7h-0.7zM378.3 103.3h0.7v0.7h-0.7zM380.8 106.1h0.7v0.7h-0.7zM379.2 103.6h0.7v0.7h-0.7zM384.2 100.6h0.7v0.7h-0.7zM385.4 108.7h0.7v0.7h-0.7zM380 106.6h0.7v0.7h-0.7zM386.8 99h0.7v0.7h-0.7zM386.8 107.8h0.7v0.7h-0.7zM386.5 89.6h0.7v0.7h-0.7zM380.8 96.6h0.7v0.7h-0.7zM380.4 109h0.7v0.7h-0.7zM382.6 96.3h0.7v0.7h-0.7zM385.9 93.3h0.7v0.7h-0.7zM381.8 108.3h0.7v0.7h-0.7zM378.9 104.7h0.7v0.7h-0.7zM380.8 86.8h0.7v0.7h-0.7zM383.2 108.7h0.7v0.7h-0.7zM383.5 87.1h0.7v0.7h-0.7zM385.9 101.3h0.7v0.7h-0.7zM384.8 95.2h0.7v0.7h-0.7zM380.9 94.8h0.7v0.7h-0.7zM386.1 94.3h0.7v0.7h-0.7zM402.8 102.2h0.7v0.7h-0.7zM402 106.6h0.7v0.7h-0.7zM400.9 101.1h0.7v0.7h-0.7zM401.7 109.1h0.7v0.7h-0.7zM404.4 107.5h0.7v0.7h-0.7zM404.8 99.8h0.7v0.7h-0.7zM400.5 109.9h0.7v0.7h-0.7zM404.9 100.7h0.7v0.7h-0.7zM399.1 110.6h0.7v0.7h-0.7zM397.9 110.4h0.7v0.7h-0.7zM402.3 110.5h0.7v0.7h-0.7zM402.1 104.3h0.7v0.7h-0.7zM403.1 101.2h0.7v0.7h-0.7zM404.9 98.3h0.7v0.7h-0.7zM402.2 110.3h0.7v0.7h-0.7zM402.6 99.3h0.7v0.7h-0.7zM398 101.9h0.7v0.7h-0.7zM402.9 106.1h0.7v0.7h-0.7zM398.3 112h0.7v0.7h-0.7zM403.4 110.1h0.7v0.7h-0.7zM418.5 106.9h0.7v0.7h-0.7zM418.1 108h0.7v0.7h-0.7zM420.4 99.3h0.7v0.7h-0.7zM419.7 102.1h0.7v0.7h-0.7zM423.7 107.5h0.7v0.7h-0.7zM418.5 99.3h0.7v0.7h-0.7zM423.8 103.2h0.7v0.7h-0.7zM417.3 104.5h0.7v0.7h-0.7zM422.2 104.1h0.7v0.7h-0.7zM423.2 107.7h0.7v0.7h-0.7zM422.8 106.6h0.7v0.7h-0.7zM419.6 107.1h0.7v0.7h-0.7zM420.1 101h0.7v0.7h-0.7zM421.3 99.6h0.7v0.7h-0.7zM423.9 102.5h0.7v0.7h-0.7zM423.4 106.4h0.7v0.7h-0.7zM419.7 102.9h0.7v0.7h-0.7zM417.3 104.5h0.7v0.7h-0.7zM419.3 103.8h0.7v0.7h-0.7zM416.9 102.1h0.7v0.7h-0.7zM422.2 105.5h0.7v0.7h-0.7zM419.1 102.7h0.7v0.7h-0.7zM424.1 108.4h0.7v0.7h-0.7zM421.4 99.4h0.7v0.7h-0.7zM419.4 99.4h0.7v0.7h-0.7zM422.5 104.3h0.7v0.7h-0.7zM440.3 101.3h0.7v0.7h-0.7zM438.3 106.4h0.7v0.7h-0.7zM439.2 105.2h0.7v0.7h-0.7zM438.4 102h0.7v0.7h-0.7zM437.3 99.2h0.7v0.7h-0.7zM438.8 106.9h0.7v0.7h-0.7zM434.7 107.3h0.7v0.7h-0.7zM439.6 106.8h0.7v0.7h-0.7zM438 98.1h0.7v0.7h-0.7zM437.3 108.4h0.7v0.7h-0.7zM437.9 106h0.7v0.7h-0.7zM436.1 103.8h0.7v0.7h-0.7zM435.6 109.7h0.7v0.7h-0.7zM437.9 109.5h0.7v0.7h-0.7zM435.5 109.5h0.7v0.7h-0.7zM453.9 104.7h0.7v0.7h-0.7zM450.4 97.8h0.7v0.7h-0.7zM452.9 95.4h0.7v0.7h-0.7zM450.3 103.3h0.7v0.7h-0.7zM452.1 107h0.7v0.7h-0.7zM453.4 103.2h0.7v0.7h-0.7zM449.5 96.4h0.7v0.7h-0.7zM451.6 104.8h0.7v0.7h-0.7zM454.3 110.9h0.7v0.7h-0.7zM449.9 96.2h0.7v0.7h-0.7zM453.5 102.7h0.7v0.7h-0.7zM453.4 109.3h0.7v0.7h-0.7zM453.6 98.5h0.7v0.7h-0.7zM453.7 95.3h0.7v0.7h-0.7zM451.1 106.6h0.7v0.7h-0.7zM463.5 108.9h0.7v0.7h-0.7zM464.2 99.3h0.7v0.7h-0.7zM464.3 101.2h0.7v0.7h-0.7zM463.1 107.6h0.7v0.7h-0.7zM465.9 109.3h0.7v0.7h-0.7zM465.6 106.8h0.7v0.7h-0.7zM465.4 103.1h0.7v0.7h-0.7zM464.7 109.1h0.7v0.7h-0.7zM464.5 97.6h0.7v0.7h-0.7zM463.4 110h0.7v0.7h-0.7zM464.6 104.1h0.7v0.7h-0.7zM475.2 99h0.7v0.7h-0.7zM472.8 100.8h0.7v0.7h-0.7zM473.2 102.1h0.7v0.7h-0.7zM474.3 97.1h0.7v0.7h-0.7zM473 88.1h0.7v0.7h-0.7zM474.9 86.7h0.7v0.7h-0.7zM473 96.7h0.7v0.7h-0.7zM473 101.9h0.7v0.7h-0.7zM474.7 91.2h0.7v0.7h-0.7zM475.1 96.2h0.7v0.7h-0.7zM474.3 101.3h0.7v0.7h-0.7zM473.6 102.4h0.7v0.7h-0.7zM473.2 90h0.7v0.7h-0.7zM473.4 101.1h0.7v0.7h-0.7zM482.5 101.9h0.7v0.7h-0.7zM483.5 102.9h0.7v0.7h-0.7zM482.9 99h0.7v0.7h-0.7zM485 105.3h0.7v0.7h-0.7zM483.4 104.9h0.7v0.7h-0.7zM482.5 99.4h0.7v0.7h-0.7zM482.6 103h0.7v0.7h-0.7zM483.5 100.5h0.7v0.7h-0.7zM483.2 101.7h0.7v0.7h-0.7zM483.6 98.8h0.7v0.7h-0.7zM482.6 102.7h0.7v0.7h-0.7zM485.1 99.4h0.7v0.7h-0.7zM484 103.4h0.7v0.7h-0.7z"/><path fill="#3174c0" d="M308 97.4h0.7v0.7h-0.7zM315.2 102.3h0.7v0.7h-0.7zM317.1 110.7h0.7v0.7h-0.7zM305.5 105.6h0.7v0.7h-0.7zM310.5 92.2h0.7v0.7h-0.7zM308.2 89h0.7v0.7h-0.7zM307 100.8h0.7v0.7h-0.7zM308.6 108.3h0.7v0.7h-0.7zM305.2 96.4h0.7v0.7h-0.7zM314.1 93.5h0.7v0.7h-0.7zM315.3 96.5h0.7v0.7h-0.7zM312.4 100.5h0.7v0.7h-0.7zM311.2 103.3h0.7v0.7h-0.7zM312.2 103.7h0.7v0.7h-0.7zM308 94.6h0.7v0.7h-0.7zM306.7 112.3h0.7v0.7h-0.7zM309.1 107.1h0.7v0.7h-0.7zM307.4 104.5h0.7v0.7h-0.7zM316 109.8h0.7v0.7h-0.7zM309.6 96.5h0.7v0.7h-0.7zM313.5 92.4h0.7v0.7h-0.7zM309.5 110.2h0.7v0.7h-0.7zM338 104h0.7v0.7h-0.7zM334.2 97.2h0.7v0.7h-0.7zM341.7 105.7h0.7v0.7h-0.7zM342.5 98.5h0.7v0.7h-0.7zM334.5 108.5h0.7v0.7h-0.7zM338 104.8h0.7v0.7h-0.7zM337.2 106h0.7v0.7h-0.7zM336.5 107.4h0.7v0.7h-0.7zM335 102h0.7v0.7h-0.7zM334.7 109.2h0.7v0.7h-0.7zM335.7 105.2h0.7v0.7h-0.7zM338.1 97.5h0.7v0.7h-0.7zM334.9 99.2h0.7v0.7h-0.7zM338.4 105.9h0.7v0.7h-0.7zM339.8 99.5h0.7v0.7h-0.7zM334.5 105.8h0.7v0.7h-0.7zM341.3 103.2h0.7v0.7h-0.7zM365.5 96.7h0.7v0.7h-0.7zM364.5 103.2h0.7v0.7h-0.7zM361.9 101.8h0.7v0.7h-0.7zM364.1 110.9h0.7v0.7h-0.7zM362.8 97h0.7v0.7h-0.7zM360.8 103.6h0.7v0.7h-0.7zM358.4 104.6h0.7v0.7h-0.7zM363.9 98h0.7v0.7h-0.7zM364.8 102h0.7v0.7h-0.7zM361.5 106.8h0.7v0.7h-0.7zM379.2 105.4h0.7v0.7h-0.7zM380.1 109.3h0.7v0.7h-0.7zM383.7 101.7h0.7v0.7h-0.7zM383.2 89.1h0.7v0.7h-0.7zM381.8 107.6h0.7v0.7h-0.7zM385.4 99.8h0.7v0.7h-0.7zM386.5 82.7h0.7v0.7h-0.7zM401.2 98.5h0.7v0.7h-0.7zM400.8 109.1h0.7v0.7h-0.7zM398.9 106.3h0.7v0.7h-0.7zM401.2 108.3h0.7v0.7h-0.7zM398.2 106.9h0.7v0.7h-0.7zM399.7 104h0.7v0.7h-0.7zM404.2 107.8h0.7v0.7h-0.7zM402.1 110h0.7v0.7h-0.7zM400.1 100.9h0.7v0.7h-0.7zM403.6 111h0.7v0.7h-0.7zM397.9 102.6h0.7v0.7h-0.7zM399.6 110.9h0.7v0.7h-0.7zM405.4 99.5h0.7v0.7h-0.7zM404.4 102.6h0.7v0.7h-0.7zM398.2 111h0.7v0.7h-0.7zM403.3 108.3h0.7v0.7h-0.7zM420.7 106.4h0.7v0.7h-0.7zM416.8 104.4h0.7v0.7h-0.7zM421.4 105.1h0.7v0.7h-0.7zM423.2 100.6h0.7v0.7h-0.7zM417.7 104.3h0.7v0.7h-0.7zM420.1 107.8h0.7v0.7h-0.7zM417.4 99.4h0.7v0.7h-0.7zM417.2 99.4h0.7v0.7h-0.7zM422.1 107.6h0.7v0.7h-0.7zM417.1 106.2h0.7v0.7h-0.7zM439.2 110.2h0.7v0.7h-0.7zM437.9 107.6h0.7v0.7h-0.7zM435.1 99.4h0.7v0.7h-0.7zM439.4 110.5h0.7v0.7h-0.7zM436.7 104.4h0.7v0.7h-0.7zM438.7 104.6h0.7v0.7h-0.7zM437.5 109.5h0.7v0.7h-0.7zM449.6 101.9h0.7v0.7h-0.7zM450.5 101.9h0.7v0.7h-0.7zM449.4 102.5h0.7v0.7h-0.7zM451.3 100.8h0.7v0.7h-0.7zM449.9 110.8h0.7v0.7h-0.7zM453.8 109.4h0.7v0.7h-0.7zM452.3 106.1h0.7v0.7h-0.7zM451 107h0.7v0.7h-0.7zM452.9 104.2h0.7v0.7h-0.7zM452.5 93.6h0.7v0.7h-0.7zM464.7 103.9h0.7v0.7h-0.7zM464.9 109.8h0.7v0.7h-0.7zM462.6 106.3h0.7v0.7h-0.7zM463.4 108.4h0.7v0.7h-0.7zM472.8 98.4h0.7v0.7h-0.7zM474.5 90.2h0.7v0.7h-0.7zM475.5 93.9h0.7v0.7h-0.7zM475.2 94.6h0.7v0.7h-0.7zM484.7 106h0.7v0.7h-0.7zM485.3 99.7h0.7v0.7h-0.7zM482.6 100.1h0.7v0.7h-0.7zM483 98.5h0.7v0.7h-0.7zM483.6 105h0.7v0.7h-0.7z"/><rect x="303.48" y="161.62" width="14.44" height="3.2" fill="#e4f0fa"/><rect x="332.05" y="161.62" width="11.47" height="3.2" fill="#e4f0fa"/><rect x="356.32" y="161.62" width="10.55" height="3.2" fill="#e4f0fa"/><rect x="378.13" y="161.62" width="9.42" height="3.2" fill="#e4f0fa"/><rect x="397.79" y="161.62" width="8.29" height="3.2" fill="#e4f0fa"/><rect x="416.74" y="161.62" width="8.29" height="3.2" fill="#e4f0fa"/><rect x="434.45" y="161.62" width="6.55" height="3.2" fill="#e4f0fa"/><rect x="449.20" y="161.62" width="6.04" height="3.2" fill="#e4f0fa"/><rect x="461.69" y="161.62" width="5.02" height="3.2" fill="#e4f0fa"/><rect x="472.44" y="161.62" width="4.40" height="3.2" fill="#e4f0fa"/><rect x="482.37" y="161.62" width="3.58" height="3.2" fill="#e4f0fa"/><rect x="505.52" y="140.51" width="0.9" height="20.92" fill="#8cc3ef"/><rect x="505.82" y="148.29" width="0.6" height="13.13" fill="#2b6cb6"/></g>
<line x1="285.70" y1="22.80" x2="285.70" y2="167.8" stroke="#2e2e2e" stroke-width="1.3"/><line x1="285.10" y1="167.3" x2="510.00" y2="167.3" stroke="#2e2e2e" stroke-width="1.2"/><line x1="282.90" y1="161.20" x2="285.70" y2="161.20" stroke="#2e2e2e" stroke-width="0.9"/><text x="278.00" y="163.25" font-size="6.1" text-anchor="middle" fill="#333" stroke="#333" stroke-width="0.18">0</text><line x1="282.90" y1="130.16" x2="285.70" y2="130.16" stroke="#2e2e2e" stroke-width="0.9"/><text x="278.00" y="132.21" font-size="6.1" text-anchor="middle" fill="#333" stroke="#333" stroke-width="0.18">2</text><line x1="282.90" y1="99.12" x2="285.70" y2="99.12" stroke="#2e2e2e" stroke-width="0.9"/><text x="278.00" y="101.17" font-size="6.1" text-anchor="middle" fill="#333" stroke="#333" stroke-width="0.18">4</text><line x1="282.90" y1="68.08" x2="285.70" y2="68.08" stroke="#2e2e2e" stroke-width="0.9"/><text x="278.00" y="70.13" font-size="6.1" text-anchor="middle" fill="#333" stroke="#333" stroke-width="0.18">6</text><line x1="282.90" y1="37.04" x2="285.70" y2="37.04" stroke="#2e2e2e" stroke-width="0.9"/><text x="278.00" y="39.09" font-size="6.1" text-anchor="middle" fill="#333" stroke="#333" stroke-width="0.18">8</text><line x1="288.50" y1="47.90" x2="507.60" y2="47.90" stroke="#1e1e1e" stroke-width="1.1" stroke-dasharray="2.1 2"/><text transform="translate(296.36,169.8) rotate(-90)" font-size="6.4" text-anchor="end" fill="#333" stroke="#333" stroke-width="0.22">1</text><text transform="translate(312.34,169.8) rotate(-90)" font-size="6.4" text-anchor="end" fill="#333" stroke="#333" stroke-width="0.22">2</text><text transform="translate(325.85,169.8) rotate(-90)" font-size="6.4" text-anchor="end" fill="#333" stroke="#333" stroke-width="0.22">3</text><text transform="translate(339.88,169.8) rotate(-90)" font-size="6.4" text-anchor="end" fill="#333" stroke="#333" stroke-width="0.22">4</text><text transform="translate(352.07,169.8) rotate(-90)" font-size="6.4" text-anchor="end" fill="#333" stroke="#333" stroke-width="0.22">5</text><text transform="translate(363.94,169.8) rotate(-90)" font-size="6.4" text-anchor="end" fill="#333" stroke="#333" stroke-width="0.22">6</text><text transform="translate(373.98,169.8) rotate(-90)" font-size="6.4" text-anchor="end" fill="#333" stroke="#333" stroke-width="0.22">7</text><text transform="translate(384.53,169.8) rotate(-90)" font-size="6.4" text-anchor="end" fill="#333" stroke="#333" stroke-width="0.22">8</text><text transform="translate(394.66,169.8) rotate(-90)" font-size="6.4" text-anchor="end" fill="#333" stroke="#333" stroke-width="0.22">9</text><text transform="translate(403.68,169.8) rotate(-90)" font-size="6.4" text-anchor="end" fill="#333" stroke="#333" stroke-width="0.22">10</text><text transform="translate(413.40,169.8) rotate(-90)" font-size="6.4" text-anchor="end" fill="#333" stroke="#333" stroke-width="0.22">11</text><text transform="translate(422.62,169.8) rotate(-90)" font-size="6.4" text-anchor="end" fill="#333" stroke="#333" stroke-width="0.22">12</text><text transform="translate(430.81,169.8) rotate(-90)" font-size="6.4" text-anchor="end" fill="#333" stroke="#333" stroke-width="0.22">13</text><text transform="translate(439.11,169.8) rotate(-90)" font-size="6.4" text-anchor="end" fill="#333" stroke="#333" stroke-width="0.22">14</text><text transform="translate(446.17,169.8) rotate(-90)" font-size="6.4" text-anchor="end" fill="#333" stroke="#333" stroke-width="0.22">15</text><text transform="translate(454.06,169.8) rotate(-90)" font-size="6.4" text-anchor="end" fill="#333" stroke="#333" stroke-width="0.22">16</text><text transform="translate(460.00,169.8) rotate(-90)" font-size="6.4" text-anchor="end" fill="#333" stroke="#333" stroke-width="0.22">17</text><text transform="translate(465.94,169.8) rotate(-90)" font-size="6.4" text-anchor="end" fill="#333" stroke="#333" stroke-width="0.22">18</text><text transform="translate(469.83,169.8) rotate(-90)" font-size="6.4" text-anchor="end" fill="#333" stroke="#333" stroke-width="0.22">19</text><text transform="translate(473.62,169.8) rotate(-90)" font-size="6.4" text-anchor="end" fill="#333" stroke="#333" stroke-width="0.22">20</text><text transform="translate(477.71,169.8) rotate(-90)" font-size="6.4" text-anchor="end" fill="#333" stroke="#333" stroke-width="0.22">21</text><text transform="translate(483.65,169.8) rotate(-90)" font-size="6.4" text-anchor="end" fill="#333" stroke="#333" stroke-width="0.22">22</text><text transform="translate(493.07,169.8) rotate(-90)" font-size="6.4" text-anchor="end" fill="#333" stroke="#333" stroke-width="0.22">23</text><text transform="translate(503.11,169.8) rotate(-90)" font-size="6.4" text-anchor="end" fill="#333" stroke="#333" stroke-width="0.22">25</text>
<rect x="197.1" y="32.5" width="1.8" height="1.8" fill="#c04a66"/>
<rect x="197.1" y="42.9" width="1.8" height="1.8" fill="#c04a66"/>
<rect x="197.1" y="49.0" width="1.8" height="1.8" fill="#c04a66"/>
<rect x="197.5" y="67.0" width="1" height="1" fill="#777"/>
<rect x="197.5" y="68.5" width="1" height="1" fill="#777"/>
<rect x="197.5" y="70.0" width="1" height="1" fill="#777"/>
<rect x="197.6" y="71.5" width="1" height="1" fill="#777"/>
<rect x="197.5" y="74.5" width="1" height="1" fill="#777"/>
<rect x="197.7" y="79.5" width="1" height="1" fill="#777"/>
<rect x="197.3" y="83.5" width="1" height="1" fill="#777"/>
<rect x="320.9" y="27.9" width="1.8" height="1.8" fill="#c04a66"/>
<rect x="321.0" y="63.8" width="1" height="1" fill="#555"/>
<rect x="321.0" y="78.0" width="1" height="1" fill="#666"/>
<rect x="362.3" y="69.2" width="1" height="1" fill="#6a9ad0"/>
<rect x="362.3" y="74.7" width="1" height="1" fill="#6a9ad0"/>
<rect x="430.5" y="78.0" width="1" height="1" fill="#666"/>
<rect x="477.7" y="72.5" width="1" height="1" fill="#777"/>
<rect x="473.5" y="79.5" width="1" height="1" fill="#6a9ad0"/>
<rect x="476.5" y="83.5" width="1" height="1" fill="#6a9ad0"/>
<rect x="478.5" y="86.5" width="1" height="1" fill="#777"/>
<rect x="416.3" y="85.7" width="1" height="1" fill="#6a9ad0"/>
<rect x="57.0" y="91.2" width="1" height="1" fill="#6a9ad0"/>
<text x="138.5" y="187.1" font-size="7" text-anchor="middle" fill="#333" stroke="#333" stroke-width="0.32" textLength="32.7" lengthAdjust="spacingAndGlyphs">Chromosome</text>
<text x="397" y="187.1" font-size="7" text-anchor="middle" fill="#333" stroke="#333" stroke-width="0.32" textLength="32.7" lengthAdjust="spacingAndGlyphs">Chromosome</text>
<text transform="translate(13.3,96.8) rotate(-90)" font-size="6.6" text-anchor="middle" fill="#333" stroke="#333" stroke-width="0.25" textLength="38.1" lengthAdjust="spacingAndGlyphs">-log<tspan font-size="4.6" dy="1.6">10</tspan><tspan dy="-1.6"> ( </tspan><tspan font-style="italic">P</tspan> value)</text>
<text transform="translate(268.9,95.6) rotate(-90)" font-size="6.6" text-anchor="middle" fill="#333" stroke="#333" stroke-width="0.25" textLength="42.4" lengthAdjust="spacingAndGlyphs">-log<tspan font-size="4.6" dy="1.6">10</tspan><tspan dy="-1.6"> ( </tspan><tspan font-style="italic">P</tspan> value)</text>
<text x="6.5" y="16" font-size="10.5" font-weight="bold" fill="#111" stroke="#111" stroke-width="0.35">A</text>
<text x="262.3" y="16" font-size="10.5" font-weight="bold" fill="#111" stroke="#111" stroke-width="0.35">B</text>
<text x="6.3" y="214.2" font-size="10.5" font-weight="bold" fill="#111" stroke="#111" stroke-width="0.35">C</text>
<line x1="30.4" y1="222.3" x2="30.4" y2="370.2" stroke="#2e2e2e" stroke-width="1.3"/>
<line x1="27.6" y1="363.10" x2="30.4" y2="363.10" stroke="#2e2e2e" stroke-width="0.9"/>
<text x="22.6" y="365.15" font-size="6.1" text-anchor="middle" fill="#333" stroke="#333" stroke-width="0.18">0</text>
<line x1="27.6" y1="334.22" x2="30.4" y2="334.22" stroke="#2e2e2e" stroke-width="0.9"/>
<text x="22.6" y="336.27" font-size="6.1" text-anchor="middle" fill="#333" stroke="#333" stroke-width="0.18">2</text>
<line x1="27.6" y1="305.34" x2="30.4" y2="305.34" stroke="#2e2e2e" stroke-width="0.9"/>
<text x="22.6" y="307.39" font-size="6.1" text-anchor="middle" fill="#333" stroke="#333" stroke-width="0.18">4</text>
<line x1="27.6" y1="276.46" x2="30.4" y2="276.46" stroke="#2e2e2e" stroke-width="0.9"/>
<text x="22.6" y="278.51" font-size="6.1" text-anchor="middle" fill="#333" stroke="#333" stroke-width="0.18">6</text>
<line x1="27.6" y1="247.58" x2="30.4" y2="247.58" stroke="#2e2e2e" stroke-width="0.9"/>
<text x="22.6" y="249.63" font-size="6.1" text-anchor="middle" fill="#333" stroke="#333" stroke-width="0.18">8</text>
<text transform="translate(13.2,296.3) rotate(-90)" font-size="6.6" text-anchor="middle" fill="#333" stroke="#333" stroke-width="0.25" textLength="23.5" lengthAdjust="spacingAndGlyphs">-log<tspan font-size="4.6" dy="1.6">10</tspan><tspan dy="-1.6">(</tspan><tspan font-style="italic">p</tspan>)</text>
<line x1="485.1" y1="222.6" x2="485.1" y2="369.8" stroke="#2e2e2e" stroke-width="1.3"/>
<line x1="485.1" y1="369.40" x2="487.9" y2="369.40" stroke="#2e2e2e" stroke-width="0.9"/>
<text x="490.2" y="371.45" font-size="6.1" fill="#333" stroke="#333" stroke-width="0.18">0</text>
<line x1="485.1" y1="340.08" x2="487.9" y2="340.08" stroke="#2e2e2e" stroke-width="0.9"/>
<text x="490.2" y="342.13" font-size="6.1" fill="#333" stroke="#333" stroke-width="0.18">20</text>
<line x1="485.1" y1="310.76" x2="487.9" y2="310.76" stroke="#2e2e2e" stroke-width="0.9"/>
<text x="490.2" y="312.81" font-size="6.1" fill="#333" stroke="#333" stroke-width="0.18">40</text>
<line x1="485.1" y1="281.44" x2="487.9" y2="281.44" stroke="#2e2e2e" stroke-width="0.9"/>
<text x="490.2" y="283.49" font-size="6.1" fill="#333" stroke="#333" stroke-width="0.18">60</text>
<line x1="485.1" y1="252.12" x2="487.9" y2="252.12" stroke="#2e2e2e" stroke-width="0.9"/>
<text x="490.2" y="254.17" font-size="6.1" fill="#333" stroke="#333" stroke-width="0.18">80</text>
<line x1="485.1" y1="222.80" x2="487.9" y2="222.80" stroke="#2e2e2e" stroke-width="0.9"/>
<text x="490.2" y="224.85" font-size="6.1" fill="#333" stroke="#333" stroke-width="0.18">100</text>
<text transform="translate(506.9,296.2) rotate(90)" font-size="6.9" text-anchor="middle" fill="#333" stroke="#333" stroke-width="0.25" textLength="74.5" lengthAdjust="spacingAndGlyphs">Recombination rate (cM/Mb)</text>
<line x1="36.4" y1="257.69" x2="476" y2="257.69" stroke="#1e1e1e" stroke-width="1.1" stroke-dasharray="2.3 1.85"/>
<line x1="36.1" y1="429.6" x2="478.8" y2="429.6" stroke="#2e2e2e" stroke-width="1.3"/>
<line x1="109.90" y1="429.6" x2="109.90" y2="432.4" stroke="#2e2e2e" stroke-width="0.9"/>
<text x="104.50" y="440.8" font-size="6.3" fill="#333" stroke="#333" stroke-width="0.18" textLength="10.8" lengthAdjust="spacingAndGlyphs">37.8</text>
<line x1="198.23" y1="429.6" x2="198.23" y2="432.4" stroke="#2e2e2e" stroke-width="0.9"/>
<text x="192.83" y="440.8" font-size="6.3" fill="#333" stroke="#333" stroke-width="0.18" textLength="10.8" lengthAdjust="spacingAndGlyphs">38.0</text>
<line x1="286.56" y1="429.6" x2="286.56" y2="432.4" stroke="#2e2e2e" stroke-width="0.9"/>
<text x="281.16" y="440.8" font-size="6.3" fill="#333" stroke="#333" stroke-width="0.18" textLength="10.8" lengthAdjust="spacingAndGlyphs">38.2</text>
<line x1="374.89" y1="429.6" x2="374.89" y2="432.4" stroke="#2e2e2e" stroke-width="0.9"/>
<text x="369.49" y="440.8" font-size="6.3" fill="#333" stroke="#333" stroke-width="0.18" textLength="10.8" lengthAdjust="spacingAndGlyphs">38.4</text>
<line x1="463.22" y1="429.6" x2="463.22" y2="432.4" stroke="#2e2e2e" stroke-width="0.9"/>
<text x="457.82" y="440.8" font-size="6.3" fill="#333" stroke="#333" stroke-width="0.18" textLength="10.8" lengthAdjust="spacingAndGlyphs">38.6</text>
<text x="257" y="451.7" font-size="7" text-anchor="middle" fill="#333" stroke="#333" stroke-width="0.32" textLength="56.2" lengthAdjust="spacingAndGlyphs">Position on chr17 (Mb)</text>
<polyline fill="none" stroke="#111" stroke-width="1.15" stroke-linejoin="round" points="41,369.8 60,369.5 80,369.4 82.6,368.8 83.3,366.5 84.2,369.2 120,369.3 122.6,368.5 123.3,364.4 124.1,368.8 125.4,366 126.4,369.2 148,369.2 150,367.6 152,369.2 165,369.2 166.5,367.6 168,369.2 188,369.2 190,367.8 192,369.2 207,369.2 208.4,366.3 209.6,369 226,369 227.3,365 228.4,368 230,367 232,368.5 236.5,368.2 237.3,362.4 238.1,368.5 246.5,368.5 247.5,363.5 248.5,368 253,367.4 255,368.5 262,367.8 264,368.8 273,368 275,369 290,369 291.8,366.5 298.4,366.6 299.5,368.3 308.5,368.3 309.7,342 311.2,361.8 313.3,363 315,364 316.8,367.7 318.6,368.9 345,368.9 347,368.2 349,369 369.0,369 369.4,326.6 369.8,369 455,369 456.5,365.8 457.3,368.3 459,367.3 465,366.8 470,367.1 475,366.6 477.3,368.2"/>
<defs><filter id="pb" x="-5%" y="-5%" width="110%" height="110%"><feGaussianBlur stdDeviation="0.45"/></filter></defs><g filter="url(#pb)">
<path d="M35.5 358.6L38.1 361.2L35.5 363.8L32.9 361.2Z" fill="#bcdcf3" stroke="#8db8dc" stroke-width="0.45"/>
<path d="M37.0 360.0L39.6 362.6L37.0 365.2L34.4 362.6Z" fill="#bcdcf3" stroke="#8db8dc" stroke-width="0.45"/>
<path d="M38.5 358.6L41.1 361.2L38.5 363.8L35.9 361.2Z" fill="#bcdcf3" stroke="#8db8dc" stroke-width="0.45"/>
<path d="M40.0 360.0L42.6 362.6L40.0 365.2L37.4 362.6Z" fill="#bcdcf3" stroke="#8db8dc" stroke-width="0.45"/>
<path d="M41.5 358.6L44.1 361.2L41.5 363.8L38.9 361.2Z" fill="#bcdcf3" stroke="#8db8dc" stroke-width="0.45"/>
<path d="M43.0 360.0L45.6 362.6L43.0 365.2L40.4 362.6Z" fill="#bcdcf3" stroke="#8db8dc" stroke-width="0.45"/>
<path d="M44.5 358.6L47.1 361.2L44.5 363.8L41.9 361.2Z" fill="#bcdcf3" stroke="#8db8dc" stroke-width="0.45"/>
<path d="M46.0 360.0L48.6 362.6L46.0 365.2L43.4 362.6Z" fill="#bcdcf3" stroke="#8db8dc" stroke-width="0.45"/>
<path d="M47.5 358.6L50.1 361.2L47.5 363.8L44.9 361.2Z" fill="#bcdcf3" stroke="#8db8dc" stroke-width="0.45"/>
<path d="M49.0 360.0L51.6 362.6L49.0 365.2L46.4 362.6Z" fill="#bcdcf3" stroke="#8db8dc" stroke-width="0.45"/>
<path d="M50.5 358.6L53.1 361.2L50.5 363.8L47.9 361.2Z" fill="#bcdcf3" stroke="#8db8dc" stroke-width="0.45"/>
<path d="M52.0 360.0L54.6 362.6L52.0 365.2L49.4 362.6Z" fill="#bcdcf3" stroke="#8db8dc" stroke-width="0.45"/>
<path d="M53.5 358.6L56.1 361.2L53.5 363.8L50.9 361.2Z" fill="#bcdcf3" stroke="#8db8dc" stroke-width="0.45"/>
<path d="M55.0 360.0L57.6 362.6L55.0 365.2L52.4 362.6Z" fill="#bcdcf3" stroke="#8db8dc" stroke-width="0.45"/>
<path d="M56.5 358.6L59.1 361.2L56.5 363.8L53.9 361.2Z" fill="#bcdcf3" stroke="#8db8dc" stroke-width="0.45"/>
<path d="M58.0 360.0L60.6 362.6L58.0 365.2L55.4 362.6Z" fill="#bcdcf3" stroke="#8db8dc" stroke-width="0.45"/>
<path d="M59.5 358.6L62.1 361.2L59.5 363.8L56.9 361.2Z" fill="#bcdcf3" stroke="#8db8dc" stroke-width="0.45"/>
<path d="M61.0 360.0L63.6 362.6L61.0 365.2L58.4 362.6Z" fill="#bcdcf3" stroke="#8db8dc" stroke-width="0.45"/>
<path d="M62.5 358.6L65.1 361.2L62.5 363.8L59.9 361.2Z" fill="#bcdcf3" stroke="#8db8dc" stroke-width="0.45"/>
<path d="M64.0 360.0L66.6 362.6L64.0 365.2L61.4 362.6Z" fill="#bcdcf3" stroke="#8db8dc" stroke-width="0.45"/>
<path d="M65.5 358.6L68.1 361.2L65.5 363.8L62.9 361.2Z" fill="#bcdcf3" stroke="#8db8dc" stroke-width="0.45"/>
<path d="M67.0 360.0L69.6 362.6L67.0 365.2L64.4 362.6Z" fill="#bcdcf3" stroke="#8db8dc" stroke-width="0.45"/>
<path d="M68.5 358.6L71.1 361.2L68.5 363.8L65.9 361.2Z" fill="#bcdcf3" stroke="#8db8dc" stroke-width="0.45"/>
<path d="M70.0 360.0L72.6 362.6L70.0 365.2L67.4 362.6Z" fill="#bcdcf3" stroke="#8db8dc" stroke-width="0.45"/>
<path d="M71.5 358.6L74.1 361.2L71.5 363.8L68.9 361.2Z" fill="#bcdcf3" stroke="#8db8dc" stroke-width="0.45"/>
<path d="M73.0 360.0L75.6 362.6L73.0 365.2L70.4 362.6Z" fill="#bcdcf3" stroke="#8db8dc" stroke-width="0.45"/>
<path d="M74.5 358.6L77.1 361.2L74.5 363.8L71.9 361.2Z" fill="#bcdcf3" stroke="#8db8dc" stroke-width="0.45"/>
<path d="M76.0 360.0L78.6 362.6L76.0 365.2L73.4 362.6Z" fill="#bcdcf3" stroke="#8db8dc" stroke-width="0.45"/>
<path d="M77.5 358.6L80.1 361.2L77.5 363.8L74.9 361.2Z" fill="#bcdcf3" stroke="#8db8dc" stroke-width="0.45"/>
<path d="M79.0 360.0L81.6 362.6L79.0 365.2L76.4 362.6Z" fill="#bcdcf3" stroke="#8db8dc" stroke-width="0.45"/>
<path d="M80.5 358.6L83.1 361.2L80.5 363.8L77.9 361.2Z" fill="#bcdcf3" stroke="#8db8dc" stroke-width="0.45"/>
<path d="M82.0 360.0L84.6 362.6L82.0 365.2L79.4 362.6Z" fill="#bcdcf3" stroke="#8db8dc" stroke-width="0.45"/>
<path d="M83.5 358.6L86.1 361.2L83.5 363.8L80.9 361.2Z" fill="#bcdcf3" stroke="#8db8dc" stroke-width="0.45"/>
<path d="M85.0 360.0L87.6 362.6L85.0 365.2L82.4 362.6Z" fill="#bcdcf3" stroke="#8db8dc" stroke-width="0.45"/>
<path d="M86.5 358.6L89.1 361.2L86.5 363.8L83.9 361.2Z" fill="#bcdcf3" stroke="#8db8dc" stroke-width="0.45"/>
<path d="M88.0 360.0L90.6 362.6L88.0 365.2L85.4 362.6Z" fill="#bcdcf3" stroke="#8db8dc" stroke-width="0.45"/>
<path d="M98.3 354.1L100.9 356.7L98.3 359.3L95.7 356.7Z" fill="#bcdcf3" stroke="#8db8dc" stroke-width="0.45"/>
<path d="M100.5 354.1L103.1 356.7L100.5 359.3L97.9 356.7Z" fill="#bcdcf3" stroke="#8db8dc" stroke-width="0.45"/>
<path d="M101.0 358.9L103.6 361.5L101.0 364.1L98.4 361.5Z" fill="#bcdcf3" stroke="#8db8dc" stroke-width="0.45"/>
<path d="M110.5 359.9L113.1 362.5L110.5 365.1L107.9 362.5Z" fill="#bcdcf3" stroke="#8db8dc" stroke-width="0.45"/>
<path d="M112.9 359.9L115.5 362.5L112.9 365.1L110.3 362.5Z" fill="#bcdcf3" stroke="#8db8dc" stroke-width="0.45"/>
<path d="M120.6 358.6L123.2 361.2L120.6 363.8L118.0 361.2Z" fill="#bcdcf3" stroke="#8db8dc" stroke-width="0.45"/>
<path d="M123.5 352.2L126.1 354.8L123.5 357.4L120.9 354.8Z" fill="#bcdcf3" stroke="#8db8dc" stroke-width="0.45"/>
<path d="M124.5 353.6L127.1 356.2L124.5 358.8L121.9 356.2Z" fill="#bcdcf3" stroke="#8db8dc" stroke-width="0.45"/>
<path d="M127.0 349.4L129.6 352.0L127.0 354.6L124.4 352.0Z" fill="#bcdcf3" stroke="#8db8dc" stroke-width="0.45"/>
<path d="M130.2 351.2L132.8 353.8L130.2 356.4L127.6 353.8Z" fill="#bcdcf3" stroke="#8db8dc" stroke-width="0.45"/>
<path d="M124.2 353.2L126.8 355.8L124.2 358.4L121.6 355.8Z" fill="#bcdcf3" stroke="#8db8dc" stroke-width="0.45"/>
<path d="M135.0 344.5L137.6 347.1L135.0 349.7L132.4 347.1Z" fill="#bcdcf3" stroke="#8db8dc" stroke-width="0.45"/>
<path d="M138.8 343.2L141.4 345.8L138.8 348.4L136.2 345.8Z" fill="#bcdcf3" stroke="#8db8dc" stroke-width="0.45"/>
<path d="M141.0 343.2L143.6 345.8L141.0 348.4L138.4 345.8Z" fill="#bcdcf3" stroke="#8db8dc" stroke-width="0.45"/>
<path d="M143.5 343.2L146.1 345.8L143.5 348.4L140.9 345.8Z" fill="#bcdcf3" stroke="#8db8dc" stroke-width="0.45"/>
<path d="M146.5 343.2L149.1 345.8L146.5 348.4L143.9 345.8Z" fill="#bcdcf3" stroke="#8db8dc" stroke-width="0.45"/>
<path d="M148.5 358.9L151.1 361.5L148.5 364.1L145.9 361.5Z" fill="#bcdcf3" stroke="#8db8dc" stroke-width="0.45"/>
<path d="M151.0 358.4L153.6 361.0L151.0 363.6L148.4 361.0Z" fill="#bcdcf3" stroke="#8db8dc" stroke-width="0.45"/>
<path d="M153.3 358.0L155.9 360.6L153.3 363.2L150.7 360.6Z" fill="#bcdcf3" stroke="#8db8dc" stroke-width="0.45"/>
<path d="M152.0 355.9L154.6 358.5L152.0 361.1L149.4 358.5Z" fill="#bcdcf3" stroke="#8db8dc" stroke-width="0.45"/>
<path d="M154.2 333.0L156.8 335.6L154.2 338.2L151.6 335.6Z" fill="#bcdcf3" stroke="#8db8dc" stroke-width="0.45"/>
<path d="M166.7 333.0L169.3 335.6L166.7 338.2L164.1 335.6Z" fill="#bcdcf3" stroke="#8db8dc" stroke-width="0.45"/>
<path d="M187.9 333.0L190.5 335.6L187.9 338.2L185.3 335.6Z" fill="#bcdcf3" stroke="#8db8dc" stroke-width="0.45"/>
<path d="M238.0 355.4L240.6 358.0L238.0 360.6L235.4 358.0Z" fill="#bcdcf3" stroke="#8db8dc" stroke-width="0.45"/>
<path d="M240.0 353.9L242.6 356.5L240.0 359.1L237.4 356.5Z" fill="#bcdcf3" stroke="#8db8dc" stroke-width="0.45"/>
<path d="M242.0 356.4L244.6 359.0L242.0 361.6L239.4 359.0Z" fill="#bcdcf3" stroke="#8db8dc" stroke-width="0.45"/>
<path d="M244.0 354.4L246.6 357.0L244.0 359.6L241.4 357.0Z" fill="#bcdcf3" stroke="#8db8dc" stroke-width="0.45"/>
<path d="M246.0 357.4L248.6 360.0L246.0 362.6L243.4 360.0Z" fill="#bcdcf3" stroke="#8db8dc" stroke-width="0.45"/>
<path d="M248.0 355.4L250.6 358.0L248.0 360.6L245.4 358.0Z" fill="#bcdcf3" stroke="#8db8dc" stroke-width="0.45"/>
<path d="M250.0 358.4L252.6 361.0L250.0 363.6L247.4 361.0Z" fill="#bcdcf3" stroke="#8db8dc" stroke-width="0.45"/>
<path d="M252.0 356.9L254.6 359.5L252.0 362.1L249.4 359.5Z" fill="#bcdcf3" stroke="#8db8dc" stroke-width="0.45"/>
<path d="M240.0 358.9L242.6 361.5L240.0 364.1L237.4 361.5Z" fill="#bcdcf3" stroke="#8db8dc" stroke-width="0.45"/>
<path d="M245.0 360.4L247.6 363.0L245.0 365.6L242.4 363.0Z" fill="#bcdcf3" stroke="#8db8dc" stroke-width="0.45"/>
<path d="M239.0 360.4L241.6 363.0L239.0 365.6L236.4 363.0Z" fill="#bcdcf3" stroke="#8db8dc" stroke-width="0.45"/>
<path d="M236.0 357.4L238.6 360.0L236.0 362.6L233.4 360.0Z" fill="#bcdcf3" stroke="#8db8dc" stroke-width="0.45"/>
<path d="M246.8 343.6L249.4 346.2L246.8 348.8L244.2 346.2Z" fill="#bcdcf3" stroke="#8db8dc" stroke-width="0.45"/>
<path d="M264.8 346.4L267.4 349.0L264.8 351.6L262.2 349.0Z" fill="#bcdcf3" stroke="#8db8dc" stroke-width="0.45"/>
<path d="M277.9 341.4L280.5 344.0L277.9 346.6L275.3 344.0Z" fill="#bcdcf3" stroke="#8db8dc" stroke-width="0.45"/>
<path d="M277.9 344.4L280.5 347.0L277.9 349.6L275.3 347.0Z" fill="#bcdcf3" stroke="#8db8dc" stroke-width="0.45"/>
<path d="M277.9 346.8L280.5 349.4L277.9 352.0L275.3 349.4Z" fill="#bcdcf3" stroke="#8db8dc" stroke-width="0.45"/>
<path d="M285.4 349.0L288.0 351.6L285.4 354.2L282.8 351.6Z" fill="#bcdcf3" stroke="#8db8dc" stroke-width="0.45"/>
<path d="M260.0 353.4L262.6 356.0L260.0 358.6L257.4 356.0Z" fill="#bcdcf3" stroke="#8db8dc" stroke-width="0.45"/>
<path d="M263.0 352.4L265.6 355.0L263.0 357.6L260.4 355.0Z" fill="#bcdcf3" stroke="#8db8dc" stroke-width="0.45"/>
<path d="M266.0 351.9L268.6 354.5L266.0 357.1L263.4 354.5Z" fill="#bcdcf3" stroke="#8db8dc" stroke-width="0.45"/>
<path d="M269.0 352.4L271.6 355.0L269.0 357.6L266.4 355.0Z" fill="#bcdcf3" stroke="#8db8dc" stroke-width="0.45"/>
<path d="M272.0 351.4L274.6 354.0L272.0 356.6L269.4 354.0Z" fill="#bcdcf3" stroke="#8db8dc" stroke-width="0.45"/>
<path d="M275.0 352.4L277.6 355.0L275.0 357.6L272.4 355.0Z" fill="#bcdcf3" stroke="#8db8dc" stroke-width="0.45"/>
<path d="M278.0 351.9L280.6 354.5L278.0 357.1L275.4 354.5Z" fill="#bcdcf3" stroke="#8db8dc" stroke-width="0.45"/>
<path d="M281.0 351.2L283.6 353.8L281.0 356.4L278.4 353.8Z" fill="#bcdcf3" stroke="#8db8dc" stroke-width="0.45"/>
<path d="M262.0 355.4L264.6 358.0L262.0 360.6L259.4 358.0Z" fill="#bcdcf3" stroke="#8db8dc" stroke-width="0.45"/>
<path d="M268.0 354.9L270.6 357.5L268.0 360.1L265.4 357.5Z" fill="#bcdcf3" stroke="#8db8dc" stroke-width="0.45"/>
<path d="M259.4 316.9L262.0 319.5L259.4 322.1L256.8 319.5Z" fill="#bcdcf3" stroke="#8db8dc" stroke-width="0.45"/>
<path d="M270.0 317.4L272.6 320.0L270.0 322.6L267.4 320.0Z" fill="#bcdcf3" stroke="#8db8dc" stroke-width="0.45"/>
<path d="M276.0 317.4L278.6 320.0L276.0 322.6L273.4 320.0Z" fill="#bcdcf3" stroke="#8db8dc" stroke-width="0.45"/>
<path d="M259.4 327.7L262.0 330.3L259.4 332.9L256.8 330.3Z" fill="#bcdcf3" stroke="#8db8dc" stroke-width="0.45"/>
<path d="M280.0 350.1L282.6 352.7L280.0 355.3L277.4 352.7Z" fill="#bcdcf3" stroke="#8db8dc" stroke-width="0.45"/>
<path d="M283.0 350.9L285.6 353.5L283.0 356.1L280.4 353.5Z" fill="#bcdcf3" stroke="#8db8dc" stroke-width="0.45"/>
<path d="M286.0 351.4L288.6 354.0L286.0 356.6L283.4 354.0Z" fill="#bcdcf3" stroke="#8db8dc" stroke-width="0.45"/>
<path d="M290.0 352.4L292.6 355.0L290.0 357.6L287.4 355.0Z" fill="#bcdcf3" stroke="#8db8dc" stroke-width="0.45"/>
<path d="M297.8 325.8L300.4 328.4L297.8 331.0L295.2 328.4Z" fill="#bcdcf3" stroke="#8db8dc" stroke-width="0.45"/>
<path d="M294.8 335.3L297.4 337.9L294.8 340.5L292.2 337.9Z" fill="#bcdcf3" stroke="#8db8dc" stroke-width="0.45"/>
<path d="M298.4 346.0L301.0 348.6L298.4 351.2L295.8 348.6Z" fill="#bcdcf3" stroke="#8db8dc" stroke-width="0.45"/>
<path d="M293.0 355.6L295.6 358.2L293.0 360.8L290.4 358.2Z" fill="#bcdcf3" stroke="#8db8dc" stroke-width="0.45"/>
<path d="M319.2 335.9L321.8 338.5L319.2 341.1L316.6 338.5Z" fill="#bcdcf3" stroke="#8db8dc" stroke-width="0.45"/>
<path d="M324.6 341.3L327.2 343.9L324.6 346.5L322.0 343.9Z" fill="#bcdcf3" stroke="#8db8dc" stroke-width="0.45"/>
<path d="M324.0 345.4L326.6 348.0L324.0 350.6L321.4 348.0Z" fill="#bcdcf3" stroke="#8db8dc" stroke-width="0.45"/>
<path d="M322.2 348.4L324.8 351.0L322.2 353.6L319.6 351.0Z" fill="#bcdcf3" stroke="#8db8dc" stroke-width="0.45"/>
<path d="M320.4 352.0L323.0 354.6L320.4 357.2L317.8 354.6Z" fill="#bcdcf3" stroke="#8db8dc" stroke-width="0.45"/>
<path d="M316.2 355.6L318.8 358.2L316.2 360.8L313.6 358.2Z" fill="#bcdcf3" stroke="#8db8dc" stroke-width="0.45"/>
<path d="M332.3 350.8L334.9 353.4L332.3 356.0L329.7 353.4Z" fill="#bcdcf3" stroke="#8db8dc" stroke-width="0.45"/>
<path d="M333.5 353.2L336.1 355.8L333.5 358.4L330.9 355.8Z" fill="#bcdcf3" stroke="#8db8dc" stroke-width="0.45"/>
<path d="M341.9 341.9L344.5 344.5L341.9 347.1L339.3 344.5Z" fill="#bcdcf3" stroke="#8db8dc" stroke-width="0.45"/>
<path d="M341.3 358.6L343.9 361.2L341.3 363.8L338.7 361.2Z" fill="#bcdcf3" stroke="#8db8dc" stroke-width="0.45"/>
<path d="M402.3 344.7L404.9 347.3L402.3 349.9L399.7 347.3Z" fill="#bcdcf3" stroke="#8db8dc" stroke-width="0.45"/>
<path d="M390.8 358.6L393.4 361.2L390.8 363.8L388.2 361.2Z" fill="#bcdcf3" stroke="#8db8dc" stroke-width="0.45"/>
<path d="M407.0 352.4L409.6 355.0L407.0 357.6L404.4 355.0Z" fill="#bcdcf3" stroke="#8db8dc" stroke-width="0.45"/>
<path d="M410.0 351.4L412.6 354.0L410.0 356.6L407.4 354.0Z" fill="#bcdcf3" stroke="#8db8dc" stroke-width="0.45"/>
<path d="M413.0 353.4L415.6 356.0L413.0 358.6L410.4 356.0Z" fill="#bcdcf3" stroke="#8db8dc" stroke-width="0.45"/>
<path d="M416.0 350.4L418.6 353.0L416.0 355.6L413.4 353.0Z" fill="#bcdcf3" stroke="#8db8dc" stroke-width="0.45"/>
<path d="M419.0 352.4L421.6 355.0L419.0 357.6L416.4 355.0Z" fill="#bcdcf3" stroke="#8db8dc" stroke-width="0.45"/>
<path d="M409.0 355.9L411.6 358.5L409.0 361.1L406.4 358.5Z" fill="#bcdcf3" stroke="#8db8dc" stroke-width="0.45"/>
<path d="M415.0 355.9L417.6 358.5L415.0 361.1L412.4 358.5Z" fill="#bcdcf3" stroke="#8db8dc" stroke-width="0.45"/>
<path d="M453.0 340.1L455.6 342.7L453.0 345.3L450.4 342.7Z" fill="#bcdcf3" stroke="#8db8dc" stroke-width="0.45"/>
<path d="M460.0 347.0L462.6 349.6L460.0 352.2L457.4 349.6Z" fill="#bcdcf3" stroke="#8db8dc" stroke-width="0.45"/>
<path d="M441.0 342.4L443.6 345.0L441.0 347.6L438.4 345.0Z" fill="#bcdcf3" stroke="#8db8dc" stroke-width="0.45"/>
<path d="M443.5 342.4L446.1 345.0L443.5 347.6L440.9 345.0Z" fill="#bcdcf3" stroke="#8db8dc" stroke-width="0.45"/>
<path d="M446.0 342.4L448.6 345.0L446.0 347.6L443.4 345.0Z" fill="#bcdcf3" stroke="#8db8dc" stroke-width="0.45"/>
<path d="M357.0 349.0L359.6 351.6L357.0 354.2L354.4 351.6Z" fill="#bcdcf3" stroke="#8db8dc" stroke-width="0.45"/>
<path d="M359.5 349.0L362.1 351.6L359.5 354.2L356.9 351.6Z" fill="#bcdcf3" stroke="#8db8dc" stroke-width="0.45"/>
<path d="M362.0 349.0L364.6 351.6L362.0 354.2L359.4 351.6Z" fill="#bcdcf3" stroke="#8db8dc" stroke-width="0.45"/>
<path d="M364.5 349.0L367.1 351.6L364.5 354.2L361.9 351.6Z" fill="#bcdcf3" stroke="#8db8dc" stroke-width="0.45"/>
<path d="M367.0 349.0L369.6 351.6L367.0 354.2L364.4 351.6Z" fill="#bcdcf3" stroke="#8db8dc" stroke-width="0.45"/>
<path d="M369.5 349.0L372.1 351.6L369.5 354.2L366.9 351.6Z" fill="#bcdcf3" stroke="#8db8dc" stroke-width="0.45"/>
<path d="M372.0 349.0L374.6 351.6L372.0 354.2L369.4 351.6Z" fill="#bcdcf3" stroke="#8db8dc" stroke-width="0.45"/>
<path d="M374.5 349.0L377.1 351.6L374.5 354.2L371.9 351.6Z" fill="#bcdcf3" stroke="#8db8dc" stroke-width="0.45"/>
<path d="M377.0 349.0L379.6 351.6L377.0 354.2L374.4 351.6Z" fill="#bcdcf3" stroke="#8db8dc" stroke-width="0.45"/>
<path d="M379.5 349.0L382.1 351.6L379.5 354.2L376.9 351.6Z" fill="#bcdcf3" stroke="#8db8dc" stroke-width="0.45"/>
<path d="M382.0 349.0L384.6 351.6L382.0 354.2L379.4 351.6Z" fill="#bcdcf3" stroke="#8db8dc" stroke-width="0.45"/>
<path d="M384.5 349.0L387.1 351.6L384.5 354.2L381.9 351.6Z" fill="#bcdcf3" stroke="#8db8dc" stroke-width="0.45"/>
<path d="M387.0 349.0L389.6 351.6L387.0 354.2L384.4 351.6Z" fill="#bcdcf3" stroke="#8db8dc" stroke-width="0.45"/>
<path d="M389.5 349.0L392.1 351.6L389.5 354.2L386.9 351.6Z" fill="#bcdcf3" stroke="#8db8dc" stroke-width="0.45"/>
<path d="M392.0 349.0L394.6 351.6L392.0 354.2L389.4 351.6Z" fill="#bcdcf3" stroke="#8db8dc" stroke-width="0.45"/>
<path d="M394.5 349.0L397.1 351.6L394.5 354.2L391.9 351.6Z" fill="#bcdcf3" stroke="#8db8dc" stroke-width="0.45"/>
<path d="M357.0 354.4L359.6 357.0L357.0 359.6L354.4 357.0Z" fill="#bcdcf3" stroke="#8db8dc" stroke-width="0.45"/>
<path d="M359.5 354.4L362.1 357.0L359.5 359.6L356.9 357.0Z" fill="#bcdcf3" stroke="#8db8dc" stroke-width="0.45"/>
<path d="M362.0 354.4L364.6 357.0L362.0 359.6L359.4 357.0Z" fill="#bcdcf3" stroke="#8db8dc" stroke-width="0.45"/>
<path d="M364.5 354.4L367.1 357.0L364.5 359.6L361.9 357.0Z" fill="#bcdcf3" stroke="#8db8dc" stroke-width="0.45"/>
<path d="M367.0 354.4L369.6 357.0L367.0 359.6L364.4 357.0Z" fill="#bcdcf3" stroke="#8db8dc" stroke-width="0.45"/>
<path d="M369.5 354.4L372.1 357.0L369.5 359.6L366.9 357.0Z" fill="#bcdcf3" stroke="#8db8dc" stroke-width="0.45"/>
<path d="M372.0 354.4L374.6 357.0L372.0 359.6L369.4 357.0Z" fill="#bcdcf3" stroke="#8db8dc" stroke-width="0.45"/>
<path d="M374.5 354.4L377.1 357.0L374.5 359.6L371.9 357.0Z" fill="#bcdcf3" stroke="#8db8dc" stroke-width="0.45"/>
<path d="M377.0 354.4L379.6 357.0L377.0 359.6L374.4 357.0Z" fill="#bcdcf3" stroke="#8db8dc" stroke-width="0.45"/>
<path d="M379.5 354.4L382.1 357.0L379.5 359.6L376.9 357.0Z" fill="#bcdcf3" stroke="#8db8dc" stroke-width="0.45"/>
<path d="M382.0 354.4L384.6 357.0L382.0 359.6L379.4 357.0Z" fill="#bcdcf3" stroke="#8db8dc" stroke-width="0.45"/>
<path d="M384.5 354.4L387.1 357.0L384.5 359.6L381.9 357.0Z" fill="#bcdcf3" stroke="#8db8dc" stroke-width="0.45"/>
<path d="M387.0 354.4L389.6 357.0L387.0 359.6L384.4 357.0Z" fill="#bcdcf3" stroke="#8db8dc" stroke-width="0.45"/>
<path d="M389.5 354.4L392.1 357.0L389.5 359.6L386.9 357.0Z" fill="#bcdcf3" stroke="#8db8dc" stroke-width="0.45"/>
<path d="M392.0 354.4L394.6 357.0L392.0 359.6L389.4 357.0Z" fill="#bcdcf3" stroke="#8db8dc" stroke-width="0.45"/>
<path d="M394.5 354.4L397.1 357.0L394.5 359.6L391.9 357.0Z" fill="#bcdcf3" stroke="#8db8dc" stroke-width="0.45"/>
<path d="M433.5 335.0L436.1 337.6L433.5 340.2L430.9 337.6Z" fill="#bcdcf3" stroke="#8db8dc" stroke-width="0.45"/>
<path d="M436.0 335.0L438.6 337.6L436.0 340.2L433.4 337.6Z" fill="#bcdcf3" stroke="#8db8dc" stroke-width="0.45"/>
<path d="M438.5 335.0L441.1 337.6L438.5 340.2L435.9 337.6Z" fill="#bcdcf3" stroke="#8db8dc" stroke-width="0.45"/>
<path d="M441.0 335.0L443.6 337.6L441.0 340.2L438.4 337.6Z" fill="#bcdcf3" stroke="#8db8dc" stroke-width="0.45"/>
<path d="M443.5 335.0L446.1 337.6L443.5 340.2L440.9 337.6Z" fill="#bcdcf3" stroke="#8db8dc" stroke-width="0.45"/>
<path d="M446.0 335.0L448.6 337.6L446.0 340.2L443.4 337.6Z" fill="#bcdcf3" stroke="#8db8dc" stroke-width="0.45"/>
<path d="M448.5 335.0L451.1 337.6L448.5 340.2L445.9 337.6Z" fill="#bcdcf3" stroke="#8db8dc" stroke-width="0.45"/>
<path d="M451.0 335.0L453.6 337.6L451.0 340.2L448.4 337.6Z" fill="#bcdcf3" stroke="#8db8dc" stroke-width="0.45"/>
<path d="M453.5 335.0L456.1 337.6L453.5 340.2L450.9 337.6Z" fill="#bcdcf3" stroke="#8db8dc" stroke-width="0.45"/>
<path d="M433.5 342.4L436.1 345.0L433.5 347.6L430.9 345.0Z" fill="#bcdcf3" stroke="#8db8dc" stroke-width="0.45"/>
<path d="M436.0 342.4L438.6 345.0L436.0 347.6L433.4 345.0Z" fill="#bcdcf3" stroke="#8db8dc" stroke-width="0.45"/>
<path d="M438.5 342.4L441.1 345.0L438.5 347.6L435.9 345.0Z" fill="#bcdcf3" stroke="#8db8dc" stroke-width="0.45"/>
<path d="M441.0 342.4L443.6 345.0L441.0 347.6L438.4 345.0Z" fill="#bcdcf3" stroke="#8db8dc" stroke-width="0.45"/>
<path d="M242.5 287.4L245.1 290.0L242.5 292.6L239.9 290.0Z" fill="#bcd8b4" stroke="#98bf90" stroke-width="0.45"/>
<path d="M245.0 286.4L247.6 289.0L245.0 291.6L242.4 289.0Z" fill="#bcd8b4" stroke="#98bf90" stroke-width="0.45"/>
<path d="M249.0 288.4L251.6 291.0L249.0 293.6L246.4 291.0Z" fill="#bcd8b4" stroke="#98bf90" stroke-width="0.45"/>
<path d="M252.5 294.4L255.1 297.0L252.5 299.6L249.9 297.0Z" fill="#bcd8b4" stroke="#98bf90" stroke-width="0.45"/>
<path d="M244.0 293.9L246.6 296.5L244.0 299.1L241.4 296.5Z" fill="#bcd8b4" stroke="#98bf90" stroke-width="0.45"/>
<path d="M250.7 282.2L253.3 284.8L250.7 287.4L248.1 284.8Z" fill="#bcd8b4" stroke="#98bf90" stroke-width="0.45"/>
<path d="M262.0 298.4L264.6 301.0L262.0 303.6L259.4 301.0Z" fill="#bcd8b4" stroke="#98bf90" stroke-width="0.45"/>
<path d="M265.0 299.4L267.6 302.0L265.0 304.6L262.4 302.0Z" fill="#bcd8b4" stroke="#98bf90" stroke-width="0.45"/>
<path d="M268.0 299.9L270.6 302.5L268.0 305.1L265.4 302.5Z" fill="#bcd8b4" stroke="#98bf90" stroke-width="0.45"/>
<path d="M271.0 300.4L273.6 303.0L271.0 305.6L268.4 303.0Z" fill="#bcd8b4" stroke="#98bf90" stroke-width="0.45"/>
<path d="M274.0 301.4L276.6 304.0L274.0 306.6L271.4 304.0Z" fill="#bcd8b4" stroke="#98bf90" stroke-width="0.45"/>
<path d="M277.0 301.9L279.6 304.5L277.0 307.1L274.4 304.5Z" fill="#bcd8b4" stroke="#98bf90" stroke-width="0.45"/>
<path d="M283.3 309.9L285.9 312.5L283.3 315.1L280.7 312.5Z" fill="#bcd8b4" stroke="#98bf90" stroke-width="0.45"/>
<path d="M262.0 317.4L264.6 320.0L262.0 322.6L259.4 320.0Z" fill="#bcd8b4" stroke="#98bf90" stroke-width="0.45"/>
<path d="M267.0 317.9L269.6 320.5L267.0 323.1L264.4 320.5Z" fill="#bcd8b4" stroke="#98bf90" stroke-width="0.45"/>
<path d="M273.0 318.4L275.6 321.0L273.0 323.6L270.4 321.0Z" fill="#bcd8b4" stroke="#98bf90" stroke-width="0.45"/>
<path d="M281.0 319.4L283.6 322.0L281.0 324.6L278.4 322.0Z" fill="#bcd8b4" stroke="#98bf90" stroke-width="0.45"/>
<path d="M284.0 320.4L286.6 323.0L284.0 325.6L281.4 323.0Z" fill="#bcd8b4" stroke="#98bf90" stroke-width="0.45"/>
<path d="M287.0 321.4L289.6 324.0L287.0 326.6L284.4 324.0Z" fill="#bcd8b4" stroke="#98bf90" stroke-width="0.45"/>
<path d="M290.0 322.9L292.6 325.5L290.0 328.1L287.4 325.5Z" fill="#bcd8b4" stroke="#98bf90" stroke-width="0.45"/>
<path d="M282.8 329.4L285.4 332.0L282.8 334.6L280.2 332.0Z" fill="#bcd8b4" stroke="#98bf90" stroke-width="0.45"/>
<path d="M283.0 337.1L285.6 339.7L283.0 342.3L280.4 339.7Z" fill="#bcd8b4" stroke="#98bf90" stroke-width="0.45"/>
<path d="M286.0 337.9L288.6 340.5L286.0 343.1L283.4 340.5Z" fill="#bcd8b4" stroke="#98bf90" stroke-width="0.45"/>
<path d="M289.5 339.2L292.1 341.8L289.5 344.4L286.9 341.8Z" fill="#bcd8b4" stroke="#98bf90" stroke-width="0.45"/>
<path d="M280.5 303.4L283.1 306.0L280.5 308.6L277.9 306.0Z" fill="#bcd8b4" stroke="#98bf90" stroke-width="0.45"/>
<path d="M283.0 309.4L285.6 312.0L283.0 314.6L280.4 312.0Z" fill="#bcd8b4" stroke="#98bf90" stroke-width="0.45"/>
<path d="M284.3 314.3L286.9 316.9L284.3 319.5L281.7 316.9Z" fill="#bcd8b4" stroke="#98bf90" stroke-width="0.45"/>
<path d="M291.8 322.8L294.4 325.4L291.8 328.0L289.2 325.4Z" fill="#bcd8b4" stroke="#98bf90" stroke-width="0.45"/>
<path d="M295.0 322.9L297.6 325.5L295.0 328.1L292.4 325.5Z" fill="#bcd8b4" stroke="#98bf90" stroke-width="0.45"/>
<path d="M291.2 338.9L293.8 341.5L291.2 344.1L288.6 341.5Z" fill="#bcd8b4" stroke="#98bf90" stroke-width="0.45"/>
<path d="M292.4 342.4L295.0 345.0L292.4 347.6L289.8 345.0Z" fill="#bcd8b4" stroke="#98bf90" stroke-width="0.45"/>
<path d="M284.0 336.0L286.6 338.6L284.0 341.2L281.4 338.6Z" fill="#bcd8b4" stroke="#98bf90" stroke-width="0.45"/>
<path d="M171.5 332.0L174.1 334.6L171.5 337.2L168.9 334.6Z" fill="#b09ac0" stroke="#8a6fa0" stroke-width="0.45"/>
<path d="M181.2 332.0L183.8 334.6L181.2 337.2L178.6 334.6Z" fill="#b09ac0" stroke="#8a6fa0" stroke-width="0.45"/>
<path d="M200.4 330.1L203.0 332.7L200.4 335.3L197.8 332.7Z" fill="#b09ac0" stroke="#8a6fa0" stroke-width="0.45"/>
<path d="M201.0 330.3L203.6 332.9L201.0 335.5L198.4 332.9Z" fill="#b09ac0" stroke="#8a6fa0" stroke-width="0.45"/>
<path d="M209.0 322.4L211.6 325.0L209.0 327.6L206.4 325.0Z" fill="#b09ac0" stroke="#8a6fa0" stroke-width="0.45"/>
<path d="M211.0 321.9L213.6 324.5L211.0 327.1L208.4 324.5Z" fill="#b09ac0" stroke="#8a6fa0" stroke-width="0.45"/>
<path d="M219.0 321.9L221.6 324.5L219.0 327.1L216.4 324.5Z" fill="#b09ac0" stroke="#8a6fa0" stroke-width="0.45"/>
<path d="M221.5 322.4L224.1 325.0L221.5 327.6L218.9 325.0Z" fill="#b09ac0" stroke="#8a6fa0" stroke-width="0.45"/>
<path d="M228.0 320.9L230.6 323.5L228.0 326.1L225.4 323.5Z" fill="#b09ac0" stroke="#8a6fa0" stroke-width="0.45"/>
<path d="M229.8 303.7L232.4 306.3L229.8 308.9L227.2 306.3Z" fill="#b09ac0" stroke="#8a6fa0" stroke-width="0.45"/>
<path d="M233.8 305.4L236.4 308.0L233.8 310.6L231.2 308.0Z" fill="#b09ac0" stroke="#8a6fa0" stroke-width="0.45"/>
<path d="M232.0 307.4L234.6 310.0L232.0 312.6L229.4 310.0Z" fill="#b09ac0" stroke="#8a6fa0" stroke-width="0.45"/>
<path d="M237.9 299.1L240.5 301.7L237.9 304.3L235.3 301.7Z" fill="#b09ac0" stroke="#8a6fa0" stroke-width="0.45"/>
<path d="M245.4 300.9L248.0 303.5L245.4 306.1L242.8 303.5Z" fill="#b09ac0" stroke="#8a6fa0" stroke-width="0.45"/>
<path d="M250.0 301.4L252.6 304.0L250.0 306.6L247.4 304.0Z" fill="#b09ac0" stroke="#8a6fa0" stroke-width="0.45"/>
<path d="M244.0 303.4L246.6 306.0L244.0 308.6L241.4 306.0Z" fill="#b09ac0" stroke="#8a6fa0" stroke-width="0.45"/>
<path d="M238.2 299.1L240.8 301.7L238.2 304.3L235.6 301.7Z" fill="#b09ac0" stroke="#8a6fa0" stroke-width="0.45"/>
<path d="M264.8 282.2L267.4 284.8L264.8 287.4L262.2 284.8Z" fill="#f5d9b0" stroke="#e2b982" stroke-width="0.45"/>
<path d="M264.5 263.9L267.1 266.5L264.5 269.1L261.9 266.5Z" fill="#f5d9b0" stroke="#e2b982" stroke-width="0.45"/>
<path d="M269.5 264.9L272.1 267.5L269.5 270.1L266.9 267.5Z" fill="#f5d9b0" stroke="#e2b982" stroke-width="0.45"/>
<path d="M274.0 265.4L276.6 268.0L274.0 270.6L271.4 268.0Z" fill="#f5d9b0" stroke="#e2b982" stroke-width="0.45"/>
<path d="M278.0 265.7L280.6 268.3L278.0 270.9L275.4 268.3Z" fill="#f5d9b0" stroke="#e2b982" stroke-width="0.45"/>
<path d="M279.4 272.2L282.0 274.8L279.4 277.4L276.8 274.8Z" fill="#f5d9b0" stroke="#e2b982" stroke-width="0.45"/>
<path d="M265.0 282.8L267.6 285.4L265.0 288.0L262.4 285.4Z" fill="#f5d9b0" stroke="#e2b982" stroke-width="0.45"/>
<path d="M293.0 300.2L295.6 302.8L293.0 305.4L290.4 302.8Z" fill="#f5d9b0" stroke="#e2b982" stroke-width="0.45"/>
<path d="M270.6 244.2L273.2 246.8L270.6 249.4L268.0 246.8Z" fill="#f5d9b0" stroke="#e2b982" stroke-width="0.45"/>
<path d="M254.2 237.9L256.8 240.5L254.2 243.1L251.6 240.5Z" fill="#c99a8c" stroke="#a87868" stroke-width="0.45"/>
<path d="M257.8 226.6L260.4 229.2L257.8 231.8L255.2 229.2Z" fill="#e58796" stroke="#c86070" stroke-width="0.45"/>
<circle cx="72.7" cy="360.8" r="1.35" fill="#2f9ad0" stroke="#1a6fa0" stroke-width="0.4"/>
<circle cx="83.0" cy="361.3" r="1.35" fill="#2f9ad0" stroke="#1a6fa0" stroke-width="0.4"/>
<circle cx="86.5" cy="363.0" r="1.35" fill="#2f9ad0" stroke="#1a6fa0" stroke-width="0.4"/>
<circle cx="120.4" cy="350.6" r="1.35" fill="#2f9ad0" stroke="#1a6fa0" stroke-width="0.4"/>
<circle cx="125.4" cy="356.7" r="1.35" fill="#2f9ad0" stroke="#1a6fa0" stroke-width="0.4"/>
<circle cx="129.2" cy="352.9" r="1.35" fill="#2f9ad0" stroke="#1a6fa0" stroke-width="0.4"/>
<circle cx="132.1" cy="361.5" r="1.35" fill="#2f9ad0" stroke="#1a6fa0" stroke-width="0.4"/>
<circle cx="133.1" cy="345.2" r="1.35" fill="#2f9ad0" stroke="#1a6fa0" stroke-width="0.4"/>
<circle cx="176.3" cy="361.2" r="1.35" fill="#2f9ad0" stroke="#1a6fa0" stroke-width="0.4"/>
<circle cx="236.2" cy="330.6" r="1.35" fill="#2f9ad0" stroke="#1a6fa0" stroke-width="0.4"/>
<circle cx="244.8" cy="333.5" r="1.35" fill="#2f9ad0" stroke="#1a6fa0" stroke-width="0.4"/>
<circle cx="236.2" cy="338.0" r="1.35" fill="#2f9ad0" stroke="#1a6fa0" stroke-width="0.4"/>
<circle cx="255.0" cy="320.0" r="1.35" fill="#2f9ad0" stroke="#1a6fa0" stroke-width="0.4"/>
<circle cx="283.3" cy="354.8" r="1.35" fill="#2f9ad0" stroke="#1a6fa0" stroke-width="0.4"/>
<circle cx="289.8" cy="354.8" r="1.35" fill="#2f9ad0" stroke="#1a6fa0" stroke-width="0.4"/>
<circle cx="300.7" cy="361.8" r="1.35" fill="#2f9ad0" stroke="#1a6fa0" stroke-width="0.4"/>
<circle cx="311.5" cy="329.5" r="1.35" fill="#2f9ad0" stroke="#1a6fa0" stroke-width="0.4"/>
<circle cx="311.5" cy="332.2" r="1.35" fill="#2f9ad0" stroke="#1a6fa0" stroke-width="0.4"/>
<circle cx="311.5" cy="336.7" r="1.35" fill="#2f9ad0" stroke="#1a6fa0" stroke-width="0.4"/>
<circle cx="310.3" cy="348.6" r="1.35" fill="#2f9ad0" stroke="#1a6fa0" stroke-width="0.4"/>
<circle cx="310.0" cy="353.4" r="1.35" fill="#2f9ad0" stroke="#1a6fa0" stroke-width="0.4"/>
<circle cx="310.3" cy="360.6" r="1.35" fill="#2f9ad0" stroke="#1a6fa0" stroke-width="0.4"/>
<circle cx="326.4" cy="339.0" r="1.35" fill="#2f9ad0" stroke="#1a6fa0" stroke-width="0.4"/>
<circle cx="317.4" cy="343.9" r="1.35" fill="#2f9ad0" stroke="#1a6fa0" stroke-width="0.4"/>
<circle cx="322.2" cy="357.0" r="1.35" fill="#2f9ad0" stroke="#1a6fa0" stroke-width="0.4"/>
<circle cx="338.3" cy="344.5" r="1.35" fill="#2f9ad0" stroke="#1a6fa0" stroke-width="0.4"/>
<circle cx="365.7" cy="351.6" r="1.35" fill="#2f9ad0" stroke="#1a6fa0" stroke-width="0.4"/>
<circle cx="400.0" cy="354.0" r="1.35" fill="#2f9ad0" stroke="#1a6fa0" stroke-width="0.4"/>
<circle cx="402.5" cy="356.5" r="1.35" fill="#2f9ad0" stroke="#1a6fa0" stroke-width="0.4"/>
<circle cx="404.6" cy="354.5" r="1.35" fill="#2f9ad0" stroke="#1a6fa0" stroke-width="0.4"/>
<circle cx="417.3" cy="352.6" r="1.35" fill="#2f9ad0" stroke="#1a6fa0" stroke-width="0.4"/>
<circle cx="438.8" cy="339.7" r="1.35" fill="#2f9ad0" stroke="#1a6fa0" stroke-width="0.4"/>
<circle cx="457.7" cy="342.7" r="1.35" fill="#2f9ad0" stroke="#1a6fa0" stroke-width="0.4"/>
<circle cx="457.7" cy="345.2" r="1.35" fill="#2f9ad0" stroke="#1a6fa0" stroke-width="0.4"/>
<circle cx="467.0" cy="357.2" r="1.35" fill="#2f9ad0" stroke="#1a6fa0" stroke-width="0.4"/>
<circle cx="471.5" cy="360.5" r="1.35" fill="#2f9ad0" stroke="#1a6fa0" stroke-width="0.4"/>
<circle cx="243.5" cy="292.5" r="1.7" fill="#33a245" stroke="#1a7a2a" stroke-width="0.4"/>
<circle cx="246.5" cy="294.0" r="1.7" fill="#33a245" stroke="#1a7a2a" stroke-width="0.4"/>
<circle cx="251.0" cy="293.0" r="1.7" fill="#33a245" stroke="#1a7a2a" stroke-width="0.4"/>
<circle cx="248.0" cy="297.5" r="1.7" fill="#33a245" stroke="#1a7a2a" stroke-width="0.4"/>
<circle cx="259.4" cy="300.6" r="1.7" fill="#33a245" stroke="#1a7a2a" stroke-width="0.4"/>
<circle cx="278.5" cy="306.0" r="1.7" fill="#33a245" stroke="#1a7a2a" stroke-width="0.4"/>
<circle cx="264.0" cy="319.0" r="1.7" fill="#33a245" stroke="#1a7a2a" stroke-width="0.4"/>
<circle cx="281.0" cy="318.0" r="1.7" fill="#33a245" stroke="#1a7a2a" stroke-width="0.4"/>
<circle cx="281.0" cy="309.0" r="1.7" fill="#33a245" stroke="#1a7a2a" stroke-width="0.4"/>
<circle cx="282.0" cy="315.0" r="1.7" fill="#33a245" stroke="#1a7a2a" stroke-width="0.4"/>
<circle cx="293.0" cy="325.5" r="1.7" fill="#33a245" stroke="#1a7a2a" stroke-width="0.4"/>
<circle cx="159.0" cy="337.5" r="1.7" fill="#4a2266" stroke="#2a0e40" stroke-width="0.4"/>
<circle cx="163.8" cy="334.6" r="1.7" fill="#4a2266" stroke="#2a0e40" stroke-width="0.4"/>
<circle cx="185.0" cy="334.6" r="1.7" fill="#4a2266" stroke="#2a0e40" stroke-width="0.4"/>
<circle cx="208.0" cy="330.4" r="1.7" fill="#4a2266" stroke="#2a0e40" stroke-width="0.4"/>
<circle cx="216.3" cy="325.0" r="1.7" fill="#4a2266" stroke="#2a0e40" stroke-width="0.4"/>
<circle cx="224.0" cy="325.0" r="1.7" fill="#4a2266" stroke="#2a0e40" stroke-width="0.4"/>
<circle cx="226.3" cy="325.0" r="1.7" fill="#4a2266" stroke="#2a0e40" stroke-width="0.4"/>
<circle cx="230.4" cy="311.0" r="1.7" fill="#4a2266" stroke="#2a0e40" stroke-width="0.4"/>
<circle cx="231.5" cy="313.3" r="1.7" fill="#4a2266" stroke="#2a0e40" stroke-width="0.4"/>
<circle cx="229.2" cy="315.0" r="1.7" fill="#4a2266" stroke="#2a0e40" stroke-width="0.4"/>
<circle cx="237.7" cy="296.3" r="1.7" fill="#4a2266" stroke="#2a0e40" stroke-width="0.4"/>
<circle cx="242.5" cy="304.4" r="1.7" fill="#4a2266" stroke="#2a0e40" stroke-width="0.4"/>
<circle cx="247.0" cy="305.2" r="1.7" fill="#4a2266" stroke="#2a0e40" stroke-width="0.4"/>
<circle cx="252.0" cy="306.5" r="1.7" fill="#4a2266" stroke="#2a0e40" stroke-width="0.4"/>
<circle cx="277.2" cy="338.0" r="1.7" fill="#4a2266" stroke="#2a0e40" stroke-width="0.4"/>
<circle cx="295.2" cy="356.2" r="1.7" fill="#4a2266" stroke="#2a0e40" stroke-width="0.4"/>
<circle cx="262.1" cy="266.1" r="1.7" fill="#eb9c28" stroke="#c47c18" stroke-width="0.4"/>
<circle cx="267.1" cy="267.6" r="1.7" fill="#eb9c28" stroke="#c47c18" stroke-width="0.4"/>
<circle cx="271.8" cy="268.0" r="1.7" fill="#eb9c28" stroke="#c47c18" stroke-width="0.4"/>
<circle cx="276.2" cy="268.0" r="1.7" fill="#eb9c28" stroke="#c47c18" stroke-width="0.4"/>
<circle cx="259.0" cy="294.8" r="1.7" fill="#eb9c28" stroke="#c47c18" stroke-width="0.4"/>
<circle cx="281.5" cy="294.1" r="1.7" fill="#eb9c28" stroke="#c47c18" stroke-width="0.4"/>
<circle cx="254.9" cy="230.2" r="1.7" fill="#b01c38" stroke="#800a20" stroke-width="0.4"/>
</g>
<rect x="436.6" y="267.9" width="40.2" height="56.6" fill="#fff" stroke="#555" stroke-width="0.8"/>
<path d="M443 269.9L445 272L443 274.1L440.9 272Z" fill="#e7d2d2"/>
<text x="448.4" y="274.1" font-size="5.6" fill="#333" textLength="19.6" lengthAdjust="spacingAndGlyphs">Imputed</text>
<circle cx="443" cy="280.2" r="1.4" fill="#111"/>
<text x="448.4" y="282.2" font-size="5.6" fill="#333" textLength="26.7" lengthAdjust="spacingAndGlyphs">Genotyped</text>
<rect x="440.3" y="285.3" width="5.4" height="5.4" fill="#6cc4ef" stroke="#3a8fc8" stroke-width="0.7"/>
<text x="448.6" y="290.1" font-size="5.8" fill="#333"><tspan font-style="italic">r</tspan><tspan font-size="3.8" dy="-2.2">2</tspan><tspan dy="2.2"> ≤ 0.2</tspan></text>
<rect x="440.3" y="293.1" width="5.4" height="5.4" fill="#6d3c8c" stroke="#3b1850" stroke-width="0.7"/>
<text x="448.6" y="297.9" font-size="5.8" fill="#333"><tspan font-style="italic">r</tspan><tspan font-size="3.8" dy="-2.2">2</tspan><tspan dy="2.2"> ≤ 0.4</tspan></text>
<rect x="440.3" y="300.9" width="5.4" height="5.4" fill="#5bbb5f" stroke="#2e8a3a" stroke-width="0.7"/>
<text x="448.6" y="305.7" font-size="5.8" fill="#333"><tspan font-style="italic">r</tspan><tspan font-size="3.8" dy="-2.2">2</tspan><tspan dy="2.2"> ≤ 0.6</tspan></text>
<rect x="440.3" y="308.7" width="5.4" height="5.4" fill="#f6b24a" stroke="#e0902a" stroke-width="0.7"/>
<text x="448.6" y="313.5" font-size="5.8" fill="#333"><tspan font-style="italic">r</tspan><tspan font-size="3.8" dy="-2.2">2</tspan><tspan dy="2.2"> ≤ 0.8</tspan></text>
<rect x="440.3" y="316.5" width="5.4" height="5.4" fill="#e24b63" stroke="#8a1a2a" stroke-width="0.7"/>
<text x="448.6" y="321.3" font-size="5.8" fill="#333"><tspan font-style="italic">r</tspan><tspan font-size="3.8" dy="-2.2">2</tspan><tspan dy="2.2"> ≤ 1.0</tspan></text>
<rect x="36.0" y="379.80" width="39.9" height="1.25" fill="#000"/>
<text x="46.7" y="385.0" font-size="4.2" fill="#484848" textLength="12.9" lengthAdjust="spacingAndGlyphs">CDK12</text>
<rect x="91.5" y="379.80" width="4.1" height="1.25" fill="#000"/>
<text x="86.4" y="385.0" font-size="4.2" fill="#484848" textLength="19.6" lengthAdjust="spacingAndGlyphs">NEUROD2</text>
<rect x="118.2" y="379.80" width="2.4" height="1.25" fill="#000"/>
<text x="111.9" y="385.0" font-size="4.2" fill="#484848" textLength="8.5" lengthAdjust="spacingAndGlyphs">TCAP</text>
<rect x="129.2" y="379.80" width="19.7" height="1.25" fill="#000"/>
<text x="128.8" y="385.0" font-size="4.2" fill="#484848" textLength="15.1" lengthAdjust="spacingAndGlyphs">ERBB2</text>
<rect x="162.9" y="379.80" width="51.1" height="1.25" fill="#000"/>
<text x="182.5" y="385.0" font-size="4.2" fill="#484848" textLength="9.6" lengthAdjust="spacingAndGlyphs">IKZF3</text>
<rect x="208.0" y="379.80" width="6.0" height="1.25" fill="#000"/>
<text x="202.4" y="385.0" font-size="4.2" fill="#484848" textLength="11.4" lengthAdjust="spacingAndGlyphs">ZPBP2</text>
<rect x="232.6" y="379.80" width="3.1" height="1.25" fill="#000"/>
<text x="226.1" y="385.0" font-size="4.2" fill="#484848" textLength="19.7" lengthAdjust="spacingAndGlyphs">ORMDL3</text>
<rect x="258.3" y="379.80" width="8.7" height="1.25" fill="#000"/>
<text x="253.0" y="385.0" font-size="4.2" fill="#484848" textLength="14.7" lengthAdjust="spacingAndGlyphs">PSMD3</text>
<rect x="275.0" y="379.80" width="20.0" height="1.25" fill="#000"/>
<text x="281.4" y="385.0" font-size="4.2" fill="#484848" textLength="13.6" lengthAdjust="spacingAndGlyphs">MED24</text>
<rect x="307.1" y="379.80" width="5.8" height="1.25" fill="#000"/>
<text x="305.4" y="385.0" font-size="4.2" fill="#484848" textLength="13.8" lengthAdjust="spacingAndGlyphs">NR1D1</text>
<rect x="329.0" y="379.80" width="15.4" height="1.25" fill="#000"/>
<text x="327.3" y="385.0" font-size="4.2" fill="#484848" textLength="13.3" lengthAdjust="spacingAndGlyphs">CASC3</text>
<rect x="363.1" y="379.80" width="39.2" height="1.25" fill="#000"/>
<text x="370.0" y="385.0" font-size="4.2" fill="#484848" textLength="11.9" lengthAdjust="spacingAndGlyphs">WIPF2</text>
<text x="389.2" y="385.0" font-size="4.2" fill="#484848" textLength="11.6" lengthAdjust="spacingAndGlyphs">CDC6</text>
<rect x="403.8" y="379.80" width="21.6" height="1.25" fill="#000"/>
<text x="406.9" y="385.0" font-size="4.2" fill="#484848" textLength="11.1" lengthAdjust="spacingAndGlyphs">RARA</text>
<rect x="438.5" y="379.80" width="13.6" height="1.25" fill="#000"/>
<text x="441.1" y="385.0" font-size="4.2" fill="#484848" textLength="15.4" lengthAdjust="spacingAndGlyphs">TOP2A</text>
<rect x="462.3" y="379.80" width="7.4" height="1.25" fill="#000"/>
<text x="457.5" y="385.0" font-size="4.2" fill="#484848" textLength="13.1" lengthAdjust="spacingAndGlyphs">IGFBP4</text>
<rect x="37.5" y="386.30" width="2.4" height="1.4" fill="#000"/>
<text x="29.5" y="391.6" font-size="4.2" fill="#484848" textLength="23.1" lengthAdjust="spacingAndGlyphs">RNU6-981P</text>
<rect x="98.5" y="386.40" width="2.8" height="1.25" fill="#000"/>
<text x="85.8" y="391.6" font-size="4.2" fill="#484848" textLength="22.7" lengthAdjust="spacingAndGlyphs">AC087491.2</text>
<rect x="121.5" y="386.40" width="9.2" height="1.25" fill="#000"/>
<text x="124.3" y="391.6" font-size="4.2" fill="#484848" textLength="12.6" lengthAdjust="spacingAndGlyphs">PGAP3</text>
<rect x="147.5" y="386.40" width="1.9" height="1.25" fill="#000"/>
<text x="144.0" y="391.6" font-size="4.2" fill="#484848" textLength="12.2" lengthAdjust="spacingAndGlyphs">MIEN1</text>
<rect x="193.2" y="386.30" width="2.4" height="1.4" fill="#000"/>
<text x="188.7" y="391.6" font-size="4.2" fill="#484848" textLength="16.9" lengthAdjust="spacingAndGlyphs">KRT8P34</text>
<rect x="225.2" y="386.40" width="7.4" height="1.25" fill="#000"/>
<text x="223.5" y="391.6" font-size="4.2" fill="#484848" textLength="15.2" lengthAdjust="spacingAndGlyphs">GSDMB</text>
<rect x="250.8" y="386.40" width="6.9" height="1.25" fill="#000"/>
<text x="243.8" y="391.6" font-size="4.2" fill="#484848" textLength="15.8" lengthAdjust="spacingAndGlyphs">GSDMA</text>
<rect x="273.6" y="386.40" width="2.0" height="1.25" fill="#000"/>
<text x="267.0" y="391.6" font-size="4.2" fill="#484848" textLength="10.5" lengthAdjust="spacingAndGlyphs">CSF3</text>
<rect x="292.1" y="386.40" width="17.9" height="1.25" fill="#000"/>
<text x="293.3" y="391.6" font-size="4.2" fill="#484848" textLength="10.5" lengthAdjust="spacingAndGlyphs">THRA</text>
<rect x="320.4" y="386.40" width="8.1" height="1.25" fill="#000"/>
<text x="316.3" y="391.6" font-size="4.2" fill="#484848" textLength="11.7" lengthAdjust="spacingAndGlyphs">MSL1</text>
<rect x="345.0" y="386.40" width="9.8" height="1.25" fill="#000"/>
<text x="336.3" y="391.6" font-size="4.2" fill="#484848" textLength="21.6" lengthAdjust="spacingAndGlyphs">RAPGEFL1</text>
<rect x="373.8" y="386.30" width="2.4" height="1.4" fill="#000"/>
<text x="364.0" y="391.6" font-size="4.2" fill="#484848" textLength="15.6" lengthAdjust="spacingAndGlyphs">RNY4P8</text>
<rect x="417.3" y="386.30" width="2.4" height="1.4" fill="#000"/>
<text x="406.0" y="391.6" font-size="4.2" fill="#484848" textLength="30.2" lengthAdjust="spacingAndGlyphs">CTD-2267D19.2</text>
<rect x="460.0" y="386.30" width="2.4" height="1.4" fill="#000"/>
<text x="452.1" y="391.6" font-size="4.2" fill="#484848" textLength="24.1" lengthAdjust="spacingAndGlyphs">RP11-580I16.1</text>
<rect x="65.7" y="392.70" width="2.4" height="1.4" fill="#000"/>
<text x="58.2" y="398.0" font-size="4.2" fill="#484848" textLength="22.6" lengthAdjust="spacingAndGlyphs">RNU6-230P</text>
<rect x="101.3" y="392.80" width="6.4" height="1.25" fill="#000"/>
<text x="92.7" y="398.0" font-size="4.2" fill="#484848" textLength="16.9" lengthAdjust="spacingAndGlyphs">PPP1R1B</text>
<rect x="145.3" y="392.70" width="2.4" height="1.4" fill="#000"/>
<text x="135.8" y="398.0" font-size="4.2" fill="#484848" textLength="16.9" lengthAdjust="spacingAndGlyphs">MIR4728</text>
<rect x="195.0" y="392.70" width="2.4" height="1.4" fill="#000"/>
<text x="187.5" y="398.0" font-size="4.2" fill="#484848" textLength="23.7" lengthAdjust="spacingAndGlyphs">AC079199.2</text>
<rect x="234.8" y="392.80" width="6.7" height="1.25" fill="#000"/>
<text x="221.0" y="398.0" font-size="4.2" fill="#484848" textLength="25.3" lengthAdjust="spacingAndGlyphs">RP11-387H17.4</text>
<rect x="278.4" y="392.70" width="2.4" height="1.4" fill="#000"/>
<text x="271.0" y="398.0" font-size="4.2" fill="#484848" textLength="21.7" lengthAdjust="spacingAndGlyphs">SNORD124</text>
<rect x="332.1" y="392.70" width="2.4" height="1.4" fill="#000"/>
<text x="319.2" y="398.0" font-size="4.2" fill="#484848" textLength="23.7" lengthAdjust="spacingAndGlyphs">AC068669.1</text>
<rect x="400.0" y="392.70" width="2.4" height="1.4" fill="#000"/>
<text x="383.8" y="398.0" font-size="4.2" fill="#484848" textLength="30.4" lengthAdjust="spacingAndGlyphs">CTD-2267D19.6</text>
<rect x="438.6" y="392.70" width="2.4" height="1.4" fill="#000"/>
<text x="436.5" y="398.0" font-size="4.2" fill="#484848" textLength="13.0" lengthAdjust="spacingAndGlyphs">Y_RNA</text>
<rect x="476.3" y="392.70" width="2.4" height="1.4" fill="#000"/>
<text x="475.5" y="398.0" font-size="4.2" fill="#484848" textLength="9.8" lengthAdjust="spacingAndGlyphs">TNS4</text>
<rect x="106.0" y="399.30" width="13.2" height="1.25" fill="#000"/>
<text x="102.5" y="404.5" font-size="4.2" fill="#484848" textLength="15.2" lengthAdjust="spacingAndGlyphs">STARD3</text>
<rect x="151.3" y="399.30" width="5.8" height="1.25" fill="#000"/>
<text x="145.0" y="404.5" font-size="4.2" fill="#484848" textLength="12.3" lengthAdjust="spacingAndGlyphs">GRB7</text>
<rect x="241.5" y="399.30" width="2.3" height="1.25" fill="#000"/>
<text x="231.2" y="404.5" font-size="4.2" fill="#484848" textLength="15.8" lengthAdjust="spacingAndGlyphs">LRRC3C</text>
<rect x="272.1" y="399.20" width="2.4" height="1.4" fill="#000"/>
<text x="260.6" y="404.5" font-size="4.2" fill="#484848" textLength="30.4" lengthAdjust="spacingAndGlyphs">RP11-387H17.6</text>
<rect x="426.3" y="399.20" width="2.4" height="1.4" fill="#000"/>
<text x="410.0" y="404.5" font-size="4.2" fill="#484848" textLength="30.0" lengthAdjust="spacingAndGlyphs">CTD-2267D19.3</text>
<rect x="119.8" y="405.80" width="3.5" height="1.25" fill="#000"/>
<text x="112.9" y="411.0" font-size="4.2" fill="#484848" textLength="11.7" lengthAdjust="spacingAndGlyphs">PNMT</text>
<rect x="160.0" y="405.80" width="4.0" height="1.25" fill="#000"/>
<text x="151.4" y="411.0" font-size="4.2" fill="#484848" textLength="25.9" lengthAdjust="spacingAndGlyphs">RP11-94L15.2</text>
<rect x="426.3" y="405.70" width="2.4" height="1.4" fill="#000"/>
<text x="424.9" y="411.0" font-size="4.2" fill="#484848" textLength="10.4" lengthAdjust="spacingAndGlyphs">GJD3</text>
<rect x="428.9" y="412.20" width="2.4" height="1.4" fill="#000"/>
<text x="411.9" y="417.5" font-size="4.2" fill="#484848" textLength="30.7" lengthAdjust="spacingAndGlyphs">CTD-2267D19.4</text>
<rect x="430.9" y="418.70" width="2.4" height="1.4" fill="#000"/>
<text x="418.4" y="424.0" font-size="4.2" fill="#484848" textLength="23.5" lengthAdjust="spacingAndGlyphs">RNA5SP441</text>
<path d="M60.8 383.4h3.6M63.3 382.5l1.1 0.9l-1.1 0.9M85.0 383.4h-3.6M82.5 382.5l-1.1 0.9l1.1 0.9M121.6 383.4h3.6M124.1 382.5l1.1 0.9l-1.1 0.9M145.1 383.4h3.6M147.6 382.5l1.1 0.9l-1.1 0.9M181.1 383.4h-3.6M178.6 382.5l-1.1 0.9l1.1 0.9M215.0 383.4h3.6M217.5 382.5l1.1 0.9l-1.1 0.9M224.7 383.4h-3.6M222.2 382.5l-1.1 0.9l1.1 0.9M268.9 383.4h3.6M271.4 382.5l1.1 0.9l-1.1 0.9M280.0 383.4h-3.6M277.5 382.5l-1.1 0.9l1.1 0.9M304.0 383.4h-3.6M301.5 382.5l-1.1 0.9l1.1 0.9M341.8 383.4h3.6M344.3 382.5l1.1 0.9l-1.1 0.9M383.1 383.4h3.6M385.6 382.5l1.1 0.9l-1.1 0.9M406.1 383.4h-3.6M403.6 382.5l-1.1 0.9l1.1 0.9M419.2 383.4h3.6M421.7 382.5l1.1 0.9l-1.1 0.9M439.7 383.4h-3.6M437.2 382.5l-1.1 0.9l1.1 0.9M471.8 383.4h3.6M474.3 382.5l1.1 0.9l-1.1 0.9M28.1 390.0h-3.6M25.6 389.1l-1.1 0.9l1.1 0.9M109.7 390.0h3.6M112.2 389.1l1.1 0.9l-1.1 0.9M122.9 390.0h-3.6M120.4 389.1l-1.1 0.9l1.1 0.9M142.6 390.0h-3.6M140.1 389.1l-1.1 0.9l1.1 0.9M187.3 390.0h-3.6M184.8 389.1l-1.1 0.9l1.1 0.9M222.1 390.0h-3.6M219.6 389.1l-1.1 0.9l1.1 0.9M260.8 390.0h3.6M263.3 389.1l1.1 0.9l-1.1 0.9M278.7 390.0h3.6M281.2 389.1l1.1 0.9l-1.1 0.9M305.0 390.0h3.6M307.5 389.1l1.1 0.9l-1.1 0.9M329.2 390.0h3.6M331.7 389.1l1.1 0.9l-1.1 0.9M359.1 390.0h3.6M361.6 389.1l1.1 0.9l-1.1 0.9M380.8 390.0h3.6M383.3 389.1l1.1 0.9l-1.1 0.9M404.6 390.0h-3.6M402.1 389.1l-1.1 0.9l1.1 0.9M450.7 390.0h-3.6M448.2 389.1l-1.1 0.9l1.1 0.9M56.8 396.4h-3.6M54.3 395.5l-1.1 0.9l1.1 0.9M110.8 396.4h3.6M113.3 395.5l1.1 0.9l-1.1 0.9M153.9 396.4h3.6M156.4 395.5l1.1 0.9l-1.1 0.9M186.1 396.4h-3.6M183.6 395.5l-1.1 0.9l1.1 0.9M247.5 396.4h3.6M250.0 395.5l1.1 0.9l-1.1 0.9M269.6 396.4h-3.6M267.1 395.5l-1.1 0.9l1.1 0.9M344.1 396.4h3.6M346.6 395.5l1.1 0.9l-1.1 0.9M415.4 396.4h3.6M417.9 395.5l1.1 0.9l-1.1 0.9M435.1 396.4h-3.6M432.6 395.5l-1.1 0.9l1.1 0.9M474.1 396.4h-3.6M471.6 395.5l-1.1 0.9l1.1 0.9M118.9 402.9h3.6M121.4 402.0l1.1 0.9l-1.1 0.9M158.5 402.9h3.6M161.0 402.0l1.1 0.9l-1.1 0.9M248.2 402.9h3.6M250.7 402.0l1.1 0.9l-1.1 0.9M259.2 402.9h-3.6M256.7 402.0l-1.1 0.9l1.1 0.9M441.2 402.9h3.6M443.7 402.0l1.1 0.9l-1.1 0.9M125.8 409.4h3.6M128.3 408.5l1.1 0.9l-1.1 0.9M150.0 409.4h-3.6M147.5 408.5l-1.1 0.9l1.1 0.9M423.5 409.4h-3.6M421.0 408.5l-1.1 0.9l1.1 0.9M443.8 415.9h3.6M446.3 415.0l1.1 0.9l-1.1 0.9M443.1 422.4h3.6M445.6 421.5l1.1 0.9l-1.1 0.9" fill="none" stroke="#666" stroke-width="0.55"/>
</svg>
<div class="frame"></div>
</body></html>
